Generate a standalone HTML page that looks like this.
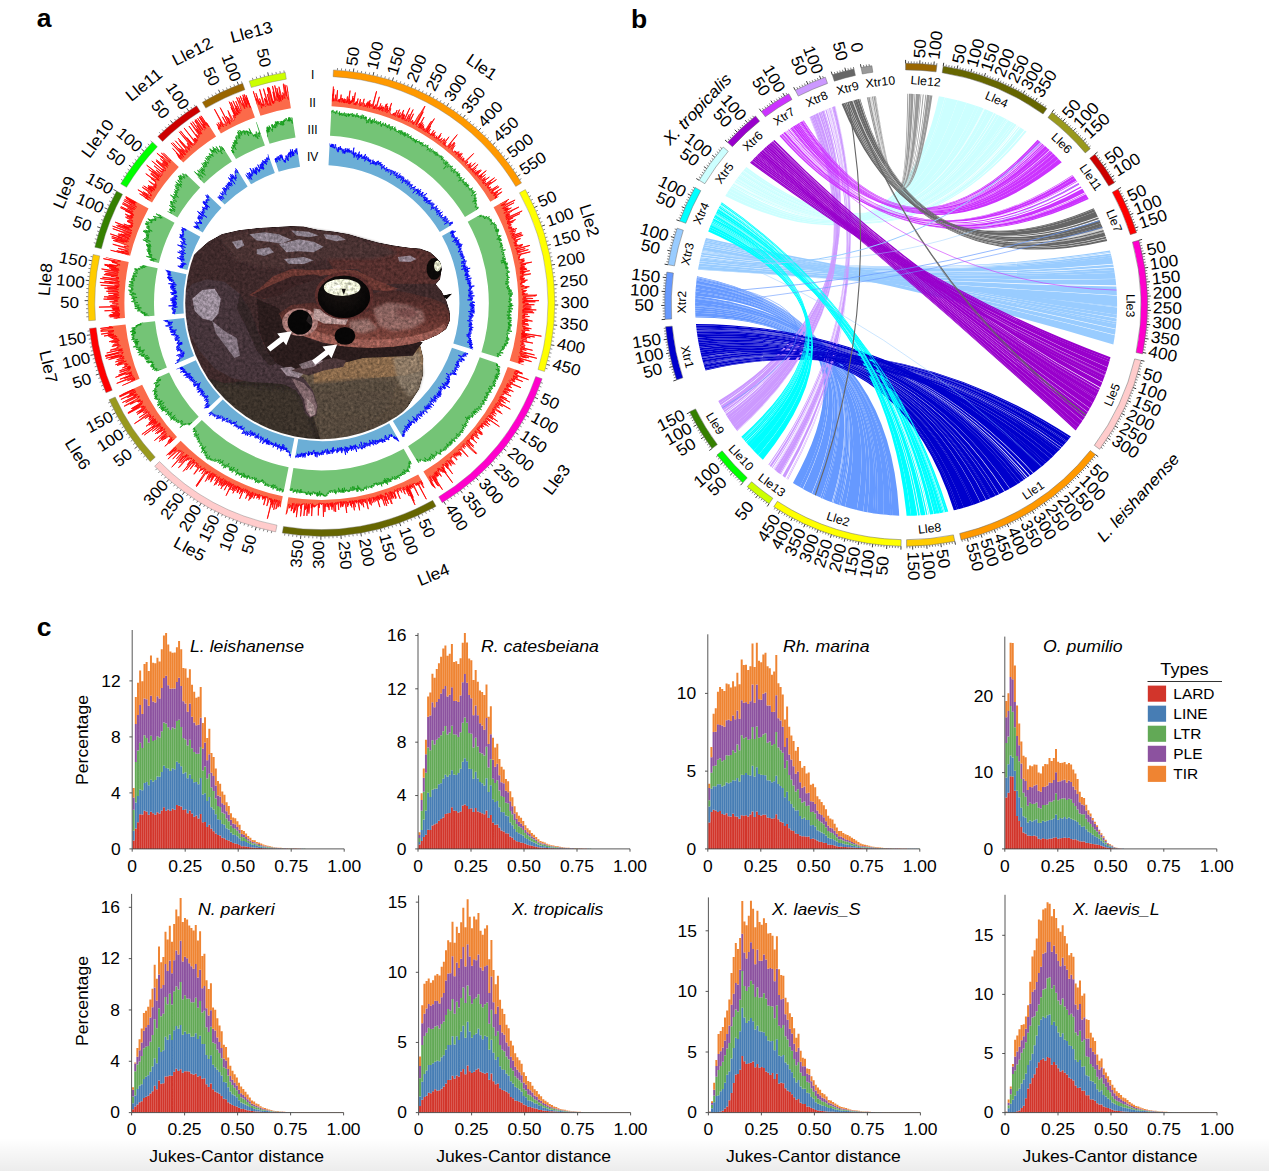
<!DOCTYPE html>
<html><head><meta charset="utf-8"><title>Figure</title>
<style>html,body{margin:0;padding:0;background:#fff}svg{display:block}text{font-family:"Liberation Sans",sans-serif}</style>
</head><body>
<svg width="1269" height="1171" viewBox="0 0 1269 1171">
<defs><linearGradient id="botg" x1="0" y1="0" x2="0" y2="1"><stop offset="0" stop-color="#000" stop-opacity="0"/><stop offset="1" stop-color="#000" stop-opacity="0.075"/></linearGradient></defs>
<rect width="1269" height="1171" fill="#fff"/>
<g font-family="Liberation Sans, sans-serif" fill="#000">
<g><path d="M734.51 182A211 211 0 0 1 735.29 180.93Q901.69 283.25 1014.56 123.81A211 211 0 0 1 1016.57 125.03Q901.74 283.24 734.51 182Z" fill="#CCFFFF"/><path d="M737.08 178.5A211 211 0 0 1 737.53 177.9Q901.33 283.32 1005.15 118.49A211 211 0 0 1 1006.84 119.4Q901.39 283.31 737.08 178.5Z" fill="#CCFFFF"/><path d="M735.37 180.82A211 211 0 0 1 735.83 180.19Q901.62 283.26 1012.52 122.61A211 211 0 0 1 1014.3 123.65Q901.68 283.25 735.37 180.82Z" fill="#CCFFFF"/><path d="M726.98 193.27A211 211 0 0 1 728.66 190.62Q898.02 284.34 957.63 100.19A211 211 0 0 1 966.6 102.66Q898.32 284.22 726.98 193.27Z" fill="#CCFFFF"/><path d="M742.29 171.81A211 211 0 0 1 743.03 170.9Q900.64 283.49 984.77 109.01A211 211 0 0 1 988.46 110.54Q900.79 283.45 742.29 171.81Z" fill="#CCFFFF"/><path d="M743.42 170.43A211 211 0 0 1 745.13 168.38Q900.5 283.53 978.99 106.79A211 211 0 0 1 983.57 108.54Q900.61 283.5 743.42 170.43Z" fill="#CCFFFF"/><path d="M738.87 176.13A211 211 0 0 1 739.78 174.96Q901.03 283.39 996.47 114.13A211 211 0 0 1 999.14 115.42Q901.1 283.38 738.87 176.13Z" fill="#CCFFFF"/><path d="M734.12 182.55A211 211 0 0 1 734.32 182.27Q901.76 283.23 1017.18 125.41A211 211 0 0 1 1017.84 125.81Q901.79 283.23 734.12 182.55Z" fill="#CCFFFF"/><path d="M735.85 180.15A211 211 0 0 1 736.77 178.91Q901.44 283.3 1008.16 120.13A211 211 0 0 1 1012.44 122.56Q901.62 283.26 735.85 180.15Z" fill="#CCFFFF"/><path d="M733.63 183.25A211 211 0 0 1 733.88 182.89Q901.82 283.22 1018.74 126.38A211 211 0 0 1 1019.88 127.11Q901.87 283.21 733.63 183.25Z" fill="#CCFFFF"/><path d="M730.31 188.09A211 211 0 0 1 730.73 187.47Q897.57 284.52 944.79 97.38A211 211 0 0 1 946.55 97.71Q897.62 284.5 730.31 188.09Z" fill="#CCFFFF"/><path d="M731.93 185.69A211 211 0 0 1 732.4 185.01Q902.07 283.17 1024.92 130.43A211 211 0 0 1 1026.56 131.57Q902.12 283.16 731.93 185.69Z" fill="#CCFFFF"/><path d="M728.68 190.6A211 211 0 0 1 730.35 188.04Q897.61 284.5 946.37 97.68A211 211 0 0 1 957.56 100.17Q898.02 284.34 728.68 190.6Z" fill="#CCFFFF"/><path d="M740.75 173.73A211 211 0 0 1 742.29 171.8Q900.79 283.45 988.47 110.54A211 211 0 0 1 993.67 112.83Q900.95 283.41 740.75 173.73Z" fill="#CCFFFF"/><path d="M702.34 250.02A211 211 0 0 1 703.19 246.94Q910.72 283.29 1114.87 335.37A211 211 0 0 1 1113.35 344.43Q911.03 283.36 702.34 250.02Z" fill="#99CCFF"/><path d="M730.73 187.47A211 211 0 0 1 731.75 185.96Q897.36 284.61 938.85 96.36A211 211 0 0 1 944.77 97.37Q897.56 284.52 730.73 187.47Z" fill="#CCFFFF"/><path d="M739.93 174.77A211 211 0 0 1 740.6 173.92Q900.96 283.41 994.1 113.03A211 211 0 0 1 996.05 113.93Q901.02 283.4 739.93 174.77Z" fill="#CCFFFF"/><path d="M743.18 170.72A211 211 0 0 1 743.32 170.55Q900.62 283.49 983.87 108.66A211 211 0 0 1 984.29 108.82Q900.63 283.49 743.18 170.72Z" fill="#CCFFFF"/><path d="M703.24 246.76A211 211 0 0 1 703.74 245.04Q910.51 283.25 1115.67 329.34A211 211 0 0 1 1114.96 334.79Q910.7 283.29 703.24 246.76Z" fill="#99CCFF"/><path d="M700.31 258.22A211 211 0 0 1 700.55 257.13Q906.66 282.81 1113.81 267.7A211 211 0 0 1 1114.23 270.12Q906.73 282.81 700.31 258.22Z" fill="#99CCFF"/><path d="M732.59 184.74A211 211 0 0 1 733.52 183.41Q901.89 283.21 1020.37 127.42A211 211 0 0 1 1024.26 129.99Q902.04 283.18 732.59 184.74Z" fill="#CCFFFF"/><path d="M737.54 177.89A211 211 0 0 1 738.86 176.14Q901.11 283.37 999.2 115.45A211 211 0 0 1 1005.09 118.46Q901.33 283.32 737.54 177.89Z" fill="#CCFFFF"/><path d="M698.12 269.22A211 211 0 0 1 698.68 266.1Q907.66 282.86 1116.91 295.79A211 211 0 0 1 1117.09 306.45Q908.05 282.89 698.12 269.22Z" fill="#99CCFF"/><path d="M736.81 178.86A211 211 0 0 1 737.04 178.54Q901.4 283.31 1007 119.49A211 211 0 0 1 1008 120.04Q901.44 283.3 736.81 178.86Z" fill="#CCFFFF"/><path d="M745.07 168.46A211 211 0 0 1 746.36 166.95Q900.42 283.55 975.79 105.64A211 211 0 0 1 979.17 106.86Q900.5 283.52 745.07 168.46Z" fill="#CCFFFF"/><path d="M698.04 269.7A211 211 0 0 1 698.11 269.28Q908.05 282.89 1117.09 306.52A211 211 0 0 1 1117.09 307.26Q908.06 282.89 698.04 269.7Z" fill="#99CCFF"/><path d="M700.02 259.51A211 211 0 0 1 700.33 258.13Q906.73 282.81 1114.2 269.94A211 211 0 0 1 1114.66 272.83Q906.81 282.81 700.02 259.51Z" fill="#99CCFF"/><path d="M702.14 250.74A211 211 0 0 1 702.36 249.93Q906.13 282.8 1109.98 250.46A211 211 0 0 1 1110.31 251.72Q906.15 282.8 702.14 250.74Z" fill="#99CCFF"/><path d="M695.46 292.51A211 211 0 0 1 695.53 291.32Q886.76 315.29 802.65 488.7A211 211 0 0 1 799.73 487.03Q886.71 315.19 695.46 292.51Z" fill="#6699FF"/><path d="M695.49 317.56A211 211 0 0 1 695.41 316.22Q888.8 318.39 845.01 506.76A211 211 0 0 1 840.58 505.37Q888.69 318.25 695.49 317.56Z" fill="#6699FF"/><path d="M695.21 298.08A211 211 0 0 1 695.29 295.73Q889.97 319.76 899.2 515.69A211 211 0 0 1 892.17 515.34Q889.8 319.58 695.21 298.08Z" fill="#6699FF"/><path d="M696.09 284.35A211 211 0 0 1 696.15 283.81Q887.13 315.94 822.22 498.41A211 211 0 0 1 820.49 497.65Q887.1 315.88 696.09 284.35Z" fill="#6699FF"/><path d="M698.71 265.92A211 211 0 0 1 699.17 263.53Q907.31 282.83 1116.31 286.59A211 211 0 0 1 1116.88 295.15Q907.63 282.85 698.71 265.92Z" fill="#99CCFF"/><path d="M725.3 196.03A211 211 0 0 1 726.97 193.29Q898.32 284.22 966.67 102.68A211 211 0 0 1 975.97 105.7Q898.64 284.1 725.3 196.03Z" fill="#CCFFFF"/><path d="M696.21 283.16A211 211 0 0 1 696.5 280.55Q887.32 316.26 831.74 502.26A211 211 0 0 1 823.51 498.96Q887.15 315.98 696.21 283.16Z" fill="#6699FF"/><path d="M704.17 243.59A211 211 0 0 1 704.42 242.78Q910.26 283.2 1116.39 322.08A211 211 0 0 1 1116.22 324.08Q910.32 283.21 704.17 243.59Z" fill="#99CCFF"/><path d="M699.67 261.11A211 211 0 0 1 700.03 259.44Q906.8 282.81 1114.64 272.65A211 211 0 0 1 1115.48 278.7Q907.03 282.82 699.67 261.11Z" fill="#99CCFF"/><path d="M699.25 263.17A211 211 0 0 1 699.65 261.24Q907.04 282.82 1115.53 279.11A211 211 0 0 1 1116.2 285.35Q907.27 282.83 699.25 263.17Z" fill="#99CCFF"/><path d="M696.52 280.37A211 211 0 0 1 696.56 280.06Q887.34 316.29 832.86 502.68A211 211 0 0 1 832.13 502.41Q887.32 316.27 696.52 280.37Z" fill="#6699FF"/><path d="M695.13 308.33A211 211 0 0 1 695.1 306.25Q889.41 319.14 872.89 513.17A211 211 0 0 1 867.39 512.22Q889.3 319 695.13 308.33Z" fill="#6699FF"/><path d="M695.84 287.14A211 211 0 0 1 696.09 284.36Q887.09 315.88 820.42 497.62A211 211 0 0 1 814.83 495.04Q887.01 315.73 695.84 287.14Z" fill="#6699FF"/><path d="M703.79 244.86A211 211 0 0 1 704.19 243.52Q910.31 283.21 1116.23 323.9A211 211 0 0 1 1115.74 328.76Q910.49 283.24 703.79 244.86Z" fill="#99CCFF"/><path d="M704.46 242.64A211 211 0 0 1 704.95 241.07Q910.16 283.18 1116.66 318.38A211 211 0 0 1 1116.41 321.8Q910.25 283.2 704.46 242.64Z" fill="#99CCFF"/><path d="M696.57 279.89A211 211 0 0 1 696.66 279.21Q887.37 316.34 834.68 503.35A211 211 0 0 1 833.26 502.83Q887.34 316.3 696.57 279.89Z" fill="#6699FF"/><path d="M705.36 239.8A211 211 0 0 1 705.99 237.89Q909.78 283.11 1117.08 307.57A211 211 0 0 1 1116.86 314.78Q910.04 283.16 705.36 239.8Z" fill="#99CCFF"/><path d="M702.05 251.07A211 211 0 0 1 702.12 250.82Q906.17 282.8 1110.41 252.08A211 211 0 0 1 1110.61 252.87Q906.2 282.8 702.05 251.07Z" fill="#99CCFF"/><path d="M700.65 256.71A211 211 0 0 1 701.06 255Q906.6 282.81 1113.2 264.4A211 211 0 0 1 1113.7 267.07Q906.65 282.81 700.65 256.71Z" fill="#99CCFF"/><path d="M695.29 295.8A211 211 0 0 1 695.46 292.44Q886.71 315.2 799.89 487.12A211 211 0 0 1 792.96 482.9Q886.6 314.98 695.29 295.8Z" fill="#6699FF"/><path d="M810.02 116.94A211 211 0 0 1 810.66 116.62Q884.92 298.86 726.73 415.92A211 211 0 0 1 725.63 414.12Q884.94 298.79 810.02 116.94Z" fill="#CC99FF"/><path d="M820.31 112.03A211 211 0 0 1 821.49 111.51Q885.3 297.65 720.5 405.17A211 211 0 0 1 719.64 403.56Q885.3 297.62 820.31 112.03Z" fill="#CC99FF"/><path d="M701.61 252.78A211 211 0 0 1 701.77 252.15Q906.28 282.8 1111.26 255.5A211 211 0 0 1 1111.71 257.43Q906.35 282.8 701.61 252.78Z" fill="#99CCFF"/><path d="M695.25 312.74A211 211 0 0 1 695.18 310.6Q889.23 318.92 863.17 511.39A211 211 0 0 1 856.84 509.97Q889.08 318.74 695.25 312.74Z" fill="#6699FF"/><path d="M695.1 304.93A211 211 0 0 1 695.11 302.34Q889.65 319.41 883.54 514.59A211 211 0 0 1 876.95 513.78Q889.51 319.25 695.1 304.93Z" fill="#6699FF"/><path d="M829.13 108.34A211 211 0 0 1 829.85 108.06Q884.39 301.26 771.25 467.09A211 211 0 0 1 769.69 465.78Q884.4 301.19 829.13 108.34Z" fill="#CC99FF"/><path d="M705 240.93A211 211 0 0 1 705.36 239.81Q910.05 283.16 1116.86 314.85A211 211 0 0 1 1116.68 318.1Q910.15 283.18 705 240.93Z" fill="#99CCFF"/><path d="M696.15 283.81A211 211 0 0 1 696.22 283.09Q887.15 315.98 823.68 499.04A211 211 0 0 1 822.29 498.44Q887.13 315.95 696.15 283.81Z" fill="#6699FF"/><path d="M813.02 115.44A211 211 0 0 1 814.91 114.52Q884.83 299.19 732.96 425.4A211 211 0 0 1 729.52 420.3Q884.88 298.99 813.02 115.44Z" fill="#CC99FF"/><path d="M696.81 278.03A211 211 0 0 1 696.92 277.14Q887.44 316.45 839.15 504.9A211 211 0 0 1 836.76 504.08Q887.39 316.38 696.81 278.03Z" fill="#6699FF"/><path d="M695.1 305.69A211 211 0 0 1 695.1 304.86Q889.51 319.25 877.13 513.8A211 211 0 0 1 874.82 513.47Q889.46 319.19 695.1 305.69Z" fill="#6699FF"/><path d="M832.79 106.94A211 211 0 0 1 834.61 106.28Q884.34 301.54 779.62 473.69A211 211 0 0 1 776 470.92Q884.36 301.41 832.79 106.94Z" fill="#CC99FF"/><path d="M695.11 306.31A211 211 0 0 1 695.1 305.63Q889.46 319.2 875 513.5A211 211 0 0 1 872.7 513.14Q889.41 319.13 695.11 306.31Z" fill="#6699FF"/><path d="M701.17 254.56A211 211 0 0 1 701.63 252.72Q906.34 282.8 1111.67 257.25A211 211 0 0 1 1113.07 263.77Q906.59 282.81 701.17 254.56Z" fill="#99CCFF"/><path d="M695.18 298.87A211 211 0 0 1 695.21 298.01Q889.81 319.58 892.35 515.35A211 211 0 0 1 890.11 515.19Q889.76 319.53 695.18 298.87Z" fill="#6699FF"/><path d="M695.18 310.56A211 211 0 0 1 695.13 308.37Q889.29 319 867.35 512.21A211 211 0 0 1 863.21 511.39Q889.23 318.92 695.18 310.56Z" fill="#6699FF"/><path d="M695.75 288.26A211 211 0 0 1 695.85 287.07Q887.01 315.73 814.99 495.12A211 211 0 0 1 812.02 493.67Q886.95 315.64 695.75 288.26Z" fill="#6699FF"/><path d="M701.79 252.09A211 211 0 0 1 702 251.3Q906.22 282.8 1110.77 253.52A211 211 0 0 1 1111.23 255.39Q906.28 282.8 701.79 252.09Z" fill="#99CCFF"/><path d="M827.57 108.96A211 211 0 0 1 827.92 108.82Q884.23 302.45 787.99 479.65A211 211 0 0 1 787.54 479.34Q884.23 302.44 827.57 108.96Z" fill="#CC99FF"/><path d="M696.65 279.3A211 211 0 0 1 696.82 277.95Q887.4 316.39 836.93 504.14A211 211 0 0 1 834.51 503.28Q887.36 316.33 696.65 279.3Z" fill="#6699FF"/><path d="M695.41 316.21A211 211 0 0 1 695.25 312.76Q889.08 318.74 856.78 509.96A211 211 0 0 1 845.06 506.78Q888.8 318.39 695.41 316.21Z" fill="#6699FF"/><path d="M701.27 355.45A211 211 0 0 1 701.11 354.81Q894.8 323.67 958.76 509.12A211 211 0 0 1 956.94 509.58Q894.74 323.64 701.27 355.45Z" fill="#0000CC"/><path d="M700.64 352.84A211 211 0 0 1 700.12 350.57Q895.24 323.94 972.48 505.09A211 211 0 0 1 963.72 507.78Q894.94 323.76 700.64 352.84Z" fill="#0000CC"/><path d="M814.85 114.55A211 211 0 0 1 815.67 114.16Q884.8 299.28 734.43 427.49A211 211 0 0 1 732.85 425.25Q884.83 299.19 814.85 114.55Z" fill="#CC99FF"/><path d="M703.75 364.6A211 211 0 0 1 703.6 364.08Q900.99 326.2 1059.98 449.16A211 211 0 0 1 1058.81 450.41Q900.93 326.18 703.75 364.6Z" fill="#0000CC"/><path d="M695.11 302.42A211 211 0 0 1 695.19 298.79Q889.76 319.53 890.29 515.21A211 211 0 0 1 883.36 514.57Q889.64 319.4 695.11 302.42Z" fill="#6699FF"/><path d="M809.49 117.22A211 211 0 0 1 809.74 117.09Q884.94 298.76 725.2 413.41A211 211 0 0 1 724.84 412.8Q884.95 298.74 809.49 117.22Z" fill="#CC99FF"/><path d="M831.38 107.47A211 211 0 0 1 831.51 107.42Q884.38 301.31 773.45 468.89A211 211 0 0 1 773.28 468.75Q884.38 301.31 831.38 107.47Z" fill="#CC99FF"/><path d="M823.71 110.55A211 211 0 0 1 824.34 110.28Q885.21 297.9 724.55 412.32A211 211 0 0 1 723.65 410.79Q885.23 297.84 823.71 110.55Z" fill="#CC99FF"/><path d="M700.05 350.22A211 211 0 0 1 699.61 348.18Q895.51 324.08 980.19 502.36A211 211 0 0 1 973.7 504.68Q895.29 323.96 700.05 350.22Z" fill="#0000CC"/><path d="M698.95 344.93A211 211 0 0 1 698.84 344.35Q895.85 324.27 990.84 498.04A211 211 0 0 1 989.76 498.51Q895.83 324.25 698.95 344.93Z" fill="#0000CC"/><path d="M695.54 291.22A211 211 0 0 1 695.74 288.36Q886.95 315.62 811.68 493.5A211 211 0 0 1 802.98 488.88Q886.77 315.31 695.54 291.22Z" fill="#6699FF"/><path d="M696.93 277.1A211 211 0 0 1 697.03 276.31Q887.46 316.48 840.54 505.36A211 211 0 0 1 839.19 504.91Q887.44 316.45 696.93 277.1Z" fill="#6699FF"/><path d="M831.8 107.32A211 211 0 0 1 831.97 107.25Q884.37 301.34 774.32 469.59A211 211 0 0 1 773.95 469.29Q884.38 301.33 831.8 107.32Z" fill="#CC99FF"/><path d="M818.12 113.02A211 211 0 0 1 818.26 112.95Q884.78 299.36 737.12 431.16A211 211 0 0 1 736.86 430.81Q884.79 299.35 818.12 113.02Z" fill="#CC99FF"/><path d="M701.13 354.88A211 211 0 0 1 700.63 352.78Q894.94 323.76 963.9 507.73A211 211 0 0 1 958.58 509.17Q894.79 323.67 701.13 354.88Z" fill="#0000CC"/><path d="M703.32 363.1A211 211 0 0 1 703.04 362.13Q901.15 326.24 1063.53 445.29A211 211 0 0 1 1061.81 447.19Q901.08 326.22 703.32 363.1Z" fill="#0000CC"/><path d="M698.52 342.66A211 211 0 0 1 698.24 341.07Q896.12 324.41 999.08 494.21A211 211 0 0 1 995.8 495.78Q896.03 324.36 698.52 342.66Z" fill="#0000CC"/><path d="M696.11 325.43A211 211 0 0 1 695.97 323.93Q897.9 325.22 1044.68 463.91A211 211 0 0 1 1040.84 467.18Q897.73 325.15 696.11 325.43Z" fill="#0000CC"/><path d="M821.72 111.41A211 211 0 0 1 823.57 110.61Q885.23 297.83 723.45 410.44A211 211 0 0 1 720.79 405.7Q885.29 297.66 821.72 111.41Z" fill="#CC99FF"/><path d="M696.61 329.99A211 211 0 0 1 696.49 328.96Q897.23 324.93 1029.66 475.84A211 211 0 0 1 1027.71 477.23Q897.16 324.9 696.61 329.99Z" fill="#0000CC"/><path d="M811.77 116.06A211 211 0 0 1 813.11 115.4Q884.88 298.99 729.62 420.46A211 211 0 0 1 728.42 418.61Q884.89 298.96 811.77 116.06Z" fill="#CC99FF"/><path d="M696.69 330.64A211 211 0 0 1 696.64 330.26Q897.13 324.89 1027.01 477.72A211 211 0 0 1 1025.95 478.46Q897.09 324.87 696.69 330.64Z" fill="#0000CC"/><path d="M818.46 112.86A211 211 0 0 1 820.18 112.08Q885.31 297.62 719.55 403.38A211 211 0 0 1 718.31 401.01Q885.32 297.58 818.46 112.86Z" fill="#CC99FF"/><path d="M834.63 106.27A211 211 0 0 1 834.97 106.15Q884.34 301.58 780.51 474.35A211 211 0 0 1 779.68 473.74Q884.34 301.55 834.63 106.27Z" fill="#CC99FF"/><path d="M705.57 370.45A211 211 0 0 1 705.33 369.71Q900.33 326.03 1046.4 462.39A211 211 0 0 1 1044.54 464.04Q900.25 326.01 705.57 370.45Z" fill="#0000CC"/><path d="M832.1 107.2A211 211 0 0 1 832.87 106.92Q884.36 301.41 776.15 471.03A211 211 0 0 1 774.59 469.8Q884.37 301.35 832.1 107.2Z" fill="#CC99FF"/><path d="M719.56 206.2A211 211 0 0 1 719.91 205.53Q887.83 317.06 927.44 514.72A211 211 0 0 1 926.12 514.85Q887.82 317.04 719.56 206.2Z" fill="#00FFFF"/><path d="M703.04 362.13A211 211 0 0 1 702.52 360.27Q901.26 326.26 1066.18 442.26A211 211 0 0 1 1063.54 445.28Q901.16 326.24 703.04 362.13Z" fill="#0000CC"/><path d="M825.33 109.87A211 211 0 0 1 826.41 109.43Q884.24 302.35 785.16 477.7A211 211 0 0 1 782.53 475.83Q884.25 302.24 825.33 109.87Z" fill="#CC99FF"/><path d="M713.84 217.87A211 211 0 0 1 714.32 216.82Q888.58 318.11 939.47 513.15A211 211 0 0 1 936.34 513.62Q888.52 318.03 713.84 217.87Z" fill="#00FFFF"/><path d="M715.77 213.73A211 211 0 0 1 716.05 213.14Q888.69 318.25 946.74 511.85A211 211 0 0 1 944.99 512.19Q888.65 318.2 715.77 213.73Z" fill="#00FFFF"/><path d="M700.13 350.61A211 211 0 0 1 700.03 350.16Q895.29 323.96 973.88 504.62A211 211 0 0 1 972.31 505.14Q895.24 323.93 700.13 350.61Z" fill="#0000CC"/><path d="M701.88 357.86A211 211 0 0 1 701.69 357.11Q901.47 326.31 1070.9 436.57A211 211 0 0 1 1069.73 438.02Q901.42 326.3 701.88 357.86Z" fill="#0000CC"/><path d="M705.35 369.77A211 211 0 0 1 704.82 368.09Q900.52 326.08 1050.42 458.72A211 211 0 0 1 1046.27 462.52Q900.32 326.03 705.35 369.77Z" fill="#0000CC"/><path d="M697.28 335.05A211 211 0 0 1 697.07 333.54Q896.91 324.79 1020.45 482.13A211 211 0 0 1 1017.51 483.99Q896.82 324.75 697.28 335.05Z" fill="#0000CC"/><path d="M704.82 368.09A211 211 0 0 1 704.52 367.13Q900.67 326.12 1053.35 455.93A211 211 0 0 1 1050.44 458.71Q900.52 326.08 704.82 368.09Z" fill="#0000CC"/><path d="M714.34 216.77A211 211 0 0 1 715.15 215.03Q888.61 318.15 942.36 512.66A211 211 0 0 1 939.52 513.14Q888.58 318.11 714.34 216.77Z" fill="#00FFFF"/><path d="M830.29 107.89A211 211 0 0 1 830.79 107.7Q884.38 301.29 772.49 468.11A211 211 0 0 1 771.81 467.55Q884.39 301.27 830.29 107.89Z" fill="#CC99FF"/><path d="M815.59 114.2A211 211 0 0 1 818.04 113.05Q884.79 299.34 736.68 430.56A211 211 0 0 1 734.33 427.34Q884.81 299.27 815.59 114.2Z" fill="#CC99FF"/><path d="M826.98 109.19A211 211 0 0 1 827.17 109.12Q884.23 302.42 786.94 478.93A211 211 0 0 1 786.54 478.66Q884.23 302.41 826.98 109.19Z" fill="#CC99FF"/><path d="M810.67 116.61A211 211 0 0 1 811.86 116.02Q884.89 298.96 728.52 418.76A211 211 0 0 1 726.78 415.99Q884.92 298.86 810.67 116.61Z" fill="#CC99FF"/><path d="M835.19 106.07A211 211 0 0 1 835.37 106.01Q884.33 301.6 781.13 474.81A211 211 0 0 1 780.88 474.63Q884.34 301.59 835.19 106.07Z" fill="#CC99FF"/><path d="M697.96 339.43A211 211 0 0 1 697.64 337.42Q896.51 324.6 1009.67 488.63A211 211 0 0 1 1004.78 491.3Q896.34 324.52 697.96 339.43Z" fill="#0000CC"/><path d="M711.07 224.28A211 211 0 0 1 711.28 223.76Q884.34 308.01 743.01 438.68A211 211 0 0 1 742.37 437.9Q884.33 307.99 711.07 224.28Z" fill="#00FFFF"/><path d="M715.54 214.2A211 211 0 0 1 715.67 213.94Q888.64 318.19 944.52 512.27A211 211 0 0 1 943.92 512.38Q888.63 318.18 715.54 214.2Z" fill="#00FFFF"/><path d="M696.46 328.72A211 211 0 0 1 696.36 327.85Q897.38 325 1033.09 473.31A211 211 0 0 1 1030.33 475.35Q897.25 324.94 696.46 328.72Z" fill="#0000CC"/><path d="M828.54 108.57A211 211 0 0 1 828.86 108.45Q884.4 301.16 769.08 465.26A211 211 0 0 1 768.35 464.63Q884.41 301.13 828.54 108.57Z" fill="#CC99FF"/><path d="M720.22 204.95A211 211 0 0 1 720.34 204.73Q887.85 317.09 929.08 514.55A211 211 0 0 1 928.62 514.59Q887.85 317.08 720.22 204.95Z" fill="#00FFFF"/><path d="M703.99 365.4A211 211 0 0 1 703.74 364.54Q900.94 326.19 1058.94 450.27A211 211 0 0 1 1056.78 452.5Q900.83 326.16 703.99 365.4Z" fill="#0000CC"/><path d="M701.68 357.1A211 211 0 0 1 701.25 355.37Q894.75 323.64 957.12 509.54A211 211 0 0 1 953.83 510.33Q894.67 323.6 701.68 357.1Z" fill="#0000CC"/><path d="M757.56 154.94A211 211 0 0 1 757.93 154.58Q920.47 288.14 1076.47 429.28A211 211 0 0 1 1075.66 430.38Q920.5 288.17 757.56 154.94Z" fill="#9900CC"/><path d="M716.37 212.49A211 211 0 0 1 717.24 210.71Q887.53 316.6 911.07 515.74A211 211 0 0 1 906.58 515.8Q887.46 316.49 716.37 212.49Z" fill="#00FFFF"/><path d="M698.85 344.43A211 211 0 0 1 698.53 342.71Q896.02 324.36 995.71 495.83A211 211 0 0 1 990.67 498.11Q895.85 324.27 698.85 344.43Z" fill="#0000CC"/><path d="M704.52 367.13A211 211 0 0 1 703.97 365.34Q900.83 326.16 1056.91 452.37A211 211 0 0 1 1053.37 455.91Q900.67 326.12 704.52 367.13Z" fill="#0000CC"/><path d="M709.16 229.05A211 211 0 0 1 709.97 226.99Q884.57 309.34 758.09 455.18A211 211 0 0 1 753.42 450.44Q884.53 309.11 709.16 229.05Z" fill="#00FFFF"/><path d="M699.26 346.48A211 211 0 0 1 698.94 344.85Q895.83 324.26 989.93 498.43A211 211 0 0 1 986.31 499.96Q895.73 324.2 699.26 346.48Z" fill="#0000CC"/><path d="M699.59 348.09A211 211 0 0 1 699.27 346.56Q895.71 324.19 985.97 500.1A211 211 0 0 1 980.53 502.24Q895.52 324.09 699.59 348.09Z" fill="#0000CC"/><path d="M720.54 204.36A211 211 0 0 1 721.14 203.25Q887.94 317.22 933.59 514A211 211 0 0 1 930.03 514.44Q887.87 317.12 720.54 204.36Z" fill="#00FFFF"/><path d="M758.61 153.91A211 211 0 0 1 759.66 152.89Q920.34 288.03 1079.71 424.72A211 211 0 0 1 1077.5 427.86Q920.44 288.11 758.61 153.91Z" fill="#9900CC"/><path d="M711.32 223.68A211 211 0 0 1 711.48 223.3Q884.34 308.02 743.46 439.22A211 211 0 0 1 743.08 438.76Q884.34 308.01 711.32 223.68Z" fill="#00FFFF"/><path d="M702.5 360.2A211 211 0 0 1 702.31 359.5Q901.29 326.27 1067.05 441.24A211 211 0 0 1 1066.25 442.18Q901.26 326.26 702.5 360.2Z" fill="#0000CC"/><path d="M773.12 140.98A211 211 0 0 1 774.41 139.94Q919.18 287.11 1102.31 382.41A211 211 0 0 1 1100.27 387.37Q919.33 287.23 773.12 140.98Z" fill="#9900CC"/><path d="M697.62 337.29A211 211 0 0 1 697.27 334.98Q896.83 324.75 1017.66 483.89A211 211 0 0 1 1009.94 488.48Q896.51 324.6 697.62 337.29Z" fill="#0000CC"/><path d="M757.87 154.64A211 211 0 0 1 758.67 153.86Q920.43 288.11 1077.61 427.71A211 211 0 0 1 1076.36 429.42Q920.47 288.14 757.87 154.64Z" fill="#9900CC"/><path d="M712.36 221.21A211 211 0 0 1 712.78 220.24Q884.35 308.13 746.99 443.38A211 211 0 0 1 745.98 442.22Q884.35 308.11 712.36 221.21Z" fill="#00FFFF"/><path d="M703.57 363.98A211 211 0 0 1 703.36 363.28Q901.06 326.22 1061.49 447.54A211 211 0 0 1 1060.17 448.97Q901 326.2 703.57 363.98Z" fill="#0000CC"/><path d="M696.78 331.41A211 211 0 0 1 696.71 330.81Q897.07 324.86 1025.49 478.78A211 211 0 0 1 1023.88 479.87Q897.01 324.83 696.78 331.41Z" fill="#0000CC"/><path d="M763.38 149.39A211 211 0 0 1 764.51 148.36Q920.01 287.76 1087.72 412.2A211 211 0 0 1 1086.12 414.86Q920.08 287.81 763.38 149.39Z" fill="#9900CC"/><path d="M698.22 340.95A211 211 0 0 1 697.99 339.62Q896.32 324.51 1004.28 491.57A211 211 0 0 1 999.39 494.06Q896.13 324.41 698.22 340.95Z" fill="#0000CC"/><path d="M711.52 223.2A211 211 0 0 1 711.73 222.69Q884.35 308.08 744.6 440.59A211 211 0 0 1 743.53 439.3Q884.34 308.02 711.52 223.2Z" fill="#00FFFF"/><path d="M721.22 203.12A211 211 0 0 1 721.7 202.25Q887.99 317.29 936.52 513.6A211 211 0 0 1 934.02 513.94Q887.95 317.23 721.22 203.12Z" fill="#00FFFF"/><path d="M750.85 161.91A211 211 0 0 1 751.99 160.68Q917.55 286.02 1104.8 375.77A211 211 0 0 1 1103.7 378.8Q917.62 286.06 750.85 161.91Z" fill="#9900CC"/><path d="M697.06 333.49A211 211 0 0 1 696.79 331.47Q897.01 324.83 1023.8 479.92A211 211 0 0 1 1020.53 482.08Q896.92 324.79 697.06 333.49Z" fill="#0000CC"/><path d="M696.35 327.72A211 211 0 0 1 696.11 325.38Q897.74 325.15 1040.98 467.06A211 211 0 0 1 1033.51 472.99Q897.39 325 696.35 327.72Z" fill="#0000CC"/><path d="M753.64 158.94A211 211 0 0 1 754.73 157.81Q917.34 285.89 1107.6 367.41A211 211 0 0 1 1106.11 372.01Q917.48 285.97 753.64 158.94Z" fill="#9900CC"/><path d="M711.77 222.61A211 211 0 0 1 712.26 221.46Q884.35 308.1 745.73 441.93A211 211 0 0 1 744.65 440.65Q884.35 308.08 711.77 222.61Z" fill="#00FFFF"/><path d="M702.29 359.43A211 211 0 0 1 701.89 357.89Q901.41 326.3 1069.68 438.07A211 211 0 0 1 1067.13 441.15Q901.29 326.27 702.29 359.43Z" fill="#0000CC"/><path d="M759.61 152.94A211 211 0 0 1 761.27 151.36Q920.24 287.94 1082.44 420.66A211 211 0 0 1 1079.61 424.87Q920.35 288.04 759.61 152.94Z" fill="#9900CC"/><path d="M709.98 226.96A211 211 0 0 1 710.86 224.78Q884.62 309.56 762.89 459.76A211 211 0 0 1 758.13 455.22Q884.57 309.34 709.98 226.96Z" fill="#00FFFF"/><path d="M768.78 144.6A211 211 0 0 1 769.46 144.02Q919.58 287.42 1095.82 397.15A211 211 0 0 1 1095.11 398.59Q919.61 287.44 768.78 144.6Z" fill="#9900CC"/><path d="M754.75 157.79A211 211 0 0 1 756.07 156.44Q917.15 285.78 1109.3 361.63A211 211 0 0 1 1107.63 367.32Q917.33 285.88 754.75 157.79Z" fill="#9900CC"/><path d="M718.23 208.75A211 211 0 0 1 718.55 208.13Q887.7 316.86 919.89 515.35A211 211 0 0 1 918.09 515.46Q887.67 316.81 718.23 208.75Z" fill="#00FFFF"/><path d="M717.25 210.69A211 211 0 0 1 718.09 209.02Q887.65 316.79 917.31 515.5A211 211 0 0 1 911.09 515.74Q887.53 316.6 717.25 210.69Z" fill="#00FFFF"/><path d="M796.16 124.7A211 211 0 0 1 797.49 123.9Q908.63 282.95 1053.1 153.44A211 211 0 0 1 1055.73 156.03Q908.74 282.96 796.16 124.7Z" fill="#CC33FF"/><path d="M772.26 141.68A211 211 0 0 1 772.91 141.15Q919.36 287.24 1099.97 388.09A211 211 0 0 1 1099.12 390.03Q919.41 287.28 772.26 141.68Z" fill="#9900CC"/><path d="M708.21 231.6A211 211 0 0 1 709.19 228.99Q884.53 309.12 753.55 450.57A211 211 0 0 1 748.95 445.6Q884.49 308.91 708.21 231.6Z" fill="#00FFFF"/><path d="M769.39 144.08A211 211 0 0 1 770.98 142.74Q919.49 287.34 1097.64 393.3A211 211 0 0 1 1095.74 397.31Q919.59 287.42 769.39 144.08Z" fill="#9900CC"/><path d="M710.87 224.75A211 211 0 0 1 711.1 224.21Q884.33 308 742.49 438.04A211 211 0 0 1 741.37 436.65Q884.32 307.93 710.87 224.75Z" fill="#00FFFF"/><path d="M715.16 215A211 211 0 0 1 715.45 214.39Q888.63 318.17 943.46 512.47A211 211 0 0 1 942.41 512.65Q888.61 318.15 715.16 215Z" fill="#00FFFF"/><path d="M712.82 220.16A211 211 0 0 1 713.61 218.37Q884.36 308.19 749.07 445.74A211 211 0 0 1 747.07 443.47Q884.35 308.14 712.82 220.16Z" fill="#00FFFF"/><path d="M756.02 156.49A211 211 0 0 1 756.78 155.72Q917.09 285.74 1109.91 359.43A211 211 0 0 1 1109.25 361.81Q917.16 285.78 756.02 156.49Z" fill="#9900CC"/><path d="M756.72 155.78A211 211 0 0 1 757.62 154.88Q917.04 285.71 1110.49 357.18A211 211 0 0 1 1109.86 359.61Q917.1 285.75 756.72 155.78Z" fill="#9900CC"/><path d="M716.02 213.2A211 211 0 0 1 716.36 212.49Q888.71 318.28 948.26 511.55A211 211 0 0 1 946.56 511.88Q888.68 318.24 716.02 213.2Z" fill="#00FFFF"/><path d="M752.32 160.33A211 211 0 0 1 753.63 158.94Q917.49 285.98 1106.08 372.1A211 211 0 0 1 1105.1 374.94Q917.53 286 752.32 160.33Z" fill="#9900CC"/><path d="M718.69 207.86A211 211 0 0 1 719.37 206.55Q887.81 317.02 925.45 514.91A211 211 0 0 1 920.67 515.3Q887.71 316.88 718.69 207.86Z" fill="#00FFFF"/><path d="M782.9 133.5A211 211 0 0 1 783.19 133.29Q910.38 283.22 1085.15 193.16A211 211 0 0 1 1085.54 193.79Q910.4 283.22 782.9 133.5Z" fill="#CC33FF"/><path d="M791.79 127.45A211 211 0 0 1 792.59 126.93Q907.25 282.83 1037.58 139.78A211 211 0 0 1 1038.73 140.69Q907.28 282.83 791.79 127.45Z" fill="#CC33FF"/><path d="M752.03 160.63A211 211 0 0 1 752.28 160.37Q917.54 286.01 1105.06 375.04A211 211 0 0 1 1104.84 375.67Q917.55 286.01 752.03 160.63Z" fill="#9900CC"/><path d="M786.33 131.09A211 211 0 0 1 786.92 130.68Q909.99 283.15 1078.45 183.07A211 211 0 0 1 1079.36 184.38Q910.04 283.16 786.33 131.09Z" fill="#CC33FF"/><path d="M767.67 145.55A211 211 0 0 1 768.84 144.55Q919.61 287.44 1095.19 398.43A211 211 0 0 1 1092.75 403.21Q919.77 287.56 767.67 145.55Z" fill="#9900CC"/><path d="M766.04 146.99A211 211 0 0 1 767.66 145.56Q919.77 287.56 1092.74 403.22A211 211 0 0 1 1089.97 408.31Q919.91 287.68 766.04 146.99Z" fill="#9900CC"/><path d="M789.8 128.74A211 211 0 0 1 790.19 128.49Q907.34 282.83 1041.11 142.65A211 211 0 0 1 1041.79 143.22Q907.36 282.84 789.8 128.74Z" fill="#CC33FF"/><path d="M770.91 142.8A211 211 0 0 1 771.27 142.49Q919.47 287.33 1097.97 392.58A211 211 0 0 1 1097.56 393.47Q919.49 287.35 770.91 142.8Z" fill="#9900CC"/><path d="M750.04 162.79A211 211 0 0 1 750.9 161.85Q917.62 286.05 1103.76 378.62A211 211 0 0 1 1102.48 381.97Q917.72 286.12 750.04 162.79Z" fill="#9900CC"/><path d="M761.3 151.33A211 211 0 0 1 762.67 150.04Q920.15 287.87 1084.7 417.15A211 211 0 0 1 1082.49 420.59Q920.23 287.94 761.3 151.33Z" fill="#9900CC"/><path d="M762.71 150.01A211 211 0 0 1 763.35 149.42Q920.08 287.81 1086.1 414.9A211 211 0 0 1 1084.75 417.08Q920.14 287.87 762.71 150.01Z" fill="#9900CC"/><path d="M803.09 120.65A211 211 0 0 1 803.61 120.36Q908.24 282.9 1042.35 143.69A211 211 0 0 1 1043.46 144.63Q908.28 282.91 803.09 120.65Z" fill="#CC33FF"/><path d="M797.52 123.88A211 211 0 0 1 798.72 123.17Q908.56 282.94 1051.17 151.58A211 211 0 0 1 1053.04 153.37Q908.62 282.95 797.52 123.88Z" fill="#CC33FF"/><path d="M800.55 122.1A211 211 0 0 1 802.16 121.18Q908.34 282.91 1045.04 146A211 211 0 0 1 1047.84 148.5Q908.44 282.92 800.55 122.1Z" fill="#CC33FF"/><path d="M771.21 142.55A211 211 0 0 1 772.23 141.71Q919.41 287.29 1099.07 390.15A211 211 0 0 1 1097.9 392.75Q919.48 287.33 771.21 142.55Z" fill="#9900CC"/><path d="M798.84 123.1A211 211 0 0 1 799.45 122.74Q908.52 282.93 1050 150.48A211 211 0 0 1 1050.98 151.4Q908.55 282.94 798.84 123.1Z" fill="#CC33FF"/><path d="M764.62 148.26A211 211 0 0 1 765.95 147.07Q919.92 287.68 1089.83 408.56A211 211 0 0 1 1087.88 411.93Q920.01 287.75 764.62 148.26Z" fill="#9900CC"/><path d="M781.23 134.72A211 211 0 0 1 781.66 134.4Q910.55 283.25 1087.85 197.62A211 211 0 0 1 1088.69 199.06Q910.61 283.27 781.23 134.72Z" fill="#CC33FF"/><path d="M794.62 125.65A211 211 0 0 1 796.13 124.72Q908.74 282.96 1055.79 156.09A211 211 0 0 1 1058.52 158.9Q908.85 282.97 794.62 125.65Z" fill="#CC33FF"/><path d="M790.51 128.28A211 211 0 0 1 791.75 127.47Q907.28 282.83 1038.79 140.74A211 211 0 0 1 1040.56 142.19Q907.32 282.83 790.51 128.28Z" fill="#CC33FF"/><path d="M853.29 100.51A211 211 0 0 1 854.81 100.13Q916.08 285.19 1101.78 225.86A211 211 0 0 1 1102.65 228.06Q916.12 285.21 853.29 100.51Z" fill="#666666"/><path d="M845.7 102.63A211 211 0 0 1 846.78 102.31Q916.34 285.33 1106.54 238.9A211 211 0 0 1 1107.19 240.89Q916.38 285.35 845.7 102.63Z" fill="#666666"/><path d="M799.67 122.61A211 211 0 0 1 800.53 122.11Q908.44 282.92 1047.89 148.55A211 211 0 0 1 1049.61 150.12Q908.51 282.93 799.67 122.61Z" fill="#CC33FF"/><path d="M788.15 129.84A211 211 0 0 1 788.94 129.32Q909.79 283.11 1074.71 177.95A211 211 0 0 1 1076.58 180.47Q909.9 283.13 788.15 129.84Z" fill="#CC33FF"/><path d="M780.85 134.99A211 211 0 0 1 781.06 134.84Q909.11 283.01 1072.49 175.05A211 211 0 0 1 1072.86 175.53Q909.12 283.01 780.85 134.99Z" fill="#CC33FF"/><path d="M792.77 126.82A211 211 0 0 1 794.57 125.68Q908.85 282.97 1058.61 158.99A211 211 0 0 1 1061.77 162.36Q908.98 282.99 792.77 126.82Z" fill="#CC33FF"/><path d="M845.25 102.76A211 211 0 0 1 845.68 102.63Q914.72 284.56 1093.72 208.27A211 211 0 0 1 1094.18 209.16Q914.75 284.57 845.25 102.76Z" fill="#666666"/><path d="M841.6 103.9A211 211 0 0 1 843.82 103.2Q914.8 284.59 1095.35 211.5A211 211 0 0 1 1097.84 216.72Q914.97 284.67 841.6 103.9Z" fill="#666666"/><path d="M787.61 130.21A211 211 0 0 1 787.88 130.03Q909.92 283.13 1077 181.06A211 211 0 0 1 1077.39 181.59Q909.94 283.14 787.61 130.21Z" fill="#CC33FF"/><path d="M781.62 134.43A211 211 0 0 1 782.65 133.68Q910.41 283.23 1085.85 194.3A211 211 0 0 1 1087.95 197.78Q910.56 283.26 781.62 134.43Z" fill="#CC33FF"/><path d="M779.61 135.92A211 211 0 0 1 780.7 135.1Q909.14 283.01 1073.15 175.9A211 211 0 0 1 1074.7 177.93Q909.2 283.02 779.61 135.92Z" fill="#CC33FF"/><path d="M852.94 100.61A211 211 0 0 1 853.16 100.55Q916.12 285.22 1102.74 228.28A211 211 0 0 1 1102.86 228.61Q916.13 285.22 852.94 100.61Z" fill="#666666"/><path d="M850.92 101.14A211 211 0 0 1 852.24 100.79Q916.16 285.23 1103.35 229.88A211 211 0 0 1 1104 231.62Q916.18 285.25 850.92 101.14Z" fill="#666666"/><path d="M785.3 131.8A211 211 0 0 1 785.61 131.59Q910.12 283.17 1080.77 186.43A211 211 0 0 1 1081.54 187.57Q910.17 283.18 785.3 131.8Z" fill="#CC33FF"/><path d="M847.16 102.2A211 211 0 0 1 848.44 101.83Q916.32 285.32 1105.87 236.87A211 211 0 0 1 1106.38 238.4Q916.33 285.32 847.16 102.2Z" fill="#666666"/><path d="M802.34 121.07A211 211 0 0 1 802.9 120.76Q908.29 282.91 1043.77 144.9A211 211 0 0 1 1044.73 145.73Q908.33 282.91 802.34 121.07Z" fill="#CC33FF"/><path d="M850.33 101.3A211 211 0 0 1 850.89 101.15Q916.18 285.25 1104.02 231.67A211 211 0 0 1 1104.28 232.37Q916.19 285.25 850.33 101.3Z" fill="#666666"/><path d="M875.6 96.02A211 211 0 0 1 875.91 95.97Q904.59 282.85 907.32 93.8A211 211 0 0 1 908.24 93.81Q904.62 282.85 875.6 96.02Z" fill="#999999"/><path d="M783.51 133.07A211 211 0 0 1 784.97 132.03Q910.22 283.19 1082.32 188.75A211 211 0 0 1 1084.71 192.46Q910.36 283.22 783.51 133.07Z" fill="#CC33FF"/><path d="M866.84 97.48A211 211 0 0 1 868.14 97.24Q905.35 282.81 929.87 95.14A211 211 0 0 1 932.42 95.45Q905.42 282.81 866.84 97.48Z" fill="#999999"/><path d="M873.49 96.34A211 211 0 0 1 874.71 96.15Q904.71 282.84 910.96 93.86A211 211 0 0 1 913.65 93.94Q904.79 282.84 873.49 96.34Z" fill="#999999"/><path d="M848.84 101.72A211 211 0 0 1 850.32 101.31Q916.19 285.25 1104.32 232.48A211 211 0 0 1 1105.67 236.29Q916.31 285.31 848.84 101.72Z" fill="#666666"/><path d="M873 96.41A211 211 0 0 1 873.21 96.38Q904.82 282.84 914.54 93.97A211 211 0 0 1 915.33 94Q904.85 282.84 873 96.41Z" fill="#999999"/><path d="M854.68 100.16A211 211 0 0 1 857.05 99.58Q916.06 285.18 1100.69 223.22A211 211 0 0 1 1101.85 226.03Q916.08 285.2 854.68 100.16Z" fill="#666666"/><path d="M870.51 96.82A211 211 0 0 1 870.84 96.77Q905.13 282.82 922.83 94.46A211 211 0 0 1 923.74 94.54Q905.16 282.82 870.51 96.82Z" fill="#999999"/><path d="M874.76 96.14A211 211 0 0 1 875.35 96.05Q904.64 282.85 909 93.82A211 211 0 0 1 910.89 93.85Q904.71 282.84 874.76 96.14Z" fill="#999999"/><path d="M843.85 103.19A211 211 0 0 1 845.22 102.77Q914.75 284.57 1094.2 209.2A211 211 0 0 1 1095.33 211.46Q914.8 284.59 843.85 103.19Z" fill="#666666"/><path d="M859.53 99A211 211 0 0 1 860.15 98.86Q915.92 285.11 1098.22 217.55A211 211 0 0 1 1098.88 219.04Q915.96 285.13 859.53 99Z" fill="#666666"/><path d="M868.15 97.24A211 211 0 0 1 869.64 96.97Q905.28 282.82 926.95 94.83A211 211 0 0 1 929.83 95.14Q905.35 282.81 868.15 97.24Z" fill="#999999"/><path d="M857.04 99.58A211 211 0 0 1 859.08 99.11Q915.99 285.15 1099.34 220.06A211 211 0 0 1 1100.68 223.2Q916.05 285.18 857.04 99.58Z" fill="#666666"/><path d="M852.47 100.73A211 211 0 0 1 852.62 100.69Q916.14 285.23 1103.09 229.18A211 211 0 0 1 1103.2 229.47Q916.15 285.23 852.47 100.73Z" fill="#666666"/><path d="M869.79 96.95A211 211 0 0 1 870 96.91Q905.22 282.82 925.39 94.68A211 211 0 0 1 926.24 94.76Q905.25 282.82 869.79 96.95Z" fill="#999999"/><path d="M696.52 280.34Q884.53 309.12 722.09 408.06" fill="none" stroke="#6699FF" stroke-width="0.6"/><path d="M850.08 101.37Q923.77 291.7 1084.45 417.55" fill="none" stroke="#666666" stroke-width="0.6"/><path d="M871.87 96.59A211 211 0 0 1 872.82 96.44Q904.87 282.83 915.97 94.03A211 211 0 0 1 920.05 94.26Q905.04 282.83 871.87 96.59Z" fill="#999999"/><path d="M701.39 253.67Q902.1 283.17 1078.94 183.78" fill="none" stroke="#99CCFF" stroke-width="0.5"/><path d="M848.2 101.9Q884.18 302.96 815.26 495.25" fill="none" stroke="#666666" stroke-width="1.1"/><path d="M871.4 96.67A211 211 0 0 1 871.65 96.63Q905.05 282.82 920.61 94.3A211 211 0 0 1 921.32 94.35Q905.08 282.82 871.4 96.67Z" fill="#999999"/><path d="M695.45 292.71Q902.24 283.14 1099.6 220.66" fill="none" stroke="#6699FF" stroke-width="0.7"/><path d="M699.89 260.08Q898.91 284.01 1040.6 142.22" fill="none" stroke="#99CCFF" stroke-width="1.0"/><path d="M851.03 101.11Q923.71 291.62 1086.01 415.05" fill="none" stroke="#666666" stroke-width="1.1"/><path d="M695.1 305.12Q901.98 283.19 1102.42 227.47" fill="none" stroke="#6699FF" stroke-width="0.6"/><path d="M703.09 247.3Q894.15 323.27 1041.73 466.44" fill="none" stroke="#99CCFF" stroke-width="0.5"/><path d="M784.26 132.53Q915.52 284.92 1116.59 290.08" fill="none" stroke="#CC33FF" stroke-width="0.6"/></g>
<path d="M905.59 63.3A241.5 241.5 0 0 1 936.91 65.27L936.07 71.82A234.9 234.9 0 0 0 905.61 69.9Z" fill="#996600" stroke="#666" stroke-width="0.5"/>
<text transform="translate(920.05 58.29) rotate(-86.76)" font-size="16.5" text-anchor="start" textLength="19.27" lengthAdjust="spacingAndGlyphs" ><tspan dy="4.88">50</tspan></text>
<text transform="translate(934.48 59.54) rotate(-83.4)" font-size="16.5" text-anchor="start" textLength="28.91" lengthAdjust="spacingAndGlyphs" ><tspan dy="4.86">100</tspan></text>
<text transform="translate(925.68 81.05) rotate(5)" font-size="12" text-anchor="middle" textLength="30.24" lengthAdjust="spacingAndGlyphs" ><tspan dy="4.3">Lle12</tspan></text>
<path d="M943.21 66.17A241.5 241.5 0 0 1 1046.89 108.58L1043.04 113.95A234.9 234.9 0 0 0 942.2 72.69Z" fill="#666600" stroke="#666" stroke-width="0.5"/>
<text transform="translate(958.28 63.48) rotate(-77.8)" font-size="16.5" text-anchor="start" textLength="19.27" lengthAdjust="spacingAndGlyphs" ><tspan dy="4.82">50</tspan></text>
<text transform="translate(972.33 66.95) rotate(-74.44)" font-size="16.5" text-anchor="start" textLength="28.91" lengthAdjust="spacingAndGlyphs" ><tspan dy="4.8">100</tspan></text>
<text transform="translate(986.16 71.24) rotate(-71.08)" font-size="16.5" text-anchor="start" textLength="28.91" lengthAdjust="spacingAndGlyphs" ><tspan dy="4.77">150</tspan></text>
<text transform="translate(999.71 76.33) rotate(-67.72)" font-size="16.5" text-anchor="start" textLength="28.91" lengthAdjust="spacingAndGlyphs" ><tspan dy="4.75">200</tspan></text>
<text transform="translate(1012.94 82.21) rotate(-64.36)" font-size="16.5" text-anchor="start" textLength="28.91" lengthAdjust="spacingAndGlyphs" ><tspan dy="4.73">250</tspan></text>
<text transform="translate(1025.8 88.86) rotate(-61)" font-size="16.5" text-anchor="start" textLength="28.91" lengthAdjust="spacingAndGlyphs" ><tspan dy="4.71">300</tspan></text>
<text transform="translate(1038.25 96.24) rotate(-57.64)" font-size="16.5" text-anchor="start" textLength="28.91" lengthAdjust="spacingAndGlyphs" ><tspan dy="4.56">350</tspan></text>
<text transform="translate(996.74 99.3) rotate(23.8)" font-size="12" text-anchor="middle" textLength="23.37" lengthAdjust="spacingAndGlyphs" ><tspan dy="4.3">Lle4</tspan></text>
<path d="M1051.98 112.34A241.5 241.5 0 0 1 1090.31 148.63L1085.28 152.9A234.9 234.9 0 0 0 1047.99 117.6Z" fill="#99991E" stroke="#666" stroke-width="0.5"/>
<text transform="translate(1066.51 117.11) rotate(-49.48)" font-size="16.5" text-anchor="start" textLength="19.27" lengthAdjust="spacingAndGlyphs" ><tspan dy="4.07">50</tspan></text>
<text transform="translate(1077.24 126.84) rotate(-46.12)" font-size="16.5" text-anchor="start" textLength="28.91" lengthAdjust="spacingAndGlyphs" ><tspan dy="3.87">100</tspan></text>
<text transform="translate(1087.37 137.17) rotate(-42.76)" font-size="16.5" text-anchor="start" textLength="28.91" lengthAdjust="spacingAndGlyphs" ><tspan dy="3.67">150</tspan></text>
<text transform="translate(1061.84 142.96) rotate(43.9)" font-size="12" text-anchor="middle" textLength="23.37" lengthAdjust="spacingAndGlyphs" ><tspan dy="4.3">Lle6</tspan></text>
<path d="M1094.89 154.2A241.5 241.5 0 0 1 1114.48 182.74L1108.79 186.07A234.9 234.9 0 0 0 1089.73 158.31Z" fill="#CC0000" stroke="#666" stroke-width="0.5"/>
<text transform="translate(1107.8 162.41) rotate(-35.22)" font-size="16.5" text-anchor="start" textLength="19.27" lengthAdjust="spacingAndGlyphs" ><tspan dy="3.21">50</tspan></text>
<text transform="translate(1115.8 174.47) rotate(-31.86)" font-size="16.5" text-anchor="start" textLength="28.91" lengthAdjust="spacingAndGlyphs" ><tspan dy="3.01">100</tspan></text>
<text transform="translate(1090.98 177.26) rotate(55.4)" font-size="12" text-anchor="middle" textLength="29.33" lengthAdjust="spacingAndGlyphs" ><tspan dy="4.3">Lle11</tspan></text>
<path d="M1118.07 189.08A241.5 241.5 0 0 1 1136.57 232.66L1130.28 234.63A234.9 234.9 0 0 0 1112.28 192.25Z" fill="#FF0000" stroke="#666" stroke-width="0.5"/>
<text transform="translate(1129.37 199.4) rotate(-25.27)" font-size="16.5" text-anchor="start" textLength="19.27" lengthAdjust="spacingAndGlyphs" ><tspan dy="2.9">50</tspan></text>
<text transform="translate(1135.17 212.67) rotate(-21.91)" font-size="16.5" text-anchor="start" textLength="28.91" lengthAdjust="spacingAndGlyphs" ><tspan dy="2.9">100</tspan></text>
<text transform="translate(1140.17 226.25) rotate(-18.55)" font-size="16.5" text-anchor="start" textLength="28.91" lengthAdjust="spacingAndGlyphs" ><tspan dy="2.9">150</tspan></text>
<text transform="translate(1114.35 220.66) rotate(68)" font-size="12" text-anchor="middle" textLength="23.37" lengthAdjust="spacingAndGlyphs" ><tspan dy="4.3">Lle7</tspan></text>
<path d="M1138.83 240.3A241.5 241.5 0 0 1 1142.56 353.9L1136.09 352.56A234.9 234.9 0 0 0 1132.47 242.07Z" fill="#FF00CC" stroke="#666" stroke-width="0.5"/>
<text transform="translate(1147.49 252.92) rotate(-12.13)" font-size="16.5" text-anchor="start" textLength="19.27" lengthAdjust="spacingAndGlyphs" ><tspan dy="2.9">50</tspan></text>
<text transform="translate(1150.11 267.16) rotate(-8.77)" font-size="16.5" text-anchor="start" textLength="28.91" lengthAdjust="spacingAndGlyphs" ><tspan dy="2.9">100</tspan></text>
<text transform="translate(1151.9 281.52) rotate(-5.41)" font-size="16.5" text-anchor="start" textLength="28.91" lengthAdjust="spacingAndGlyphs" ><tspan dy="2.9">150</tspan></text>
<text transform="translate(1152.84 295.97) rotate(-2.05)" font-size="16.5" text-anchor="start" textLength="28.91" lengthAdjust="spacingAndGlyphs" ><tspan dy="2.9">200</tspan></text>
<text transform="translate(1152.94 310.44) rotate(1.31)" font-size="16.5" text-anchor="start" textLength="28.91" lengthAdjust="spacingAndGlyphs" ><tspan dy="2.9">250</tspan></text>
<text transform="translate(1152.18 324.9) rotate(4.67)" font-size="16.5" text-anchor="start" textLength="28.91" lengthAdjust="spacingAndGlyphs" ><tspan dy="2.9">300</tspan></text>
<text transform="translate(1150.58 339.29) rotate(8.03)" font-size="16.5" text-anchor="start" textLength="28.91" lengthAdjust="spacingAndGlyphs" ><tspan dy="2.9">350</tspan></text>
<text transform="translate(1148.14 353.56) rotate(11.39)" font-size="16.5" text-anchor="start" textLength="28.91" lengthAdjust="spacingAndGlyphs" ><tspan dy="2.9">400</tspan></text>
<text transform="translate(1130.7 305.58) rotate(90.2)" font-size="12" text-anchor="middle" textLength="23.37" lengthAdjust="spacingAndGlyphs" ><tspan dy="4.3">Lle3</tspan></text>
<path d="M1141.1 360.44A241.5 241.5 0 0 1 1099.63 449.26L1094.34 445.31A234.9 234.9 0 0 0 1134.68 358.92Z" fill="#FFCCCC" stroke="#666" stroke-width="0.5"/>
<text transform="translate(1142.61 375.67) rotate(16.68)" font-size="16.5" text-anchor="start" textLength="19.27" lengthAdjust="spacingAndGlyphs" ><tspan dy="2.9">50</tspan></text>
<text transform="translate(1138.05 389.41) rotate(20.04)" font-size="16.5" text-anchor="start" textLength="28.91" lengthAdjust="spacingAndGlyphs" ><tspan dy="2.9">100</tspan></text>
<text transform="translate(1132.69 402.86) rotate(23.4)" font-size="16.5" text-anchor="start" textLength="28.91" lengthAdjust="spacingAndGlyphs" ><tspan dy="2.9">150</tspan></text>
<text transform="translate(1126.56 415.97) rotate(26.76)" font-size="16.5" text-anchor="start" textLength="28.91" lengthAdjust="spacingAndGlyphs" ><tspan dy="2.9">200</tspan></text>
<text transform="translate(1119.66 428.7) rotate(30.12)" font-size="16.5" text-anchor="start" textLength="28.91" lengthAdjust="spacingAndGlyphs" ><tspan dy="2.9">250</tspan></text>
<text transform="translate(1112.03 441) rotate(33.48)" font-size="16.5" text-anchor="start" textLength="28.91" lengthAdjust="spacingAndGlyphs" ><tspan dy="2.9">300</tspan></text>
<text transform="translate(1111.92 394.72) rotate(293.6)" font-size="12" text-anchor="middle" textLength="23.37" lengthAdjust="spacingAndGlyphs" ><tspan dy="4.3">Lle5</tspan></text>
<path d="M1095.52 454.61A241.5 241.5 0 0 1 961.16 539.94L959.66 533.51A234.9 234.9 0 0 0 1090.34 450.51Z" fill="#FF9900" stroke="#666" stroke-width="0.5"/>
<text transform="translate(1090.44 469.05) rotate(41.7)" font-size="16.5" text-anchor="start" textLength="19.27" lengthAdjust="spacingAndGlyphs" ><tspan dy="2.9">50</tspan></text>
<text transform="translate(1080.5 479.57) rotate(45.06)" font-size="16.5" text-anchor="start" textLength="28.91" lengthAdjust="spacingAndGlyphs" ><tspan dy="2.9">100</tspan></text>
<text transform="translate(1069.96 489.49) rotate(48.42)" font-size="16.5" text-anchor="start" textLength="28.91" lengthAdjust="spacingAndGlyphs" ><tspan dy="2.9">150</tspan></text>
<text transform="translate(1058.85 498.77) rotate(51.78)" font-size="16.5" text-anchor="start" textLength="28.91" lengthAdjust="spacingAndGlyphs" ><tspan dy="2.9">200</tspan></text>
<text transform="translate(1047.22 507.39) rotate(55.14)" font-size="16.5" text-anchor="start" textLength="28.91" lengthAdjust="spacingAndGlyphs" ><tspan dy="2.9">250</tspan></text>
<text transform="translate(1035.1 515.32) rotate(58.5)" font-size="16.5" text-anchor="start" textLength="28.91" lengthAdjust="spacingAndGlyphs" ><tspan dy="2.9">300</tspan></text>
<text transform="translate(1022.54 522.52) rotate(61.86)" font-size="16.5" text-anchor="start" textLength="28.91" lengthAdjust="spacingAndGlyphs" ><tspan dy="2.9">350</tspan></text>
<text transform="translate(1009.58 528.97) rotate(65.22)" font-size="16.5" text-anchor="start" textLength="28.91" lengthAdjust="spacingAndGlyphs" ><tspan dy="2.9">400</tspan></text>
<text transform="translate(996.27 534.65) rotate(68.58)" font-size="16.5" text-anchor="start" textLength="28.91" lengthAdjust="spacingAndGlyphs" ><tspan dy="2.9">450</tspan></text>
<text transform="translate(982.64 539.54) rotate(71.94)" font-size="16.5" text-anchor="start" textLength="28.91" lengthAdjust="spacingAndGlyphs" ><tspan dy="2.9">500</tspan></text>
<text transform="translate(968.75 543.62) rotate(75.3)" font-size="16.5" text-anchor="start" textLength="28.91" lengthAdjust="spacingAndGlyphs" ><tspan dy="3.01">550</tspan></text>
<text transform="translate(1032.99 490.12) rotate(325.6)" font-size="12" text-anchor="middle" textLength="23.37" lengthAdjust="spacingAndGlyphs" ><tspan dy="4.3">Lle1</tspan></text>
<path d="M954.78 541.34A241.5 241.5 0 0 1 906.61 546.3L906.59 539.7A234.9 234.9 0 0 0 953.45 534.88Z" fill="#FFCC00" stroke="#666" stroke-width="0.5"/>
<text transform="translate(941.61 549.13) rotate(81.73)" font-size="16.5" text-anchor="start" textLength="19.27" lengthAdjust="spacingAndGlyphs" ><tspan dy="5.3">50</tspan></text>
<text transform="translate(927.23 550.79) rotate(85.09)" font-size="16.5" text-anchor="start" textLength="28.91" lengthAdjust="spacingAndGlyphs" ><tspan dy="5.4">100</tspan></text>
<text transform="translate(912.78 551.61) rotate(88.45)" font-size="16.5" text-anchor="start" textLength="28.91" lengthAdjust="spacingAndGlyphs" ><tspan dy="5.4">150</tspan></text>
<text transform="translate(929.58 528.17) rotate(354)" font-size="12" text-anchor="middle" textLength="23.37" lengthAdjust="spacingAndGlyphs" ><tspan dy="4.3">Lle8</tspan></text>
<path d="M901 546.25A241.5 241.5 0 0 1 773.79 506.83L777.41 501.31A234.9 234.9 0 0 0 901.14 539.65Z" fill="#FFFF00" stroke="#666" stroke-width="0.5"/>
<text transform="translate(885.22 565.97) rotate(274.57)" font-size="16.5" text-anchor="middle" textLength="19.27" lengthAdjust="spacingAndGlyphs" ><tspan dy="2.79">50</tspan></text>
<text transform="translate(869.95 564.29) rotate(277.93)" font-size="16.5" text-anchor="middle" textLength="28.91" lengthAdjust="spacingAndGlyphs" ><tspan dy="2.86">100</tspan></text>
<text transform="translate(854.81 561.73) rotate(281.29)" font-size="16.5" text-anchor="middle" textLength="28.91" lengthAdjust="spacingAndGlyphs" ><tspan dy="3.02">150</tspan></text>
<text transform="translate(839.84 558.28) rotate(284.65)" font-size="16.5" text-anchor="middle" textLength="28.91" lengthAdjust="spacingAndGlyphs" ><tspan dy="3.32">200</tspan></text>
<text transform="translate(825.09 553.96) rotate(288.01)" font-size="16.5" text-anchor="middle" textLength="28.91" lengthAdjust="spacingAndGlyphs" ><tspan dy="3.63">250</tspan></text>
<text transform="translate(810.63 548.79) rotate(291.37)" font-size="16.5" text-anchor="middle" textLength="28.91" lengthAdjust="spacingAndGlyphs" ><tspan dy="3.93">300</tspan></text>
<text transform="translate(796.49 542.77) rotate(294.73)" font-size="16.5" text-anchor="middle" textLength="28.91" lengthAdjust="spacingAndGlyphs" ><tspan dy="4.24">350</tspan></text>
<text transform="translate(782.74 535.94) rotate(298.09)" font-size="16.5" text-anchor="middle" textLength="28.91" lengthAdjust="spacingAndGlyphs" ><tspan dy="4.54">400</tspan></text>
<text transform="translate(769.4 528.31) rotate(301.45)" font-size="16.5" text-anchor="middle" textLength="28.91" lengthAdjust="spacingAndGlyphs" ><tspan dy="4.85">450</tspan></text>
<text transform="translate(838.19 518.89) rotate(377.6)" font-size="12" text-anchor="middle" textLength="23.37" lengthAdjust="spacingAndGlyphs" ><tspan dy="4.3">Lle2</tspan></text>
<path d="M769.1 503.68A241.5 241.5 0 0 1 747.25 486.7L751.59 481.73A234.9 234.9 0 0 0 772.85 498.25Z" fill="#CCFF00" stroke="#666" stroke-width="0.5"/>
<text transform="translate(745.09 511.48) rotate(307.92)" font-size="16.5" text-anchor="middle" textLength="19.27" lengthAdjust="spacingAndGlyphs" ><tspan dy="4.53">50</tspan></text>
<text transform="translate(771.87 484.88) rotate(396.7)" font-size="12" text-anchor="middle" textLength="30.24" lengthAdjust="spacingAndGlyphs" ><tspan dy="4.3">Lle13</tspan></text>
<path d="M742.79 482.71A241.5 241.5 0 0 1 716.94 454.94L722.11 450.84A234.9 234.9 0 0 0 747.25 477.85Z" fill="#00FF00" stroke="#666" stroke-width="0.5"/>
<text transform="translate(717.92 487.1) rotate(315.91)" font-size="16.5" text-anchor="middle" textLength="19.27" lengthAdjust="spacingAndGlyphs" ><tspan dy="4.4">50</tspan></text>
<text transform="translate(707.56 475.75) rotate(319.27)" font-size="16.5" text-anchor="middle" textLength="28.91" lengthAdjust="spacingAndGlyphs" ><tspan dy="4.4">100</tspan></text>
<text transform="translate(741.3 457.4) rotate(407.2)" font-size="12" text-anchor="middle" textLength="30.24" lengthAdjust="spacingAndGlyphs" ><tspan dy="4.3">Lle10</tspan></text>
<path d="M712.02 448.52A241.5 241.5 0 0 1 689.6 411.8L695.52 408.88A234.9 234.9 0 0 0 717.32 444.59Z" fill="#358000" stroke="#666" stroke-width="0.5"/>
<text transform="translate(686.77 448.11) rotate(326.84)" font-size="16.5" text-anchor="middle" textLength="19.27" lengthAdjust="spacingAndGlyphs" ><tspan dy="4.4">50</tspan></text>
<text transform="translate(678.75 435.01) rotate(330.2)" font-size="16.5" text-anchor="middle" textLength="28.91" lengthAdjust="spacingAndGlyphs" ><tspan dy="4.4">100</tspan></text>
<text transform="translate(671.5 421.46) rotate(333.56)" font-size="16.5" text-anchor="middle" textLength="28.91" lengthAdjust="spacingAndGlyphs" ><tspan dy="4.4">150</tspan></text>
<text transform="translate(715.42 423.49) rotate(418.1)" font-size="12" text-anchor="middle" textLength="23.37" lengthAdjust="spacingAndGlyphs" ><tspan dy="4.3">Lle9</tspan></text>
<path d="M676.58 379.91A241.5 241.5 0 0 1 665.6 326.73L672.17 326.13A234.9 234.9 0 0 0 682.85 377.86Z" fill="#0000CC" stroke="#666" stroke-width="0.5"/>
<text transform="translate(652.81 371.78) rotate(345.19)" font-size="16.5" text-anchor="middle" textLength="19.27" lengthAdjust="spacingAndGlyphs" ><tspan dy="4.4">50</tspan></text>
<text transform="translate(649.37 357.06) rotate(348.49)" font-size="16.5" text-anchor="middle" textLength="28.91" lengthAdjust="spacingAndGlyphs" ><tspan dy="4.4">100</tspan></text>
<text transform="translate(646.78 342.16) rotate(351.8)" font-size="16.5" text-anchor="middle" textLength="28.91" lengthAdjust="spacingAndGlyphs" ><tspan dy="4.4">150</tspan></text>
<text transform="translate(687.61 356.85) rotate(436.6)" font-size="12" text-anchor="middle" textLength="22.67" lengthAdjust="spacingAndGlyphs" ><tspan dy="4.3">Xtr1</tspan></text>
<path d="M665.04 319.37A241.5 241.5 0 0 1 666.82 272.11L673.36 273A234.9 234.9 0 0 0 671.63 318.98Z" fill="#6699FF" stroke="#666" stroke-width="0.5"/>
<text transform="translate(644.1 305.5) rotate(359.85)" font-size="16.5" text-anchor="middle" textLength="19.27" lengthAdjust="spacingAndGlyphs" ><tspan dy="5.13">50</tspan></text>
<text transform="translate(644.5 290.38) rotate(363.15)" font-size="16.5" text-anchor="middle" textLength="28.91" lengthAdjust="spacingAndGlyphs" ><tspan dy="5.62">100</tspan></text>
<text transform="translate(645.76 275.32) rotate(366.46)" font-size="16.5" text-anchor="middle" textLength="28.91" lengthAdjust="spacingAndGlyphs" ><tspan dy="5.9">150</tspan></text>
<text transform="translate(681.52 302.06) rotate(270.7)" font-size="12" text-anchor="middle" textLength="22.67" lengthAdjust="spacingAndGlyphs" ><tspan dy="4.3">Xtr2</tspan></text>
<path d="M667.95 264.73A241.5 241.5 0 0 1 677.08 228.17L683.34 230.27A234.9 234.9 0 0 0 674.46 265.83Z" fill="#99CCFF" stroke="#666" stroke-width="0.5"/>
<text transform="translate(650.67 246.5) rotate(372.86)" font-size="16.5" text-anchor="middle" textLength="19.27" lengthAdjust="spacingAndGlyphs" ><tspan dy="5.9">50</tspan></text>
<text transform="translate(654.46 231.86) rotate(376.16)" font-size="16.5" text-anchor="middle" textLength="28.91" lengthAdjust="spacingAndGlyphs" ><tspan dy="5.9">100</tspan></text>
<text transform="translate(687.34 253.89) rotate(283.1)" font-size="12" text-anchor="middle" textLength="22.67" lengthAdjust="spacingAndGlyphs" ><tspan dy="4.3">Xtr3</tspan></text>
<path d="M679.61 220.98A241.5 241.5 0 0 1 695.02 187.46L700.79 190.67A234.9 234.9 0 0 0 685.8 223.27Z" fill="#00FFFF" stroke="#666" stroke-width="0.5"/>
<text transform="translate(666.04 199.84) rotate(383.62)" font-size="16.5" text-anchor="middle" textLength="19.27" lengthAdjust="spacingAndGlyphs" ><tspan dy="5.9">50</tspan></text>
<text transform="translate(672.5 186.16) rotate(386.92)" font-size="16.5" text-anchor="middle" textLength="28.91" lengthAdjust="spacingAndGlyphs" ><tspan dy="5.9">100</tspan></text>
<text transform="translate(701 213.27) rotate(294.05)" font-size="12" text-anchor="middle" textLength="22.67" lengthAdjust="spacingAndGlyphs" ><tspan dy="4.3">Xtr4</tspan></text>
<path d="M699.18 180.27A241.5 241.5 0 0 1 723.23 147.06L728.23 151.37A234.9 234.9 0 0 0 704.84 183.68Z" fill="#CCFFFF" stroke="#666" stroke-width="0.5"/>
<text transform="translate(689.78 156.98) rotate(394.35)" font-size="16.5" text-anchor="middle" textLength="19.27" lengthAdjust="spacingAndGlyphs" ><tspan dy="5.9">50</tspan></text>
<text transform="translate(698.67 144.75) rotate(397.65)" font-size="16.5" text-anchor="middle" textLength="28.91" lengthAdjust="spacingAndGlyphs" ><tspan dy="5.9">100</tspan></text>
<text transform="translate(724.19 173.07) rotate(305.91)" font-size="12" text-anchor="middle" textLength="22.67" lengthAdjust="spacingAndGlyphs" ><tspan dy="4.3">Xtr5</tspan></text>
<path d="M727.51 142.24A241.5 241.5 0 0 1 755.53 115.98L759.65 121.14A234.9 234.9 0 0 0 732.39 146.68Z" fill="#9900CC" stroke="#666" stroke-width="0.5"/>
<text transform="translate(722.84 117.55) rotate(405.62)" font-size="16.5" text-anchor="middle" textLength="19.27" lengthAdjust="spacingAndGlyphs" ><tspan dy="5.9">50</tspan></text>
<text transform="translate(733.95 107.29) rotate(408.92)" font-size="16.5" text-anchor="middle" textLength="28.91" lengthAdjust="spacingAndGlyphs" ><tspan dy="5.9">100</tspan></text>
<text transform="translate(752.55 140.89) rotate(316.87)" font-size="12" text-anchor="middle" textLength="22.67" lengthAdjust="spacingAndGlyphs" ><tspan dy="4.3">Xtr6</tspan></text>
<path d="M761.37 111.47A241.5 241.5 0 0 1 788.76 93.72L791.97 99.49A234.9 234.9 0 0 0 765.32 116.76Z" fill="#CC33FF" stroke="#666" stroke-width="0.5"/>
<text transform="translate(761.44 86.35) rotate(416.49)" font-size="16.5" text-anchor="middle" textLength="19.27" lengthAdjust="spacingAndGlyphs" ><tspan dy="5.9">50</tspan></text>
<text transform="translate(774.29 78.37) rotate(419.79)" font-size="16.5" text-anchor="middle" textLength="28.91" lengthAdjust="spacingAndGlyphs" ><tspan dy="5.9">100</tspan></text>
<text transform="translate(783.95 116.32) rotate(327.06)" font-size="12" text-anchor="middle" textLength="22.67" lengthAdjust="spacingAndGlyphs" ><tspan dy="4.3">Xtr7</tspan></text>
<path d="M795.26 90.24A241.5 241.5 0 0 1 825.33 77.21L827.53 83.43A234.9 234.9 0 0 0 798.29 96.1Z" fill="#CC99FF" stroke="#666" stroke-width="0.5"/>
<text transform="translate(799.48 65.48) rotate(425.99)" font-size="16.5" text-anchor="middle" textLength="19.27" lengthAdjust="spacingAndGlyphs" ><tspan dy="5.9">50</tspan></text>
<text transform="translate(813.46 59.72) rotate(429.29)" font-size="16.5" text-anchor="middle" textLength="28.91" lengthAdjust="spacingAndGlyphs" ><tspan dy="5.9">100</tspan></text>
<text transform="translate(816.79 98.72) rotate(336.57)" font-size="12" text-anchor="middle" textLength="22.67" lengthAdjust="spacingAndGlyphs" ><tspan dy="4.3">Xtr8</tspan></text>
<path d="M832.31 74.85A241.5 241.5 0 0 1 853.95 69L855.38 75.44A234.9 234.9 0 0 0 834.33 81.13Z" fill="#666666" stroke="#666" stroke-width="0.5"/>
<text transform="translate(840.58 51.13) rotate(435.52)" font-size="16.5" text-anchor="middle" textLength="19.27" lengthAdjust="spacingAndGlyphs" ><tspan dy="5.9">50</tspan></text>
<text transform="translate(847.48 87.99) rotate(344.87)" font-size="12" text-anchor="middle" textLength="22.67" lengthAdjust="spacingAndGlyphs" ><tspan dy="4.3">Xtr9</tspan></text>
<path d="M861.1 67.53A241.5 241.5 0 0 1 871.86 65.74L872.8 72.27A234.9 234.9 0 0 0 862.33 74.01Z" fill="#999999" stroke="#666" stroke-width="0.5"/>
<text transform="translate(857.28 47.39) rotate(439.26)" font-size="16.5" text-anchor="middle" textLength="9.64" lengthAdjust="spacingAndGlyphs" ><tspan dy="5.9">0</tspan></text>
<text transform="translate(880.29 81.69) rotate(353.4)" font-size="12" text-anchor="middle" textLength="29.54" lengthAdjust="spacingAndGlyphs" ><tspan dy="4.3">Xtr10</tspan></text>
<path d="M908.43 63.31L908.45 61.31M911.26 63.36L911.3 61.36M914.09 63.43L914.16 61.43M916.92 63.54L917.01 61.54M922.58 63.86L922.71 61.87M925.4 64.07L925.56 62.08M928.22 64.32L928.41 62.32M931.04 64.59L931.25 62.6M936.67 65.24L936.92 63.26M946.01 66.62L946.34 64.65M948.8 67.1L949.15 65.14M951.58 67.62L951.96 65.66M954.36 68.17L954.76 66.21M959.9 69.37L960.35 67.42M962.66 70.02L963.13 68.07M965.41 70.7L965.9 68.76M968.15 71.41L968.66 69.47M973.61 72.93L974.16 71.01M976.32 73.73L976.9 71.82M979.03 74.57L979.63 72.67M981.72 75.45L982.35 73.55M987.08 77.28L987.75 75.4M989.74 78.25L990.44 76.37M992.39 79.24L993.11 77.38M995.03 80.27L995.77 78.41M1000.28 82.42L1001.06 80.58M1002.88 83.54L1003.68 81.71M1005.47 84.69L1006.29 82.87M1008.04 85.87L1008.88 84.06M1013.15 88.32L1014.03 86.53M1015.68 89.59L1016.59 87.81M1018.2 90.89L1019.12 89.12M1020.7 92.22L1021.65 90.46M1025.65 94.97L1026.64 93.23M1028.1 96.38L1029.11 94.66M1030.54 97.83L1031.57 96.11M1032.96 99.3L1034.01 97.6M1037.74 102.33L1038.83 100.66M1040.11 103.89L1041.22 102.23M1042.46 105.48L1043.59 103.83M1044.78 107.09L1045.93 105.45M1054.22 114.06L1055.45 112.48M1056.45 115.81L1057.7 114.25M1058.66 117.59L1059.92 116.04M1060.84 119.39L1062.12 117.85M1065.15 123.07L1066.47 121.56M1067.27 124.95L1068.6 123.46M1069.37 126.85L1070.72 125.38M1071.44 128.78L1072.81 127.32M1075.53 132.7L1076.93 131.28M1077.53 134.7L1078.95 133.29M1079.52 136.72L1080.95 135.33M1081.48 138.77L1082.93 137.4M1085.32 142.93L1086.81 141.59M1087.21 145.04L1088.71 143.72M1089.07 147.18L1090.58 145.87M1096.64 156.42L1098.22 155.19M1098.37 158.67L1099.96 157.46M1100.07 160.93L1101.68 159.74M1101.74 163.22L1103.37 162.05M1105.01 167.85L1106.66 166.71M1106.6 170.19L1108.26 169.07M1108.17 172.55L1109.84 171.45M1109.71 174.93L1111.39 173.85M1112.7 179.74L1114.41 178.7M1114.15 182.17L1115.87 181.16M1119.41 191.58L1121.18 190.64M1120.73 194.09L1122.51 193.17M1122.01 196.61L1123.8 195.72M1123.27 199.15L1125.06 198.28M1125.68 204.28L1127.5 203.44M1126.85 206.86L1128.68 206.05M1127.98 209.45L1129.82 208.66M1129.08 212.06L1130.93 211.29M1131.2 217.32L1133.06 216.59M1132.21 219.96L1134.08 219.26M1133.19 222.62L1135.07 221.94M1134.14 225.29L1136.02 224.63M1135.94 230.66L1137.84 230.05M1139.57 243.04L1141.5 242.53M1140.28 245.78L1142.22 245.29M1140.95 248.53L1142.9 248.06M1141.6 251.29L1143.55 250.84M1142.79 256.83L1144.75 256.43M1143.33 259.61L1145.3 259.23M1143.85 262.39L1145.82 262.04M1144.33 265.18L1146.3 264.85M1145.19 270.78L1147.17 270.5M1145.57 273.59L1147.56 273.33M1145.92 276.4L1147.91 276.16M1146.24 279.21L1148.23 279M1146.77 284.85L1148.77 284.69M1146.99 287.68L1148.99 287.53M1147.18 290.5L1149.17 290.38M1147.33 293.33L1149.33 293.24M1147.53 298.99L1149.53 298.94M1147.58 301.82L1149.58 301.8M1147.6 304.66L1149.6 304.66M1147.59 307.49L1149.58 307.51M1147.46 313.15L1149.45 313.22M1147.34 315.98L1149.34 316.08M1147.19 318.81L1149.19 318.93M1147.01 321.64L1149.01 321.78M1146.55 327.28L1148.54 327.47M1146.27 330.1L1148.26 330.31M1145.96 332.92L1147.94 333.15M1145.61 335.73L1147.59 335.98M1144.82 341.34L1146.8 341.64M1144.38 344.14L1146.35 344.46M1143.9 346.93L1145.87 347.28M1143.39 349.71L1145.35 350.08M1140.43 363.19L1142.38 363.67M1139.73 365.94L1141.67 366.44M1139 368.67L1140.93 369.2M1138.24 371.4L1140.16 371.95M1136.61 376.83L1138.52 377.42M1135.75 379.52L1137.65 380.14M1134.86 382.21L1136.75 382.85M1133.93 384.89L1135.82 385.55M1131.99 390.21L1133.86 390.92M1130.97 392.85L1132.84 393.58M1129.93 395.49L1131.78 396.24M1128.85 398.11L1130.69 398.88M1126.6 403.3L1128.42 404.12M1125.43 405.88L1127.24 406.72M1124.23 408.45L1126.03 409.31M1123 411L1124.79 411.88M1120.45 416.06L1122.22 416.98M1119.13 418.56L1120.89 419.51M1117.78 421.05L1119.53 422.02M1116.4 423.53L1118.14 424.51M1113.56 428.43L1115.27 429.45M1112.09 430.85L1113.8 431.9M1110.6 433.26L1112.29 434.33M1109.08 435.65L1110.76 436.73M1105.95 440.38L1107.61 441.5M1104.35 442.71L1105.99 443.85M1102.72 445.03L1104.35 446.19M1101.06 447.32L1102.68 448.5M1093.75 456.82L1095.3 458.08M1091.95 459.01L1093.49 460.29M1090.13 461.18L1091.66 462.47M1088.28 463.33L1089.79 464.64M1084.52 467.56L1085.99 468.9M1082.6 469.64L1084.06 471M1080.65 471.7L1082.1 473.08M1078.68 473.73L1080.11 475.13M1074.67 477.73L1076.07 479.17M1072.63 479.7L1074.01 481.15M1070.57 481.64L1071.93 483.1M1068.48 483.56L1069.83 485.04M1064.25 487.32L1065.56 488.83M1062.09 489.16L1063.39 490.69M1059.92 490.98L1061.19 492.52M1057.73 492.77L1058.98 494.32M1053.28 496.27L1054.5 497.86M1051.02 497.98L1052.22 499.58M1048.74 499.67L1049.93 501.28M1046.45 501.33L1047.61 502.96M1041.8 504.57L1042.93 506.22M1039.45 506.15L1040.55 507.81M1037.08 507.7L1038.16 509.38M1034.69 509.22L1035.75 510.91M1029.86 512.18L1030.88 513.9M1027.42 513.62L1028.42 515.34M1024.96 515.02L1025.95 516.77M1022.49 516.4L1023.45 518.16M1017.49 519.08L1018.42 520.85M1014.97 520.37L1015.87 522.15M1012.44 521.63L1013.32 523.42M1009.89 522.86L1010.75 524.67M1004.74 525.24L1005.56 527.06M1002.15 526.38L1002.95 528.21M999.55 527.49L1000.32 529.33M996.93 528.57L997.68 530.42M991.65 530.64L992.36 532.51M989 531.63L989.69 533.5M986.33 532.58L987 534.47M983.66 533.51L984.3 535.4M978.27 535.26L978.87 537.17M975.56 536.09L976.14 538.01M972.84 536.89L973.4 538.82M970.12 537.66L970.65 539.59M964.64 539.1L965.12 541.04M961.89 539.77L962.35 541.71M952.01 541.9L952.39 543.86M949.22 542.42L949.58 544.39M946.43 542.91L946.77 544.88M943.64 543.36L943.95 545.34M938.03 544.18L938.3 546.16M935.22 544.54L935.46 546.52M932.41 544.86L932.63 546.85M929.59 545.15L929.79 547.15M923.95 545.64L924.09 547.63M921.12 545.83L921.25 547.83M918.29 545.99L918.39 547.99M915.46 546.12L915.54 548.12M909.8 546.27L909.83 548.27M906.97 546.3L906.98 548.3M898.17 546.17L898.1 548.17M895.34 546.06L895.25 548.06M892.51 545.92L892.4 547.91M889.68 545.74L889.55 547.74M884.04 545.29L883.85 547.28M881.22 545.01L881.01 547M878.4 544.71L878.17 546.69M875.59 544.36L875.34 546.35M869.98 543.58L869.68 545.56M867.18 543.14L866.86 545.12M864.39 542.67L864.04 544.64M861.6 542.16L861.23 544.13M856.05 541.06L855.63 543.01M853.28 540.45L852.84 542.4M850.52 539.82L850.06 541.76M847.77 539.15L847.28 541.09M842.29 537.72L841.76 539.65M839.56 536.95L839.01 538.87M836.84 536.16L836.27 538.07M834.13 535.33L833.54 537.24M828.74 533.58L828.1 535.47M826.07 532.65L825.4 534.54M823.4 531.7L822.71 533.58M820.74 530.71L820.04 532.58M815.47 528.65L814.72 530.5M812.85 527.57L812.08 529.42M810.24 526.46L809.45 528.3M807.65 525.32L806.83 527.15M802.5 522.95L801.65 524.76M799.95 521.72L799.07 523.52M797.42 520.46L796.52 522.25M794.89 519.17L793.97 520.95M789.9 516.51L788.93 518.26M787.42 515.13L786.44 516.87M784.96 513.72L783.96 515.45M782.52 512.29L781.5 514M777.69 509.33L776.63 511.02M775.3 507.81L774.22 509.49M766.78 502.06L765.63 503.7M764.48 500.42L763.3 502.04M762.19 498.74L761 500.35M759.93 497.04L758.72 498.63M755.46 493.56L754.21 495.12M753.26 491.78L751.99 493.33M751.07 489.97L749.79 491.51M748.91 488.14L747.61 489.66M740.71 480.78L739.34 482.24M738.66 478.83L737.28 480.27M736.63 476.85L735.23 478.28M734.63 474.86L733.21 476.26M730.68 470.79L729.23 472.16M728.75 468.72L727.28 470.08M726.84 466.63L725.35 467.97M724.95 464.51L723.45 465.84M721.26 460.22L719.73 461.51M719.45 458.04L717.9 459.31M717.66 455.84L716.1 457.09M710.35 446.23L708.73 447.4M708.7 443.93L707.07 445.08M707.08 441.6L705.43 442.73M705.49 439.26L703.83 440.37M702.39 434.52L700.71 435.59M700.89 432.12L699.19 433.17M699.41 429.7L697.7 430.74M697.96 427.27L696.23 428.28M695.14 422.35L693.39 423.33M693.78 419.87L692.02 420.82M692.44 417.37L690.67 418.3M691.14 414.86L689.36 415.77M675.72 377.25L673.82 377.85M674.9 374.59L672.99 375.17M674.11 371.92L672.19 372.47M673.35 369.23L671.43 369.77M671.93 363.84L669.99 364.33M671.26 361.14L669.32 361.6M670.63 358.42L668.68 358.87M670.03 355.7L668.07 356.12M668.91 350.24L666.95 350.61M668.4 347.5L666.44 347.85M667.93 344.75L665.95 345.08M667.48 342L665.51 342.31M666.69 336.48L664.7 336.74M666.34 333.71L664.35 333.95M666.02 330.94L664.03 331.16M665.73 328.17L663.74 328.36M664.89 316.59L662.89 316.69M664.77 313.81L662.77 313.88M664.68 311.02L662.68 311.07M664.62 308.23L662.62 308.26M664.61 302.66L662.61 302.64M664.65 299.87L662.65 299.83M664.72 297.08L662.72 297.02M664.83 294.3L662.83 294.21M665.14 288.73L663.14 288.6M665.34 285.95L663.34 285.79M665.57 283.17L663.58 282.99M665.84 280.4L663.85 280.19M666.46 274.86L664.48 274.61M668.43 261.99L666.46 261.63M668.94 259.25L666.97 258.87M669.48 256.51L667.52 256.11M670.05 253.78L668.1 253.36M671.29 248.35L669.35 247.88M671.96 245.64L670.02 245.15M672.66 242.94L670.72 242.43M673.39 240.25L671.46 239.72M674.94 234.9L673.02 234.32M675.76 232.23L673.85 231.63M676.61 229.58L674.71 228.96M680.6 218.37L678.73 217.65M681.61 215.77L679.75 215.03M682.65 213.18L680.8 212.43M683.73 210.61L681.88 209.83M685.96 205.5L684.14 204.68M687.12 202.97L685.31 202.12M688.31 200.45L686.51 199.58M689.53 197.94L687.74 197.05M692.05 192.97L690.28 192.04M693.36 190.51L691.6 189.56M694.69 188.06L692.94 187.09M700.63 177.89L698.93 176.84M702.11 175.53L700.42 174.46M703.62 173.18L701.94 172.09M705.15 170.86L703.49 169.75M708.3 166.25L706.66 165.1M709.91 163.98L708.28 162.81M711.55 161.72L709.93 160.54M713.21 159.49L711.61 158.28M716.62 155.07L715.05 153.83M718.36 152.9L716.8 151.64M720.12 150.74L718.58 149.46M721.91 148.6L720.39 147.31M729.4 140.19L727.93 138.82M731.31 138.16L729.86 136.78M733.24 136.15L731.81 134.75M735.2 134.17L733.79 132.75M739.19 130.27L737.8 128.82M741.21 128.35L739.85 126.89M743.26 126.46L741.91 124.98M745.33 124.59L744 123.1M749.53 120.93L748.24 119.41M751.67 119.13L750.39 117.6M753.82 117.36L752.56 115.81M763.61 109.82L762.43 108.2M765.87 108.18L764.71 106.56M768.15 106.58L767.01 104.94M770.45 105L769.32 103.34M775.09 101.92L774.01 100.24M777.45 100.42L776.38 98.73M779.81 98.95L778.77 97.25M782.2 97.51L781.17 95.79M787.02 94.7L786.03 92.96M797.75 88.97L796.85 87.19M800.24 87.74L799.37 85.94M802.76 86.53L801.9 84.72M805.28 85.35L804.45 83.53M810.38 83.08L809.58 81.25M812.94 81.99L812.17 80.15M815.52 80.93L814.77 79.08M818.11 79.9L817.38 78.04M823.33 77.93L822.64 76.05M834.97 74.01L834.39 72.1M837.64 73.21L837.08 71.29M840.32 72.43L839.78 70.51M843.01 71.69L842.48 69.76M848.41 70.29L847.93 68.35M851.12 69.64L850.66 67.69M853.83 69.02L853.4 67.07M863.84 67.03L863.49 65.06M866.59 66.55L866.26 64.58M869.34 66.11L869.03 64.14" stroke="#444" stroke-width="0.7" fill="none"/>
<path d="M905.59 63.3L905.59 59.9M919.75 63.69L919.94 60.29M933.86 64.9L934.25 61.52M943.21 66.17L943.74 62.81M957.13 68.75L957.85 65.43M970.88 72.15L971.79 68.88M984.41 76.35L985.51 73.13M997.66 81.33L998.95 78.18M1010.6 87.08L1012.07 84.02M1023.18 93.58L1024.83 90.61M1035.36 100.8L1037.18 97.93M1051.98 112.34L1054.03 109.63M1063.01 121.22L1065.21 118.63M1073.5 130.73L1075.85 128.28M1083.41 140.84L1085.91 138.53M1094.89 154.2L1097.55 152.08M1103.39 165.52L1106.17 163.56M1111.22 177.33L1114.1 175.53M1118.07 189.08L1121.06 187.46M1124.49 201.71L1127.56 200.26M1130.16 214.68L1133.31 213.42M1135.05 227.97L1138.28 226.89M1138.83 240.3L1142.1 239.39M1142.21 254.05L1145.53 253.34M1144.78 267.98L1148.14 267.46M1146.52 282.03L1149.91 281.71M1147.45 296.16L1150.84 296.04M1147.54 310.32L1150.94 310.4M1146.8 324.46L1150.19 324.74M1145.23 338.54L1148.6 339.01M1142.84 352.49L1146.18 353.16M1141.1 360.44L1144.41 361.22M1137.44 374.12L1140.7 375.09M1132.98 387.56L1136.17 388.72M1127.74 400.71L1130.86 402.06M1121.74 413.54L1124.77 415.07M1114.99 425.99L1117.93 427.69M1107.53 438.02L1110.37 439.9M1095.52 454.61L1098.19 456.72M1086.41 465.45L1088.95 467.71M1076.69 475.75L1079.09 478.15M1066.38 485.45L1068.63 487.99M1055.51 494.53L1057.62 497.2M1044.13 502.96L1046.08 505.75M1032.28 510.71L1034.06 513.61M1020 517.75L1021.6 520.75M1007.32 524.06L1008.75 527.15M994.3 529.62L995.54 532.78M980.97 534.4L982.02 537.63M967.38 538.4L968.25 541.68M954.78 541.34L955.47 544.67M940.84 543.79L941.33 547.15M926.77 545.41L927.06 548.8M912.63 546.21L912.72 549.61M901 546.25L900.93 549.65M886.86 545.53L886.59 548.92M872.78 543.99L872.31 547.36M858.82 541.63L858.15 544.96M845.02 538.45L844.16 541.74M831.43 534.47L830.38 537.7M818.1 529.7L816.86 532.86M805.07 524.15L803.65 527.24M792.39 517.85L790.79 520.85M780.1 510.82L778.32 513.72M769.1 503.68L767.18 506.48M757.68 495.31L755.59 497.99M742.79 482.71L740.49 485.21M732.64 472.83L730.2 475.2M723.09 462.38L720.52 464.6M712.02 448.52L709.29 450.54M703.93 436.9L701.08 438.76M696.53 424.82L693.58 426.51M689.86 412.33L686.82 413.84M676.58 379.91L673.35 380.97M672.63 366.54L669.34 367.41M669.45 352.97L666.12 353.65M667.07 339.24L663.7 339.73M665.04 319.37L661.65 319.58M664.6 305.44L661.2 305.45M664.97 291.51L661.57 291.33M666.13 277.62L662.76 277.24M667.95 264.73L664.59 264.17M670.65 251.06L667.34 250.31M674.15 237.57L670.88 236.62M679.61 220.98L676.43 219.8M684.83 208.05L681.71 206.69M690.78 195.45L687.75 193.91M699.18 180.27L696.27 178.52M706.71 168.54L703.9 166.63M714.9 157.27L712.21 155.19M727.51 142.24L724.99 139.95M737.18 132.2L734.8 129.77M747.42 122.75L745.19 120.18M761.37 111.47L759.33 108.75M772.76 103.45L770.88 100.61M784.6 96.09L782.89 93.15M795.26 90.24L793.7 87.22M807.82 84.2L806.44 81.1M820.71 78.9L819.51 75.72M832.31 74.85L831.28 71.61M845.7 70.97L844.85 67.68M861.1 67.53L860.46 64.19" stroke="#222" stroke-width="0.9" fill="none"/>
<text transform="translate(697 109) rotate(-46.5)" font-size="16.5" text-anchor="middle" textLength="90.83" lengthAdjust="spacingAndGlyphs" font-style="italic"><tspan dy="5.8">X. tropicalis</tspan></text>
<text transform="translate(1137.9 497.3) rotate(-47.5)" font-size="16.5" text-anchor="middle" textLength="113.33" lengthAdjust="spacingAndGlyphs" font-style="italic"><tspan dy="5.8">L. leishanense</tspan></text>
</g>
<g font-family="Liberation Sans, sans-serif" fill="#000">
<defs><clipPath id="tc0"><path d="M333.06 76.8A226.5 226.5 0 0 1 515.65 186.51L490.35 201.68A197 197 0 0 0 331.54 106.26Z" fill="#000" /><path d="M519.35 192.91A226.5 226.5 0 0 1 537.92 369.49L509.72 360.83A197 197 0 0 0 493.57 207.25Z" fill="#000" /><path d="M535.64 376.52A226.5 226.5 0 0 1 438.67 496.78L423.39 471.54A197 197 0 0 0 507.73 366.94Z" fill="#000" /><path d="M432.69 500.27A226.5 226.5 0 0 1 283.47 526.3L288.41 497.22A197 197 0 0 0 418.2 474.58Z" fill="#000" /><path d="M277.02 525.11A226.5 226.5 0 0 1 159.57 461.47L180.65 440.83A197 197 0 0 0 282.8 496.18Z" fill="#000" /><path d="M155.37 457.07A226.5 226.5 0 0 1 115.29 396.93L142.14 384.69A197 197 0 0 0 177 437Z" fill="#000" /><path d="M112.34 390.15A226.5 226.5 0 0 1 96.25 327.7L125.57 324.48A197 197 0 0 0 139.57 378.8Z" fill="#000" /><path d="M95.55 320.18A226.5 226.5 0 0 1 99.85 255.91L128.7 262.04A197 197 0 0 0 124.97 317.94Z" fill="#000" /><path d="M101.49 248.78A226.5 226.5 0 0 1 122.65 194.37L148.54 208.52A197 197 0 0 0 130.13 255.84Z" fill="#000" /><path d="M126.64 187.36A226.5 226.5 0 0 1 157.46 146.72L178.81 167.07A197 197 0 0 0 152.01 202.42Z" fill="#000" /><path d="M162.62 141.48A226.5 226.5 0 0 1 200.3 111.59L216.07 136.52A197 197 0 0 0 183.3 162.51Z" fill="#000" /><path d="M205.83 108.2A226.5 226.5 0 0 1 244.97 89.78L254.93 117.55A197 197 0 0 0 220.88 133.57Z" fill="#000" /><path d="M251.29 87.62A226.5 226.5 0 0 1 286.36 79.23L290.92 108.37A197 197 0 0 0 260.43 115.67Z" fill="#000" /></clipPath><clipPath id="tc1"><path d="M331.56 105.86A197.4 197.4 0 0 1 490.69 201.48L464.96 216.91A167.4 167.4 0 0 0 330.02 135.82Z" fill="#000" /><path d="M493.92 207.06A197.4 197.4 0 0 1 510.1 360.94L481.43 352.14A167.4 167.4 0 0 0 467.7 221.64Z" fill="#000" /><path d="M508.11 367.07A197.4 197.4 0 0 1 423.6 471.88L408.07 446.22A167.4 167.4 0 0 0 479.74 357.33Z" fill="#000" /><path d="M418.39 474.93A197.4 197.4 0 0 1 288.34 497.61L293.37 468.04A167.4 167.4 0 0 0 403.65 448.8Z" fill="#000" /><path d="M282.72 496.57A197.4 197.4 0 0 1 180.36 441.11L201.8 420.12A167.4 167.4 0 0 0 288.6 467.15Z" fill="#000" /><path d="M176.7 437.27A197.4 197.4 0 0 1 141.77 384.86L169.07 372.42A167.4 167.4 0 0 0 198.69 416.87Z" fill="#000" /><path d="M139.2 378.96A197.4 197.4 0 0 1 125.18 324.52L155 321.25A167.4 167.4 0 0 0 166.89 367.41Z" fill="#000" /><path d="M124.57 317.97A197.4 197.4 0 0 1 128.31 261.96L157.66 268.2A167.4 167.4 0 0 0 154.48 315.7Z" fill="#000" /><path d="M129.74 255.75A197.4 197.4 0 0 1 148.19 208.32L174.51 222.71A167.4 167.4 0 0 0 158.87 262.93Z" fill="#000" /><path d="M151.67 202.22A197.4 197.4 0 0 1 178.52 166.79L200.23 187.49A167.4 167.4 0 0 0 177.46 217.54Z" fill="#000" /><path d="M183.02 162.23A197.4 197.4 0 0 1 215.86 136.18L231.9 161.53A167.4 167.4 0 0 0 204.05 183.62Z" fill="#000" /><path d="M220.68 133.23A197.4 197.4 0 0 1 254.79 117.18L264.92 145.42A167.4 167.4 0 0 0 235.99 159.03Z" fill="#000" /><path d="M260.3 115.29A197.4 197.4 0 0 1 290.86 107.98L295.5 137.62A167.4 167.4 0 0 0 269.59 143.82Z" fill="#000" /></clipPath><clipPath id="tc2"><path d="M329.81 139.72A163.5 163.5 0 0 1 461.62 218.91L439.75 232.03A138 138 0 0 0 328.5 165.18Z" fill="#000" /><path d="M464.29 223.53A163.5 163.5 0 0 1 477.7 350.99L453.32 343.51A138 138 0 0 0 442 235.93Z" fill="#000" /><path d="M476.05 356.07A163.5 163.5 0 0 1 406.05 442.88L392.85 421.07A138 138 0 0 0 451.93 347.79Z" fill="#000" /><path d="M401.74 445.4A163.5 163.5 0 0 1 294.02 464.19L298.29 439.05A138 138 0 0 0 389.21 423.19Z" fill="#000" /><path d="M289.36 463.33A163.5 163.5 0 0 1 204.58 417.39L222.8 399.55A138 138 0 0 0 294.36 438.32Z" fill="#000" /><path d="M201.55 414.21A163.5 163.5 0 0 1 172.62 370.8L195.83 360.23A138 138 0 0 0 220.24 396.87Z" fill="#000" /><path d="M170.49 365.91A163.5 163.5 0 0 1 158.87 320.83L184.22 318.05A138 138 0 0 0 194.02 356.1Z" fill="#000" /><path d="M158.37 315.4A163.5 163.5 0 0 1 161.47 269.01L186.42 274.31A138 138 0 0 0 183.8 313.47Z" fill="#000" /><path d="M162.65 263.86A163.5 163.5 0 0 1 177.93 224.58L200.31 236.81A138 138 0 0 0 187.41 269.97Z" fill="#000" /><path d="M180.81 219.53A163.5 163.5 0 0 1 203.06 190.19L221.51 207.78A138 138 0 0 0 202.74 232.55Z" fill="#000" /><path d="M206.78 186.4A163.5 163.5 0 0 1 233.99 164.83L247.62 186.38A138 138 0 0 0 224.66 204.59Z" fill="#000" /><path d="M237.98 162.39A163.5 163.5 0 0 1 266.23 149.09L274.84 173.09A138 138 0 0 0 250.99 184.32Z" fill="#000" /><path d="M270.79 147.53A163.5 163.5 0 0 1 296.1 141.47L300.05 166.66A138 138 0 0 0 278.69 171.78Z" fill="#000" /></clipPath></defs>
<path d="M333.41 69.91A233.4 233.4 0 0 1 521.57 182.96L515.74 186.46A226.6 226.6 0 0 0 333.06 76.7Z" fill="#FF9900" stroke="#777" stroke-width="0.4"/>
<text transform="translate(354.18 66.06) rotate(-82.12)" font-size="16" text-anchor="start" textLength="18.95" lengthAdjust="spacingAndGlyphs" ><tspan dy="2.9">50</tspan></text>
<text transform="translate(374.4 69.75) rotate(-77.2)" font-size="16" text-anchor="start" textLength="28.43" lengthAdjust="spacingAndGlyphs" ><tspan dy="2.9">100</tspan></text>
<text transform="translate(394.24 75.16) rotate(-72.27)" font-size="16" text-anchor="start" textLength="28.43" lengthAdjust="spacingAndGlyphs" ><tspan dy="2.9">150</tspan></text>
<text transform="translate(413.53 82.26) rotate(-67.35)" font-size="16" text-anchor="start" textLength="28.43" lengthAdjust="spacingAndGlyphs" ><tspan dy="2.9">200</tspan></text>
<text transform="translate(432.15 90.98) rotate(-62.42)" font-size="16" text-anchor="start" textLength="28.43" lengthAdjust="spacingAndGlyphs" ><tspan dy="2.9">250</tspan></text>
<text transform="translate(449.95 101.28) rotate(-57.49)" font-size="16" text-anchor="start" textLength="28.43" lengthAdjust="spacingAndGlyphs" ><tspan dy="2.9">300</tspan></text>
<text transform="translate(466.79 113.06) rotate(-52.57)" font-size="16" text-anchor="start" textLength="28.43" lengthAdjust="spacingAndGlyphs" ><tspan dy="2.9">350</tspan></text>
<text transform="translate(482.57 126.25) rotate(-47.64)" font-size="16" text-anchor="start" textLength="28.43" lengthAdjust="spacingAndGlyphs" ><tspan dy="2.9">400</tspan></text>
<text transform="translate(497.15 140.74) rotate(-42.72)" font-size="16" text-anchor="start" textLength="28.43" lengthAdjust="spacingAndGlyphs" ><tspan dy="2.9">450</tspan></text>
<text transform="translate(510.43 156.43) rotate(-37.79)" font-size="16" text-anchor="start" textLength="28.43" lengthAdjust="spacingAndGlyphs" ><tspan dy="2.9">500</tspan></text>
<text transform="translate(522.32 173.2) rotate(-32.86)" font-size="16" text-anchor="start" textLength="28.43" lengthAdjust="spacingAndGlyphs" ><tspan dy="2.9">550</tspan></text>
<text transform="translate(482 66.7) rotate(34.2)" font-size="16.5" text-anchor="middle" textLength="33.22" lengthAdjust="spacingAndGlyphs" ><tspan dy="5.9">Lle1</tspan></text>
<path d="M525.38 189.56A233.4 233.4 0 0 1 544.52 371.51L538.02 369.52A226.6 226.6 0 0 0 519.44 192.87Z" fill="#FFFF00" stroke="#777" stroke-width="0.4"/>
<text transform="translate(539.66 205.12) rotate(-24.15)" font-size="16" text-anchor="start" textLength="18.95" lengthAdjust="spacingAndGlyphs" ><tspan dy="2.9">50</tspan></text>
<text transform="translate(547.26 224.23) rotate(-19.23)" font-size="16" text-anchor="start" textLength="28.43" lengthAdjust="spacingAndGlyphs" ><tspan dy="2.9">100</tspan></text>
<text transform="translate(553.19 243.91) rotate(-14.3)" font-size="16" text-anchor="start" textLength="28.43" lengthAdjust="spacingAndGlyphs" ><tspan dy="2.9">150</tspan></text>
<text transform="translate(557.4 264.03) rotate(-9.38)" font-size="16" text-anchor="start" textLength="28.43" lengthAdjust="spacingAndGlyphs" ><tspan dy="2.9">200</tspan></text>
<text transform="translate(559.88 284.44) rotate(-4.45)" font-size="16" text-anchor="start" textLength="28.43" lengthAdjust="spacingAndGlyphs" ><tspan dy="2.9">250</tspan></text>
<text transform="translate(560.59 304.99) rotate(0.48)" font-size="16" text-anchor="start" textLength="28.43" lengthAdjust="spacingAndGlyphs" ><tspan dy="2.9">300</tspan></text>
<text transform="translate(559.54 325.52) rotate(5.4)" font-size="16" text-anchor="start" textLength="28.43" lengthAdjust="spacingAndGlyphs" ><tspan dy="2.9">350</tspan></text>
<text transform="translate(556.72 345.89) rotate(10.33)" font-size="16" text-anchor="start" textLength="28.43" lengthAdjust="spacingAndGlyphs" ><tspan dy="2.9">400</tspan></text>
<text transform="translate(552.17 365.94) rotate(15.25)" font-size="16" text-anchor="start" textLength="28.43" lengthAdjust="spacingAndGlyphs" ><tspan dy="2.9">450</tspan></text>
<text transform="translate(589.7 220.5) rotate(72.91)" font-size="16.5" text-anchor="middle" textLength="33.22" lengthAdjust="spacingAndGlyphs" ><tspan dy="5.9">Lle2</tspan></text>
<path d="M542.16 378.76A233.4 233.4 0 0 1 442.24 502.68L438.72 496.87A226.6 226.6 0 0 0 535.73 376.55Z" fill="#FF00CC" stroke="#777" stroke-width="0.4"/>
<text transform="translate(540.15 399.78) rotate(23.87)" font-size="16" text-anchor="start" textLength="18.95" lengthAdjust="spacingAndGlyphs" ><tspan dy="2.9">50</tspan></text>
<text transform="translate(531.03 418.21) rotate(28.79)" font-size="16" text-anchor="start" textLength="28.43" lengthAdjust="spacingAndGlyphs" ><tspan dy="2.9">100</tspan></text>
<text transform="translate(520.36 435.78) rotate(33.72)" font-size="16" text-anchor="start" textLength="28.43" lengthAdjust="spacingAndGlyphs" ><tspan dy="2.9">150</tspan></text>
<text transform="translate(508.22 452.38) rotate(38.64)" font-size="16" text-anchor="start" textLength="28.43" lengthAdjust="spacingAndGlyphs" ><tspan dy="2.9">200</tspan></text>
<text transform="translate(494.71 467.87) rotate(43.57)" font-size="16" text-anchor="start" textLength="28.43" lengthAdjust="spacingAndGlyphs" ><tspan dy="2.9">250</tspan></text>
<text transform="translate(479.91 482.14) rotate(48.5)" font-size="16" text-anchor="start" textLength="28.43" lengthAdjust="spacingAndGlyphs" ><tspan dy="2.9">300</tspan></text>
<text transform="translate(463.94 495.09) rotate(53.42)" font-size="16" text-anchor="start" textLength="28.43" lengthAdjust="spacingAndGlyphs" ><tspan dy="2.9">350</tspan></text>
<text transform="translate(446.92 506.62) rotate(58.35)" font-size="16" text-anchor="start" textLength="28.43" lengthAdjust="spacingAndGlyphs" ><tspan dy="2.9">400</tspan></text>
<text transform="translate(556.4 479.5) rotate(306.91)" font-size="16.5" text-anchor="middle" textLength="33.22" lengthAdjust="spacingAndGlyphs" ><tspan dy="5.9">Lle3</tspan></text>
<path d="M436.08 506.28A233.4 233.4 0 0 1 282.32 533.1L283.45 526.4A226.6 226.6 0 0 0 432.74 500.36Z" fill="#666600" stroke="#777" stroke-width="0.4"/>
<text transform="translate(420.61 520.66) rotate(65.5)" font-size="16" text-anchor="start" textLength="18.95" lengthAdjust="spacingAndGlyphs" ><tspan dy="2.9">50</tspan></text>
<text transform="translate(401.55 528.37) rotate(70.42)" font-size="16" text-anchor="start" textLength="28.43" lengthAdjust="spacingAndGlyphs" ><tspan dy="2.9">100</tspan></text>
<text transform="translate(381.9 534.42) rotate(75.35)" font-size="16" text-anchor="start" textLength="28.43" lengthAdjust="spacingAndGlyphs" ><tspan dy="2.9">150</tspan></text>
<text transform="translate(361.81 538.76) rotate(80.27)" font-size="16" text-anchor="start" textLength="28.43" lengthAdjust="spacingAndGlyphs" ><tspan dy="2.9">200</tspan></text>
<text transform="translate(341.41 541.36) rotate(85.2)" font-size="16" text-anchor="start" textLength="28.43" lengthAdjust="spacingAndGlyphs" ><tspan dy="2.9">250</tspan></text>
<text transform="translate(320.84 554.9) rotate(270.13)" font-size="16" text-anchor="middle" textLength="28.43" lengthAdjust="spacingAndGlyphs" ><tspan dy="3.2">300</tspan></text>
<text transform="translate(299.21 553.92) rotate(275.05)" font-size="16" text-anchor="middle" textLength="28.43" lengthAdjust="spacingAndGlyphs" ><tspan dy="3.27">350</tspan></text>
<text transform="translate(433.3 574.4) rotate(337.59)" font-size="16.5" text-anchor="middle" textLength="33.22" lengthAdjust="spacingAndGlyphs" ><tspan dy="5.9">Lle4</tspan></text>
<path d="M275.67 531.88A233.4 233.4 0 0 1 154.64 466.3L159.5 461.54A226.6 226.6 0 0 0 277 525.21Z" fill="#FFCCCC" stroke="#777" stroke-width="0.4"/>
<text transform="translate(251.01 544.87) rotate(286.23)" font-size="16" text-anchor="middle" textLength="18.95" lengthAdjust="spacingAndGlyphs" ><tspan dy="3.43">50</tspan></text>
<text transform="translate(230.5 537.93) rotate(291.15)" font-size="16" text-anchor="middle" textLength="28.43" lengthAdjust="spacingAndGlyphs" ><tspan dy="3.5">100</tspan></text>
<text transform="translate(210.66 529.26) rotate(296.08)" font-size="16" text-anchor="middle" textLength="28.43" lengthAdjust="spacingAndGlyphs" ><tspan dy="3.57">150</tspan></text>
<text transform="translate(191.65 518.91) rotate(301)" font-size="16" text-anchor="middle" textLength="28.43" lengthAdjust="spacingAndGlyphs" ><tspan dy="3.64">200</tspan></text>
<text transform="translate(173.58 506.97) rotate(305.93)" font-size="16" text-anchor="middle" textLength="28.43" lengthAdjust="spacingAndGlyphs" ><tspan dy="3.78">250</tspan></text>
<text transform="translate(156.61 493.52) rotate(310.86)" font-size="16" text-anchor="middle" textLength="28.43" lengthAdjust="spacingAndGlyphs" ><tspan dy="4.19">300</tspan></text>
<text transform="translate(189.7 548.7) rotate(388.19)" font-size="16.5" text-anchor="middle" textLength="33.22" lengthAdjust="spacingAndGlyphs" ><tspan dy="5.9">Lle5</tspan></text>
<path d="M150.31 461.76A233.4 233.4 0 0 1 109.02 399.79L115.2 396.97A226.6 226.6 0 0 0 155.3 457.14Z" fill="#99991E" stroke="#777" stroke-width="0.4"/>
<text transform="translate(122.72 457.86) rotate(322.07)" font-size="16" text-anchor="middle" textLength="18.95" lengthAdjust="spacingAndGlyphs" ><tspan dy="5.12">50</tspan></text>
<text transform="translate(110.16 440.22) rotate(326.99)" font-size="16" text-anchor="middle" textLength="28.43" lengthAdjust="spacingAndGlyphs" ><tspan dy="5.53">100</tspan></text>
<text transform="translate(99.15 421.58) rotate(331.92)" font-size="16" text-anchor="middle" textLength="28.43" lengthAdjust="spacingAndGlyphs" ><tspan dy="5.94">150</tspan></text>
<text transform="translate(78 453.8) rotate(418.22)" font-size="16.5" text-anchor="middle" textLength="33.22" lengthAdjust="spacingAndGlyphs" ><tspan dy="5.9">Lle6</tspan></text>
<path d="M105.97 392.81A233.4 233.4 0 0 1 89.39 328.45L96.15 327.71A226.6 226.6 0 0 0 112.25 390.19Z" fill="#FF0000" stroke="#777" stroke-width="0.4"/>
<text transform="translate(81.43 379.6) rotate(342.3)" font-size="16" text-anchor="middle" textLength="18.95" lengthAdjust="spacingAndGlyphs" ><tspan dy="6.81">50</tspan></text>
<text transform="translate(75.74 358.71) rotate(347.22)" font-size="16" text-anchor="middle" textLength="28.43" lengthAdjust="spacingAndGlyphs" ><tspan dy="7.2">100</tspan></text>
<text transform="translate(71.86 337.41) rotate(352.15)" font-size="16" text-anchor="middle" textLength="28.43" lengthAdjust="spacingAndGlyphs" ><tspan dy="7.31">150</tspan></text>
<text transform="translate(48.7 366.7) rotate(436.85)" font-size="16.5" text-anchor="middle" textLength="33.22" lengthAdjust="spacingAndGlyphs" ><tspan dy="5.9">Lle7</tspan></text>
<path d="M88.67 320.7A233.4 233.4 0 0 1 93.1 254.47L99.75 255.89A226.6 226.6 0 0 0 95.45 320.19Z" fill="#FFCC00" stroke="#777" stroke-width="0.4"/>
<text transform="translate(69.51 300.47) rotate(360.58)" font-size="16" text-anchor="middle" textLength="18.95" lengthAdjust="spacingAndGlyphs" ><tspan dy="7.5">50</tspan></text>
<text transform="translate(70.66 278.85) rotate(365.5)" font-size="16" text-anchor="middle" textLength="28.43" lengthAdjust="spacingAndGlyphs" ><tspan dy="7.6">100</tspan></text>
<text transform="translate(73.66 257.4) rotate(370.43)" font-size="16" text-anchor="middle" textLength="28.43" lengthAdjust="spacingAndGlyphs" ><tspan dy="7.68">150</tspan></text>
<text transform="translate(45.1 279.5) rotate(274.86)" font-size="16.5" text-anchor="middle" textLength="33.22" lengthAdjust="spacingAndGlyphs" ><tspan dy="5.9">Lle8</tspan></text>
<path d="M94.79 247.13A233.4 233.4 0 0 1 116.6 191.06L122.56 194.32A226.6 226.6 0 0 0 101.39 248.76Z" fill="#358000" stroke="#777" stroke-width="0.4"/>
<text transform="translate(82.91 221.92) rotate(378.78)" font-size="16" text-anchor="middle" textLength="18.95" lengthAdjust="spacingAndGlyphs" ><tspan dy="7.26">50</tspan></text>
<text transform="translate(90.75 201.74) rotate(383.7)" font-size="16" text-anchor="middle" textLength="28.43" lengthAdjust="spacingAndGlyphs" ><tspan dy="7.01">100</tspan></text>
<text transform="translate(100.3 182.31) rotate(388.63)" font-size="16" text-anchor="middle" textLength="28.43" lengthAdjust="spacingAndGlyphs" ><tspan dy="6.77">150</tspan></text>
<text transform="translate(64.1 192.3) rotate(293.28)" font-size="16.5" text-anchor="middle" textLength="33.22" lengthAdjust="spacingAndGlyphs" ><tspan dy="5.9">Lle9</tspan></text>
<path d="M120.71 183.84A233.4 233.4 0 0 1 152.46 141.95L157.38 146.65A226.6 226.6 0 0 0 126.56 187.31Z" fill="#00FF00" stroke="#777" stroke-width="0.4"/>
<text transform="translate(116.65 156.27) rotate(395.63)" font-size="16" text-anchor="middle" textLength="18.95" lengthAdjust="spacingAndGlyphs" ><tspan dy="6.42">50</tspan></text>
<text transform="translate(130 139.23) rotate(400.55)" font-size="16" text-anchor="middle" textLength="28.43" lengthAdjust="spacingAndGlyphs" ><tspan dy="6.19">100</tspan></text>
<text transform="translate(97.4 138.5) rotate(306.29)" font-size="16.5" text-anchor="middle" textLength="43" lengthAdjust="spacingAndGlyphs" ><tspan dy="5.9">Lle10</tspan></text>
<path d="M157.78 136.56A233.4 233.4 0 0 1 196.61 105.76L200.25 111.51A226.6 226.6 0 0 0 162.55 141.41Z" fill="#CC0000" stroke="#777" stroke-width="0.4"/>
<text transform="translate(160.89 108.86) rotate(410.42)" font-size="16" text-anchor="middle" textLength="18.95" lengthAdjust="spacingAndGlyphs" ><tspan dy="6.1">50</tspan></text>
<text transform="translate(178.15 95.8) rotate(415.34)" font-size="16" text-anchor="middle" textLength="28.43" lengthAdjust="spacingAndGlyphs" ><tspan dy="6.05">100</tspan></text>
<text transform="translate(143.6 84.6) rotate(320.85)" font-size="16.5" text-anchor="middle" textLength="41.69" lengthAdjust="spacingAndGlyphs" ><tspan dy="5.9">Lle11</tspan></text>
<path d="M202.31 102.27A233.4 233.4 0 0 1 242.65 83.29L244.94 89.69A226.6 226.6 0 0 0 205.78 108.12Z" fill="#996600" stroke="#777" stroke-width="0.4"/>
<text transform="translate(211.95 76.12) rotate(424.25)" font-size="16" text-anchor="middle" textLength="18.95" lengthAdjust="spacingAndGlyphs" ><tspan dy="5.96">50</tspan></text>
<text transform="translate(231.83 67.56) rotate(429.17)" font-size="16" text-anchor="middle" textLength="28.43" lengthAdjust="spacingAndGlyphs" ><tspan dy="5.91">100</tspan></text>
<text transform="translate(192.3 51.3) rotate(332.85)" font-size="16.5" text-anchor="middle" textLength="43" lengthAdjust="spacingAndGlyphs" ><tspan dy="5.9">Lle12</tspan></text>
<path d="M249.16 81.06A233.4 233.4 0 0 1 285.29 72.41L286.34 79.13A226.6 226.6 0 0 0 251.26 87.53Z" fill="#CCFF00" stroke="#777" stroke-width="0.4"/>
<text transform="translate(264.29 57.66) rotate(436.9)" font-size="16" text-anchor="middle" textLength="18.95" lengthAdjust="spacingAndGlyphs" ><tspan dy="5.83">50</tspan></text>
<text transform="translate(251.3 31.8) rotate(345.51)" font-size="16.5" text-anchor="middle" textLength="43" lengthAdjust="spacingAndGlyphs" ><tspan dy="5.9">Lle13</tspan></text>
<g clip-path="url(#tc0)"><path d="M329.35 109.16L329.97 94.15L332.16 94.25L332.14 101.41L333.3 86.56L333.15 95.79L333.91 88.98L333.55 101.16L334.06 98.52L334.25 101.11L334.62 100.78L335 100.37L335.74 94.6L335.66 100.91L336.04 100.55L336.36 100.87L337.52 90.18L337.04 101.24L337.41 100.98L337.73 101.28L338.18 100.14L338.44 101.19L338.98 98.95L339.07 102.02L339.7 98.91L339.74 102.33L340.23 100.8L341.17 94.6L341.07 99.43L341.53 98.33L341.68 100.34L341.82 102.44L342.62 98.09L342.64 101.32L343.02 101.01L343.54 99.55L343.54 102.72L344.35 98.58L344.42 101.14L344.55 103.09L345.36 99.17L345.34 102.32L345.65 102.62L346.14 101.48L346.33 102.77L347.48 96.45L346.99 103.15L347.8 99.57L347.87 101.79L348.38 100.59L350.08 90.64L348.64 103.84L349.68 98.91L349.32 104.03L349.67 104.03L350.48 100.8L350.43 103.61L351.26 100.36L351.58 100.62L351.58 102.93L353 95.98L352.51 101.54L353.41 98.01L353.23 101.46L353.56 101.63L355.39 92.51L353.92 103.79L354.1 104.81L354.75 103.05L354.84 104.63L355.16 104.79L356.04 101.72L355.8 105.15L356.8 101.45L356.88 103.03L358.05 98.5L357.52 103.41L357.84 103.62L358.2 103.61L358.51 103.83L358.77 104.33L359.18 104.07L360.5 99L360.06 103.21L359.84 106.16L360.4 105.1L361.31 102.32L360.98 105.74L361.52 104.84L362.15 103.46L362.46 103.68L363.27 101.52L364.2 98.8L362.98 106.34L363.29 106.53L363.66 106.49L364.68 103.4L364.73 104.83L364.73 106.44L365.43 104.89L365.43 106.5L365.68 106.96L366.99 102.79L366.7 105.63L367.99 101.59L367.35 105.88L367.32 107.54L369.13 101.39L368.53 105.48L370.19 100.06L369.08 106.18L370.15 103.25L369.41 107.74L370.5 104.78L370.91 104.59L370.99 105.73L371.7 104.35L372.16 103.98L371.78 106.87L372.4 105.88L376.57 91.27L373.62 103.99L373.29 106.62L373.14 108.58L374.22 105.88L374.48 106.24L374.11 108.97L375.69 104.49L374.81 109.01L375.61 107.42L376.12 106.92L379.33 96.79L377.02 106.31L376.57 109.18L377.06 108.71L377.83 107.32L377.7 109.01L378.72 106.78L378.91 107.37L378.65 109.51L380.83 103.41L379.64 108.6L379.51 110.27L380.75 107.38L380.51 109.37L382.07 105.48L381.3 109.17L382.14 107.65L382.78 106.77L381.83 110.97L382.9 108.75L383.9 106.75L382.8 111.37L383.38 110.7L383.83 110.43L386.28 104.04L385.7 106.97L387.18 103.62L385.14 110.92L385.22 111.79L387.22 106.91L387.89 106.05L386.8 110.38L388.02 107.87L386.71 112.8L387.03 112.93L388.38 110.08L388.38 111.17L391.64 102.94L389.61 109.77L390.46 108.46L390.83 108.46L390.01 111.81L390.12 112.54L390.36 112.89L390.55 113.39L390.63 114.19L390.89 114.49L391.18 114.7L391.76 114.12L392.01 114.44L392.53 114.05L392.77 114.4L393.66 113.04L393.13 115.41L394.26 113.43L394.96 112.59L394.58 114.55L394.56 115.56L397.07 110.11L395.37 115.4L395.32 116.46L395.74 116.33L396.74 114.77L398.61 111.05L399.59 109.59L397.87 114.79L397.69 116.14L398.32 115.52L398.01 117.19L400.36 112.42L400.04 114.14L398.84 117.9L400.33 115.24L399.91 117.16L400.15 117.47L403.73 109.96L402.62 113.47L402.16 115.44L403.34 113.59L401.58 118.54L402.39 117.55L404.2 114.3L402.33 119.42L404.63 115.07L403.48 118.53L404.18 117.83L403.79 119.54L404.45 118.92L409.86 107.83L404.8 119.84L404.94 120.37L405.66 119.62L405.62 120.54L406.8 118.82L409.27 114.35L406.55 121L407.06 120.74L408.07 119.42L413.16 109.5L409.12 118.83L410.13 117.53L408.45 121.86L409.54 120.39L410.25 119.73L413.54 113.78L410.81 120.19L410.69 121.23L410.8 121.78L411.41 121.33L411.23 122.5L412.82 120.08L412.55 121.41L412.58 122.13L412.95 122.16L412.59 123.65L414.05 121.55L413.17 124.03L413.27 124.6L417.67 116.84L419.57 113.96L420.05 113.84L422.9 109.2L424.97 106.07L423.93 108.85L415.86 124.88L423.21 111.81L418.87 120.73L416.68 125.57L416.65 126.35L416.86 126.69L417.35 126.5L419.59 123.13L418.92 125.08L419.53 124.71L424.14 117.08L418.6 127.83L421.19 123.88L419.54 127.56L422.74 122.56L421.75 125.05L420.31 128.31L421.89 126.23L423.36 124.36L421.19 128.86L421.6 128.84L423.82 125.7L423.08 127.67L423.95 126.86L422.63 129.82L423.55 128.94L424.23 128.47L423.51 130.38L425.02 128.5L424 130.91L424.42 130.88L424.54 131.34L430.09 122.82L431.54 121.12L425.39 131.94L426.38 130.98L434.41 118.55L426.65 131.87L430.63 126.08L428.24 130.62L427.17 133L428.74 131.13L430.52 128.96L428.6 132.66L428.58 133.35L429.44 132.64L429.16 133.72L429.8 133.37L429.86 133.93L430.16 134.1L430.65 133.97L430.27 135.2L433.89 130.27L430.9 135.5L432.52 133.65L432.62 134.14L433.7 133.13L432.46 135.63L435.41 131.83L432.89 136.24L434.12 135.03L434.84 134.59L435.1 134.82L435.23 135.26L434.01 137.66L434.72 137.24L434.76 137.79L435.42 137.44L436.97 135.81L436.04 137.77L437.01 136.99L435.9 139.17L436.63 138.73L437.96 137.45L441.31 133.32L437.83 138.84L440.68 135.44L438.67 138.85L438.07 140.3L438.51 140.27L438.8 140.46L440.22 139.09L439.56 140.59L441.23 138.89L442.29 138.04L441.08 140.28L441.24 140.64L440.59 142.11L440.72 142.51L443.26 139.69L444.47 138.65L444.02 139.84L443.75 140.78L445.02 139.68L444.27 141.25L442.72 143.87L443.12 143.92L449.01 136.81L445.02 142.57L443.69 144.87L446.13 142.29L444.2 145.33L445.07 144.78L445.57 144.7L445.84 144.92L445.54 145.86L446.04 145.78L445.84 146.59L446.64 146.14L446.88 146.39L447.28 146.45L457.28 134.61L448.11 146.52L449.34 145.57L451.27 143.76L450.27 145.53L448.46 148.29L449.16 147.98L454.52 142.05L451.86 145.82L452.46 145.64L454.98 143.18L454.17 144.71L450.97 149.06L451.16 149.37L454.88 145.52L453.32 147.9L453.19 148.59L452.16 150.33L452.58 150.38L452.31 151.22L452.36 151.69L452.86 151.64L453.25 151.72L453.29 152.2L455.02 150.75L455.19 151.09L454.97 151.86L456.09 151.12L455.08 152.78L455.78 152.53L456.36 152.4L456.12 153.19L457.67 151.99L455.7 154.68L459.1 151.45L458.92 152.18L458.51 153.14L457.88 154.35L458.63 154.05L458.21 155.02L459.95 153.65L457.76 156.52L461.45 153.08L458.87 156.34L458.34 157.41L462.38 153.63L459.76 156.92L460.82 156.3L459.57 158.12L459.71 158.48L460.53 158.12L462.47 156.6L460.49 159.15L461.44 158.67L461.5 159.11L461.58 159.52L463.35 158.21L464.05 157.99L462.32 160.25L464.23 158.81L462.46 161.09L463.24 160.79L464.22 160.3L463.81 161.2L464.01 161.5L464.67 161.32L465.87 160.63L473.66 153.47L466.57 160.93L465.44 162.52L465.13 163.3L467.62 161.37L467.11 162.35L468.04 161.94L465.67 164.7L465.93 164.93L466.36 164.99L466.64 165.21L468.08 164.32L467.94 164.92L468.77 164.62L471.25 162.78L468.65 165.69L468.91 165.92L470.81 164.64L468.34 167.39L470.68 165.71L468.93 167.79L469.83 167.43L475.41 162.82L470.53 167.73L470.68 168.07L471.14 168.12L470.31 169.33L470.95 169.22L472.06 168.69L470.89 170.19L478.08 164.3L472.11 170.04L473.06 169.67L472.43 170.68L476.31 167.76L472.46 171.57L473.33 171.28L472.85 172.15L474.72 171L476.26 170.13L474.61 172.01L473.81 173.14L474.92 172.65L474.95 173.08L478.32 170.69L474.83 174.09L480.49 169.8L479.1 171.43L475.3 175.05L481.39 170.45L479.08 172.82L477.9 174.25L477.11 175.35L478.32 174.81L478.11 175.43L477.46 176.41L477.77 176.6L480.26 175.04L486.29 170.65L478.41 177.42L482.49 174.61L480.17 176.9L481.97 175.93L479.33 178.46L479.28 178.94L485.49 174.52L482.55 177.27L480.43 179.36L480.63 179.65L481.79 179.19L482.15 179.35L485.47 177.25L482.77 179.76L481.83 180.91L485.27 178.74L484.9 179.47L482.87 181.44L489.35 177.01L482.5 182.58L483.42 182.33L482.86 183.18L485.99 181.3L483.35 183.68L484.54 183.23L485.05 183.29L486.04 183L485.02 184.18L494.55 177.72L492.07 179.96L487.95 183.36L485.2 185.76L490.9 182.13L488.7 184.13L490.32 183.42L496.44 179.54L487.3 186.41L488.84 185.76L488.28 186.58L487.22 187.75L488.15 187.52L489.37 187.11L488.19 188.34L490.97 186.86L488.69 188.85L489.46 188.74L489.77 188.96L489.76 189.39L491.47 188.66L488.99 190.75L489.64 190.73L497.69 185.8L493.5 189.01L493.36 189.53L491.93 190.9L499.08 186.63L490.62 192.59L493.06 191.42L493.28 191.69L491.36 193.36L493.58 192.34L492.66 193.35L494.76 192.43L501.42 188.62L493.85 193.85L496.79 192.41L497.92 192.12L493.46 195.33L496.24 194.01L494.49 195.52L495.24 195.47L501.96 191.74L501.13 192.67L495.2 196.73L497.26 195.89L494.79 197.8L497.04 196.85L494.85 198.58L498.56 196.76L499.66 198.62L488.81 204.98A194 194 0 0 0 329.35 109.16ZM489.95 206.94L499.19 201.67L500.25 203.54L508.98 199.1L506.36 200.97L505.95 201.61L507.1 201.4L504.98 202.97L500.85 205.62L505.38 203.57L502.6 205.47L506 204.06L511.41 201.58L515.08 200.05L504.55 206.05L504.77 206.34L502.62 207.87L502.12 208.53L514.06 202.71L503.13 208.8L504.45 208.52L506.38 207.92L505.48 208.79L508.24 207.78L503.84 210.42L508.4 208.51L505 210.63L511.4 207.82L507.57 210.14L506.36 211.14L507.55 210.95L503.82 213.18L505.26 212.87L510.64 210.63L518.88 207.03L511.1 211.22L511.79 211.29L506.05 214.45L505.35 215.17L509.4 213.63L506.34 215.48L509.74 214.27L505.6 216.61L508.33 215.72L509.68 215.49L508.95 216.22L505.77 218.07L522.16 210.95L510.78 216.56L509.25 217.65L506.14 219.45L519.94 213.62L509.77 218.58L508.06 219.74L513.17 217.85L507.61 220.71L508.44 220.73L507.49 221.53L510.1 220.77L507.36 222.34L510 221.59L515.6 219.57L506.99 223.65L509.06 223.14L513.49 221.65L508.44 224.17L508.45 224.54L510.45 224.09L510.67 224.38L509.5 225.24L511.46 224.82L508.63 226.36L509.45 226.4L508.28 227.25L508.52 227.53L511.35 226.77L508.5 228.29L512.19 227.2L509.8 228.53L509.73 228.93L511.86 228.47L511.11 229.14L513.76 228.49L511.54 229.73L511.45 230.14L516.83 228.46L509.7 231.55L510.4 231.66L513.68 230.8L512.57 231.59L515.96 230.71L512.72 232.28L512.65 232.69L510.42 233.88L510.87 234.08L515.29 232.85L512.74 234.15L512.74 234.52L514.17 234.38L511.81 235.59L521.43 232.58L512.22 236.19L511.53 236.8L512.17 236.94L521.83 233.98L512.31 237.63L511.9 238.14L512.8 238.2L523.12 235.09L515.69 237.97L513.27 239.15L515.84 238.66L514.56 239.46L514.9 239.71L514.06 240.36L520.59 238.61L517.43 240.01L517 240.52L514.98 241.53L517.65 241.05L513.67 242.68L514.8 242.69L516.31 242.58L514.55 243.5L516.86 243.15L515.19 244.03L515.36 244.34L514.58 244.94L516.86 244.62L514.56 245.67L518.2 244.96L515.45 246.14L522.89 244.33L519.3 245.75L521.27 245.56L522.3 245.63L520.93 246.4L516.71 247.96L515.32 248.71L518.34 248.23L529.86 245.41L516.16 249.56L516.96 249.7L516.77 250.12L516.69 250.5L525.24 248.58L517.3 251.06L516.69 251.58L519.54 251.2L517.05 252.21L528.41 249.64L522.63 251.5L518.3 252.97L516.89 253.69L517.37 253.93L517.44 254.27L519.96 254L530.3 251.83L519.55 254.83L520.69 254.92L520.85 255.24L518.83 256.09L519.5 256.29L520.14 256.5L518.17 257.31L519.96 257.26L519.32 257.77L518.18 258.39L518.76 258.61L519.18 258.87L519.88 259.08L518.6 259.72L524.26 258.84L520.94 259.93L522.46 259.96L522.27 260.36L524.61 260.23L521.77 261.19L521.87 261.53L524.19 261.42L523.78 261.86L519.77 263.03L520.79 263.19L522.55 263.2L522.65 263.54L531.81 262.12L521.2 264.54L520.88 264.95L525.95 264.35L520.74 265.69L520.69 266.06L523.01 265.99L524.43 266.09L521.72 266.94L520.64 267.49L525.09 267.06L519.82 268.34L522.65 268.2L521.04 268.84L526.35 268.29L519.91 269.73L521.35 269.85L527.07 269.26L521.71 270.5L522.07 270.79L523.39 270.94L519.95 271.84L529.75 270.67L522.26 272.18L525.48 272.05L519.97 273.24L524.17 272.96L521.92 273.65L523.09 273.83L521.97 274.35L525.08 274.26L530.89 273.81L527.86 274.6L520.47 275.96L520.1 276.36L523.4 276.27L521.54 276.87L523.29 277L519.87 277.79L521.32 277.95L521.06 278.33L524.9 278.22L519.84 279.18L524.16 279.02L523.89 279.4L521.06 280.08L524.46 280.05L527.54 280.06L524.4 280.76L524.96 281.05L525.47 281.36L520.97 282.18L524.77 282.14L521.26 282.85L522.35 283.09L520.26 283.64L521.58 283.86L521.3 284.24L520.42 284.66L522.52 284.82L522.77 285.15L522.51 285.52L524.26 285.72L523.1 286.17L520.84 286.7L527.62 286.51L529.37 286.73L524.93 287.43L527.18 287.62L527.16 287.97L524.66 288.51L523.29 288.96L521.45 289.43L522.94 289.68L522.45 290.06L524.02 290.31L526.7 290.5L524.53 290.98L522.59 291.44L525.54 291.63L522.4 292.15L521.92 292.52L523.64 292.78L522.68 293.18L524.95 293.42L522.59 293.88L527.69 294L522.11 294.59L522.05 294.94L529.2 295.02L537.01 295.09L533.73 295.58L535.57 295.88L524.71 296.59L523.07 296.99L526.11 297.26L525.32 297.63L523.62 298.02L530.35 298.22L533.05 298.52L522.37 299.09L525.54 299.39L525.68 299.74L527.39 300.06L524.12 300.46L538.97 300.65L522.78 301.17L525.55 301.5L535.37 301.79L522.52 302.21L524.77 302.56L522.72 302.91L527.53 303.26L527.13 303.62L528.79 303.98L525.38 304.31L534.38 304.74L524.18 305.01L523.35 305.35L526.27 305.73L531.26 306.16L525.51 306.43L522.97 306.73L522.71 307.07L524.53 307.46L531.44 307.98L526.65 308.22L524.31 308.51L530.04 309.02L523.18 309.17L536.29 309.95L522.61 309.85L523.64 310.24L522.51 310.54L532.83 311.29L522.76 311.25L522.55 311.59L528.54 312.2L534.14 312.82L522.51 312.63L522.46 312.97L523.82 313.39L525.99 313.86L527.96 314.32L523.97 314.45L524.89 314.85L523.08 315.1L524.97 315.56L522.35 315.75L529.52 316.56L526.61 316.73L522.41 316.8L522.51 317.15L525.19 317.69L522.56 317.85L522.12 318.17L524.33 318.69L527.67 319.3L524.18 319.38L528.93 320.12L530.85 320.65L532.49 321.15L522.1 320.61L527.78 321.46L523.85 321.46L523.63 321.8L522.06 322L525.05 322.64L522.86 322.78L525.22 323.36L528.23 324.02L521.84 323.72L522.47 324.14L528.88 325.18L522.62 324.86L522.76 325.22L522.64 325.56L523.08 325.96L525.27 326.57L522.52 326.6L526.58 327.44L527.87 327.95L531.41 328.75L523.2 328.1L528.73 329.15L523.51 328.84L524.83 329.37L524.36 329.66L529.43 330.7L524.07 330.34L521.67 330.36L522.12 330.78L525.16 331.56L524.85 331.87L522.18 331.85L524.87 332.59L522.99 332.67L521.98 332.88L541.41 336.16L521.22 333.47L527.02 334.72L524.99 334.76L521.44 334.56L534.69 337.03L522.75 335.48L525.87 336.35L521.32 335.96L530.35 337.82L521.6 336.72L521.34 337.03L527.06 338.37L524.42 338.27L520.94 338.02L521.4 338.46L524.35 339.34L527.05 340.19L523.84 339.97L522.96 340.17L521.86 340.33L524.12 341.11L532.93 343.14L520.6 341.16L520.63 341.52L520.56 341.86L523.28 342.76L524.18 343.3L522.35 343.29L523.15 343.82L521.68 343.88L521.17 344.13L525.25 345.34L521.95 345.02L521.01 345.18L520.28 345.38L521.41 345.98L525.01 347.12L523.38 347.14L521.21 347.02L523.03 347.79L532.55 350.29L522.49 348.4L520.36 348.28L521.42 348.88L526.3 350.37L520.34 349.36L520.86 349.84L522.02 350.48L522.53 350.97L522.38 351.3L519.94 351.07L534.52 354.99L524.22 352.85L526.11 353.69L526.54 354.17L519.42 352.76L521.88 353.74L521.43 354L536.91 358.34L522.6 355.04L520.13 354.76L521.36 355.45L528.85 357.8L521.25 356.16L526.36 357.9L521.29 356.91L521 357.2L518.43 356.87L519.01 357.4L519.81 357.98L531.56 361.63L519.07 358.51L521.35 359.53L518.73 359.15L522.2 360.51L524.09 361.43L519.48 360.48L523.28 361.96L518.8 361.02L521.54 362.2L519.68 362.02L518.1 361.92L519.96 362.85L519.02 362.94L518.68 363.21L523.79 365.15L523.13 367.26L506.25 361.89A194 194 0 0 0 489.95 206.94ZM505.55 364.04L519.99 368.83L519.29 370.91L515.81 370.09L517.1 370.91L522.43 373.15L515.42 371.08L522.57 373.98L514.77 371.6L515 372.06L514.64 372.31L517.93 373.87L514.8 373.12L513.9 373.17L516.63 374.55L514.95 374.31L528.55 379.73L516.56 375.68L517.13 376.27L517.45 376.78L515.77 376.53L512.98 375.85L517.92 378.12L514.01 377.01L512.97 376.98L514.47 377.95L522.74 381.56L513.26 378.24L513.88 378.87L515.04 379.71L513.36 379.43L511.03 378.88L514.51 380.66L512.27 380.14L515.15 381.7L514.92 381.99L509.93 380.34L509.27 380.45L508.91 380.68L509.57 381.33L513 383.15L509.62 382.12L512.95 383.91L521 387.71L512.65 384.56L510.05 383.84L511.05 384.65L508.3 383.85L507.07 383.7L509.8 385.27L510.66 386.04L508.12 385.31L506.52 384.99L511.74 387.69L507.26 386.08L506.01 385.91L508.46 387.4L506.8 387.03L506.96 387.49L508.49 388.58L508.2 388.84L513.41 391.63L505.77 388.49L504.86 388.46L510.08 391.28L504.36 389L504.04 389.23L505.93 390.51L507.26 391.54L507.39 391.99L508.65 392.99L503.49 390.9L506.41 392.71L503.12 391.5L502.83 391.74L511.1 396.19L504.02 393.11L503.69 393.34L503.42 393.59L503.83 394.19L503.97 394.66L502.67 394.4L503.23 395.07L501.42 394.55L501.16 394.81L501.38 395.31L501.37 395.7L506.93 398.97L501.4 396.5L502.61 397.53L500.04 396.58L509.82 402.12L499.51 397.09L499.53 397.49L501.19 398.77L501.11 399.13L503.45 400.79L499.17 398.88L499.29 399.35L505.59 403.17L501.63 401.42L500.28 401.08L498.29 400.39L500.53 402.03L498.81 401.47L500.62 402.89L499.77 402.82L510.35 409.17L499.85 403.68L497.17 402.56L498.19 403.54L502.7 406.52L496.89 403.6L496.78 403.94L495.81 403.79L499.18 406.15L496.07 404.74L495.28 404.69L496.98 406.09L499.61 408.05L498.46 407.78L494.52 405.86L494.64 406.33L496.46 407.83L496.45 408.23L494.78 407.64L493.72 407.4L500.82 412.13L498.75 411.29L502.28 413.87L495.26 409.99L492.66 408.79L494.66 410.44L492.66 409.61L492.4 409.87L495.11 411.97L492.46 410.72L492.22 410.98L496.42 414.06L492.79 412.17L491.9 412.02L493.41 413.41L491.25 412.44L490.89 412.62L495.62 416.1L491.3 413.72L490.29 413.48L490.26 413.87L490.23 414.27L493.21 416.66L492.04 416.31L490.82 415.92L489.47 415.44L497.68 421.38L488.3 415.5L490.24 417.23L492.94 419.49L488.79 417.1L487.36 416.54L487.3 416.92L487.17 417.25L487.97 418.23L499.45 426.63L488.34 419.34L486.35 418.38L489.97 421.34L486.54 419.36L485.5 419.06L485.15 419.23L485.94 420.22L488.01 422.13L487.02 421.85L485.09 420.89L490.18 425L487.16 423.26L483.79 421.24L483.49 421.45L485.57 423.41L485.18 423.56L488.46 426.42L483.28 423.02L485.61 425.19L482.91 423.61L481.91 423.3L482.92 424.49L481.95 424.2L481.21 424.08L484.22 426.8L481.23 424.96L482.66 426.49L480.96 425.63L482.1 426.95L479.82 425.62L483.03 428.56L479.91 426.58L478.96 426.27L479.41 427.06L479.94 427.92L479 427.62L478.28 427.5L480.26 429.51L477.61 427.84L477.64 428.31L477.31 428.49L482.36 433.02L476.73 428.91L482.23 433.83L482.36 434.4L479.45 432.48L481.67 434.76L480.1 433.93L478.47 433.05L475.17 430.75L474.95 431.03L477.04 433.23L474.74 431.75L477.16 434.24L476.94 434.52L477.95 435.84L477.22 435.68L473.73 433.16L473.49 433.41L479.13 438.72L477.93 438.16L476.42 437.33L472.24 434.16L473.86 436.03L473.17 435.89L472.05 435.37L472.3 436.05L473.88 437.92L470.96 435.79L472.27 437.42L474 439.44L470.76 437.01L476.81 442.92L471.08 438.23L471.78 439.34L470.32 438.47L469.88 438.54L469.92 439.05L469.89 439.5L469.26 439.39L469.53 440.12L469.22 440.3L469.81 441.33L467.85 439.98L473.78 446.02L467.04 440.16L468.32 441.85L473.55 447.3L467.8 442.32L467.01 442.05L466.23 441.78L470.19 446.07L466.56 443.06L476.71 453.37L474.45 451.7L476.2 453.92L473.28 451.58L465.35 444.31L465.01 444.48L463.68 443.64L463.61 444.06L464.67 445.6L465.62 447.05L463 444.92L462.44 444.84L463.98 446.89L463.36 446.77L464.59 448.51L462.63 447.01L462.33 447.2L461.57 446.92L460.98 446.82L461.25 447.6L461.9 448.77L462.33 449.72L465.74 453.79L468.1 456.79L460.12 448.93L460.27 449.59L460.47 450.31L458.98 449.24L459.34 450.13L458.75 450.01L458.94 450.72L461.47 453.96L459.57 452.42L461.26 454.78L460.59 454.58L457.72 451.97L461.12 456.22L459.25 454.69L457.37 453.14L458.62 455.05L455.99 452.66L458.21 455.65L456.47 454.23L456.55 454.85L454.49 453.06L457.03 456.45L454.51 454.13L454.49 454.63L455.26 456.04L453.25 454.27L456.07 458.05L457.16 459.84L456.96 460.16L453.99 457.26L453.3 456.99L452.48 456.58L451.63 456.11L451.93 457L451.61 457.17L451.94 458.09L451.44 458.04L450.87 457.91L450.18 457.63L451.43 459.67L454.9 464.43L451.72 461.13L450.49 460.19L452.73 463.49L452.92 464.28L449.34 460.44L449.58 461.31L450.01 462.4L451.2 464.44L447.43 460.31L451.49 465.95L449.53 464.07L446.87 461.28L446.18 460.97L445.91 461.19L448.79 465.42L448.25 465.31L446.27 463.36L448.28 466.51L445.03 462.9L449.69 469.51L452.71 474.04L445.21 464.85L447.65 468.63L444.42 464.98L444.27 465.36L442.95 464.19L443.55 465.57L442.45 464.69L444.04 467.4L444.2 468.21L444.66 469.43L442.32 466.87L446.16 472.67L441.57 467.02L452.58 482.71L442.81 469.93L444.24 472.51L441.08 468.75L440.91 469.12L442.98 472.62L439.73 468.69L438.84 468.04L441 471.7L438.32 468.51L438.81 469.83L437.57 468.66L439.13 471.51L437.69 470.06L441.3 475.88L441.32 476.55L438.79 473.52L439.03 474.5L436.36 471.22L436.76 472.44L438.67 475.89L435.48 471.81L437.98 476.15L435.31 472.82L437.35 476.52L434.41 472.74L435.36 474.82L436.67 477.45L434.69 475.09L433.82 474.41L437.19 480.22L434.21 476.32L442.46 489.69L432.81 475.47L432.73 475.99L438.94 486.34L432.2 476.49L437.65 485.71L432.49 478.28L430.47 475.74L430.11 475.83L430.24 476.7L432.67 481.26L429.43 476.74L429.35 477.29L432.65 483.31L435.25 488.24L429.94 480.28L433.63 487.02L430.57 482.71L432.14 486L430.22 487.15L420.1 470.02A194 194 0 0 0 505.55 364.04ZM418.49 470.96L423.35 479.36L421.49 480.42L423.21 484.19L422.55 483.74L420.65 481.08L423.9 487.65L423.7 488.05L419.6 481.36L419.53 481.95L419.2 482.08L420.08 484.44L419.28 483.71L418.99 483.92L417.75 482.37L426.35 499.19L417.36 483.13L418.04 485.17L417.52 484.95L416.1 483L416.7 484.91L416.29 484.89L416.32 485.71L414.59 483.15L414.23 483.22L414.24 484L413.94 484.18L413.31 483.72L415.49 488.8L418.54 495.64L412.18 483.81L412.45 485.13L412.13 485.27L413.12 488.07L411.38 485.33L411.79 486.97L410.14 484.4L410.1 485.11L411.39 488.58L409.5 485.49L410.55 488.49L409.04 486.15L409.67 488.27L410.5 490.85L413.25 497.53L407.13 485.38L414.18 501.26L407.12 487.01L415.01 504.85L406.04 486.33L407.68 490.74L406.54 489.11L409.34 496.1L407.32 492.54L404.72 487.66L404.21 487.36L403.72 487.13L404.72 490.23L403.09 487.43L403.33 488.84L405.31 494.22L403.59 491.19L402.09 488.61L401.74 488.69L401.29 488.54L400.68 487.99L400.27 487.91L401.88 492.6L400.25 489.64L399.35 488.4L399.05 488.58L399.49 490.54L398.28 488.55L398.04 488.88L397.6 488.72L398.69 492.29L397.28 489.77L396.73 489.35L400.17 498.81L396.72 491.19L396.02 490.37L396.03 491.33L395.45 490.82L394.65 489.73L395.15 491.98L394.63 491.6L394.17 491.39L396.23 497.71L393.86 492.52L395.88 498.82L392.95 492.08L392.5 491.9L392.73 493.49L392.62 494.21L393.82 498.45L390.92 491.64L392.73 497.58L390.08 491.36L391.28 495.69L392.16 499.17L390.03 494.28L388.92 492.24L389.18 494L392.25 503.75L391.8 503.57L391.55 503.96L387.88 494.52L387.41 494.22L388.93 499.74L386.12 492.62L385.93 493.14L386.12 494.78L385.2 493.12L388.45 503.96L385.49 496.22L386.67 500.9L386.16 500.51L384.47 496.48L383.93 495.94L386.82 506.06L383 495.33L382.85 496.03L382.3 495.44L382.85 498.35L384.74 505.58L380.86 494.33L381.52 497.63L381.65 499.25L379.94 494.85L380.73 498.65L380.11 497.85L379.7 497.68L379.06 496.75L379.7 500.16L377.97 495.53L378.78 499.55L377.8 497.44L377.01 495.96L379.85 507.13L376.97 498.35L376.14 496.7L376.44 499.06L376.47 500.48L375.23 497.33L375.33 498.99L375.19 499.83L375.29 501.55L373.71 497.04L374.1 499.82L373.15 497.62L374.04 502.38L372.42 497.6L371.94 497.11L371.73 497.68L371.52 498.27L372.4 503.12L370.79 498.2L370.44 498.26L370.25 498.92L371.48 505.34L369.24 497.72L369.34 499.61L370.11 504.29L368.56 499.37L368.67 501.34L367.72 498.83L367.31 498.59L366.89 498.33L367.32 501.74L367.51 504.12L368.29 509.15L366.83 504.35L366.21 503.24L364.9 498.95L365.44 503.01L364.86 502.01L363.93 499.41L363.58 499.41L363.54 500.91L363.41 501.95L362.51 499.38L363.8 507.28L362.13 500.95L361.44 499.34L361.11 499.46L361.94 505.32L360.86 501.75L360.07 499.51L360.51 503.6L359.54 500.43L359.5 502.06L359.23 502.5L358.38 499.91L359.26 506.51L359.6 510.33L357.55 501.12L357.19 501.09L356.98 501.92L356.33 500.24L356.52 503.29L355.67 500.47L355.63 502.27L355.16 501.57L354.61 500.41L355.37 507.1L354.36 503.14L353.64 500.91L353.4 501.59L354.44 510.32L352.53 500.56L352.73 504.06L351.99 501.56L351.52 500.82L351.17 500.8L351.81 507.45L350.49 500.9L350.85 505.81L350.1 503.07L349.43 500.83L349.36 502.79L348.94 502.28L348.74 503.43L348.65 505.34L347.98 503L347.5 501.99L347.78 506.86L347.04 503.9L346.64 503.51L345.99 501.07L346.11 504.9L346.73 512.98L345.3 504.07L344.81 502.83L344.31 501.54L344.2 503.68L343.61 501.53L343.64 504.91L343.33 505.35L342.86 504.2L342.78 506.85L341.87 501.41L342.04 506.52L341.28 502.47L340.99 503.07L340.49 501.5L340.7 507.39L339.86 502.18L339.52 502.28L339.2 502.5L338.8 501.9L338.5 502.42L338.78 509.91L337.81 502.46L337.42 501.91L337.24 504.11L336.86 503.62L336.58 504.54L336.09 502.74L335.71 502.18L335.74 507.59L335.68 511.95L334.73 503.04L334.46 504.29L334.1 504.05L334.2 511.41L333.45 504.88L333.02 503.52L332.62 502.56L332.53 507.26L331.98 503.53L331.95 509.72L331.24 502.57L330.93 503.37L330.73 506.5L330.22 503.02L329.94 504.5L329.57 503.97L329.21 503.63L329.1 510.09L328.54 504.3L328.3 507.55L327.8 502.98L327.47 503.48L327.22 506.88L326.78 503.42L326.45 504.17L326.09 503.66L325.81 506.69L325.41 504.25L325.19 511.19L324.84 512.04L324.38 504.87L324.01 503.22L323.73 509.25L323.45 516.88L322.98 504.47L322.62 503.15L322.28 503.58L321.93 503.38L321.59 504.91L321.24 504.46L320.9 503.19L320.55 503.86L320.2 503.33L319.86 502.81L319.5 504.79L319.11 508.03L318.82 503.48L318.3 515.5L318.12 504.03L317.76 504.37L317.42 503.96L317.06 504.81L316.72 504.51L316.34 505.52L316.01 505.06L315.62 506.19L315.29 505.54L314.9 507.01L314.59 505.72L314.18 507.4L313.9 505.34L313.57 504.96L313.14 506.9L312.89 504.29L312.58 503.54L311.66 516.07L311.85 504.24L311.31 508.2L311.14 504.65L310.83 503.88L310.51 503.27L310.13 503.96L309.75 504.5L308.86 513.59L308.94 506.32L308.74 503.81L307.87 511.85L307.99 504.67L306.87 515.91L307.14 506.78L306.73 507.56L306.3 508.66L306.33 503.45L305.75 506.53L305.12 510.06L305.09 505.91L303.91 515.95L304.53 504.21L304.24 503.5L303.84 504.02L303.49 504.12L303.14 504.06L302.71 504.91L302.47 503.72L302.1 503.91L300.54 516.36L301.39 504.08L300.57 508.69L300.59 504.97L300.19 505.47L299.85 505.37L299.49 505.4L299.3 503.88L298.99 503.57L298.29 506.6L298.15 504.77L296.35 517.15L297.26 506.27L297.06 504.98L296.89 503.52L295.69 510.37L296.09 504.24L295.46 506.47L294.33 512.4L294.57 507.76L293.51 513.1L294.38 503.83L294.14 503.06L293.78 503.11L292.58 509.18L292.57 506.63L292.71 503.17L291.2 511.14L291.43 507.06L291.05 507.19L291.02 505.01L290.64 505.2L289.88 507.81L289.71 506.57L289.06 508.37L289.15 505.58L289.05 503.92L288.38 505.9L286.82 513.2L286.47 513.05L285.87 514.4L286.12 510.7L283.95 510.32L286.91 493.91A194 194 0 0 0 418.49 470.96ZM285.38 493.63L282.81 507.23L280.67 506.81L280.24 507.17L280.21 505.51L279.75 505.96L280.32 501.44L279.96 501.48L278.78 505.39L278.02 507.24L279.14 500.3L278.59 501.2L277.14 506.19L276.18 508.88L275.76 509.1L277.4 500.1L276.64 501.87L276.16 502.4L276.4 499.77L273.71 509.91L274.09 506.66L275.14 500.57L274.55 501.56L274.78 499.07L272.4 507.52L272.12 507.12L272.47 504.13L273.05 500.29L271.61 504.66L272.48 499.65L267.35 518.69L271.4 501.06L271.46 499.41L270.34 502.4L271.05 498.22L270.26 499.86L270.1 499.09L269.68 499.32L269.65 498.05L267.98 502.97L266.78 506.06L267.68 501.32L267.73 499.82L267.59 498.99L267.79 496.95L267.42 497L266.83 497.81L266.79 496.65L266.53 496.29L263.66 505.08L264.63 500.39L265.4 496.45L264.43 498.54L264.68 496.46L263.74 498.41L263.87 496.74L262.62 499.71L263.26 496.34L262.32 498.26L262.51 496.43L261.94 497.1L262.09 495.39L261.57 495.92L261.34 495.49L260.94 495.58L260.69 495.23L258.94 499.58L259.42 496.92L258.83 497.61L259.59 494.1L258 497.86L258.7 494.6L258 495.63L256.7 498.42L257.68 494.35L256.91 495.57L256.84 494.66L256.22 495.41L256.19 494.42L255.36 495.77L255.75 493.56L253.65 498.56L255.07 493.38L254.87 492.92L254.26 493.58L253.48 494.76L252.17 497.38L253.26 493.28L253.1 492.71L250.41 499.11L252.67 491.85L251.94 492.84L248.72 500.57L251.15 492.95L250.67 493.26L249.12 496.4L250.03 492.96L249.96 492.15L249.43 492.58L247.83 495.79L249.26 491.06L246.9 496.21L245.58 498.64L247.61 492.41L247.38 492.04L247.75 490.14L246.11 493.36L246.33 491.84L246.81 489.69L246.13 490.47L245.75 490.47L244.4 492.88L245.61 488.96L245.23 488.97L243.88 491.35L243.87 490.46L243.46 490.52L239.61 498.84L243.53 488.55L243.16 488.54L241.35 491.92L242.17 489.08L239.88 493.55L239.32 493.96L241.02 489.11L240.92 488.45L239.92 489.87L240.42 487.85L239.58 488.91L237.36 493.06L239.65 487.02L236.91 492.31L238.77 487.3L237.96 488.24L238.17 486.92L238.19 486.04L235.6 490.88L237.51 485.86L235.98 488.36L236.25 486.93L232.9 493.3L234.44 489.14L235.68 485.67L234.49 487.38L232.48 490.8L234.57 485.57L234.05 485.85L231.68 489.99L232.65 487.15L233.75 484.07L233.29 484.22L231.76 486.55L229.67 490.01L232.25 483.98L226.06 495.69L229.83 487.28L229.7 486.73L231.19 482.97L229.78 485.01L228.33 487.1L230.14 482.75L229.82 482.6L227.77 485.86L229.25 482.2L229.18 481.57L224.32 490.19L227.97 482.39L227.81 481.94L226.95 482.83L225.39 485.05L227.13 481L224.48 485.24L223.56 486.21L223.58 485.41L225.87 480.41L220.9 488.87L223.23 483.81L224.97 479.88L224.81 479.45L220.88 485.87L222.39 482.39L221.13 483.93L220.43 484.46L223.44 478.35L222.04 480.13L218.44 485.81L221.53 479.61L221.53 478.89L218.97 482.69L220.41 479.46L220.55 478.51L219.01 480.48L218.53 480.6L215.76 484.65L218.2 479.75L219.61 476.65L214.09 485.36L217.92 478.15L217.89 477.52L217.82 476.94L216.78 478L214.72 480.76L217.2 475.95L216.34 476.69L215.81 476.89L215.63 476.5L215.26 476.44L215.98 474.6L214.83 475.8L210.47 482.18L215.06 474.11L210.74 480.38L212.61 476.7L211.64 477.59L213.86 473.41L211.67 476.21L210.38 477.59L208.32 480.15L212.64 472.73L208.58 478.39L211.13 473.79L211.09 473.21L205.24 481.55L206.92 478.31L207.2 477.22L208.07 475.25L210.28 471.26L209.27 472.15L208.55 472.59L208.45 472.11L206.58 474.28L208.04 471.46L205.93 473.97L207.42 471.14L196.38 486.74L200.95 479.36L196.17 485.69L205.47 471.5L204.82 471.82L205.16 470.71L205.91 469.01L205.28 469.3L201.62 473.92L204.33 469.43L203.79 469.6L204.22 468.38L204.22 467.77L202.08 470.17L202.9 468.42L200.97 470.51L201.62 468.99L199.23 471.69L201.27 468.27L200.63 468.55L200.39 468.28L200.11 468.06L200.72 466.65L200.83 465.91L194.21 474.24L193.82 474.14L197.85 468.14L198.25 467.01L197.22 467.79L198.88 465L198.45 465L196.44 467.06L195.99 467.06L196.34 466.02L197.96 463.32L194.92 466.69L196.13 464.55L196.67 463.28L195.96 463.62L196.35 462.56L196.33 462.01L190.13 469.31L190.92 467.72L194.58 462.54L193.77 462.98L194.15 461.95L192.48 463.46L194.66 460.2L186.19 470.1L193.38 460.66L192.97 460.61L193.62 459.27L183.18 471.43L191.05 461.29L190.37 461.55L187.29 464.71L190.22 460.62L191.94 458.02L190.71 458.94L191.09 457.94L189.63 459.13L188.32 460.13L188.26 459.65L189.45 457.71L186.35 460.79L187.58 458.81L188.09 457.68L179.47 467.1L178.45 467.71L188.56 455.53L188.17 455.45L187.98 455.14L180.67 462.91L187.08 455.09L184.72 457.23L186.87 454.28L178.63 462.99L184.56 455.81L179.69 460.71L182.62 456.91L182.88 456.09L181.75 456.8L171.74 467.25L176.81 461.15L180.22 456.87L183.86 452.39L182.88 452.94L179.46 456.11L176.4 458.87L181.13 453.27L181.6 452.24L182.17 451.13L181.79 451.01L180.22 452.16L180.48 451.37L172.68 459.04L179.42 451.46L180.11 450.23L179.32 450.54L177.84 451.56L178.53 450.34L176.13 452.3L173.25 454.74L171.61 455.89L167.93 459.1L175.92 450.47L176.2 449.67L173.89 451.49L176.46 448.41L169.41 454.95L173.47 450.39L168.58 454.73L175.67 447.19L169.61 452.67L166.34 455.37L173.43 447.9L171.92 446.34L181.38 437.28A194 194 0 0 0 285.38 493.63ZM180.58 436.44L176.07 440.72L174.63 439.19L169.47 443.49L173.25 439.53L171.26 440.88L164.8 446.31L172.05 439.2L169.51 441.03L167.61 442.28L172.18 437.67L168.5 440.51L170.45 438.28L171.1 437.23L170.43 437.36L170.35 436.96L169.7 437.07L169.27 436.99L169.99 435.89L168.74 436.52L168.02 436.68L164.56 439.21L165.53 437.9L161.92 440.55L166.77 435.89L165.11 436.85L158.93 441.65L165.3 435.75L161.17 438.79L166.57 433.75L164.71 434.86L159.19 439.02L163.38 435.05L165.49 432.82L165.32 432.51L165.97 431.52L154.44 440.56L163.43 432.69L164.71 431.19L160.9 433.85L164.23 430.68L164.29 430.18L163.54 430.34L165.03 428.69L160.27 432.05L162.34 429.94L157.08 433.67L162.92 428.58L162.81 428.22L155.13 433.82L163.08 427.12L160.52 428.68L161.66 427.35L159.7 428.42L155.58 431.16L160.95 426.56L161.13 425.98L159.34 426.91L158.72 426.94L152.17 431.47L160.55 424.67L159.66 424.9L156.25 427.03L160.35 423.51L144.3 435.04L159.83 423.03L155.41 425.87L152.18 427.8L154.68 425.51L141.88 434.44L157.23 422.77L157.19 422.36L153.55 424.56L157.41 421.33L151.36 425.25L153.44 423.32L155.98 421.06L152.82 422.88L148.9 425.22L156.03 419.74L146.05 426.32L152.66 421.24L155.33 418.94L148.67 423.15L153.18 419.58L150.22 421.19L153.71 418.35L152.61 418.68L151.43 419.06L149.12 420.2L151.59 418.08L153.66 416.26L151.39 417.37L148.4 418.94L151.16 416.66L149.17 417.56L150.86 416.01L149.32 416.6L151.11 415L144.88 418.66L147.8 416.32L149.57 414.74L150.11 413.96L134.45 423.65L140.65 419.2L141.85 417.99L149.27 412.82L148.17 413.1L149.45 411.87L149.21 411.61L139.18 417.49L146.76 412.31L145.42 412.72L147.74 410.86L145.84 411.62L143.01 412.94L143.2 412.4L144.58 411.13L146.7 409.42L146.35 409.22L137.02 414.44L143.5 410.1L138.6 412.62L144.69 408.56L145.45 407.69L136.4 412.64L143.58 407.97L145.31 406.54L142.71 407.65L141.05 408.2L144.01 406.06L141.52 407.09L142.36 406.19L134.24 410.44L128.24 413.44L139.72 406.46L127.86 412.77L137.99 406.61L141.81 404.04L132.42 408.89L142.66 402.75L131.19 408.72L138.3 404.35L138.91 403.6L142.72 401.1L140.93 401.67L141.09 401.18L139.26 401.77L137.98 402.05L140.71 400.17L137.12 401.69L140.09 399.7L130.67 404.3L130.12 404.17L133.87 401.77L124.36 406.34L124.18 406L137.6 398.59L136.83 398.58L139.53 396.79L137.83 397.26L139.24 396.14L125.77 402.6L128.62 400.72L136.05 396.56L135.56 396.4L122.42 402.57L137.57 394.6L135.08 395.43L133.32 395.9L136.44 393.96L133.45 395.02L127.41 397.57L133.76 394.07L131.62 394.7L120.9 399.46L136.05 391.77L129.6 394.45L131.53 393.13L129.51 393.68L135.22 390.59L134.92 390.33L119.74 397.02L119.76 396.58L134.34 389.43L119.25 395.97L132.85 389.32L122.84 393.49L121.9 391.4L144.03 381.6A194 194 0 0 0 180.58 436.44ZM143.13 379.52L135.5 382.79L134.67 380.84L122.41 385.55L129.47 382.23L133.75 380.09L134.94 379.22L131.24 380.35L135.03 378.43L133.06 378.85L127.48 380.7L134.19 377.64L134.14 377.28L124.89 380.56L116.71 383.38L126.29 379.23L133.43 376.06L133.14 375.8L131.36 376.11L124.3 378.44L132.17 375.05L119.95 379.3L130.43 374.95L132.11 373.95L130.28 374.26L128.85 374.41L131.48 373.06L125.5 374.88L129.96 372.87L131.59 371.9L115.48 377.35L123.61 374.02L125.71 372.89L118.44 375.09L127.19 371.6L127.96 370.95L129.03 370.21L130.16 369.44L122.51 371.71L119.68 372.3L130.78 368.12L127.53 368.85L130.75 367.39L119.39 370.84L130.49 366.74L127.19 367.47L130.01 366.17L127.59 366.59L122.31 367.94L127.04 366.03L125.09 366.28L124.37 366.14L127.09 364.9L128.26 364.16L125.39 364.69L124.3 364.66L126.89 363.48L126.08 363.36L121.65 364.35L117.02 365.39L122.12 363.46L121.43 363.29L115.46 364.7L126.35 361.07L118.2 363.11L118.99 362.49L120.62 361.64L123.96 360.29L122.38 360.38L115.39 362.01L117.44 361.03L121.61 359.48L124.28 358.35L123.3 358.26L116.61 359.74L123.15 357.56L122.43 357.39L124.08 356.57L119.57 357.42L122 356.39L108.59 359.59L118.26 356.64L122.38 355.19L110.87 357.81L118.85 355.36L105.89 358.32L119.75 354.39L122.7 353.27L121.77 353.14L123.37 352.37L105.41 356.45L118.44 352.85L105.24 355.7L120.51 351.61L122.58 350.74L122.79 350.33L118.25 351.04L121.77 349.84L106.7 352.99L122.45 348.95L118.83 349.42L118.98 349.02L114.07 349.76L110.18 350.25L112.48 349.36L118.25 347.71L116.55 347.71L118.07 347.01L117.45 346.77L120.58 345.74L120.29 345.44L119.1 345.32L111.89 346.45L119.17 344.58L116.28 344.8L112.75 345.14L114.43 344.43L118.49 343.25L118.92 342.8L116.45 342.92L114.34 342.96L117.97 341.89L117.54 341.61L111.5 342.38L119.42 340.53L111.85 341.56L109.1 341.69L111.21 340.93L118.66 339.22L117.23 339.11L113.5 339.4L117.2 338.39L114.17 338.54L111.93 338.55L112.89 338.02L111.25 337.92L117.12 336.58L109.84 337.4L113.93 336.37L115.99 335.67L108.58 336.47L108.95 336.04L113.61 334.95L104.02 336.03L113.99 334.15L107.82 334.7L108.44 334.23L111.55 333.41L111.32 333.07L101.09 334.14L108.73 332.69L113.5 331.65L109.15 331.88L107.95 331.67L114.02 330.49L106.11 331.15L100.73 331.47L102.04 330.91L102.48 330.47L100.58 330.32L101.47 329.83L106.5 328.84L113.1 327.68L111.81 327.46L100.36 328.41L111.54 326.76L109 326.67L109.22 326.27L108.99 324.05L128.35 322.13A194 194 0 0 0 143.13 379.52ZM128.12 319.74L115.83 320.8L115.65 318.65L117.38 318.16L113.71 318.07L119.86 317.27L117.78 317.06L118.77 316.64L109.8 316.88L115.58 316.14L119.29 315.55L108.75 315.83L120 314.8L114.39 314.77L109.74 314.66L120.05 313.74L112.84 313.76L115.92 313.25L119.06 312.74L116.86 312.49L111.64 312.36L117.66 311.74L115.08 311.49L119.94 310.94L119.27 310.61L104.52 310.79L119.48 309.9L115.2 309.69L112.69 309.41L119.01 308.86L112.4 308.69L119.16 308.15L111.74 307.97L116.91 307.5L119.04 307.1L98.94 307.12L115.76 306.45L117.17 306.07L113.83 305.76L110.31 305.44L112.91 305.04L115.69 304.66L118.38 304.28L118.08 303.93L118.13 303.58L112.13 303.23L114.42 302.87L114.33 302.51L114.43 302.15L109.47 301.76L117.85 301.45L117.68 301.1L114.11 300.7L117.35 300.38L112.82 299.96L109.31 299.54L103.52 299.07L118.45 298.99L114.56 298.55L107.14 298.02L115.03 297.84L119.44 297.6L104.04 296.81L113.98 296.73L117.35 296.48L113.02 295.98L108.62 295.46L116.19 295.37L119.14 295.12L113.55 294.54L117.67 294.36L117.23 293.98L108.05 293.2L111.91 293.02L118.96 293L118.92 292.64L116.73 292.18L106.3 291.25L117.92 291.53L115.47 291.03L114.12 290.59L107.8 289.84L113.31 289.81L118.44 289.79L118.52 289.44L104.45 288.12L116.61 288.59L115.18 288.13L107.3 287.19L118.19 287.64L115.97 287.11L118.47 286.95L100.73 285.16L119.18 286.3L114.92 285.58L114.44 285.18L119.31 285.24L119.82 284.94L119.16 284.52L99.86 282.37L112.89 283.22L109.1 282.48L118.94 283.08L104.36 281.26L115.42 282.01L115.5 281.65L119.5 281.71L116.47 281.03L113.91 280.39L100.25 278.52L117.84 280.11L116.54 279.6L115.11 279.07L102.53 277.23L119 278.81L117.74 278.3L116.02 277.73L118.92 277.73L111.11 276.38L113.66 276.34L103.91 274.7L104.97 274.45L117.71 275.77L107.78 274.07L105.46 273.37L109.01 273.48L116.24 274.12L118.1 274.02L110.22 272.52L104.46 271.31L114.18 272.36L115.51 272.19L118.54 272.28L108.6 270.4L101.52 268.92L117.75 271.08L116.68 270.54L110.82 269.24L119.26 270.23L111.4 268.58L109.06 267.82L118.8 269.07L112.82 267.69L107.18 266.36L116.08 267.51L104.6 265.14L113.6 266.34L104.65 264.37L116.69 266.15L109.11 264.4L117.93 265.64L116.76 265.06L117.57 264.84L120.08 264.95L116.47 263.89L116.2 263.47L112.04 262.29L117.43 262.97L111.47 261.42L114.29 261.61L115.12 261.4L103.37 258.63L118.19 261.28L117.76 260.83L120.63 261.05L112.5 258.98L105.93 257.2L106.43 254.95L132.07 260.68A194 194 0 0 0 128.12 319.74ZM132.56 258.54L127.03 257.23L127.52 255.2L124.96 254.21L110.62 250.25L123.18 253.03L128.98 254.14L116.72 250.65L124.14 252.18L121.2 251.05L126.34 252.03L128.55 252.25L125.11 250.98L127.41 251.22L118.04 248.35L124.55 249.73L126.24 249.82L128.11 249.97L128.65 249.76L128.21 249.28L122.52 247.33L112.75 244.2L123.27 246.79L125.78 247.14L124.05 246.28L124.49 246.03L128.15 246.73L128.72 246.53L128.47 246.09L126.44 245.13L120.83 243.08L113.18 240.4L117.64 241.36L115.54 240.33L117.1 240.42L124.18 242.21L111.65 237.95L118.22 239.61L127.13 242.01L120.03 239.4L111.78 236.4L128.56 241.36L127.53 240.66L117.64 237.09L121.95 238.1L110.17 233.86L128.01 239.33L127.43 238.77L129.43 239.06L117.87 234.82L128.86 238.12L127.3 237.22L118.38 233.81L125.13 235.73L120.88 233.88L130.42 236.8L128.8 235.86L123.78 233.73L127.19 234.54L130.6 235.38L112.77 228.65L123.69 232.15L123.53 231.71L124.41 231.64L131.34 233.78L125.72 231.34L112.6 226.13L131.67 232.78L131.32 232.27L129.43 231.19L122.28 228.12L116.48 225.53L125.09 228.4L132.04 230.66L117.91 224.86L128.61 228.58L123.16 226.09L129.51 228.17L115.15 222.15L127.74 226.7L129.68 227.08L131.74 227.52L123.87 223.99L131.58 226.69L128.81 225.19L132.65 226.36L130.49 225.09L132.69 225.61L131.32 224.66L130.99 224.14L132.45 224.36L129.6 222.78L127.1 221.34L133.2 223.52L127.35 220.65L129.16 221.03L128.6 220.39L129.86 220.54L131.26 220.75L133.05 221.14L126.42 217.85L125.41 217.01L128.7 218.05L131.9 219.07L131.3 218.41L126.57 215.9L129.53 216.82L132.4 217.72L125.15 214.04L133.12 217.26L131.06 215.92L129.95 215.01L132.62 215.84L131.07 214.72L131.34 214.44L134.02 215.3L125.2 210.76L133.19 214.11L120.37 207.63L130.29 211.93L132.22 212.45L120.87 206.59L131.64 211.36L133.1 211.66L133.09 211.25L127.35 208.04L131.77 209.79L132.42 209.7L128.11 207.16L122.23 203.81L134.61 209.57L128.91 206.3L124 203.41L122.92 202.43L135.5 208.4L132.82 206.63L129.7 204.61L131.15 204.94L123.8 200.72L136.68 206.97L134.85 205.61L130.41 202.87L124.52 199.35L135.34 204.63L128.74 200.72L134.83 203.53L125.93 198.35L135.22 202.91L125.61 197.3L136.35 202.69L125.98 196.63L126.16 196.29L127.29 194.25L152.15 208.18A194 194 0 0 0 132.56 258.54ZM153.56 205.71L148.23 202.62L149.29 200.81L144.73 197.68L148.6 199.59L139.55 193.74L146.74 197.65L146.54 197.11L147.47 197.26L142.2 193.63L150.56 198.33L143.33 193.47L137.9 189.69L148.16 195.61L145.4 193.48L143.21 191.68L149.47 195.18L151.22 195.87L149.95 194.65L151.81 195.41L147.85 192.48L150.27 193.6L148.58 192.1L144.33 188.94L142.19 187.12L147.06 189.84L150.43 191.6L151.99 192.2L149.73 190.3L143.64 185.85L152.18 191.06L148.04 187.89L153.33 190.98L147.8 186.86L151.05 188.6L148.67 186.57L154.62 190.16L148.05 185.28L154.97 189.55L150.53 186.09L151.41 186.26L153.51 187.27L153.08 186.55L156.07 188.18L153.51 185.98L153.77 185.73L156.32 187.08L150.35 182.45L148.7 180.83L156.29 185.77L154.66 184.18L156.75 185.24L156.06 184.31L155.13 183.2L155.9 183.32L155.51 182.6L156.08 182.57L150.99 178.42L155.78 181.48L145.77 173.66L151.92 177.73L152.84 177.96L155.77 179.69L155.73 179.21L156.25 179.15L158.54 180.43L150.54 173.94L159.27 180.09L154.76 176.22L151.07 172.95L156.61 176.72L159.42 178.42L157.76 176.7L148.68 169.21L158.91 176.68L152.2 171L159.92 176.56L161 176.96L146.69 165.22L154.86 171.2L160.5 175.21L161.96 175.91L161.8 175.33L156.61 170.71L156.18 169.89L162.39 174.44L162.57 174.13L162.4 173.53L162.57 173.22L154.06 165.78L162.35 172.11L161.46 170.91L163.09 171.8L163.66 171.81L163.91 171.55L151.8 160.94L164.02 170.71L162.43 168.9L165.19 170.76L165.05 170.18L165.76 170.32L159.95 164.88L156.16 161.14L165.74 168.9L157.68 161.45L156.29 159.75L160.96 163.32L164.7 166.1L162.37 163.57L162.22 162.95L167.65 167.25L162.86 162.53L162.96 162.13L167.22 165.43L160.27 158.73L168.27 165.42L163.41 160.55L164.08 160.66L167.97 163.69L156.93 153.15L160.42 155.82L162.85 157.53L161.64 155.92L165.6 159.06L170.17 162.79L170.03 162.17L168.16 159.93L161.21 152.93L168.39 159.15L170.83 160.95L170.15 159.81L163.42 152.92L167.22 156.03L168.77 154.42L182.39 167.68A194 194 0 0 0 153.56 205.71ZM183.96 166.08L176.74 158.89L178.26 157.39L180.83 159.51L177.51 155.6L181.33 159.01L176.32 153.34L180.05 156.68L172.56 148.39L182.52 158.23L180.27 155.37L180.86 155.48L180.18 154.24L179.84 153.36L184.05 157.31L171.05 142.96L182.95 155.1L179.85 151.27L180.56 151.49L172.85 142.64L184.88 155.11L179.4 148.63L180.67 149.48L185.99 154.77L181.39 149.2L184.41 151.99L184.44 151.49L175.28 140.78L184.58 150.58L187.06 152.82L187.07 152.3L184.98 149.41L186.24 150.3L187.89 151.62L182 144.4L179.24 140.69L185.69 147.5L178.01 138.13L181.52 141.6L189.59 150.36L186.62 146.38L189.07 148.69L189.74 148.92L187.64 145.91L189.4 147.43L189.46 146.94L187.47 144.03L187.25 143.2L191.46 147.67L191.67 147.37L179.23 131.84L185.9 139.29L188.94 142.39L191.55 145L180.43 130.86L193.04 145.69L186.85 137.52L190.96 142L192.5 143.33L193.01 143.4L194.42 144.59L194.11 143.63L194.91 144.07L195.28 143.97L194.03 141.81L192.81 139.68L184.06 127.94L196.18 142.82L193.61 138.94L196.31 141.82L195.14 139.73L194.18 137.89L197.11 141.12L195.24 138.09L197.59 140.57L197.65 140.07L197.48 139.24L196.72 137.64L197 137.41L188.93 126.02L198.45 138.14L196.19 134.51L197.75 136L198.27 136.1L198.3 135.53L199.38 136.38L197.88 133.71L190.56 123.03L190.88 122.8L199.89 134.63L196.24 128.93L200.21 133.84L200.57 133.71L192.45 121.67L201.74 134.11L201.53 133.19L198.71 128.55L196.94 125.36L201.11 130.68L194.87 121.07L196.87 123.27L195 119.89L198.94 124.94L202.79 129.89L195.96 119.23L201.55 126.77L203.88 129.55L204.52 129.85L204.81 129.62L197.56 118.15L204.6 127.99L202.46 124.12L205.82 128.5L203.11 123.73L199.24 117.16L205.18 125.52L199.83 116.65L200.15 116.44L206.35 125.3L205.19 122.81L201.13 115.81L208.65 126.83L206.29 122.45L207.69 123.96L209.59 126.28L211.45 125.11L219.4 137.98A194 194 0 0 0 183.96 166.08ZM220.67 137.2L216.57 130.46L218.39 129.37L218.78 129.35L218.12 127.53L219.5 129.18L216.78 123.83L219.21 127.29L220.28 128.44L218.84 125.24L218.94 124.7L218.14 122.58L221.03 126.91L220.19 124.72L221 125.43L220.58 123.97L220.09 122.35L220.27 121.94L223.51 127.02L220.15 120.23L214.4 109.05L223.48 124.78L223.72 124.49L223.76 123.82L224.22 123.93L224.8 124.25L225.34 124.52L226.45 125.85L225.69 123.68L222.42 116.76L226.23 123.18L226.64 123.21L227.34 123.77L226.82 122.02L227.46 122.48L220.18 107.65L228.1 122.18L228.57 122.32L229.99 124.32L226.2 116.11L230.27 123.33L227.59 117.25L228.87 118.99L229.03 118.51L230.17 119.98L230.67 120.2L231.78 121.64L231.55 120.37L229 114.37L228.65 112.81L227.91 110.45L231.93 117.9L233.66 120.68L233.94 120.44L234.27 120.32L234.51 120.01L233.47 116.99L233.02 115.18L233.79 115.98L234.67 117.02L235.54 118.03L230.99 107.35L235.43 116.1L229.2 101.64L235.97 115.57L236.24 115.3L232.66 106.48L231.1 102.11L237.26 114.94L236.52 112.39L237.96 114.76L235.41 108.09L237.44 111.77L233.03 100.78L238.98 113.51L236.03 105.78L238.63 110.88L240.01 113.17L239.76 111.67L235.69 101.15L239.96 110.27L240.7 111.1L240.69 110.14L241.28 110.62L239.51 105.4L236.58 97.3L238.64 101.31L238.91 100.99L240.16 103.04L240.32 102.43L238.75 97.51L242.28 105.3L242.46 104.76L242.37 103.54L244.82 108.73L240.16 95.86L244.72 106.47L245.25 106.83L244.68 104.32L244.7 103.35L242.97 97.78L247.05 107.43L242.69 94.89L246.99 105.21L246.4 102.58L245.07 97.94L244.14 94.34L248.19 104.2L246.14 97.55L250.25 107.71L246.11 95.23L251.12 107.99L251.46 107.88L253.51 107.16L257.86 119.7A194 194 0 0 0 220.67 137.2ZM259.43 119.17L254.61 104.87L256.68 104.18L253.49 93.11L253.27 91.19L256.94 101.38L256.41 98.49L258.27 103.11L259.27 105.08L255.94 93.19L259.58 103.62L259.23 101.24L261.75 108.22L261.71 106.87L259.55 98.49L261.99 105.3L261.88 103.65L263.05 106.33L262.7 103.87L263.58 105.58L261.27 96.37L259.61 89.25L264.57 105.1L265.43 106.8L265.67 106.34L265.98 106.14L264.83 100.69L264.45 97.96L265.91 101.83L265.52 99.04L267.59 105.24L263.49 88.69L265.66 95.25L268.84 105.73L269.09 105.29L269.05 103.71L269.55 104.21L267.31 94.14L269.77 102.17L271 105.52L268.95 95.98L267.35 88.1L268.91 92.74L267.89 87.03L269.65 92.57L272.65 103.27L269.28 87.82L273.5 103.71L273.17 100.8L274.04 102.87L274.42 102.9L274.66 102.35L273.77 96.91L272.98 91.79L275.38 100.64L272.44 85.95L275.13 96.21L275.83 97.64L276.49 98.94L277.27 100.79L276.09 93.61L274.72 85.45L277.66 97.41L277.01 92.55L279.35 101.88L276.85 88.03L278.9 96.14L280.12 100.25L279.4 94.87L281.06 101.28L279.08 89.42L278.93 86.69L280.01 90.21L282.05 98.79L282.64 99.93L282.08 95.03L283.14 98.65L283.1 96.48L282.74 92.44L283.37 93.82L284.28 96.77L284.99 98.69L284.32 92.8L283.3 84.76L283.52 83.75L284.93 89.73L286.4 96.13L284.86 84.72L287.22 96.56L288.04 99.33L288.47 99.68L288.13 95.29L286.92 85.33L288.41 92.3L290.61 91.97L293.39 111.03A194 194 0 0 0 259.43 119.17Z" fill="#FB6A4A" stroke="#FF0000" stroke-width="0.8" stroke-linejoin="round"/></g>
<g clip-path="url(#tc1)"><path d="M328.14 138.74L329.18 113.37L331.17 113.47L331.64 110.69L331.91 111.79L332.26 111.58L332.59 111.58L333.02 109.95L333.19 112.52L333.54 112.25L333.86 112.37L334.25 111.48L334.51 112.51L334.85 112.37L335.22 111.9L335.44 113.36L335.71 114.06L336.26 111.19L336.53 112.03L336.98 110.54L337.15 112.61L337.43 113.16L337.76 113.14L338.12 112.78L338.39 113.51L338.7 113.66L339.03 113.65L339.57 111.44L339.53 115.33L340.09 112.98L340.38 113.38L340.53 115.12L340.98 113.94L341.26 114.38L341.76 112.85L341.9 114.62L342.08 115.89L342.51 115.03L343.02 113.37L343.2 114.75L343.46 115.34L344.09 112.81L344.44 112.62L344.72 113.09L344.7 115.86L345.12 115.15L345.31 116.26L346.03 113.21L346.22 114.27L346.43 115.2L346.53 116.92L347.16 114.67L347.63 113.7L347.93 113.96L348.07 115.27L348.67 113.42L348.56 116.42L349.23 114.13L349.26 116.15L349.92 113.96L350.13 114.76L350.62 113.74L350.93 113.93L351.21 114.26L351.43 114.98L352.01 113.45L352.42 112.99L352.2 116.32L352.76 114.99L352.9 116.09L353.09 116.94L353.95 113.89L354.1 114.95L354.22 116.16L354.62 115.74L355.13 114.79L355.22 116.13L355.63 115.71L355.68 117.24L356.28 115.79L357.11 113.19L357.12 114.92L357.08 116.85L357.7 115.39L357.97 115.73L358.04 117.08L358.74 115.21L358.62 117.49L359.04 117.04L359.31 117.38L359.91 116.06L360.29 115.86L360.61 115.97L360.77 116.77L361.19 116.41L360.96 119.05L362.24 114.67L362.01 117.27L362.1 118.36L362.48 118.15L363.34 115.82L363.82 115.21L363.4 118.52L363.81 118.19L364.28 117.64L364.52 118.05L365.15 116.8L364.89 119.32L365.87 116.59L365.68 118.83L366.45 117.01L366.34 118.88L366.22 120.71L366.78 119.81L367.01 120.22L366.6 123.18L367.52 120.88L368.02 120.2L368.65 119.06L368.02 122.82L368.36 122.79L370.07 117.54L369.89 119.49L370.33 119.12L370.18 120.93L370.56 120.78L370.98 120.49L370.78 122.44L371.72 120.24L371.08 123.77L372.69 119.19L372.72 120.33L372.27 123.1L372.72 122.7L373.19 122.25L374.59 118.55L374.62 119.63L374.25 122.08L374.33 122.94L375.04 121.68L375.46 121.41L375.55 122.27L376.41 120.55L376.01 122.98L376.48 122.56L376.49 123.65L377.18 122.49L377.83 121.5L378.16 121.55L378.25 122.37L377.92 124.48L378.98 122.2L378.88 123.59L379.59 122.44L380.11 121.91L380.75 121.02L380.2 123.74L380.83 122.86L380.68 124.35L380.62 125.56L381.32 124.48L381.83 124L381.26 126.69L382.9 122.89L383.31 122.71L382.93 124.8L383.39 124.48L383.72 124.51L383.78 125.33L384.07 125.47L384.22 126.03L385.67 122.94L385.04 125.66L385.92 124.18L385.96 125.03L386.27 125.13L386.02 126.76L386.22 127.14L387.25 125.3L387.24 126.26L387.61 126.21L387.24 128.12L388.96 124.46L389.03 125.21L389.59 124.68L388.84 127.53L389.49 126.76L389.98 126.39L390.29 126.48L389.79 128.68L390.45 127.86L391.36 126.46L391.21 127.71L390.54 130.28L391.65 128.38L392.89 126.16L392.25 128.62L392.74 128.28L393.01 128.47L393.01 129.32L393.66 128.6L394.04 128.52L395.11 126.83L394.48 129.16L394.65 129.59L395.42 128.63L394.8 130.9L395.98 128.96L395.99 129.78L396.19 130.14L396.03 131.32L396.26 131.6L396.9 130.93L396.91 131.71L397.1 132.09L397.95 130.98L398.58 130.36L398.75 130.76L398.66 131.75L398.45 133.01L400.13 130.09L399.8 131.61L400.47 130.92L400.6 131.42L400.03 133.42L401.81 130.37L401.36 132.09L400.62 134.44L401.85 132.58L402.7 131.55L402.26 133.24L402.91 132.62L402.36 134.52L403.08 133.77L404.16 132.29L403.24 134.93L403.66 134.8L405.25 132.29L403.94 135.7L404.29 135.71L405.91 133.18L404.69 136.35L405.94 134.58L405.84 135.49L406.3 135.31L407.61 133.43L407.21 134.94L407.12 135.84L407.5 135.81L408.12 135.32L409.06 134.2L407.81 137.31L408.36 136.96L408.51 137.36L409.46 136.26L409.13 137.57L409.99 136.65L410.3 136.76L411.25 135.68L410.2 138.31L411.01 137.5L411.39 137.47L410.94 138.98L411.87 137.95L411.96 138.45L411.74 139.52L412.3 139.17L413.37 137.92L413.13 139.02L413.7 138.66L412.85 140.83L413.35 140.6L414.56 139.12L414.42 140.02L415.05 139.57L414.34 141.46L415.62 139.89L415.68 140.42L415.05 142.16L417.09 139.3L415.4 142.82L415.95 142.53L417.17 141.09L417.05 141.93L417.95 141.05L417.66 142.18L417.86 142.47L419.3 140.7L419.31 141.31L419.26 142.03L419.23 142.7L419.83 142.35L419.59 143.35L419.94 143.4L421.19 142L420.33 143.99L421.66 142.47L420.62 144.74L422.02 143.13L422.13 143.56L423.2 142.48L422.35 144.42L422.79 144.34L421.97 146.22L423.13 145.01L423.74 144.66L423.65 145.41L423.7 145.92L423.89 146.22L425.29 144.67L425.69 144.66L425.12 146.12L425.42 146.25L425.93 146.07L426.26 146.16L427.03 145.59L427.06 146.13L428.2 145.03L427.79 146.22L427.04 147.9L428.11 146.91L427.77 147.99L427.95 148.29L427 150.24L428.71 148.33L428.5 149.2L428.54 149.7L429.41 149.03L430.51 148.04L430.29 148.91L429.96 149.93L429.4 151.28L430.74 149.96L431.41 149.58L432.36 148.81L430.78 151.56L430.84 152.02L431.49 151.67L432.23 151.21L433.37 150.21L432.73 151.62L433.43 151.22L433.19 152.1L433.83 151.78L433.78 152.39L434.97 151.34L433.86 153.36L434.7 152.79L435.69 152.01L434.57 154.03L435.03 153.95L436.99 151.92L437.04 152.4L435.25 155.25L436.3 154.42L437.46 153.45L436.56 155.14L438.05 153.76L436.97 155.67L437.82 155.1L438.55 154.71L438.28 155.57L438.53 155.78L439.28 155.37L439.66 155.41L440.07 155.42L440.34 155.61L439.5 157.16L439.95 157.12L441.41 155.84L440.92 156.95L441.7 156.52L441.2 157.64L442.45 156.64L441.69 158.07L442.23 157.93L441.25 159.61L443.4 157.54L441.89 159.84L442.41 159.73L442.93 159.61L443.6 159.33L443.67 159.75L443.63 160.29L443.53 160.9L444.65 160.1L445.18 159.98L443.58 162.32L443.98 162.36L443.57 163.31L444.44 162.81L446.61 160.83L445.32 162.78L444.79 163.86L446.24 162.72L447.41 161.9L445.06 165.01L448.06 162.15L447.8 162.92L448.15 163.02L446.38 165.46L443.68 168.89L447.94 164.7L448.53 164.53L449.32 164.15L448.73 165.27L447.25 167.34L448.29 166.7L449.58 165.78L450.27 165.52L450.41 165.85L450.03 166.72L451.08 166.08L450.4 167.27L451.7 166.38L452.51 166L452.19 166.8L451.11 168.39L451.22 168.74L451.11 169.32L452.11 168.75L453 168.31L450.94 170.87L451.53 170.73L451.35 171.36L453.2 169.95L454.23 169.37L454.66 169.4L455.64 168.88L453.51 171.46L455.14 170.3L454.32 171.57L453.41 172.91L454.15 172.64L455.93 171.34L455.53 172.19L455.77 172.4L456.75 171.9L456.51 172.58L456.84 172.71L458.29 171.77L456.6 173.84L457.62 173.31L457.26 174.1L457.49 174.33L458.67 173.66L456.72 175.94L459.82 173.47L457.46 176.12L459.47 174.69L459.07 175.5L459.96 175.12L459.77 175.74L459.8 176.16L458.78 177.52L459.32 177.47L460.02 177.27L459.76 177.94L460.58 177.63L459.96 178.62L461.91 177.3L461.6 178.02L458.56 181.15L461.02 179.4L461.09 179.76L460.54 180.68L462.17 179.67L461.97 180.27L464.41 178.58L463.6 179.71L463.15 180.53L462.61 181.42L463.42 181.15L462.6 182.27L464.07 181.44L463.17 182.63L464.23 182.16L463.88 182.87L463.82 183.34L465.05 182.73L466.33 182.09L464.41 184.1L464.03 184.84L466.77 182.98L466.04 184L465.07 185.22L466.66 184.33L467.2 184.31L466.5 185.29L468.38 184.19L465.88 186.62L468.09 185.26L467.47 186.17L469.06 185.31L467.63 186.86L468.26 186.78L468.69 186.85L468.67 187.28L468.45 187.86L468.54 188.2L469.22 188.07L469.26 188.45L469.56 188.63L470.28 188.49L469.21 189.71L469.21 190.11L472.61 187.93L470.88 189.65L472.03 189.19L471.46 190.03L471.22 190.61L471.2 191.03L472.07 190.78L473.25 190.31L473.26 190.7L471.86 192.14L472.03 192.42L472.47 192.5L474.24 191.61L472.47 193.29L475.47 191.52L474.69 192.49L472.78 194.26L471.32 195.7L472.56 195.2L473.04 195.25L474.82 194.39L475.12 194.58L476.43 194.05L474.11 196.07L475.33 195.62L475.18 196.11L475.34 196.39L475.22 196.87L475.04 197.38L474.01 198.48L475.58 197.79L474.1 199.19L476.57 197.9L475.72 198.87L475.45 199.43L472.61 201.72L476.12 199.76L474.36 201.31L476.22 200.46L476.81 200.45L475.33 201.81L476.26 201.58L475.5 202.45L474.51 203.47L476.15 202.79L475.18 203.79L476.28 203.46L476.54 203.67L476.56 204.03L476.26 204.61L476.7 204.7L476.29 205.33L474.9 206.58L476.71 205.82L475.78 206.77L475.36 207.39L475.67 207.57L477.09 207.07L477.56 207.15L477.79 207.37L478.44 207.35L476.84 208.69L478.34 208.15L476.56 209.59L477 209.69L477.97 211.32L463.27 219.93A164.4 164.4 0 0 0 328.14 138.74ZM464.23 221.6L476.73 214.47L477.65 216.1L478.21 216.15L480.43 215.27L481.49 215.05L481.06 215.64L479.68 216.75L482.23 215.72L482.07 216.17L482.29 216.41L483.82 215.95L482.88 216.81L484.23 216.45L484.38 216.73L483.54 217.53L485.13 217.05L487.03 216.42L485.73 217.46L484.14 218.65L486.34 217.86L489.42 216.64L488.92 217.26L488.51 217.83L487.94 218.49L487.59 219.03L489.8 218.27L489.55 218.76L488.97 219.41L489.74 219.39L489.84 219.71L491.33 219.33L490.19 220.26L489.58 220.91L491.92 220.14L490.48 221.2L491.77 220.94L491.4 221.47L491.67 221.7L491.6 222.1L491.35 222.58L491.82 222.71L492.84 222.59L491.99 223.35L490.69 224.31L494.82 222.76L493.31 223.81L493.43 224.12L494.74 223.88L494.48 224.36L494.13 224.88L495.88 224.45L495.63 224.92L494.33 225.86L494.67 226.07L496.18 225.76L496.83 225.83L495.62 226.72L495 227.35L494.16 228.07L496.59 227.38L496.18 227.91L496.81 228L496.38 228.54L497.01 228.63L497.29 228.87L495.03 230.17L497.77 229.38L498.76 229.33L495.4 231.07L497.84 230.42L499.09 230.26L496.12 231.83L498.4 231.26L498.73 231.48L498.1 232.09L497.7 232.6L497.68 232.96L497.13 233.53L497.18 233.86L498.16 233.83L497.35 234.5L497.2 234.9L497.49 235.14L497.15 235.62L498.57 235.42L499.03 235.6L500.07 235.56L498.68 236.43L501.25 235.82L499.58 236.79L497.97 237.74L499.41 237.55L499.7 237.8L496.71 239.23L497.97 239.12L500.61 238.52L498.39 239.66L500.21 239.35L501.21 239.35L499.15 240.42L500.43 240.32L501.77 240.2L500.59 240.95L499.68 241.61L499.15 242.14L499.26 242.44L500.22 242.46L500.54 242.7L501.25 242.8L501.67 243.01L500.06 243.89L502.13 243.54L501.29 244.17L500.85 244.65L501.82 244.68L500.62 245.41L502.98 245L502.45 245.51L501.64 246.11L499.79 247.03L502.21 246.61L502.29 246.93L502.32 247.26L502.56 247.53L503.19 247.68L502.12 248.35L502.46 248.59L501.54 249.2L501.42 249.57L503.1 249.42L502.93 249.81L503.46 249.99L505.49 249.75L502.2 251.03L501.19 251.66L501.77 251.83L502.89 251.85L502.89 252.19L504.03 252.21L503.57 252.68L504.16 252.85L503.02 253.5L503.65 253.67L502.08 254.43L503.06 254.5L503.9 254.61L504.61 254.76L504.2 255.21L503.9 255.62L503.44 256.07L503.58 256.38L504.85 256.39L504.44 256.83L502.58 257.63L503.43 257.75L502.36 258.35L503.92 258.3L505.7 258.2L502.76 259.24L503.05 259.5L503.23 259.79L505.72 259.54L500.77 261.03L504.37 260.52L503.16 261.13L503.15 261.46L505.8 261.19L504.62 261.79L501.09 262.91L506.24 262.1L504.34 262.85L505.26 262.98L504.44 263.49L507.66 263.13L504.64 264.11L506.83 263.97L507.8 264.11L505.43 264.93L505.2 265.31L505.36 265.61L506.65 265.68L505.65 266.21L507.47 266.18L506.54 266.7L505.06 267.31L505.44 267.57L507.83 267.44L505.5 268.22L508.51 267.98L506.52 268.68L507.4 268.85L507.47 269.17L507.48 269.5L507.24 269.88L507 270.25L506.67 270.64L507.35 270.85L508.61 270.96L507.05 271.56L507.13 271.87L509.65 271.79L509.56 272.14L508.01 272.72L506.54 273.29L505.89 273.72L507.97 273.72L507.3 274.15L507.38 274.47L507.77 274.74L508.07 275.02L506.29 275.61L508.1 275.67L508.2 275.99L507.62 276.4L507.18 276.79L508.51 276.93L507.79 277.36L509.68 277.43L507.09 278.11L507.79 278.34L506.69 278.81L506.86 279.11L506.5 279.48L508.77 279.52L507.27 280.04L506.97 280.4L507.57 280.65L508.14 280.91L507.41 281.32L505.46 281.87L508.88 281.81L509.22 282.1L508.24 282.53L507.21 282.97L507.2 283.29L505.19 283.83L508.47 283.81L506.74 284.31L506.6 284.65L507.41 284.89L507.92 285.17L508.26 285.46L508.93 285.72L508.74 286.07L507.23 286.53L508.96 286.7L507.87 287.12L506.42 287.56L508.66 287.7L509.99 287.92L509.58 288.28L507 288.8L509.81 288.91L509.22 289.28L509.09 289.62L510.52 289.84L511.34 290.12L509.1 290.59L508.31 290.97L512 291.06L509.67 291.53L508.75 291.91L510.16 292.16L509.88 292.5L510.3 292.8L512.81 293L509.75 293.48L508.12 293.89L511.72 294.04L512.64 294.33L511.15 294.73L509.66 295.12L511.69 295.36L511.23 295.71L509.59 296.09L511.52 296.35L510.38 296.72L510.12 297.05L510.18 297.38L509.32 297.73L509.91 298.04L509.9 298.36L509.34 298.7L511.51 298.98L508.9 299.36L510.1 299.66L511.75 299.96L511.5 300.29L511.25 300.62L509.49 300.97L509.84 301.29L508.39 301.62L510.75 301.93L509.48 302.27L509.38 302.59L509.74 302.91L509.83 303.24L510.9 303.57L512.34 303.9L509.2 304.21L509.41 304.54L511.91 304.88L509.8 305.19L513.28 305.56L510.25 305.85L510.74 306.18L507.89 306.45L511.85 306.85L510.6 307.16L509.89 307.47L509.14 307.77L509.14 308.1L508.85 308.41L512.99 308.86L509.58 309.08L508.65 309.38L509.93 309.75L508.58 310.02L508.9 310.36L511.29 310.78L509.42 311.03L509.5 311.35L511.87 311.79L507.04 311.89L510.31 312.37L509.84 312.67L509.49 312.98L509.25 313.29L509.42 313.63L508.75 313.91L509.78 314.3L510.86 314.69L511.32 315.05L506.74 315.08L509.75 315.6L509.86 315.94L508.95 316.2L508.06 316.46L509.17 316.86L510.59 317.3L511.31 317.68L507.7 317.73L510.45 318.27L511.44 318.68L507.57 318.69L508.92 319.13L509.15 319.47L509.49 319.83L511.61 320.35L510.19 320.55L509.17 320.78L510.76 321.26L510.62 321.58L510.56 321.9L511.3 322.3L508.75 322.37L507.85 322.6L510 323.16L507.97 323.27L509.14 323.72L511.09 324.27L511.36 324.63L508.08 324.58L511.48 325.31L509.66 325.42L511.44 325.97L508.65 325.96L508.92 326.32L508.57 326.6L510.45 327.17L507.92 327.18L509.57 327.72L510.37 328.16L508.7 328.26L509.46 328.7L510.51 329.17L507.89 329.14L508.77 329.59L508.9 329.94L507.11 330.01L507.2 330.35L511.99 331.39L507.95 331.12L507.16 331.33L506.88 331.61L506.92 331.95L507.67 332.39L507.72 332.73L509.57 333.36L508.95 333.59L508.29 333.81L506.58 333.86L507.31 334.31L506.75 334.54L507.13 334.94L507.71 335.37L507.05 335.58L507.94 336.07L507.54 336.33L507.98 336.74L507.2 336.93L507.23 337.27L508.38 337.82L506.05 337.71L507.4 338.3L509.38 339.01L507.91 339.06L506.54 339.13L508.82 339.91L508.58 340.2L506.52 340.12L507.42 340.63L506.51 340.78L505.13 340.83L505.18 341.17L508.01 342.1L508.1 342.45L507.85 342.73L506.69 342.82L508.08 343.46L505.78 343.29L506.45 343.77L506.78 344.18L504.09 343.91L505.97 344.67L504.22 344.61L504.37 344.97L506.54 345.81L504.95 345.77L503.87 345.85L504.97 346.44L504.46 346.66L504.24 346.94L501.91 346.71L503.79 347.49L504.99 348.12L503.62 348.12L502.24 348.11L503.68 348.8L502.01 348.72L503.55 349.44L503.51 349.76L502.42 349.82L501.14 349.82L502.1 350.4L501.44 350.56L500.38 350.61L501.01 351.11L500.72 351.36L499.82 351.45L500.68 352.02L503.2 353.04L502.09 353.07L499.37 352.65L499.64 353.06L500.26 353.56L499.61 353.71L499.09 353.9L497.03 353.63L497.4 354.07L501.16 355.5L498.44 355.03L498 355.24L497.22 355.33L498.86 356.16L498.5 356.38L497.82 356.51L498.35 357L497.09 356.95L496.52 358.79L478.04 352.9A164.4 164.4 0 0 0 464.23 221.6ZM477.45 354.73L496.69 361.11L496.07 362.94L497.22 363.67L497.14 363.98L497.35 364.4L498.04 364.98L496.02 364.61L497.97 365.64L496.39 365.42L500.16 367.12L497.75 366.6L497.29 366.78L498.03 367.39L497.88 367.68L498.3 368.18L499.57 369L498.49 368.94L497.49 368.92L499.29 369.94L499.86 370.51L495.73 369.29L499.72 371.16L499.27 371.34L497.48 371L498.86 371.89L497.95 371.89L499.08 372.68L500.11 373.44L499.66 373.62L497.76 373.22L498.42 373.84L498.11 374.07L499.41 374.95L496.04 373.94L497.29 374.8L498.03 375.46L496.28 375.09L495.49 375.12L498.94 376.91L497.07 376.49L497.14 376.87L494.73 376.21L497.72 377.83L495.2 377.12L497.44 378.43L496.44 378.36L497.7 379.27L494.59 378.28L495.35 378.96L494.8 379.08L495.21 379.62L495.61 380.15L495.84 380.62L494.15 380.22L496.18 381.49L495.84 381.7L494.56 381.49L492.95 381.11L494.08 381.99L493.87 382.25L495.78 383.5L493.38 382.75L493.03 382.94L492.56 383.09L495.03 384.61L494.28 384.62L493.55 384.64L495.33 385.85L493.25 385.23L494.94 386.4L492.83 385.76L491.9 385.67L491.57 385.87L492.27 386.58L492.38 387L491.64 387L489.3 386.21L493.04 388.43L492.51 388.54L490.74 388.02L491.2 388.62L491.56 389.17L491.64 389.58L488.31 388.25L489.3 389.11L488.35 388.99L491.12 390.79L489.09 390.11L490.16 391.04L489.53 391.08L491.38 392.42L488.84 391.45L489.4 392.12L489.48 392.54L489.34 392.83L487.84 392.4L488.22 392.98L486.61 392.48L488.05 393.63L489.31 394.69L485.53 392.99L486.84 394.09L488.24 395.23L486.86 394.84L487.6 395.63L486.05 395.14L487.55 396.35L487.34 396.62L487.39 397.02L487.5 397.46L486.46 397.25L484.61 396.57L487.2 398.44L484.38 397.19L485.3 398.09L484.42 397.96L484.35 398.29L485.88 399.57L486.82 400.51L484.01 399.23L485.78 400.66L484.82 400.48L484.1 400.43L484.06 400.79L483.21 400.66L482.33 400.5L484.67 402.31L482.44 401.33L484.12 402.74L483.53 402.77L483.53 403.15L484.59 404.2L482.46 403.26L482.46 403.65L483.32 404.58L482.29 404.32L480.54 403.6L480.73 404.11L481.77 405.16L481.42 405.32L482.16 406.19L482.01 406.48L481.37 406.46L481.76 407.1L480.51 406.69L480.86 407.31L480.43 407.42L480 407.53L478.04 406.63L479.5 407.98L481.48 409.7L479.85 409.01L479.18 408.95L479.23 409.39L477.05 408.31L476.49 408.32L477.61 409.47L479.24 410.98L477.11 409.92L475.86 409.46L475.26 409.44L474.49 409.3L477.08 411.49L477.81 412.41L475.56 411.22L476.22 412.09L473.97 410.9L476.4 413.02L473.26 411.18L474.37 412.37L474.9 413.15L472.63 411.92L475.57 414.44L474.62 414.16L474.35 414.37L472.57 413.47L471.26 412.91L471.88 413.77L473.45 415.33L472.12 414.75L473.4 416.11L472.11 415.55L471.53 415.52L472.93 416.98L471.88 416.6L472.46 417.45L469.44 415.56L468.95 415.59L469.95 416.76L470.44 417.54L470.05 417.65L468.36 416.76L469.85 418.32L469.08 418.13L467.27 417.12L469.92 419.61L467.77 418.33L468.34 419.19L465.08 417.02L467.54 419.38L467.05 419.41L466.4 419.3L468.31 421.24L466.9 420.53L467.2 421.18L466.77 421.26L468.18 422.82L465.86 421.34L465.86 421.76L465.68 422.04L466.08 422.78L466.63 423.67L465.33 423L465.92 423.92L465.24 423.78L467.16 425.82L465.7 425.01L464 424L465.69 425.86L465.68 426.29L465.37 426.45L465.76 427.21L463.8 425.96L461.95 424.78L463.96 426.96L463.83 427.28L463.98 427.85L463.05 427.46L464.5 429.18L462.39 427.75L462.24 428.05L462.63 428.84L462.54 429.19L463.42 430.42L462.16 429.73L463.23 431.13L461.7 430.2L461.27 430.24L461.64 431.03L463.03 432.74L461.97 432.22L460.27 431.1L461.31 432.5L460.01 431.75L460.45 432.61L459.67 432.32L460.25 433.32L460.05 433.58L459.77 433.77L460.67 435.08L458.86 433.81L458.36 433.79L458.64 434.51L459.85 436.13L458.55 435.34L456.22 433.54L457.5 435.24L458.8 436.96L457.76 436.41L456.28 435.42L456.34 435.93L456.44 436.49L456.69 437.2L457.43 438.4L455.75 437.19L456.23 438.14L456.47 438.84L455.44 438.27L454.54 437.83L455.03 438.8L454.78 439.01L454.55 439.25L453.65 438.8L454.32 439.96L455.33 441.47L453.93 440.5L454.55 441.62L451.55 438.96L453.02 440.98L452.16 440.56L452.21 441.08L451.3 440.6L452.62 442.48L451.54 441.81L450.73 441.42L452.21 443.49L451.66 443.39L449.72 441.77L451.54 444.23L449.01 441.97L450.09 443.63L451.02 445.13L450.74 445.32L448.86 443.74L449 444.39L448.72 444.57L449.45 445.88L448.68 445.51L446.59 443.66L448.56 446.37L446.88 444.97L446.75 445.32L448.25 447.52L447.35 447L446.55 446.58L446.37 446.88L446.51 447.54L445.27 446.61L446.76 448.85L446.61 449.18L444.74 447.51L444.37 447.57L445.64 449.58L445.4 449.81L445.35 450.26L443.63 448.73L443.49 449.08L444.26 450.52L443.17 449.73L443.49 450.63L442.92 450.45L442.63 450.62L442.49 450.98L440.82 449.45L440.42 449.47L441.93 451.85L440.25 450.3L441.03 451.79L440.21 451.29L440.77 452.52L440.27 452.42L440.02 452.64L441.07 454.5L440.05 453.75L438.91 452.83L439.46 454.07L439.28 454.37L437.5 452.62L437.36 452.97L435.77 451.45L437.38 454.08L436.75 453.8L436.03 453.39L436.1 454.03L436.52 455.11L435.92 454.87L435.97 455.49L435.85 455.88L435.17 455.52L434.55 455.22L434.22 455.33L434.85 456.74L432.9 454.64L433.63 456.2L434.66 458.16L431.09 453.82L432.02 455.64L432.77 457.25L432.39 457.28L433.45 459.32L431.53 457.2L430.27 455.99L430.88 457.42L430.95 458.08L431.46 459.38L429.51 457.17L430.64 459.36L429.92 458.9L428.98 458.12L430.56 460.97L430.06 460.84L428.48 459.12L428.61 459.9L428.52 460.33L427.92 460.04L427.01 459.28L427.93 461.23L426.64 459.89L424.75 457.66L425.51 459.38L425.84 460.47L425.9 461.14L426.02 461.92L424.24 459.8L424.98 461.53L424.07 460.73L423.78 460.89L423.37 460.86L422.89 460.7L422.25 460.3L421.88 460.32L420.75 459.16L420.5 459.34L419.94 459.06L420.71 460.89L420.07 460.47L420.29 461.43L419.64 460.99L419.29 461.04L418.17 459.83L417.62 459.56L416.8 458.82L418.78 462.67L416.94 460.26L416.27 459.77L414.62 460.76L405.04 444.54A164.4 164.4 0 0 0 477.45 354.73ZM403.67 445.33L412.64 460.84L410.98 461.79L410.39 461.37L411.34 463.71L410.56 462.97L409.28 461.32L410.1 463.45L410.19 464.26L408.93 462.62L409.61 464.52L408.73 463.58L409.99 466.56L409.99 467.25L408.73 465.57L409.87 468.38L409.07 467.57L408.31 466.82L407.91 466.75L408.17 467.93L408.19 468.67L407.8 468.62L409.25 472.11L407.26 468.98L407.13 469.43L407.82 471.49L407.67 471.91L406.5 470.32L406.61 471.26L406.34 471.46L405.61 470.71L406.08 472.38L405.15 471.26L403.85 469.35L404.59 471.58L405.35 473.86L403.97 471.79L404.29 473.2L404.46 474.29L402.78 471.56L403.12 473.02L402.29 472.05L403.33 474.97L402.53 474.05L402.54 474.85L401.43 473.26L401.16 473.44L401.17 474.24L401.47 475.65L400.33 473.96L400.79 475.75L400.58 476.08L400.15 475.92L399.3 474.85L399.47 476.01L398.69 475.09L399.04 476.66L399.52 478.55L398.26 476.52L397.5 475.61L397.55 476.54L397.85 478.02L396.63 476.06L396.76 477.17L396.69 477.85L396.94 479.25L396.12 478.18L395.79 478.25L394.59 476.25L395.6 479.48L394.81 478.45L394.45 478.45L394.56 479.57L393.91 478.85L393.4 478.48L392.29 476.64L392.43 477.84L392.71 479.39L392.02 478.56L391.79 478.85L391.95 480.14L391.26 479.31L390.64 478.62L390.53 479.23L391.11 481.61L389.84 479.25L390.47 481.8L389.76 480.88L388.44 478.34L389.2 481.26L389.21 482.21L388 479.94L386.91 477.97L387.57 480.65L387.93 482.56L387.19 481.51L386.24 479.88L387.65 484.7L385.66 480.19L384.62 478.27L386.23 483.7L384.56 480.01L385.1 482.48L383.85 479.94L384.42 482.54L384.06 482.51L383.89 483.02L383.07 481.66L383.47 483.82L383.2 484.06L382.76 483.78L381.79 481.94L381.83 483.09L381.87 484.25L381.33 483.65L381.87 486.35L380.23 482.42L380.29 483.65L379.95 483.67L379.8 484.26L378.89 482.49L379.1 484.24L379.02 485.06L378.47 484.43L378.26 484.84L377.52 483.57L377.02 483.05L377.44 485.55L376.19 482.58L376.42 484.46L375.92 483.92L375.59 483.95L375.05 483.29L375.09 484.57L374.78 484.68L373.96 483.05L374.24 485.17L374.09 485.83L373.66 485.51L373.63 486.62L372.95 485.41L372.69 485.68L372.22 485.23L372.23 486.51L371.55 485.26L372.01 488.17L371.1 486.1L371.04 487.14L370.82 487.58L370.3 486.91L370.04 487.2L369.48 486.38L369.19 486.57L368.85 486.55L368.77 487.57L368.62 488.3L368.16 487.83L367.54 486.7L367.1 486.28L366.68 485.96L366.48 486.52L366.74 488.93L366.58 489.69L365.79 487.83L365.21 486.82L365.06 487.59L365.06 489.04L364.38 487.57L364.22 488.3L364.08 489.17L363.83 489.58L363.38 489.08L363.46 490.92L362.71 489.1L362.46 489.47L362.36 490.56L361.81 489.6L361.34 488.98L360.99 488.9L361.19 491.44L360.52 489.88L359.74 487.75L359.56 488.45L359.48 489.7L358.65 487.28L358.71 489.21L357.64 485.53L358.06 489.3L358.12 491.35L357.22 488.4L356.86 488.3L357.23 491.98L356.16 488.06L356.09 489.49L355.6 488.65L355.22 488.36L354.88 488.29L354.9 490.26L353.91 486.54L353.99 488.87L353.79 489.66L353.61 490.53L352.59 486.47L352.57 488.3L352.62 490.56L352.29 490.61L351.92 490.36L351.66 490.82L350.77 487.33L350.79 489.51L350.48 489.64L350.3 490.63L350.04 491.1L349.49 489.65L349.44 491.49L349.18 492L348.73 491.16L348.3 490.48L348.19 492.07L347.58 490.09L347.33 490.62L346.99 490.55L346.53 489.63L346.35 490.76L345.94 490.08L345.79 491.48L345.28 490.09L345.14 491.62L344.32 487.66L344.36 490.6L343.99 490.3L343.98 492.94L343.29 489.9L343.2 491.98L342.43 488.11L342.61 492.58L341.96 489.66L341.81 491.33L341.44 490.92L341.24 492.18L340.98 492.79L340.43 490.68L340.16 491.21L339.67 489.63L339.59 492.11L339.02 489.62L338.53 487.83L338.46 490.6L338.3 492.4L337.89 491.56L337.54 491.31L337.16 490.62L336.9 491.44L336.59 491.71L336.34 492.69L335.91 491.4L335.8 494.16L335.16 490.07L334.8 489.53L334.68 492.42L334.38 492.89L333.92 490.9L333.54 490.02L333.22 490.13L332.92 490.52L332.72 492.61L332.33 491.49L331.99 491.32L331.63 490.66L331.34 491.31L330.95 490.09L330.76 492.82L330.41 492.41L330.1 492.66L329.75 492.27L329.36 490.73L329.08 491.93L328.77 492.44L328.5 493.88L328.16 493.61L327.83 493.61L327.47 492.74L327.19 494.02L326.91 495.83L326.54 494.66L326.21 494.8L325.92 496.35L325.57 495.78L325.25 496.36L324.92 496.37L324.56 495.1L324.25 496.28L323.91 496.11L323.56 494.59L323.25 496.07L322.89 493.75L322.57 493.89L322.24 495.04L321.91 494.38L321.58 492.9L321.25 495.18L320.92 493.26L320.58 495.15L320.24 496.4L319.93 494.45L319.63 490.93L319.26 495.02L318.92 495.31L318.61 493.83L318.25 495.74L317.98 492.61L317.57 496.36L317.33 492.27L316.91 496.14L316.62 494.48L316.32 493.22L315.96 494.29L315.65 493.56L315.33 493.5L315.04 492.11L314.65 493.88L314.32 494.14L314.03 492.93L313.75 491.81L313.4 492.43L313.11 491.56L312.73 492.73L312.31 494.64L312.02 493.82L311.72 493.21L311.36 493.79L311.1 492.52L310.58 495.86L310.41 493.05L309.98 494.73L309.77 492.68L309.34 494.28L309 494.53L308.69 494.11L308.56 491.17L308.2 491.66L307.74 493.49L307.42 493.37L306.97 494.99L306.81 492.7L306.31 494.9L306.1 493.31L305.76 493.42L305.55 492.07L305.12 493.24L304.92 491.68L304.56 492.03L304.17 492.78L303.81 493.03L303.54 492.37L303.27 491.77L302.9 492.17L302.53 492.59L302.18 492.76L302 491.3L301.51 492.86L301.36 491.17L301 491.42L300.94 489.03L300.15 493.18L300.12 490.47L299.58 492.31L299.18 492.91L298.87 492.74L298.82 490.42L298.44 490.86L298.01 491.6L297.79 490.74L297.64 489.33L296.79 493.36L296.77 491L296.38 491.44L296.07 491.31L295.92 489.93L295.47 490.85L295.01 491.78L294.99 489.55L294.36 491.69L294.15 490.84L293.82 490.8L293.21 492.68L293.1 491.19L292.92 490.22L292.57 490.29L292.52 488.53L292.22 488.32L291.5 490.77L291.24 490.32L291.21 488.46L290.5 490.79L290.24 490.35L289.9 490.4L289.72 489.5L287.77 489.16L292.17 464.78A164.4 164.4 0 0 0 403.67 445.33ZM290.88 464.54L285.68 492.02L283.71 491.64L283.56 490.69L283.31 490.27L283.16 489.36L282.21 492.3L282.15 491L281.92 490.47L281.64 490.2L281.47 489.4L280.94 490.31L280.8 489.4L280.69 488.36L279.68 491.39L280.01 488.41L279.42 489.53L279.1 489.46L278.7 489.73L278.25 490.19L277.78 490.77L277.97 488.47L277.64 488.46L276.8 490.57L277.05 488.11L276.72 488.06L276.75 486.55L275.97 488.36L275.65 488.3L275.45 487.71L275.31 486.92L274.67 488.13L275.17 484.82L274.47 486.24L274.34 485.45L272.99 489.36L273.07 487.75L272.81 487.42L273.28 484.37L272.23 487.06L271.72 487.68L272.09 485.05L271.02 487.74L271.14 486.07L271 485.33L270.55 485.74L270.3 485.43L269.9 485.62L269.49 485.88L269.16 485.85L268.56 486.73L268.81 484.68L268.37 485.03L268.17 484.54L267.31 486.3L267.23 485.41L267.37 483.81L266.78 484.63L266.42 484.7L265.75 485.76L265.61 485.12L265.87 483.15L264.74 485.68L265.35 482.61L265.19 482.05L264.9 481.9L264.6 481.77L263.66 483.64L263.86 481.96L263.59 481.73L262.87 482.92L263.27 480.63L262.81 481.01L262.79 480.02L261.88 481.75L262.32 479.4L261.2 481.72L261.31 480.38L260.99 480.34L259.99 482.24L259.93 481.43L259.14 482.71L258.65 483.1L259.2 480.56L258.79 480.73L258 482L257.41 482.68L258.05 479.92L257.36 480.87L256.84 481.35L256.25 482.02L256.31 480.89L255.29 482.71L256.19 479.33L256.38 477.9L255.02 480.62L255.03 479.66L254.96 478.93L254.24 479.89L254.86 477.37L254.55 477.26L253.7 478.58L253.42 478.4L253.09 478.34L252.41 479.21L251.89 479.64L252.58 477L251.75 478.2L251.52 477.91L251.07 478.15L250.68 478.26L249.96 479.16L249.71 478.9L249.5 478.55L249.67 477.29L249.08 477.85L249.32 476.44L249.06 476.2L248.28 477.23L248.67 475.47L246.74 479.2L247.99 475.42L246.84 477.28L246.58 477.07L245.98 477.64L246.32 476.02L246.01 475.92L244.82 477.82L244.79 477.07L245.3 475.12L243.95 477.35L244.22 475.93L244.6 474.29L243.03 476.98L243.6 474.92L244.12 472.99L243.82 472.88L241.12 477.98L242.16 474.94L241.97 474.57L241.41 475L242.02 472.93L241.5 473.28L240.34 474.97L240.7 473.45L239.34 475.54L239.2 475.08L239.39 473.92L238.8 474.39L239.09 473.04L238.26 473.99L238.56 472.63L237.57 473.91L237.24 473.84L237.8 471.97L235.76 475.34L236.9 472.3L237.13 471.13L237.86 468.95L236 471.93L235.4 472.39L235.45 471.57L235.37 471L234.98 471.05L234.61 471.06L234.81 469.97L234.69 469.49L233.7 470.68L232.94 471.42L231.97 472.56L233.09 469.74L234.16 467.04L232.11 470.19L231.41 470.81L232.04 468.95L231.09 470.03L231.16 469.21L229.81 471L231.73 466.81L229.56 470.09L229.34 469.8L229.65 468.56L229.24 468.64L229.41 467.66L229.17 467.41L228.93 467.19L229.18 466.07L228.06 467.4L227.81 467.17L227.72 466.68L227.76 465.95L228.94 463.26L226.36 467.07L225.75 467.48L225.04 468.05L225.49 466.62L226.32 464.56L224.68 466.71L223.37 468.28L224.55 465.64L223.89 466.11L224.11 465.1L223.61 465.3L224.11 463.85L223.3 464.56L222.38 465.44L221.66 465.98L222.08 464.67L222.23 463.81L222.6 462.58L221.95 463.03L223.2 460.4L220.99 463.33L221.44 461.99L220.44 462.97L219.37 464.06L220.49 461.68L219.76 462.23L220.03 461.19L219.98 460.67L220.4 459.43L217.83 462.8L218.18 461.67L218.68 460.3L218.05 460.68L218.38 459.57L217.28 460.65L217.27 460.08L215.76 461.76L216.27 460.4L215.91 460.36L215.67 460.13L214.32 461.55L215.31 459.5L215.34 458.87L214.22 459.93L213.25 460.77L212.7 460.99L212.77 460.31L212.94 459.48L212.51 459.53L211.79 459.98L210.99 460.55L211.5 459.25L211.13 459.2L210.19 459.96L210.8 458.52L209.65 459.57L210.11 458.35L209.59 458.51L209.48 458.11L208.33 459.12L207.69 459.44L209.91 455.83L208.76 456.85L206.88 458.85L207.03 458.08L207.4 457.03L207.08 456.91L205.95 457.86L206.4 456.71L207.47 454.73L205.97 456.18L206.36 455.11L205.32 455.95L205.33 455.38L205.08 455.17L204.66 455.17L206.85 451.78L204.96 453.7L204.85 453.3L205.65 451.74L204.46 452.73L204.73 451.86L203.28 453.18L204.97 450.51L204.15 451.02L204.05 450.61L204.02 450.14L203.16 450.69L201.19 452.62L205.67 446.53L202.3 450.19L203.61 448.07L202.4 449.03L203.02 447.76L201.69 448.88L203.12 446.64L201.3 448.33L202.03 446.94L202.56 445.79L202.25 445.67L202.22 445.2L202.02 444.94L200.9 445.78L200.72 445.49L199.52 446.41L201.86 443.16L201.29 443.33L200.15 444.17L200 443.86L199.81 443.59L199.51 443.45L199.84 442.58L200.08 441.81L199.59 441.89L199.29 441.75L198.44 442.24L199.54 440.51L197.75 442.05L199.11 440.04L199.53 439.1L199.12 439.08L199.16 438.56L197.47 439.96L198.55 438.3L196.98 439.55L199.03 436.84L198.01 437.48L197.82 437.23L196.54 438.15L196.35 437.89L196.39 437.38L197.67 435.54L198.73 433.96L195.63 436.8L196.88 435.01L196.21 435.27L196.4 434.61L194.16 436.5L196.1 434.02L196.33 433.33L195.31 433.94L194.18 434.65L193.93 434.46L196.87 430.98L196.37 431.05L195.18 431.83L194.96 431.61L195.4 430.72L193.7 432L194.38 430.86L193.03 431.78L195.16 429.21L194.1 429.83L194.39 429.11L193.78 429.28L194.87 427.77L192.88 429.29L193.61 428.14L192.31 426.8L202.74 416.79A164.4 164.4 0 0 0 290.88 464.54ZM202.07 416.08L190.89 426.68L189.6 425.31L189.22 425.23L191.91 422.32L188.77 424.8L189.96 423.28L188.28 424.4L189.02 423.3L188.33 423.51L186.93 424.35L186.63 424.21L186.11 424.25L185.24 424.6L184.24 425.07L185.54 423.5L184.56 423.94L179.99 427.55L183.55 423.98L182.64 424.36L182.51 424.05L181.5 424.5L181.71 423.9L182.51 422.78L180.47 424.12L181.69 422.65L182.68 421.38L180.65 422.7L180.29 422.59L180.39 422.08L182.03 420.28L179.04 422.38L178.13 422.72L177.5 422.82L178.54 421.54L177.86 421.69L177.79 421.32L178.72 420.15L175.84 422.08L177.17 420.58L176.56 420.66L175.78 420.87L175.72 420.51L176.96 419.09L176.75 418.85L174.29 420.41L174.84 419.55L174.54 419.37L173.17 420.05L174.21 418.81L175.46 417.41L173.51 418.53L173.82 417.88L170.56 420L173.53 417.29L171.35 418.56L175.2 415.18L170.59 418.31L170.67 417.83L170.25 417.74L170.23 417.34L170.93 416.41L171.18 415.81L170.59 415.85L169.34 416.37L171.45 414.39L170.37 414.79L170.59 414.23L168.31 415.5L172.15 412.27L169.79 413.6L167.91 414.57L169.45 413.05L169.22 412.81L165.8 414.87L166.98 413.62L169.05 411.73L167.28 412.6L168.61 411.25L167.69 411.5L166.93 411.64L166.01 411.88L165.34 411.95L165.25 411.62L164.98 411.4L168.11 408.84L165.45 410.27L164.42 410.59L165.53 409.43L163.08 410.7L161.72 411.22L163.89 409.35L162.27 410.05L162.64 409.4L165.98 406.77L160.96 409.72L163.77 407.46L161.28 408.71L162.81 407.3L160.51 408.42L163.74 405.91L163.88 405.43L161.31 406.71L158.9 407.87L161.56 405.76L161.23 405.58L160.19 405.86L160.65 405.17L164.18 402.54L161.68 403.74L157.64 405.89L160.97 403.41L159.94 403.67L157.34 404.89L158.2 403.97L162.36 401.02L159.35 402.48L161.54 400.76L158.47 402.25L157.57 402.41L158.39 401.53L158.41 401.13L158.26 400.83L158.87 400.08L159.91 399.09L158.54 399.52L158.63 399.08L156.86 399.75L156.85 399.37L157.49 398.61L155.77 399.23L155.62 398.94L156.94 397.79L155.15 398.44L154.35 398.52L157.1 396.56L155.02 397.37L157.63 395.51L154.56 396.87L155.24 396.11L155.29 395.7L157.21 394.26L155.54 394.81L155.01 394.73L153.88 394.97L154.03 394.51L155.9 393.12L153.93 393.82L157.22 391.67L157.13 391.34L154.16 392.57L156.23 391.09L154.23 391.79L155.66 390.66L155.63 390.31L156.26 389.61L152.58 391.17L155.46 389.3L155.78 388.77L154.54 389.05L154.81 388.54L155.34 387.9L158.26 386.05L155.44 387.13L159.66 384.64L156.18 386.04L155.29 386.12L156.35 385.23L155.56 385.27L155.57 384.91L155.29 384.69L156.22 383.88L155.8 383.73L158.46 382.08L156.96 382.46L153.81 383.62L161.03 379.81L158.57 380.64L160.38 379.43L156.42 380.96L156.97 380.35L156.46 380.25L158.65 378.88L158.13 378.78L157.59 378.68L159.35 377.53L158.34 377.65L159.09 376.97L158.33 375.26L171.1 369.61A164.4 164.4 0 0 0 202.07 416.08ZM170.33 367.84L161.82 371.49L161.11 369.82L159.59 370.12L157.31 370.74L156.21 370.86L155.89 370.66L156.76 369.97L156.81 369.61L154.27 370.31L157.22 368.79L155.53 369.13L156.11 368.57L154.9 368.72L152.3 369.4L153.08 368.76L154.57 367.85L153.39 367.97L154.07 367.38L152.87 367.5L154.11 366.69L152.72 366.89L151.46 367.03L153.1 366.08L153.27 365.68L150.49 366.39L154.09 364.72L154.16 364.37L150.65 365.32L152.91 364.16L151.91 364.2L151.82 363.9L152.66 363.26L152.33 363.05L153.35 362.36L151.13 362.81L152.46 362.02L150.32 362.43L147.79 362.98L151.86 361.24L148.8 361.96L147.2 362.17L148.54 361.38L146 361.9L147.98 360.9L148.51 360.39L148.34 360.12L147.54 360.05L147.25 359.81L145.77 359.95L145.63 359.66L149.7 358.02L146.55 358.7L146.38 358.42L144.73 358.61L148.79 357L145.31 357.75L144.62 357.63L144.41 357.36L144.93 356.87L144.75 356.59L147.68 355.37L142.88 356.48L143.87 355.85L141.61 356.18L143.53 355.28L140.82 355.74L144.8 354.24L142.98 354.44L142.83 354.15L138.71 354.99L139.78 354.34L138.97 354.23L142.28 352.96L143.34 352.34L141.84 352.42L143.51 351.63L140.28 352.17L137.63 352.55L139.59 351.69L144.62 350.01L139.27 351.1L139.45 350.71L140.39 350.13L138.25 350.35L137.96 350.08L140.88 349L138.83 349.19L136.3 349.49L139.07 348.45L140.32 347.81L139.32 347.72L140.59 347.08L135.8 347.91L137.67 347.12L136.8 346.99L136.69 346.68L133.39 347.11L133.56 346.73L136.18 345.78L136.55 345.36L138.05 344.68L135.15 345L135.89 344.5L135.67 344.21L138.09 343.34L135.42 343.59L135.16 343.31L137.77 342.41L134.17 342.85L139.14 341.46L135.02 341.99L137.26 341.19L134.2 341.49L132.98 341.4L134.34 340.78L136.2 340.07L137.74 339.43L134.71 339.7L134.1 339.48L131.5 339.65L132.1 339.19L134.41 338.41L132.75 338.39L132.35 338.13L133.53 337.57L132.69 337.39L131.77 337.22L134.18 336.45L133.39 336.25L133.01 335.98L133.32 335.59L134.43 335.07L131.7 335.2L133.13 334.62L131.28 334.59L132.33 334.08L135.58 333.22L132.17 333.44L135.96 332.5L133.68 332.53L133.42 332.23L131.82 332.15L135.35 331.27L130.15 331.73L131.38 331.2L134.25 330.45L131.84 330.47L133.96 329.83L135.43 329.29L132.56 329.36L132.69 329.01L134.02 328.5L135.06 328.02L131.61 328.15L136.01 327.24L136.79 326.82L135.73 326.63L135.91 326.28L138.05 325.69L135.8 325.64L141.32 324.65L137.58 324.78L140.95 324.06L140.65 323.78L140.11 323.52L139.93 323.22L142.65 322.61L142.46 320.73L157.8 319.21A164.4 164.4 0 0 0 170.33 367.84ZM157.61 317.19L149.1 317.92L148.95 316.12L147.26 315.94L144.94 315.81L144.18 315.55L144.76 315.2L145.62 314.83L143.66 314.66L147.42 314.1L144.22 314L144.4 313.68L144.99 313.34L141.89 313.2L145.26 312.7L141.53 312.6L140.62 312.33L142.52 311.92L141.12 311.68L141.8 311.33L139.52 311.12L137.24 310.9L138.4 310.53L138.64 310.2L140.22 309.82L138.66 309.56L137.78 309.28L139.44 308.9L136.06 308.69L134.75 308.4L141.39 307.9L139.07 307.64L137.22 307.37L138.93 307.01L135.08 306.77L136.67 306.42L134.66 306.13L134.68 305.8L139 305.42L139.41 305.1L136.96 304.81L135.94 304.5L134.37 304.18L135.51 303.85L134.69 303.53L134.32 303.21L134.01 302.88L138.01 302.56L135.31 302.23L133.68 301.9L131.42 301.56L131.95 301.23L133.37 300.92L134.54 300.6L135.31 300.29L133.08 299.93L134.16 299.62L133.65 299.29L133.23 298.95L134.68 298.66L131.41 298.25L132.18 297.94L133.94 297.66L137.07 297.43L132.11 296.95L133.55 296.67L133.84 296.35L131.59 295.94L131.07 295.59L130.87 295.25L131.82 294.96L132.1 294.64L129.35 294.18L136.05 294.17L132.13 293.65L131.81 293.3L134.2 293.1L130.07 292.55L129.84 292.2L130.13 291.88L129.59 291.52L131.7 291.31L130.97 290.93L129.52 290.51L128.43 290.1L132.71 290.05L131.28 289.62L131.88 289.33L133.35 289.11L130.97 288.6L132.36 288.38L132.38 288.05L132.81 287.75L130.11 287.2L129.3 286.8L128.71 286.41L128.74 286.07L131.35 285.97L133.47 285.83L130.67 285.24L128.86 284.73L130.17 284.52L130.09 284.18L132.2 284.05L133.42 283.84L131.94 283.36L130.68 282.89L132.16 282.72L133.11 282.49L129.17 281.72L131.52 281.64L132.49 281.42L131.38 280.96L133.22 280.84L134.2 280.62L133.41 280.2L135.02 280.06L130.97 279.23L132.24 279.05L132.98 278.82L131.71 278.32L134.49 278.35L133.41 277.87L134.06 277.63L132.38 277.06L133.76 276.92L134.13 276.64L132.37 276.06L136.94 276.38L133.95 275.62L132.92 275.13L133.4 274.87L134.4 274.68L134.31 274.34L135.55 274.2L135.41 273.84L133.05 273.14L135.06 273.12L137.74 273.23L137.31 272.83L135.44 272.19L135.16 271.81L134.54 271.37L135.34 271.17L135.53 270.87L137.85 270.94L137 270.47L134.66 269.72L137.33 269.86L136.06 269.3L134.56 268.69L140.12 269.39L138.73 268.8L138.1 268.35L139.71 268.33L140.46 268.15L142.5 268.22L142.74 267.94L140.46 267.16L139.85 266.72L144.73 267.37L141.63 266.42L144.91 266.77L146.02 266.68L145.89 266.33L142.54 265.31L147.13 265.96L147.53 264.14L160.96 267.14A164.4 164.4 0 0 0 157.61 317.19ZM161.38 265.32L153.3 263.42L153.73 261.66L153.73 261.35L151.1 260.38L149.71 259.72L151.3 259.81L154.14 260.22L151.14 259.14L151.91 259.02L151.93 258.71L156.38 259.57L149.89 257.54L146.4 256.3L152.01 257.48L149.98 256.61L149.49 256.16L149.24 255.77L151.74 256.14L150.82 255.57L149.58 254.9L148.81 254.36L152.2 255L148.21 253.54L149.97 253.72L149.12 253.16L148.3 252.59L148.63 252.36L149.72 252.36L147.3 251.32L151.11 252.13L148.89 251.14L149.27 250.93L146.62 249.79L150.51 250.65L149.92 250.15L147.79 249.16L150.37 249.64L148.84 248.83L147.5 248.08L149.17 248.27L148.43 247.71L150.76 248.13L147.3 246.68L148 246.58L146.73 245.83L149.72 246.48L146.27 245L151.19 246.31L146.23 244.32L148.26 244.66L151.01 245.26L149.32 244.35L150.11 244.29L149.32 243.68L146.62 242.42L146.52 242.04L145.65 241.39L147.25 241.62L142.86 239.72L146.81 240.78L147.81 240.8L150.42 241.4L147.2 239.9L144.23 238.47L147.23 239.22L146.66 238.67L147.63 238.68L148.46 238.65L145.79 237.31L146.51 237.23L146.58 236.91L148.93 237.46L147.45 236.55L146.1 235.69L148.68 236.33L146.29 235.06L148.89 235.73L147.69 234.91L145.69 233.78L147.68 234.21L149.08 234.42L149.09 234.08L143.14 231.34L147.41 232.7L147.67 232.46L143.73 230.5L148.19 231.96L149.69 232.23L145.5 230.15L150.05 231.68L148.67 230.76L149.29 230.67L148.12 229.82L152.2 231.2L150.18 229.99L148.64 228.98L146.4 227.66L149.24 228.53L149.18 228.15L147.21 226.93L146.53 226.27L149.57 227.25L148.09 226.24L149.21 226.38L148.65 225.77L144.98 223.76L148.06 224.78L145.68 223.34L146.93 223.54L148.28 223.8L148.87 223.7L147.55 222.73L145.95 221.62L148.08 222.24L147.98 221.83L149.6 222.23L151.62 222.82L151.15 222.23L152.16 222.35L150.05 220.98L148.8 220.01L152.18 221.28L147.81 218.8L152.03 220.48L152.65 220.42L151.44 219.46L153.55 220.14L152.46 219.23L155.86 220.56L153.67 219.11L156.18 220L155.97 219.54L154.48 218.42L156.05 218.86L155.56 218.24L155.01 217.6L153.14 216.27L155.1 216.91L155.06 216.53L156.44 216.88L158.42 217.56L157.97 216.96L161.18 218.29L159.33 216.95L160.69 217.32L162.26 217.8L157.28 214.77L156.14 213.79L159.93 215.47L160.95 215.66L159.4 214.46L160.34 212.76L177.98 222.65A164.4 164.4 0 0 0 161.38 265.32ZM179.17 220.55L166.64 213.29L167.59 211.67L168.84 212.06L171.51 213.3L170.45 212.31L170.51 211.98L170.9 211.87L171.34 211.78L170.84 211.11L169.33 209.83L171.4 210.74L169.53 209.22L172.65 210.79L170.08 208.84L174.88 211.47L173.72 210.38L172.87 209.5L173.36 209.44L171.95 208.19L175.22 209.91L170.51 206.54L169.39 205.45L170.82 206L172.76 206.89L171.71 205.84L172.56 206.02L175.41 207.51L170.33 203.82L171 203.88L171.83 204.06L173.08 204.51L170.5 202.42L172.23 203.2L170.15 201.43L172.39 202.56L171.06 201.28L172.54 201.9L175.12 203.28L174.23 202.3L173.24 201.25L173.54 201.08L173.47 200.65L172.63 199.69L173.54 199.94L176.48 201.61L175.82 200.78L176.2 200.66L172.66 197.78L173.78 198.19L174.85 198.57L170.49 195.07L172.81 196.33L174.67 197.28L174.22 196.57L176.07 197.52L174.82 196.22L175.18 196.1L174.04 194.87L173.45 194.05L178.42 197.32L175.43 194.72L175.12 194.09L177.04 195.13L176.17 194.09L174.56 192.48L174.12 191.75L176.94 193.48L175.86 192.27L175.28 191.43L176.45 191.92L177.79 192.55L174.47 189.59L177.16 191.27L176.99 190.73L176.7 190.1L177.7 190.48L178.26 190.52L175.41 187.87L177.11 188.81L179.19 190.05L177.37 188.19L174.82 185.75L175.75 186.08L178.71 188.04L177.91 186.99L177.93 186.59L175.79 184.43L176.88 184.9L178.51 185.83L176.68 183.91L177.23 183.93L181.43 186.99L175.7 181.82L178.98 184.13L180.87 185.29L179.64 183.84L180.62 184.24L182.02 185.01L178.02 181.2L178.48 181.16L177.6 179.98L179.22 180.94L179.78 180.99L181.91 182.41L180.97 181.17L179.02 179.04L179.12 178.69L180.4 179.38L178.98 177.7L181.64 179.61L178.17 176.1L180.81 178L182.43 179.01L179.53 175.98L181.78 177.55L180.34 175.82L179.99 175.06L180.84 175.38L184.56 178.32L182.95 176.41L183.69 176.65L184.9 177.32L183.07 175.2L182.99 174.67L182.46 173.73L183.28 174.05L184.41 174.66L185.48 175.22L187.4 176.59L185.99 174.81L185.58 173.97L185.97 173.9L187.33 172.49L203.6 188.32A164.4 164.4 0 0 0 179.17 220.55ZM204.93 186.98L196.5 178.58L197.81 177.28L200.71 179.8L200.75 179.41L201 179.23L199.69 177.45L194.45 171.59L198.28 175.1L200 176.46L198.13 174.05L197.81 173.27L199.93 175.04L201.46 176.22L203 177.4L199.84 173.6L198.67 171.9L197.56 170.25L199.28 171.63L198.99 170.86L200.82 172.38L201.42 172.58L203.27 174.14L199.54 169.6L205.3 175.46L205.49 175.22L201.62 170.5L200.48 168.76L202.93 171.02L201.27 168.69L202.85 170L204.6 171.5L201.31 167.33L203.73 169.59L204.54 170.04L204.43 169.45L203.46 167.86L202.88 166.72L203.4 166.84L203.14 166.06L204.66 167.34L201.67 163.38L204.33 165.99L204.49 165.7L205.88 166.84L204.44 164.67L203.3 162.82L206.85 166.55L206.46 165.6L203.94 162.09L206.79 165.02L205.12 162.52L206.28 163.41L205.36 161.81L205.68 161.69L204.8 160.11L207.69 163.15L207.02 161.83L208.61 163.29L208.66 162.85L208.23 161.81L205.48 157.86L205.97 157.97L207.14 158.92L207.56 158.93L207.67 158.55L209.4 160.24L206.56 156.09L209.17 158.91L209.38 158.66L208.75 157.33L208.09 155.95L209.31 157.01L208.94 156L210.02 156.88L211.06 157.72L210.22 156.08L209.72 154.88L209.03 153.42L209.78 153.89L210.33 154.08L212.28 156.16L211.18 154.14L213.24 156.38L212.13 154.34L212.6 154.43L212.06 153.15L211.18 151.39L209.98 149.17L210.05 148.7L212.77 151.92L211.68 149.85L214.09 152.65L212.59 149.98L214.17 151.65L213.53 150.19L214.18 150.54L213.18 148.54L217 153.44L212.79 146.83L214.29 148.42L215.6 149.75L215.34 148.78L215.5 148.44L216.25 148.97L218.23 151.3L219.08 151.98L216.83 148.07L216.19 146.54L220 151.63L220.05 151.14L222.35 154.03L220.65 150.89L220.05 149.41L220.94 150.18L221.68 150.72L220.02 147.6L219.39 146.04L220.26 146.78L221.24 147.7L223.02 149.87L221.64 147.13L221.66 146.57L224.76 150.83L223.39 148.08L225.02 147.06L234.96 163.16A164.4 164.4 0 0 0 204.93 186.98ZM236.04 162.5L231.57 155.14L233.12 154.21L232.15 151.97L231.33 149.97L233.46 152.99L232.23 150.29L233.86 152.48L232.75 149.96L231.38 146.97L232.12 147.63L233.28 149.03L233.44 148.69L232.74 146.84L233.41 147.39L232.59 145.29L233.83 146.86L232.9 144.56L236.12 149.69L234.05 145.32L234.83 146.08L233.12 142.34L234.53 144.25L235.53 145.43L234.16 142.24L235.11 143.33L235.14 142.72L234.29 140.46L236.56 144.03L234.82 140.09L235.46 140.62L237.39 143.59L235.84 139.97L236.1 139.77L236.91 140.64L235.56 137.34L236.89 139.22L236.39 137.54L236.12 136.3L236.25 135.84L236.48 135.57L237.44 136.74L238.82 138.77L239.02 138.45L237.75 135.2L238.13 135.23L240.03 138.33L237.55 132.56L237.62 131.96L240.11 136.3L239.97 135.29L238.09 130.64L239.36 132.51L240 133.1L240.28 132.91L241.76 135.27L239.65 130.05L241.79 133.83L241.64 132.73L241.43 131.51L242.32 132.64L242.04 131.26L242.61 131.72L242.98 131.73L242.93 130.84L245.03 134.68L244.34 132.35L243.72 130.17L245.52 133.39L245.42 132.39L245.17 131.01L245.65 131.3L246.22 131.78L246.2 130.92L248.68 135.81L246.78 130.62L247.69 131.91L247.63 130.95L248.74 132.7L248.68 131.76L249.86 133.71L250.02 133.26L249.77 131.85L251 133.94L249.12 128.59L251.23 132.85L251.47 132.57L252.47 134.18L253.75 136.49L253.45 134.92L253.97 135.37L254.26 135.24L254.82 135.79L254.61 134.41L256.12 137.39L255.28 134.41L255.4 133.83L256.61 136.08L258.03 138.91L256.29 133.53L256.06 132.04L256.24 131.61L257.36 133.67L258.23 135.1L259.26 136.95L259.25 136.04L258.45 132.99L259.29 134.36L258.85 132.25L259.2 132.29L260.15 133.99L257.91 126.85L256.67 122.41L258.56 121.74L267.55 147.67A164.4 164.4 0 0 0 236.04 162.5ZM268.88 147.21L265.49 137.15L267.23 136.58L267.53 136.51L267.31 134.84L267.56 134.6L266.51 130.28L266.69 129.79L267.93 132.66L266.68 127.62L267.25 128.35L268.64 131.8L267.4 126.67L269.29 131.76L268.24 127.23L268.72 127.68L269.68 129.8L269.77 128.99L269.12 125.64L270.29 128.49L270.3 127.4L270.75 127.8L271.89 130.61L272.46 131.46L272.15 129.22L272.69 129.97L271.52 124.62L272.76 127.87L272.93 127.3L272.45 124.34L273.63 127.43L273.67 126.36L273.77 125.48L274.75 127.91L275.11 128.03L274.44 124.24L275.77 128.06L275.71 126.58L275.33 123.79L275.37 122.66L275.41 121.49L277 126.45L276.22 122.04L276.85 123.2L277.42 124.17L277.03 121.21L278.14 124.4L277.87 121.89L278.03 121.18L278.93 123.55L279.23 123.41L279.45 122.94L280.06 124.13L280.61 125.08L280.06 121.22L280.73 122.71L281.26 123.59L281.94 125.18L281.33 120.94L282.38 124.21L282.98 125.46L282.4 121.23L282.74 121.26L283.84 124.9L283.4 121.25L283.9 122.06L283.79 119.93L284.46 121.56L284.53 120.27L284.69 119.41L285.02 119.41L285.65 120.89L285.79 119.94L285.9 118.77L286.09 117.99L286.7 119.44L287.14 120.04L287.66 121.06L288.04 121.3L288.03 119.47L288.65 121.04L288.43 118L289.34 121.23L288.93 117.01L289.98 121.16L290.02 119.46L290.02 117.53L290.92 120.89L291.15 120.28L291.39 119.75L292.32 123.51L291.82 118.32L292.01 117.44L292.6 119.1L294.53 118.81L297.67 140.32A164.4 164.4 0 0 0 268.88 147.21Z" fill="#74C476" stroke="#0E9A14" stroke-width="0.8" stroke-linejoin="round"/></g>
<g clip-path="url(#tc2)"><path d="M326.94 168.11L327.94 143.63L329.61 143.71L329.88 143.73L330.05 145.69L330.34 145.47L330.52 146.92L330.89 145.24L331.12 145.98L331.33 146.95L331.8 143.84L331.86 147.19L332.13 147.12L332.61 144.07L332.72 146.44L332.9 147.67L333.24 146.69L333.7 144.27L333.94 144.77L333.94 148.1L334.3 146.97L334.45 148.42L334.89 146.5L335.24 145.58L335.63 144.28L335.74 146.04L335.83 148.09L336.1 148.09L336.41 147.6L336.64 148.07L336.77 149.39L337.1 148.86L337.16 150.79L337.38 151.27L337.64 151.28L338.36 147.13L338.07 152.18L338.91 147.04L338.94 149.21L339.14 149.77L339.53 148.78L339.79 148.79L340.39 146.1L340.2 149.84L340.71 147.93L341 147.82L341.1 149.14L341.3 149.64L341.75 148.31L341.88 149.35L342.16 149.29L342.14 151.41L342.67 149.5L342.78 150.63L343.01 150.92L342.93 153.33L343.71 149.74L344.11 148.88L344.17 150.29L344 153.22L344.61 150.94L344.87 151.02L344.71 153.74L345.86 148.11L345.6 151.48L345.98 150.8L346.02 152.18L346.64 150.01L346.87 150.29L347.43 148.6L347.26 151.17L347.46 151.58L348.13 149.29L347.83 152.54L348.57 149.89L349.08 148.52L348.76 151.83L349.06 151.68L349.64 149.99L349.51 152.14L349.69 152.6L350.33 150.66L350.41 151.68L350.56 152.3L351.07 151.04L351.45 150.5L351.63 150.98L351.57 152.61L351.85 152.57L351.85 153.9L352.21 153.46L352.48 153.46L353.96 147.67L353.62 150.58L353.09 154.4L353.89 151.89L353.42 155.34L353.73 155.15L354.41 153.24L354.52 154L353.99 157.55L355.39 152.53L355.65 152.57L355.53 154.29L356.14 152.81L356.24 153.57L355.9 156.16L356.27 155.73L356.7 155.06L356.4 157.43L356.81 156.84L357.13 156.62L358.07 153.88L357.79 156.12L358.67 153.66L359.45 151.63L357.66 159.79L359.31 154.34L359.35 155.28L359.38 156.21L359.14 158.14L360.16 155.28L360.56 154.82L360.27 156.91L360.89 155.6L361.51 154.33L361.26 156.25L361.93 154.8L361.57 157.12L362.03 156.43L361.87 157.97L361.86 158.98L362.68 157.01L363.06 156.63L362.88 158.24L363.32 157.65L364.15 155.7L364.07 156.92L363.72 159.03L365.48 153.99L364.57 158.01L364.63 158.71L365.35 157.23L365.61 157.28L364.65 161.32L365.2 160.41L366.77 156.17L366.18 158.99L366.21 159.74L366.55 159.53L366.98 159.03L367.3 158.89L368.09 157.29L367.97 158.51L368.36 158.17L367.72 160.96L368.72 158.72L368.36 160.67L369.17 159.03L368.72 161.22L369.17 160.68L369.63 160.15L369.24 162.08L370.24 159.95L370.63 159.61L370.28 161.45L371.07 159.95L370.47 162.46L370.69 162.6L370.38 164.26L370.84 163.72L371.12 163.69L371.3 163.95L373.1 159.71L372.98 160.8L372.89 161.81L372.46 163.75L373.6 161.39L373.88 161.37L373.23 163.87L374.49 161.24L374.13 162.95L373.9 164.27L374.75 162.75L374.85 163.22L375.37 162.59L375.74 162.35L375.08 164.76L376.55 161.69L376.32 163L376.58 163.06L375.92 165.41L378.01 160.86L377.65 162.47L378.55 160.92L378.43 161.93L378.05 163.57L378.55 163.03L378.05 164.93L379.2 162.81L378.97 164.05L380.02 162.2L379.45 164.24L380.29 162.93L380.46 163.18L381.1 162.36L380.05 165.48L380.82 164.35L380.5 165.75L380.94 165.39L381.73 164.21L381.45 165.5L382.09 164.69L382.5 164.41L381.46 167.4L382.14 166.5L381.47 168.62L381.47 169.24L383.01 166.45L383.12 166.83L383.13 167.43L384.46 165.14L383.59 167.66L384 167.39L383.96 168.08L384.41 167.72L384.21 168.76L384.35 169.07L385.17 167.93L384.95 168.99L384.88 169.73L385.77 168.46L386.49 167.55L386.99 167.1L386.59 168.52L386.14 170.04L385.76 171.4L386.97 169.51L387.58 168.86L387.34 169.93L388.03 169.11L387.24 171.26L388.26 169.8L388.47 169.96L389.14 169.2L389.41 169.24L388.47 171.64L388.34 172.45L389.11 171.51L389.68 170.97L390.47 170.01L390.85 169.83L391.12 169.88L390.66 171.31L390.52 172.12L391.1 171.57L392.2 170.04L391.58 171.77L390.86 173.65L390.33 175.15L392.75 171.22L392.85 171.58L393.36 171.19L393.42 171.6L394.06 170.98L393.59 172.37L393.13 173.72L394.02 172.65L394.84 171.71L394.14 173.5L395.5 171.6L394.22 174.38L393.94 175.4L394.2 175.44L394.81 174.9L395.94 173.44L396.56 172.89L395.91 174.53L395.44 175.83L396.44 174.63L397.91 172.62L396.41 175.7L397.19 174.87L397.1 175.52L396.98 176.22L396.27 177.91L398.23 175.13L398.29 175.54L398.94 174.95L400.12 173.52L399.48 175.07L397.63 178.58L398.93 176.95L399.87 175.91L399.74 176.61L400.77 175.43L399.38 178.14L401.12 175.85L401.31 176.03L401.48 176.25L400.76 177.87L401.23 177.6L401.38 177.84L402.59 176.43L402.01 177.81L400.56 180.53L402.79 177.54L403.53 176.88L402.86 178.38L402.84 178.89L403.88 177.77L402.71 180.02L402.49 180.8L404.21 178.67L403.78 179.78L401.81 183.18L403.86 180.58L403.88 181.01L405.03 179.76L405.26 179.87L405.69 179.71L404.62 181.71L405.6 180.74L405.14 181.86L406.11 180.91L406.12 181.34L407.66 179.58L405.89 182.56L406.33 182.37L405.55 183.92L407.31 181.87L408.44 180.72L408.11 181.63L408.12 182.05L407.73 183.04L407.96 183.15L407.48 184.25L409.81 181.48L407.21 185.48L409.71 182.49L409.39 183.36L409.72 183.35L409.19 184.49L408.99 185.18L409.67 184.7L410.02 184.66L410.88 183.94L410.89 184.35L409.32 186.85L409.34 187.23L411.68 184.58L411.02 185.86L412.15 184.81L412.59 184.67L411.03 187.1L411.65 186.71L411.58 187.22L410.37 189.18L411.17 188.55L411.33 188.76L413.02 187.03L412.85 187.65L412.8 188.12L414.27 186.69L413.5 188.05L413.88 187.99L415.61 186.25L413.1 189.76L413.66 189.47L414.36 189.01L414.8 188.87L415.21 188.77L415 189.43L415.3 189.46L414.46 190.87L412.84 193.21L416.71 188.96L416.24 189.92L417.3 189.06L415.78 191.26L417.07 190.12L418.46 188.89L417.52 190.38L417.37 190.95L418.62 189.89L417.14 191.99L417.86 191.55L418.99 190.63L416.2 194.23L420.9 189.23L419.76 190.93L417.7 193.65L418.97 192.59L419.81 192.04L420.92 191.17L420.06 192.52L418.67 194.46L420.09 193.25L420.29 193.41L420.48 193.58L418.82 195.79L420.69 194.11L422.95 192.01L420.78 194.75L422.05 193.76L423.48 192.58L421.15 195.47L422.36 194.55L421.74 195.58L421.21 196.52L422.49 195.52L422.05 196.37L422.99 195.74L424.47 194.56L424.41 194.99L425.08 194.66L426.8 193.24L424.48 196.03L423.15 197.77L424.47 196.77L423.57 198.06L423.86 198.12L425.34 196.98L424.15 198.56L425.96 197.08L424.48 198.94L424.86 198.92L423.65 200.48L427.02 197.47L427.08 197.78L424.48 200.72L427.12 198.46L424.63 201.27L427.79 198.52L426.72 199.93L426.27 200.72L427.5 199.88L427.56 200.17L426.58 201.48L427.03 201.39L425.72 202.99L428.99 200.21L427.18 202.29L428.01 201.85L430.24 200.09L428.85 201.76L429.31 201.68L431.35 200.11L427.7 203.88L429.34 202.69L428.85 203.49L430.26 202.54L429.57 203.52L430.57 202.95L430.32 203.51L429.85 204.29L432.32 202.39L431.32 203.65L431.06 204.22L430.9 204.71L431.96 204.1L433.37 203.18L433.32 203.57L433.03 204.18L431.12 206.2L432.07 205.71L434.45 203.96L433.16 205.42L432.6 206.25L431.18 207.82L432.82 206.74L432.64 207.23L433.47 206.84L430.74 209.51L432.67 208.19L434.45 207.01L433.79 207.91L433.14 208.79L437.22 205.69L435.89 207.15L436.54 206.94L435.52 208.12L435.28 208.65L436.54 207.95L436.54 208.28L434.9 209.95L434.93 210.25L435.9 209.79L438.09 208.34L437.23 209.37L437.21 209.72L436.02 211L436.34 211.07L437.45 210.51L437.8 210.56L436.88 211.61L438.93 210.32L436.15 212.83L436.82 212.63L440.29 210.24L438.43 212.01L439.22 211.72L439.47 211.85L438.16 213.19L437.87 213.73L436.72 214.93L440.08 212.68L440.61 212.61L438.96 214.17L442.54 211.8L439.39 214.49L439.69 214.58L439.79 214.82L440.55 214.58L438.75 216.23L440.45 215.28L440.75 215.38L440.96 215.55L440.81 215.97L442.88 214.78L440.56 216.78L441.77 216.22L440.67 217.33L441.56 217L442.04 216.97L442.09 217.25L442.46 217.3L441.55 218.26L443.01 217.54L442.81 217.99L445.7 216.28L444.75 217.26L445.32 217.19L446.23 216.87L444.92 218.09L442.55 220.03L445.48 218.33L446.55 217.92L446.23 218.45L443.58 220.56L443.51 220.9L445.12 220.14L447.77 218.67L447.94 218.87L445.45 220.84L444.58 221.72L446.61 220.69L446.71 220.93L447.33 220.84L446.38 221.76L446.83 221.78L449.2 220.56L448.38 221.4L444.35 224.28L446.67 223.1L448 222.56L448.49 222.55L448.7 222.73L448.67 223.05L448.97 223.17L450.13 222.76L451.35 222.3L449.12 224L452.66 222.12L451.18 223.34L451.88 223.22L452.88 222.92L449.37 225.36L449.94 225.32L450.88 225.05L451.18 225.18L451.99 226.54L437.9 234.79A135 135 0 0 0 326.94 168.11ZM438.69 236.15L450.06 229.68L450.82 231.03L452.27 230.51L451.44 231.27L452.68 230.88L450.62 232.3L452.03 231.82L454.07 231L450.17 233.41L453.14 232.1L451.98 233.01L455.68 231.33L451.44 233.88L452.75 233.47L453.2 233.52L452.45 234.21L453.44 233.98L452.07 234.98L453.79 234.38L451.25 235.97L452.35 235.69L453.51 235.38L453.91 235.47L451.62 236.92L452.16 236.93L454.89 235.84L454.22 236.46L454.42 236.65L452.88 237.7L454.08 237.39L454.98 237.23L454.69 237.66L454.83 237.88L455.57 237.8L454.82 238.45L457.41 237.49L456.22 238.35L454.27 239.56L455.81 239.11L457.56 238.57L456.83 239.2L452.5 241.51L456.72 239.82L455.15 240.83L456.37 240.55L455.74 241.12L459.38 239.73L455.52 241.78L454.57 242.49L455.3 242.44L458.95 241.07L456.96 242.25L457.48 242.3L456.63 242.96L459.24 242.08L457.81 243L457.51 243.41L455.79 244.44L459.67 243.03L459.44 243.41L459.48 243.68L456.57 245.2L458.57 244.63L461.1 243.84L458.45 245.24L460.14 244.8L459.26 245.45L462.35 244.45L460.64 245.44L460.78 245.66L457.83 247.15L462.01 245.72L458.43 247.46L460.33 246.97L459.67 247.51L459.3 247.93L459.03 248.32L459.77 248.3L461.39 247.94L461.08 248.34L460.38 248.89L459.09 249.66L461.32 249.08L460.34 249.73L461.01 249.75L458.9 250.83L458.87 251.11L459.35 251.2L457.99 251.98L461.5 250.94L460.97 251.41L461.11 251.64L462.34 251.46L460 252.59L460.32 252.74L460.17 253.07L461.14 252.99L461.67 253.07L462.7 252.98L461.48 253.68L459.7 254.58L462.43 253.9L462.12 254.27L463.04 254.23L460.64 255.32L461.66 255.25L461.38 255.61L463.5 255.17L462.78 255.68L460.65 256.66L461.54 256.63L463.22 256.34L462.79 256.76L463.46 256.81L464.35 256.79L462.46 257.67L464.3 257.35L461.35 258.56L462.61 258.43L463.47 258.43L463.42 258.71L463.06 259.09L463.97 259.08L464.14 259.29L464.95 259.32L463.57 260.01L463.74 260.22L464.76 260.18L465.21 260.32L463.54 261.08L461.3 262.01L465.23 261.12L466.59 261L465.54 261.57L462.69 262.65L461.12 263.36L463.94 262.83L463.45 263.23L465.84 262.83L465.81 263.11L463.7 263.95L464.54 263.99L464.49 264.27L464.93 264.42L465.32 264.58L463.14 265.42L461.1 266.22L465.2 265.4L463.03 266.23L465.21 265.93L463.34 266.67L466.43 266.15L465.57 266.63L463.52 267.41L463.14 267.77L463.83 267.85L467.77 267.15L465.47 267.98L465.31 268.28L461.39 269.48L465.99 268.64L464.76 269.2L470.17 268.19L464.91 269.68L464.23 270.1L468.04 269.49L464.72 270.51L464.34 270.85L466.61 270.6L468.01 270.56L464.7 271.55L466.54 271.41L469.28 271.08L467.71 271.68L468.41 271.8L466.77 272.41L465.47 272.94L467.25 272.83L467.81 272.98L466.71 273.46L465.06 274.06L467.32 273.86L468.36 273.92L464.74 274.89L467.98 274.52L468.44 274.69L464.73 275.66L468.34 275.24L468.57 275.46L467.57 275.91L466.72 276.32L470.17 275.95L468.39 276.54L466.91 277.06L468.19 277.1L465.44 277.84L467.79 277.69L467.24 278.04L467.19 278.31L467.35 278.54L471.47 278.12L467.02 279.11L465.59 279.6L468.76 279.35L466.8 279.92L468.36 279.93L469.56 280.01L470.7 280.09L468.19 280.74L467.98 281.03L467.26 281.39L470.14 281.23L469.15 281.63L468.69 281.96L469.45 282.11L471.21 282.13L469.79 282.59L467.24 283.19L470.15 283.06L467.78 283.63L470.66 283.51L471.27 283.7L470.57 284.05L468.73 284.54L470.57 284.57L470.53 284.84L468.9 285.29L470.53 285.36L468.85 285.82L470.65 285.87L469.25 286.29L474.34 285.98L471.19 286.59L469.44 287.04L470.36 287.2L472.17 287.27L470.94 287.66L471.02 287.91L471.65 288.11L469.34 288.6L471.06 288.69L470.85 288.97L469.66 289.34L470.77 289.5L470.75 289.76L467.97 290.26L469.27 290.41L470.34 290.57L468.73 290.96L471.35 291.01L472.51 291.18L471.04 291.55L470.95 291.82L469.74 292.17L470.42 292.38L471.33 292.57L468.68 293.01L473.24 292.96L471.95 293.31L469.79 293.71L472.2 293.82L470.24 294.19L471.21 294.4L470.78 294.68L468.04 295.08L470.36 295.22L468.65 295.56L470.89 295.71L474.45 295.8L470.38 296.25L469.04 296.56L468.5 296.84L472.29 296.94L471.31 297.24L470.08 297.54L470.05 297.8L473.08 297.96L471.61 298.27L472.61 298.5L470.41 298.82L469.56 299.1L472.62 299.28L469.9 299.6L467.49 299.91L470.33 300.11L471.88 300.34L471.61 300.6L471.73 300.86L471.95 301.11L472.62 301.37L473.32 301.62L473.18 301.88L473.69 302.14L474.99 302.4L471.8 302.67L472.99 302.93L470.08 303.19L472.29 303.45L471.85 303.71L470.59 303.96L471.96 304.23L472.99 304.5L473.99 304.77L469.46 304.98L474.85 305.31L472.36 305.53L470.24 305.76L470.22 306.01L472.44 306.32L471.36 306.55L474.3 306.89L471.83 307.08L474.11 307.41L472.05 307.61L471.72 307.86L470.64 308.08L473.05 308.43L472.05 308.65L474.57 309.01L472.35 309.18L470.91 309.38L470.83 309.64L470.22 309.87L474.35 310.32L470.96 310.42L473.45 310.8L472.96 311.04L474.68 311.4L471.76 311.5L468.32 311.56L473.51 312.12L473.11 312.36L474.28 312.7L474.62 312.99L471.48 313.04L469.89 313.19L471.18 313.54L469.68 313.69L472.56 314.16L470.07 314.24L470.23 314.51L473.04 314.99L471.56 315.13L471.14 315.36L473.66 315.83L471.54 315.91L471.68 316.18L468.57 316.17L472.37 316.77L472.75 317.07L471.77 317.24L469.95 317.32L469.65 317.55L471.59 318.01L470.56 318.16L470.67 318.43L471.45 318.78L471.38 319.03L468.96 319.03L470.33 319.44L469.43 319.6L470.49 319.98L471.71 320.38L472.52 320.74L472.39 320.98L467.35 320.64L469.57 321.17L470.45 321.54L469.86 321.72L469.35 321.92L470.14 322.28L471.63 322.74L470.44 322.84L471.1 323.19L472.01 323.58L471.68 323.8L469.56 323.77L472.37 324.42L468.79 324.18L469.97 324.61L471.73 325.13L469.51 325.06L469.68 325.35L469.39 325.57L471.62 326.17L469.98 326.18L468.56 326.22L470.71 326.82L473.27 327.5L472.13 327.58L470.41 327.57L471.19 327.96L471.75 328.32L470.05 328.3L469.67 328.5L472.25 329.21L469 328.91L471.92 329.69L472.35 330.03L469.24 329.74L471.21 330.36L469.15 330.25L468.99 330.48L469.84 330.9L469.42 331.09L470.91 331.64L471.52 332.03L470.14 332.02L469.47 332.16L468.66 332.26L469.88 332.77L471.38 333.34L469.36 333.2L469.57 333.51L468.33 333.52L469.51 334.03L470.57 334.52L470.37 334.75L467.8 334.46L469.27 335.05L466.61 334.73L468.56 335.42L471 336.23L470.43 336.38L467.7 336.03L466.69 336.06L469.32 336.93L469.67 337.28L468.55 337.29L468.84 337.62L467.99 337.69L471.1 338.7L469.09 338.49L470.76 339.16L470.25 339.31L470.85 339.73L469.15 339.59L469.2 339.87L472 340.84L469 340.36L468.99 340.63L468.35 340.73L471.31 341.77L469.51 341.58L472 342.51L471.98 342.78L469.1 342.29L467.14 342.04L470.01 343.08L470.49 343.49L472.8 344.39L469 343.63L471.66 344.64L468.97 344.17L471.41 345.13L470.34 345.1L471.94 345.84L469.98 345.56L470.22 345.9L470.83 346.36L472.46 347.11L469.43 346.51L473.08 347.86L471.05 347.54L471.75 348.03L470.3 347.88L470.65 348.27L470.78 348.59L472.6 349.43L472.11 351.01L450.03 343.98A135 135 0 0 0 438.69 236.15ZM449.54 345.48L465.84 350.88L465.33 352.39L468.12 353.63L466.97 353.52L467.01 353.81L467.47 354.26L465.86 353.97L464.39 353.73L466.12 354.63L463.81 354.08L462.95 354.05L463.41 354.49L465.01 355.35L466.48 356.17L463.88 355.5L462.34 355.21L462.7 355.62L464.15 356.44L464.36 356.8L462.88 356.52L462.93 356.82L458.33 355.34L461.56 356.85L460.99 356.91L461.16 357.26L460.52 357.28L462.33 358.27L461.85 358.36L464.4 359.65L461.38 358.73L461.4 359.03L464.37 360.5L459.93 358.99L459.5 359.1L460.17 359.65L458.6 359.28L462.03 360.97L461.62 361.09L461.39 361.28L462.2 361.9L459.75 361.15L458.63 360.96L458.62 361.24L457.36 360.98L459.12 362.01L457.43 361.57L457.38 361.82L457.83 362.3L456.54 362.02L459.08 363.41L456.85 362.71L456.22 362.71L458.77 364.12L457.38 363.78L458.42 364.53L458.71 364.95L458.61 365.19L456.65 364.59L459.84 366.32L455.01 364.4L457.13 365.65L456.71 365.75L456.01 365.7L456.76 366.33L458.67 367.52L456.62 366.84L456.58 367.11L457.05 367.62L456.74 367.76L455.3 367.36L454.69 367.34L455.84 368.19L456.54 368.81L455.29 368.49L457.65 369.94L456.36 369.59L454.18 368.8L454.77 369.38L455.58 370.08L455.1 370.13L454.79 370.25L456.07 371.2L454.47 370.67L455.77 371.62L454.15 371.09L453.97 371.28L451.96 370.54L453.19 371.46L455.1 372.75L453.68 372.3L456.54 374.09L454.45 373.28L453.67 373.17L456.23 374.82L451.86 372.79L454.58 374.54L452.96 373.96L452.48 373.99L450.23 373.06L451.17 373.86L451.16 374.15L451.62 374.69L451.43 374.89L449.88 374.32L450.93 375.19L449.81 374.86L449.63 375.05L446.11 373.36L447.56 374.46L448.74 375.42L449.65 376.23L448.31 375.76L448.3 376.04L447.91 376.11L449.89 377.55L448.67 377.14L446.85 376.37L448.78 377.79L449.21 378.34L449.97 379.09L449.54 379.13L449.86 379.62L448.09 378.86L447.82 379L448.9 379.95L445.72 378.32L449.46 380.89L447.09 379.75L449.1 381.28L449.95 382.1L447.49 380.89L448.63 381.9L447.32 381.39L449.07 382.79L447.11 381.86L446.32 381.67L448.6 383.41L447.64 383.11L446.7 382.82L448.22 384.1L447.22 383.76L445.18 382.75L447.71 384.69L444.38 382.84L446.44 384.48L445.59 384.23L445.52 384.5L449.9 387.69L448.38 387L445.84 385.64L441.85 383.28L444.88 385.61L442.87 384.57L444.22 385.79L444.53 386.31L445.71 387.41L444.35 386.8L443.34 386.42L445.7 388.36L444.09 387.56L442.45 386.74L445.02 388.83L444.77 388.97L440.46 386.28L440.81 386.83L440.22 386.72L441.19 387.72L440.51 387.55L442.53 389.29L440.21 387.95L440.84 388.71L441.25 389.32L438.43 387.6L441.62 390.22L440.13 389.45L440.43 389.98L440.85 390.61L440.47 390.64L440.59 391.05L441.29 391.89L440.91 391.93L438.8 390.67L441.2 392.79L440.02 392.22L441.16 393.41L440.17 392.99L437.99 391.65L441.36 394.54L438.24 392.47L440.58 394.59L438.75 393.51L440.55 395.23L439.51 394.75L436.76 392.93L440.84 396.45L438.05 394.59L437.08 394.15L439.54 396.42L437.42 395.07L436.62 394.76L437.22 395.56L438.19 396.68L438.92 397.59L437.37 396.67L437.98 397.5L435.61 395.91L434.47 395.3L434.97 396.04L435.86 397.1L434.53 396.33L437.43 399.07L435.02 397.4L436.22 398.73L433.57 396.85L436.14 399.34L434.71 398.47L433.42 397.71L433.93 398.49L436.43 400.95L435.58 400.56L433.59 399.2L435.08 400.81L434.1 400.31L435.78 402.11L430.61 397.96L433.4 400.72L432.72 400.47L432.62 400.73L430.85 399.5L434.03 402.65L432.59 401.73L431.15 400.79L431.4 401.35L431.58 401.85L430.75 401.45L431.23 402.23L430.96 402.33L429.59 401.42L434.02 405.81L430.61 403.04L431.65 404.35L431.13 404.22L431.19 404.63L431.14 404.93L430.12 404.34L429.56 404.17L428.51 403.53L429.17 404.5L431.91 407.44L429.76 405.76L428.27 404.7L430.6 407.28L428.75 405.87L427.37 404.9L429.41 407.22L427.59 405.82L427.83 406.4L430.35 409.22L426.96 406.27L426.13 405.81L428.82 408.82L427.48 407.86L428.13 408.87L426.01 407.12L427.69 409.16L424.39 406.23L426.22 408.42L426.96 409.53L425.93 408.86L424.41 407.68L425.44 409.1L424.95 408.96L425.53 409.92L426.76 411.56L426.8 411.98L427.34 412.92L425.23 411.09L425.27 411.52L424.56 411.14L423.99 410.92L424.11 411.42L423.05 410.67L423.44 411.47L423.81 412.23L422.84 411.57L424 413.2L422.67 412.14L424.4 414.39L422.86 413.11L422.3 412.88L420.84 411.67L420.04 411.17L421.88 413.57L422.24 414.35L420.48 412.79L421.88 414.73L420.64 413.73L420.57 414.04L422.34 416.42L420.53 414.77L421.5 416.25L419.11 413.94L418.62 413.76L420.46 416.26L419.76 415.85L418.39 414.66L418.69 415.4L418.05 415.06L417.53 414.84L416.92 414.52L420.43 419.03L417.54 416.03L416.87 415.64L416.54 415.64L416.72 416.26L417.21 417.23L417.27 417.71L416.21 416.84L418.02 419.42L416.46 417.94L417.59 419.72L417.25 419.71L417.15 420.01L416 419.01L417.01 420.66L414.19 417.59L416.22 420.52L412.64 416.48L416.9 422.2L414.32 419.39L414.47 420L413.6 419.31L413.24 419.27L413.87 420.49L413.81 420.82L414.42 422.03L414.7 422.81L414.71 423.25L412.92 421.37L414.07 423.28L412.36 421.48L412.7 422.35L411.46 421.15L411.93 422.19L411.23 421.69L411.93 423.06L411.42 422.8L410.67 422.23L411.35 423.58L408.24 419.83L411.74 424.99L410.3 423.48L410.95 424.79L409 422.57L411.02 425.78L410.13 425L410.49 425.94L408.51 423.64L408.8 424.48L409.28 425.61L407.87 424.08L409.65 427.02L407.34 424.22L409.74 428.06L407.65 425.55L408.27 426.88L408.22 427.27L408.25 427.77L408.02 427.9L406.28 425.85L408.64 429.72L407.3 428.24L406.62 427.71L407.02 428.76L404.7 425.81L407.04 429.73L406.4 429.25L407.12 430.79L407.15 431.32L404.83 428.32L405.03 429.08L404.63 428.96L405.19 430.28L405.2 430.77L404.73 430.54L405.27 431.85L403.87 430.19L405.11 432.58L404.84 432.66L404.36 432.4L404.48 433.08L402.82 430.98L404 433.31L404.47 434.56L403.67 433.79L404.29 435.29L402.97 433.68L403.8 435.53L402.69 434.25L403.99 436.85L402.72 435.31L402.85 436.04L402.39 435.79L402.03 435.73L402.42 436.89L401.02 437.73L390.08 419.22A135 135 0 0 0 449.54 345.48ZM388.96 419.88L398.25 435.94L396.85 436.74L398.59 440.38L398.89 441.47L396.36 437.5L396.07 437.52L397.51 440.66L395.42 437.44L395.98 439L394.19 436.29L394.48 437.37L395.24 439.33L393.69 437.02L394.18 438.48L392.99 436.82L391.31 434.23L391.91 435.91L390.95 434.65L391.86 436.92L391 435.86L390.9 436.23L390.24 435.52L390.31 436.21L389.2 434.61L389.84 436.43L389.25 435.84L389.45 436.8L389.44 437.35L389.5 438.06L388.56 436.76L388.4 437.03L388.56 437.92L388.33 438.05L389 439.99L388.02 438.59L388.48 440.13L386.99 437.67L386.73 437.72L385.16 435.08L386.22 437.87L386.96 440.01L386.25 439.11L384.78 436.64L384.59 436.82L385.26 438.86L385.19 439.31L385.23 440.01L384.54 439.15L384.55 439.78L385.26 441.95L384.07 439.98L384.61 441.81L383.78 440.6L382.87 439.24L383.3 440.82L382.56 439.79L383.1 441.64L381.42 438.49L382.94 442.58L382.24 441.64L382.33 442.49L380.95 439.99L381.26 441.35L380.57 440.42L379.68 438.98L380.62 441.83L379.98 440.99L379.34 440.15L379.31 440.74L379.55 441.97L379.37 442.22L378.31 440.36L378.37 441.17L378.75 442.79L377.47 440.34L377.66 441.47L377.39 441.51L376.86 440.86L377.79 443.88L376.66 441.75L375.65 439.9L376 441.49L375.95 442.06L374.93 440.16L376.28 444.35L375.4 442.78L375.72 444.34L374.87 442.84L374.05 441.42L373.43 440.51L374.51 444.09L373.45 442L372.35 439.79L372.92 442.06L373.16 443.44L373.56 445.28L372.67 443.62L371.76 441.87L372.3 444.11L371.51 442.66L371.28 442.79L371.41 443.92L371.1 443.81L369.47 439.96L370.49 443.64L370.52 444.5L369.63 442.73L369.63 443.49L369.68 444.44L370.06 446.36L368.69 443.11L368.76 444.15L368.83 445.16L368.63 445.38L368.24 445.02L368.12 445.49L367.94 445.77L366.68 442.73L367.04 444.65L367.2 445.99L367.06 446.41L365.8 443.31L365.79 444.12L365.69 444.66L364.79 442.62L365.18 444.73L365.55 446.83L364.54 444.4L363.79 442.8L364.18 444.97L364.89 448.25L363.94 445.97L363.47 445.28L363.54 446.43L363.63 447.65L363.3 447.46L363.12 447.77L362.91 447.97L360.89 441.81L362.03 446.77L362.34 448.83L361.74 447.64L361.94 449.34L361.2 447.65L361.17 448.51L360.38 446.61L359.48 444.25L360.03 447.29L359.82 447.51L359.62 447.76L359.37 447.83L359.22 448.28L358.76 447.51L358.39 447.12L358.42 448.28L358.37 449.14L357.93 448.44L357.16 446.42L356.99 446.82L356.56 446.12L356.56 447.18L356.15 446.59L355.41 444.59L355.73 447.02L356.63 451.95L354.91 445.76L354.62 445.64L354.82 447.62L354.9 449.13L353.78 445.35L353.91 447.11L353.51 446.47L353.42 447.25L353.08 446.86L353.1 448.16L353.27 450.15L352.18 446.33L352.39 448.53L351.57 445.89L351.62 447.33L351.67 448.83L351.17 447.71L351.58 451L350.17 445.34L350.58 448.62L350.25 448.29L349.98 448.27L349.81 448.72L349.34 447.61L349.45 449.57L349.01 448.6L348.85 449.14L348.64 449.44L348.67 450.99L347.78 447.61L347.86 449.44L347.25 447.5L347.35 449.5L347.35 451.02L347.45 453.08L346.12 446.92L346.26 449.27L346.41 451.69L345.82 449.73L345.04 446.57L345.28 449.6L345.05 449.77L345.6 454.88L344.41 448.99L344.45 450.92L344.05 450.01L343.65 449.11L343.32 448.65L343.07 448.71L342.73 448.09L342.89 450.95L342.68 451.36L342.4 451.2L341.76 448.51L341.31 447.05L341.88 453.1L341.32 450.91L340.71 448.3L340.6 449.42L340.38 449.71L339.84 447.46L340.05 451.13L339.58 449.44L339.31 449.38L338.97 448.68L338.7 448.56L338.57 449.55L338.33 449.76L338.31 451.8L337.6 447.83L337.79 451.79L337.51 451.62L337.03 449.61L337.14 453.1L336.72 451.5L336.36 450.55L336.1 450.48L335.84 450.51L335.49 449.5L335.21 449.22L335.05 450.3L334.75 449.8L334.58 450.75L334.29 450.33L334.12 451.35L333.91 451.99L333.25 447.11L333.11 448.47L333.18 452.51L332.74 450.2L332.35 448.42L332.37 452.08L332.24 453.84L331.71 450.15L331.55 451.43L331.33 451.99L330.96 450.26L330.74 450.88L330.43 450.01L330.29 451.89L330.07 452.5L329.88 453.86L329.52 452.03L329.24 451.55L328.98 451.58L328.84 453.97L328.42 450.6L328.17 450.59L328.03 453.38L327.72 452.14L327.33 448.8L327.2 451.87L327.04 454.49L326.7 452.3L326.44 452.5L326.13 450.75L325.88 450.98L325.58 449.35L325.34 449.98L325.14 452.11L324.9 452.71L324.61 451.04L324.34 450.66L324.13 452.85L323.85 451.51L323.62 453.49L323.37 454.52L323.11 454.69L322.83 452.05L322.58 452.98L322.3 450.43L322.07 454.83L321.8 455.04L321.54 454.06L321.28 452.05L321.02 454.57L320.76 454.03L320.5 453.08L320.25 452.89L319.97 454.39L319.72 453.68L319.43 455.59L319.19 454.23L318.95 452.88L318.69 453.26L318.4 454.49L318.14 454.32L317.94 451.73L317.65 453.19L317.4 452.93L317.01 457.34L316.9 452.2L316.64 452.15L316.33 453.98L316.06 454.2L315.7 456.69L315.62 452.09L315.19 456.21L315.05 453.27L314.8 453.09L314.58 452.15L314.23 454.05L314.01 453.23L313.92 449.98L313.57 451.73L313.29 452.14L313.07 451.48L312.66 454.06L312.47 453.01L312.09 454.93L311.99 452.29L311.55 455.04L311.46 452.44L311.2 452.43L310.89 453.19L310.72 452L310.45 452.16L310.14 452.77L309.71 455L309.6 453.05L309.29 453.67L309.12 452.57L308.58 455.86L308.71 451.22L308.07 455.6L307.97 453.79L307.65 454.4L307.38 454.51L307.14 454.28L306.89 454.06L306.7 453.35L306.41 453.61L306.24 452.71L305.98 452.72L305.74 452.5L304.94 457.56L305.07 453.87L304.61 455.63L304.63 453.1L304.27 453.98L303.74 456.29L303.8 453.45L303.1 457.13L302.79 457.47L303.02 453.34L302.47 455.69L302.13 456.21L301.89 456.01L301.71 455.32L301.78 452.77L301.36 453.91L300.67 457.1L300.86 453.69L300.3 455.85L299.93 456.59L299.81 455.48L299.35 456.83L299.25 455.64L299.25 453.86L298.89 454.47L298.15 457.63L298.07 456.36L297.79 456.37L297.74 454.96L297.65 453.82L296.85 457.19L296.62 456.93L296.32 457.11L296.27 455.74L295.86 456.59L295.73 455.7L295.06 458.08L293.44 457.8L297.4 435.85A135 135 0 0 0 388.96 419.88ZM296.34 435.65L292.15 457.82L290.53 457.51L290.94 454.07L290.31 455.83L290.15 455.3L289.8 455.64L289.44 456.06L289.31 455.38L289.5 453.18L289.55 451.66L289.04 452.8L289 451.76L288.74 451.73L288.46 451.74L288.17 451.85L287.79 452.34L288.04 450.05L287.36 451.85L287.2 451.37L286.82 451.83L286.71 451.14L286.26 451.92L286.88 448.16L286.12 450.24L286.18 448.87L285.66 449.93L285.99 447.48L285.1 450L285.03 449.2L284.65 449.64L284.51 449.16L284.48 448.22L284.44 447.32L283.6 449.55L283.1 450.43L284.16 445.35L283.42 447.17L282.77 448.62L282.83 447.37L282.16 448.89L283.2 444.05L282.05 447.28L280.67 451.33L281.76 446.42L281.14 447.68L280.47 449.11L280.58 447.76L280.3 447.78L280.52 446.09L279.64 448.22L279.47 447.84L279.25 447.68L279.25 446.76L278.85 447.21L279.46 444.23L278.16 447.71L277.37 449.43L278.36 445.23L277.62 446.79L277.68 445.71L277.03 446.94L277.18 445.57L276.71 446.21L277.02 444.37L276.49 445.19L275.89 446.24L275.47 446.69L276.19 443.61L276.02 443.31L275 445.63L275.72 442.59L274.4 445.79L274.47 444.75L273.89 445.67L273.04 447.41L273.28 445.86L273.17 445.38L273.56 443.42L273.17 443.79L272.96 443.59L272.22 444.94L272.62 443.01L272.14 443.62L271.69 444.11L271.07 445.1L271.9 441.99L271.58 442.13L270.77 443.62L270.79 442.82L269.94 444.41L269.54 444.73L269.9 443L269.86 442.38L269.92 441.46L269.1 442.93L268.05 444.99L268.69 442.57L269.2 440.5L267.77 443.54L268.59 440.66L267.06 443.93L268.13 440.44L266.35 444.32L266.38 443.51L267.17 440.8L266.27 442.39L267.59 438.36L266.17 441.23L265.76 441.58L265.29 442.06L264.93 442.24L266 438.94L264.35 442.3L265.12 439.75L264.59 440.36L263.66 441.93L262.52 443.97L262.94 442.29L263.35 440.67L263.04 440.73L263.09 439.96L263.35 438.7L262.66 439.65L262.2 440.06L263.04 437.49L261.86 439.56L260.59 441.82L259.96 442.6L260.6 440.51L260.74 439.54L261.56 437.08L260.91 437.91L259.88 439.58L261.16 436.12L260.67 436.6L260.31 436.77L260.12 436.57L259.66 436.97L259.09 437.58L258.24 438.82L258.39 437.87L257.99 438.13L258.24 437L258.46 435.92L258.11 436.08L256.84 438.15L258.74 433.6L257.11 436.39L257.02 435.99L255.64 438.25L256.76 435.36L255.96 436.41L255.13 437.53L254.81 437.58L254.8 437.02L255.15 435.75L255.47 434.54L255.59 433.73L254.59 435.16L254.63 434.51L254.36 434.48L253.39 435.81L254.77 432.57L253.2 435.05L253.5 433.93L253.03 434.27L251.95 435.79L253.06 433.13L252.23 434.16L252.95 432.24L252.66 432.25L250.05 436.61L252.32 431.82L251.08 433.6L250.9 433.39L250.46 433.65L249.41 435.05L250.72 432.11L251.11 430.88L250.47 431.51L250.8 430.4L248.28 434.41L247.18 435.85L248.42 433.11L247.12 434.89L247.38 433.89L247.35 433.43L248.12 431.54L246.09 434.58L245.63 434.86L245.16 435.15L246.22 432.79L245.56 433.42L246.62 431.08L246.08 431.5L244.65 433.42L244.54 433.1L244.76 432.22L243.54 433.75L244.48 431.68L244.23 431.59L244.18 431.17L242.86 432.85L241.84 434.03L243.96 430.03L243.56 430.2L243.58 429.67L243.85 428.75L244.34 427.47L243.24 428.76L242.22 429.91L242.42 429.11L242.63 428.3L242.12 428.62L241.18 429.63L241.76 428.24L241.51 428.15L240.72 428.9L242.15 426.22L242.15 425.74L240.01 428.58L240.89 426.76L239.86 427.86L240.68 426.14L240.12 426.53L238.02 429.26L238.66 427.82L239.38 426.27L238.47 427.16L238.11 427.24L238.32 426.47L237.54 427.17L237.18 427.23L237.93 425.68L237.12 426.4L236.27 427.19L236.43 426.5L236.72 425.63L235.91 426.34L236.69 424.76L235.29 426.32L236.37 424.34L235.47 425.17L235.1 425.24L234.96 424.99L233.72 426.29L235.28 423.66L236.66 421.29L234.68 423.61L234.79 423.02L234.26 423.32L234.81 422.13L233.15 423.98L233.65 422.85L232.97 423.35L233.82 421.75L231.55 424.4L232.26 423.01L231.46 423.65L231.44 423.24L230.67 423.84L231.37 422.48L230.59 423.07L230.9 422.23L230.22 422.7L231.49 420.61L230.27 421.79L229.29 422.64L228.82 422.82L229.71 421.24L230.36 419.99L229.11 421.17L229.76 419.93L227.61 422.24L227.8 421.58L227.03 422.13L227.67 420.91L227.5 420.7L226.55 421.48L225.81 421.98L226.45 420.77L226.28 420.56L228.09 417.92L226.49 419.48L226.57 418.96L226.98 418.06L224.69 420.43L224.21 420.61L224.07 420.37L224.65 419.25L224 419.62L222.13 421.45L224.68 418L224.17 418.21L222.06 420.29L223.11 418.65L223.06 418.31L223.2 417.74L222.93 417.66L221.78 418.58L222.7 417.12L222.85 416.56L222.33 416.75L222.21 416.5L219.86 418.78L219.99 418.23L220.29 417.49L220.1 417.31L218.91 418.25L220.94 415.57L217.47 419.06L218.49 417.52L218.78 416.81L217.14 418.22L216.19 418.88L217.5 417.04L218.92 415.08L216.72 417.09L216.81 416.61L217.03 415.97L217.35 415.23L217.02 415.21L216.3 415.59L215.2 416.37L214.32 416.92L214.64 416.18L215.46 414.93L215.27 414.75L213.83 415.87L214.61 414.67L213.7 415.23L213.88 414.65L212.72 415.47L213.01 414.79L213.43 413.97L213.33 413.68L212.76 413.88L211.95 414.33L212.64 413.24L212.42 413.09L209.34 415.81L210.87 413.89L211.01 413.36L210.66 413.33L211.61 412.01L209.31 413.91L209.75 413.09L210.23 412.24L208.48 413.58L207.32 412.39L223.96 396.44A135 135 0 0 0 296.34 435.65ZM223.41 395.86L209.76 408.79L208.66 407.62L208.34 407.55L208.78 406.78L208.37 406.8L206.81 407.87L209.7 404.86L205.79 408.07L205.88 407.62L208.75 404.67L204.48 408.16L206.64 405.85L207.13 405.06L206.61 405.16L207.89 403.67L208.17 403.07L204.85 405.65L207.69 402.8L206.23 403.73L208.73 401.2L208.33 401.2L207.26 401.79L207.32 401.39L207.65 400.76L205.72 402.07L207.53 400.18L208.3 399.18L206.6 400.28L205.76 400.66L207 399.27L205.91 399.84L206.1 399.35L204.35 400.46L207.17 397.78L208.29 396.53L205.79 398.25L205.83 397.88L205.88 397.51L207.95 395.49L203.87 398.48L205.71 396.65L204.55 397.25L206.05 395.71L203.97 397.05L203.92 396.76L203.98 396.38L204.59 395.56L203.09 396.42L204.03 395.35L204.16 394.92L202.98 395.51L201.81 396.09L203.04 394.81L204.85 393.08L203.45 393.83L201.89 394.71L202.63 393.82L202.72 393.42L199.9 395.23L200.81 394.21L204.14 391.38L201.22 393.25L202.18 392.21L202.97 391.3L200.51 392.81L202.9 390.71L201.51 391.42L200.86 391.58L202.52 390.04L201.09 390.77L198.43 392.39L201.26 390.01L201.35 389.63L197.51 392.07L200.24 389.79L200.31 389.42L201.13 388.52L199.66 389.25L200.07 388.65L197.97 389.81L199.65 388.31L197.82 389.27L196.71 389.73L197.99 388.52L198.56 387.82L199.27 387.02L197.51 387.91L196.89 388.01L199.77 385.74L196.77 387.47L198.85 385.75L197.58 386.29L199.2 384.9L199.96 384.08L197.27 385.56L197.62 385.03L200.53 382.79L196.1 385.41L194.02 386.46L197.93 383.6L196.5 384.22L193.53 385.84L196.31 383.73L195.53 383.92L194.23 384.44L194.27 384.11L193.04 384.58L193.95 383.7L194.67 382.93L196.66 381.38L193.54 383.03L193.98 382.45L194.38 381.89L194.07 381.78L193.1 382.07L193.69 381.4L195 380.3L193.52 380.9L191.77 381.66L192.7 380.79L192.05 380.88L194.13 379.32L193.89 379.17L190.57 380.84L192.02 379.68L190.89 380.04L191.65 379.29L191.24 379.23L189.47 379.96L193.12 377.53L191.13 378.39L191.33 377.97L192.02 377.28L189.13 378.63L190.59 377.49L191.69 376.57L188.42 378.12L190.91 376.41L191.04 376.04L190.56 376.02L187.14 377.62L189.66 375.92L190.31 375.27L185.59 377.56L187.41 376.26L188.27 375.49L188.4 375.12L190.5 373.69L186.24 375.69L189.41 373.69L189.54 373.33L185.16 375.36L188.12 373.49L183.6 375.58L186.55 373.72L185.42 374.02L186.58 373.12L186.19 373.02L187.1 372.25L186.3 372.37L184.96 372.76L186.28 371.79L184.33 372.49L185.37 371.66L182.92 372.6L185.43 371.04L183.7 371.61L182.97 371.68L184.51 370.61L180.35 372.37L183.99 370.28L185.07 369.46L185.08 369.16L182.53 370.1L183.26 369.45L182.52 369.52L183.95 368.54L180.58 369.85L182.65 368.57L181.34 368.89L183 367.82L180.06 368.9L182.65 367.4L179.89 368.38L180.29 367.9L182 366.82L176.48 369.04L175.8 367.52L197.98 357.69A135 135 0 0 0 223.41 395.86ZM197.34 356.25L176.49 365.2L175.85 363.68L175.25 363.63L178.35 362.06L177.52 362.1L177.37 361.87L177.55 361.51L178.81 360.71L179.52 360.14L178.16 360.4L177.28 360.46L176.7 360.4L179.85 358.87L178.96 358.93L182.47 357.28L183.36 356.66L183.81 356.21L183.12 356.2L179.45 357.33L183.42 355.54L183.71 355.15L181.98 355.53L182.19 355.18L178.31 356.35L184.14 353.9L182.73 354.15L184.49 353.24L181.14 354.19L176.52 355.59L182.75 353.06L182.89 352.74L184.23 351.99L183.03 352.15L181.4 352.45L180.6 352.46L180.83 352.11L180.6 351.92L182.27 351.07L182.31 350.78L180.15 351.25L181.97 350.36L181.08 350.39L178.88 350.86L178.77 350.62L177.01 350.93L178.6 350.13L181.03 349.06L177.6 349.91L177.84 349.56L179.07 348.88L177.98 348.96L176.19 349.26L178.46 348.26L179.78 347.57L178.82 347.61L177.21 347.83L176.54 347.77L177.32 347.25L177.34 346.97L176.31 347.01L179.63 345.74L177.13 346.22L177.65 345.79L178.28 345.34L182.43 343.85L180.67 344.1L177.88 344.65L181.96 343.2L179.08 343.76L178.77 343.59L182.21 342.34L176.71 343.63L178.33 342.91L178.09 342.71L177.16 342.7L177.17 342.43L179.11 341.63L177.91 341.69L179.22 341.07L178.55 340.99L179.35 340.51L179.21 340.28L177.26 340.53L176.83 340.37L175 340.58L175.68 340.13L177.5 339.4L178.31 338.94L174.82 339.54L175.34 339.15L177.55 338.33L179.6 337.57L177.34 337.86L174.64 338.24L176.53 337.52L175.91 337.4L177.29 336.81L178.37 336.3L176.34 336.51L178.02 335.86L178.32 335.53L174.62 336.1L175.3 335.68L176.86 335.07L175.71 335.06L175.8 334.78L172.65 335.2L172.91 334.87L175.32 334.09L171.22 334.69L173.6 333.92L174.91 333.38L174.32 333.24L174.59 332.92L175.54 332.46L173.53 332.6L172.3 332.58L171.23 332.52L175.28 331.46L175.47 331.16L170.04 331.94L173.96 330.92L175.13 330.44L176.58 329.91L171.9 330.51L173.42 329.97L170.54 330.22L172.27 329.64L171.83 329.45L169.55 329.59L170.94 329.07L170.13 328.94L170.32 328.64L169.92 328.44L171.58 327.9L170.23 327.85L168.92 327.8L172.61 326.93L170.46 327.01L171.01 326.65L171.17 326.36L170.76 326.16L170.25 325.97L166.44 326.28L166.23 326.03L165.51 325.86L169.97 324.94L169.49 324.74L168.67 324.59L171.98 323.86L169.47 323.94L167.69 323.91L169.2 323.44L169.99 323.07L168.37 323.01L172.73 322.18L167.93 322.53L168.79 322.15L169.42 321.8L166.63 321.88L168.14 321.42L167.81 321.2L164.83 321.27L167.37 320.71L167.89 320.38L165.05 320.42L163.53 320.32L163.36 318.66L187.06 316.31A135 135 0 0 0 197.34 356.25ZM186.9 314.65L175.03 315.68L174.9 314.14L173.98 313.96L174.74 313.64L174.33 313.42L172.83 313.26L172.2 313.04L174.24 312.65L173.71 312.43L175.16 312.08L172.74 311.97L173.78 311.65L175.62 311.29L175.82 311.02L174.92 310.81L173.92 310.61L172.75 310.41L173.11 310.14L175.71 309.76L173.43 309.6L172 309.41L172.26 309.14L172.46 308.87L173.52 308.57L171.69 308.38L171.86 308.11L172.01 307.85L175.75 307.47L174.61 307.25L177.42 306.92L173.85 306.76L172.76 306.53L174.25 306.24L175.68 305.95L168.59 305.83L175.45 305.45L172.55 305.24L172.45 304.98L176.6 304.67L174.06 304.44L172.69 304.2L174.49 303.93L173.26 303.68L175.53 303.41L177 303.16L171.5 302.9L173.81 302.65L176.17 302.4L172.28 302.13L176.19 301.9L174.95 301.63L172.16 301.35L171.78 301.08L175.48 300.88L173.26 300.59L170.43 300.28L173.5 300.07L172.18 299.79L175.85 299.61L177.09 299.39L170.36 298.96L175.62 298.85L175.6 298.59L175.94 298.35L171.85 297.96L176.16 297.85L174.72 297.54L174.41 297.28L173.35 296.98L175.38 296.81L177.27 296.63L174.47 296.25L174.91 296.02L177.09 295.87L174.03 295.46L173.89 295.2L173.83 294.94L173.54 294.66L171.22 294.27L172.17 294.07L173.79 293.9L171.94 293.53L175.91 293.53L173.84 293.13L170.33 292.64L177.05 292.84L175.02 292.45L173.27 292.06L175.86 292L175.04 291.68L173.85 291.33L176.58 291.29L172.28 290.68L172.86 290.47L175.61 290.45L173.76 290.03L174.48 289.83L172.97 289.44L170.75 288.97L171.49 288.78L173.47 288.7L175.61 288.66L171.92 288.03L170.16 287.59L173.87 287.71L171.95 287.24L174.03 287.2L173.89 286.93L170.2 286.26L175.35 286.57L172.13 285.95L173.56 285.85L172.73 285.49L170.89 285.01L173.11 285.01L172.16 284.64L176.43 284.91L168.46 283.64L169.69 283.53L173.47 283.75L172.58 283.37L172.76 283.13L175.29 283.21L174 282.77L173.11 282.39L174.19 282.28L172.61 281.79L170.97 281.29L171.74 281.14L170.43 280.68L169.12 280.21L170.72 280.18L173.63 280.36L168.7 279.33L172.26 279.62L170.84 279.13L169.41 278.63L167.74 278.09L170.56 278.28L167.3 277.47L170.52 277.73L172.26 277.76L167.85 276.73L168.23 276.52L169.14 276.41L169.56 276.21L169.48 275.92L169.41 275.64L169.2 275.33L167.82 274.8L171.22 275.15L167.57 274.2L170 274.38L167.81 273.69L169.31 273.7L168.61 273.29L170.45 273.38L170.12 273.04L170.45 272.83L166.8 271.82L170.25 272.24L170.75 272.07L166.68 270.96L169.74 271.32L165.95 270.24L165.39 269.84L165.74 268.21L189.65 273.55A135 135 0 0 0 186.9 314.65ZM189.99 272.06L179.55 269.6L179.91 268.12L180.08 267.9L179.7 267.54L181.11 267.64L182.53 267.74L181.64 267.25L177.79 266L182.98 267.08L180.93 266.29L182.86 266.54L179.91 265.5L182.98 266.06L182.14 265.57L184.12 265.85L181.31 264.83L180.89 264.45L181.71 264.42L183.59 264.68L180.77 263.63L184.2 264.33L185.04 264.32L181.9 263.16L186.33 264.18L185.08 263.56L183.3 262.78L183.13 262.48L182.97 262.17L181.56 261.49L181.02 261.06L181.18 260.84L182.36 260.94L181.98 260.56L180.31 259.78L179.77 259.35L179.95 259.13L184.3 260.22L177.14 257.71L181.46 258.8L184 259.34L184.35 259.19L181.58 258.04L180.55 257.44L180.54 257.16L179.44 256.53L183.39 257.56L181.07 256.53L180.3 256L181.83 256.24L183.94 256.68L182.82 256.04L182.19 255.56L180.89 254.84L182.33 255.06L181.65 254.56L181.64 254.28L184.08 254.86L181.39 253.65L177.62 252.04L182.54 253.51L181.86 253L181.85 252.72L183.5 253.04L185.62 253.55L179.27 250.95L183.14 252.1L183.6 252L183.83 251.81L181.25 250.57L182.87 250.9L183.54 250.88L183.56 250.62L183.62 250.37L184.76 250.53L183.23 249.67L181.66 248.78L181.8 248.56L183.37 248.89L183.26 248.58L183.2 248.27L182.53 247.73L180.69 246.71L181.97 246.95L177.52 244.87L182.41 246.56L185.49 247.54L180.49 245.21L182.33 245.68L181.66 245.13L181.95 244.96L183.03 245.13L183.16 244.9L182.14 244.19L182.23 243.94L181.37 243.29L182.67 243.56L183.73 243.73L186.46 244.63L181.43 242.16L180.36 241.41L184.75 243.04L184.29 242.56L183.71 242.02L183.76 241.75L184.81 241.94L182.84 240.77L185.27 241.57L184.6 240.99L181.62 239.34L183.89 240.09L182.66 239.24L181.82 238.55L179.36 237.12L183.17 238.59L185.46 239.38L181.03 237L181.96 237.15L179.98 235.91L181.66 236.41L180.08 235.35L183.34 236.62L180.35 234.88L179.81 234.32L183.64 235.88L182.81 235.18L181.93 234.45L183.17 234.76L182.57 234.16L184.14 234.64L183.28 233.92L183.29 233.62L181.81 232.57L183.75 233.26L183.48 232.82L183.2 232.37L182.27 231.59L183.82 232.08L181.88 230.78L184.01 231.58L181.1 229.76L182.33 230.09L182.62 229.94L183.67 230.18L182.04 229.01L183.78 229.63L185.75 230.38L185.73 230.06L181.8 227.64L186.3 229.77L184.82 228.66L184.67 228.26L185.46 226.84L203.62 237.02A135 135 0 0 0 189.99 272.06ZM204.6 235.3L195.67 230.12L196.44 228.8L193.5 226.76L194.76 227.21L197.14 228.34L194.39 226.39L195.1 226.52L195.27 226.32L199.53 228.62L195.7 225.99L198.73 227.55L196.48 225.86L198.45 226.79L197.65 225.99L198.03 225.93L196.64 224.76L197.33 224.89L195.77 223.6L196.37 223.68L194.61 222.25L197.48 223.78L197.91 223.75L197.64 223.28L197.44 222.84L196.19 221.73L199.1 223.31L197.98 222.28L199.38 222.89L200.75 223.49L199.11 222.1L202.07 223.77L199.07 221.47L200.8 222.32L201.89 222.74L199.62 220.91L199.15 220.29L200.37 220.81L199.9 220.18L197.57 218.27L199.25 219.11L198.74 218.45L197.66 217.38L199.78 218.54L198.15 217.09L201.88 219.38L201.2 218.6L198.23 216.19L199.65 216.87L202.55 218.62L200.99 217.19L198.67 215.22L199.72 215.65L202.51 217.34L202.83 217.26L201.52 215.99L201.79 215.87L201.51 215.35L198.68 212.95L203.52 216.19L197.38 211.34L202.14 214.53L202.45 214.44L206.81 217.38L201.74 213.27L202.18 213.27L200.53 211.7L203.55 213.66L202.07 212.21L203.83 213.23L201.74 211.3L203.08 212L202.66 211.35L203.75 211.87L204.86 212.4L204.62 211.89L202.28 209.73L204.1 210.83L204.12 210.52L202.78 209.13L204.23 209.94L203.79 209.26L202.97 208.27L203.87 208.65L202.13 206.91L203.9 208L205.68 209.11L204.03 207.43L207.35 209.81L206.26 208.58L207.16 208.99L205.62 207.38L206.57 207.83L205.01 206.2L207.51 207.94L207.78 207.83L207.35 207.13L203.49 203.54L207.89 206.92L202.74 202.2L202.92 202L209.67 207.42L203.3 201.61L205.05 202.76L203.67 201.21L206.06 202.93L206.59 203.04L205.53 201.77L206.78 202.5L207.56 202.84L205.84 200.97L206.99 201.63L205.77 200.19L205.91 199.95L207.21 200.76L206.22 199.51L207.51 200.32L208.28 200.65L207.35 199.45L207.2 198.95L208.86 200.11L209.4 200.24L206.57 197.27L207.58 197.85L207.12 197.05L205.6 195.26L207.59 196.75L208.97 197.67L207.17 195.61L208.7 196.68L207.93 195.58L208.41 195.66L207.14 194.08L208.29 192.89L224.67 208.83A135 135 0 0 0 204.6 235.3ZM225.76 207.72L216.24 198.24L217.34 197.15L221.42 200.94L218.54 197.63L219.26 198L219.1 197.47L218.67 196.66L220.8 198.5L219.46 196.74L222.02 199.04L222.75 199.45L220.04 196.23L219.37 195.15L221.94 197.49L220.96 196.09L222.11 196.93L224.09 198.69L223.65 197.85L222.26 195.98L222.3 195.65L221.57 194.48L220.35 192.77L221.26 193.38L222.99 194.89L221.98 193.41L223.63 194.84L223.75 194.6L223.21 193.61L222.16 192.05L222.03 191.52L222.94 192.15L223.38 192.25L225.24 193.98L226.26 194.75L224.92 192.84L224.39 191.85L223.65 190.61L225.77 192.66L224.68 191.01L222.42 187.98L225.91 191.64L224.59 189.7L225.12 189.93L223.54 187.67L225.04 189.03L226.55 190.42L224.53 187.61L226.83 189.95L227.07 189.84L226.23 188.42L227 188.94L226.92 188.45L227.07 188.21L225.55 185.95L228.13 188.7L229.12 189.51L225.93 185.16L226.85 185.89L226.76 185.36L228.96 187.67L229.08 187.41L228.46 186.22L226.94 183.89L228.77 185.77L227.57 183.82L227.68 183.54L229.81 185.83L229.63 185.19L228.24 182.96L231.11 186.24L229.62 183.89L228.52 182.02L229.96 183.47L229.04 181.84L232.26 185.64L230.66 183.1L231.96 184.37L231.97 183.96L230.52 181.59L230.5 181.12L231.06 181.44L228.44 177.45L231.42 181.02L232.01 181.39L230.08 178.31L231.83 180.25L235.02 184.18L231.23 178.51L230.98 177.71L232.34 179.13L230.15 175.62L232.81 178.88L232.17 177.52L232.52 177.55L230.32 173.97L233.74 178.35L232.46 176.07L235.92 180.55L233.1 176.04L232.29 174.4L234.31 176.84L236.12 179L235.44 177.54L235.13 176.61L235.83 177.17L236.63 177.89L234.9 174.85L236.01 176.02L235.51 174.78L235.66 174.53L235.04 173.1L235.19 172.84L234.79 171.74L235.25 171.95L236.2 172.9L235.33 171.07L235.64 171.04L235.4 170.16L236.21 170.91L237.19 171.93L238.31 173.17L235.65 168.51L237.79 171.35L237.54 170.45L238.93 169.57L250.42 188.17A135 135 0 0 0 225.76 207.72ZM251.31 187.62L246.64 179.94L247.93 179.17L245.57 174.68L246.43 175.62L246.87 175.87L247.72 176.82L248.88 178.3L248.79 177.65L250.01 179.26L249.77 178.34L246.93 172.88L248.88 175.78L249.9 177.06L249.5 175.83L251.87 179.53L248.53 173.07L249.67 174.58L251.03 176.5L249.99 174.1L249.15 172.04L251.77 176.27L251.67 175.57L251.07 173.93L252.32 175.71L252.46 175.43L251.94 173.93L251.49 172.55L252.46 173.83L252.95 174.22L249.99 168.07L252.56 172.38L252.53 171.77L253.42 172.92L253.88 173.25L253.74 172.43L252.71 169.88L253.74 171.31L255.24 173.68L253.07 168.86L253.02 168.18L256.6 174.68L255.15 171.25L256.66 173.68L255.14 170.08L255.12 169.46L256.92 172.51L255.68 169.41L255.13 167.71L256.37 169.65L255.78 167.85L257.23 170.25L257.04 169.27L257.37 169.35L256.45 166.83L259.3 172.22L258.43 169.78L259.08 170.57L259.57 171L258.92 169.01L259.96 170.65L259.22 168.44L257.75 164.62L259.24 167.25L260.13 168.56L259.97 167.59L260.68 168.54L260.75 168.08L260.08 165.95L260.11 165.38L262.08 169.17L260.15 164.17L261.04 165.54L261.7 166.39L263.34 169.51L261.17 163.86L262.56 166.43L263.9 168.89L261.76 163.22L262.59 164.5L261.9 162.21L263.6 165.55L262.99 163.43L263.19 163.23L262.61 161.14L262.59 160.39L263.86 162.78L263.99 162.39L263.64 160.82L265.23 164.06L264.95 162.65L264.59 161.06L265.26 162.01L266.59 164.65L265.34 160.79L264.93 159.01L266.33 161.85L266.16 160.69L266.33 160.39L267.28 162.13L267.09 160.88L266.36 158.24L267.27 159.88L267.58 159.93L266.89 157.34L267.77 158.92L268.11 159.08L268.12 158.33L268.5 158.58L269.32 160.06L268.2 156.19L268.51 156.25L268.06 154.19L269.62 153.64L277.18 175.45A135 135 0 0 0 251.31 187.62ZM278.27 175.07L273.07 159.65L274.58 159.15L276.01 162.72L275.14 159.17L275.65 159.9L275.42 158.29L276.16 159.75L275.99 158.36L277.43 162.06L276.54 158.33L277.17 159.46L276.92 157.76L276.93 156.88L277.35 157.33L278.33 159.67L278.63 159.76L278.34 157.86L278.09 156.06L279.31 159.3L279.99 160.7L279.44 157.86L280.08 159.12L279.76 157.05L280.15 157.43L279.78 155.17L280.82 157.86L280.85 156.99L280.51 154.77L281.53 157.46L281.51 156.4L282.69 159.72L281.61 154.7L282.92 158.59L283.43 159.49L284.42 162.22L284.22 160.44L284.77 161.53L284.63 159.96L285.55 162.53L285.48 161.22L285.07 158.54L285.37 158.68L285.85 159.54L285.87 158.51L285.99 157.93L285.8 156L285.97 155.59L287.1 159.19L287.56 160.01L286.81 155.71L288.31 160.94L287.93 158.18L288.24 158.35L288.33 157.61L287.87 154.39L288.73 156.98L288.91 156.58L288.44 153.21L289.07 154.86L289.12 153.86L289.04 152.19L289.34 152.3L290.69 157.41L289.98 152.71L291.15 157.04L290.32 151.71L291.09 154.15L290.43 149.51L291.37 152.81L291.51 152.15L292.57 156.16L291.87 151.19L293.02 155.72L292.76 152.98L292.32 149.18L293.86 155.93L293.37 151.86L293.87 153.07L294.21 153.43L294.54 153.76L294.72 153.3L294.88 152.65L294.72 150.21L295.42 152.64L295.31 150.38L295.83 151.84L295.93 150.81L295.87 148.84L296.21 149.2L297.32 154.36L296.68 148.66L297.05 149.26L297.15 148.17L298.78 147.92L301.91 169.41A135 135 0 0 0 278.27 175.07Z" fill="#6BAED6" stroke="#0000FF" stroke-width="0.8" stroke-linejoin="round"/></g>
<path d="M337.42 70.15L337.56 68.06M341.42 70.46L341.6 68.37M345.41 70.84L345.63 68.75M349.4 71.29L349.66 69.2M357.35 72.39L357.68 70.31M361.31 73.04L361.67 70.97M365.26 73.76L365.66 71.7M369.2 74.55L369.63 72.49M377.02 76.33L377.52 74.29M380.91 77.31L381.45 75.28M384.79 78.37L385.36 76.35M388.64 79.49L389.24 77.48M396.28 81.94L396.96 79.95M400.07 83.26L400.78 81.28M403.84 84.64L404.58 82.68M407.58 86.09L408.36 84.14M414.99 89.19L415.83 87.26M418.65 90.83L419.53 88.92M422.29 92.53L423.19 90.64M425.89 94.3L426.83 92.42M433 98.01L434.01 96.17M436.51 99.96L437.55 98.13M439.99 101.97L441.05 100.16M443.43 104.04L444.52 102.25M450.19 108.35L451.35 106.6M453.52 110.6L454.71 108.86M456.81 112.9L458.03 111.19M460.06 115.25L461.31 113.56M466.43 120.13L467.74 118.49M469.56 122.65L470.89 121.03M472.64 125.23L474 123.63M475.67 127.85L477.06 126.28M481.6 133.26L483.04 131.73M484.5 136.04L485.96 134.54M487.34 138.87L488.84 137.39M490.14 141.75L491.66 140.3M495.58 147.64L497.15 146.25M498.23 150.66L499.82 149.29M500.82 153.73L502.44 152.38M503.36 156.83L505 155.52M508.28 163.18L509.96 161.92M510.66 166.41L512.36 165.18M512.98 169.68L514.7 168.48M515.24 173L516.99 171.83M519.6 179.74L521.38 178.63M527.3 193.08L529.15 192.1M529.16 196.64L531.03 195.68M530.96 200.23L532.84 199.3M532.69 203.85L534.59 202.96M535.98 211.17L537.91 210.35M537.52 214.87L539.47 214.08M539.01 218.6L540.96 217.84M540.43 222.36L542.4 221.63M543.07 229.94L545.06 229.28M544.29 233.76L546.3 233.14M545.45 237.6L547.47 237.01M546.54 241.46L548.57 240.91M548.52 249.24L550.57 248.76M549.42 253.15L551.47 252.71M550.24 257.08L552.3 256.67M550.99 261.02L553.06 260.65M552.3 268.94L554.38 268.64M552.85 272.92L554.94 272.65M553.34 276.9L555.42 276.67M553.75 280.89L555.84 280.7M554.37 288.9L556.47 288.77M554.58 292.9L556.68 292.81M554.72 296.92L556.82 296.86M554.79 300.93L556.89 300.91M554.72 308.95L556.82 309.01M554.59 312.97L556.69 313.06M554.38 316.97L556.48 317.1M554.11 320.98L556.2 321.14M553.35 328.97L555.44 329.2M552.87 332.95L554.95 333.22M552.32 336.93L554.4 337.23M551.7 340.89L553.78 341.23M550.26 348.79L552.32 349.2M549.44 352.72L551.49 353.17M548.55 356.63L550.6 357.11M547.6 360.53L549.63 361.05M545.49 368.27L547.5 368.86M540.83 382.54L542.8 383.26M539.43 386.3L541.39 387.05M537.96 390.04L539.91 390.82M536.43 393.75L538.37 394.57M533.19 401.09L535.09 401.97M531.47 404.72L533.36 405.63M529.69 408.31L531.56 409.26M527.85 411.88L529.71 412.86M523.98 418.91L525.8 419.96M521.96 422.38L523.76 423.45M519.88 425.81L521.66 426.92M517.74 429.21L519.5 430.34M513.28 435.88L515.01 437.08M510.97 439.16L512.67 440.39M508.6 442.4L510.28 443.65M506.17 445.6L507.84 446.88M501.16 451.87L502.78 453.21M498.57 454.94L500.17 456.3M495.94 457.96L497.51 459.35M493.25 460.94L494.79 462.36M487.71 466.75L489.21 468.23M484.87 469.59L486.34 471.09M481.98 472.38L483.43 473.9M479.05 475.11L480.47 476.66M473.04 480.43L474.4 482.03M469.96 483.01L471.3 484.63M466.85 485.54L468.16 487.18M463.69 488.01L464.97 489.68M457.24 492.8L458.46 494.5M453.96 495.1L455.15 496.83M450.63 497.36L451.8 499.1M447.27 499.55L448.41 501.32M432.57 508.22L433.57 510.07M429.03 510.1L429.99 511.97M425.45 511.92L426.39 513.8M421.84 513.68L422.74 515.58M414.54 517.01L415.38 518.94M410.84 518.58L411.65 520.52M407.12 520.09L407.9 522.04M403.38 521.53L404.12 523.5M395.82 524.22L396.49 526.21M392 525.47L392.64 527.47M388.17 526.65L388.77 528.66M384.31 527.76L384.88 529.78M376.55 529.79L377.04 531.83M372.64 530.71L373.1 532.76M368.71 531.55L369.14 533.61M364.78 532.33L365.17 534.4M356.87 533.69L357.19 535.77M352.89 534.27L353.18 536.35M348.91 534.77L349.16 536.86M344.92 535.21L345.14 537.3M336.93 535.88L337.07 537.98M332.92 536.12L333.02 538.21M328.91 536.28L328.98 538.38M324.9 536.37L324.93 538.47M316.87 536.36L316.83 538.46M312.86 536.24L312.78 538.34M308.85 536.06L308.74 538.16M304.84 535.81L304.7 537.91M296.85 535.11L296.63 537.19M292.86 534.65L292.61 536.73M288.88 534.12L288.59 536.2M284.91 533.53L284.59 535.6M271.74 531.06L271.29 533.11M267.82 530.17L267.34 532.21M263.93 529.21L263.41 531.25M260.04 528.19L259.49 530.22M252.34 525.95L251.72 527.95M248.51 524.73L247.86 526.72M244.71 523.44L244.02 525.43M240.93 522.09L240.21 524.06M233.45 519.19L232.66 521.14M229.74 517.65L228.92 519.58M226.07 516.04L225.21 517.96M222.42 514.37L221.53 516.27M215.21 510.84L214.25 512.71M211.65 508.99L210.66 510.84M208.12 507.07L207.11 508.91M204.63 505.09L203.58 506.91M197.75 500.96L196.64 502.74M194.37 498.8L193.22 500.56M191.02 496.59L189.85 498.33M187.71 494.32L186.51 496.04M181.21 489.61L179.95 491.29M178.02 487.17L176.73 488.83M174.88 484.68L173.56 486.31M171.77 482.13L170.43 483.74M165.7 476.88L164.3 478.44M162.74 474.18L161.31 475.72M159.82 471.42L158.36 472.94M156.95 468.62L155.47 470.11M147.61 458.8L146.05 460.2M144.96 455.78L143.37 457.16M142.35 452.73L140.74 454.08M139.81 449.63L138.17 450.95M134.87 443.3L133.19 444.56M132.49 440.07L130.79 441.3M130.16 436.8L128.44 438M127.89 433.49L126.15 434.67M123.51 426.76L121.73 427.87M121.42 423.34L119.62 424.42M119.38 419.88L117.56 420.94M117.4 416.39L115.56 417.41M113.62 409.31L111.75 410.27M111.82 405.72L109.93 406.65M110.09 402.1L108.18 403M104.46 389.09L102.51 389.86M103.01 385.35L101.04 386.09M101.63 381.58L99.65 382.29M100.31 377.79L98.32 378.46M97.87 370.14L95.85 370.75M96.74 366.29L94.72 366.86M95.69 362.42L93.66 362.95M94.7 358.53L92.66 359.03M92.93 350.7L90.87 351.13M92.14 346.76L90.08 347.16M91.42 342.82L89.35 343.17M90.77 338.86L88.7 339.18M89.67 330.9L87.59 331.16M88.4 316.7L86.31 316.82M88.2 312.69L86.1 312.78M88.07 308.68L85.97 308.73M88.01 304.67L85.91 304.68M88.09 296.64L85.99 296.58M88.23 292.63L86.13 292.54M88.44 288.62L86.35 288.49M88.72 284.62L86.63 284.45M89.49 276.63L87.41 276.39M89.98 272.65L87.9 272.37M90.54 268.67L88.46 268.36M91.16 264.71L89.09 264.36M92.62 256.81L90.56 256.4M95.78 243.24L93.75 242.7M96.84 239.37L94.82 238.8M97.97 235.52L95.96 234.91M99.16 231.69L97.16 231.04M101.75 224.09L99.77 223.38M103.13 220.32L101.17 219.58M104.59 216.58L102.64 215.8M106.11 212.87L104.17 212.05M109.33 205.52L107.42 204.64M111.04 201.88L109.15 200.97M112.81 198.28L110.93 197.34M114.64 194.71L112.78 193.74M122.79 180.41L121 179.3M124.93 177.01L123.16 175.88M127.12 173.65L125.37 172.49M129.37 170.33L127.65 169.13M134.05 163.8L132.36 162.55M136.47 160.6L134.81 159.32M138.95 157.44L137.31 156.13M141.48 154.33L139.86 152.99M146.69 148.23L145.12 146.84M149.38 145.25L147.83 143.83M152.12 142.31L150.6 140.87M160.66 133.77L159.22 132.24M163.6 131.03L162.18 129.48M166.58 128.34L165.19 126.77M169.6 125.7L168.24 124.11M175.79 120.59L174.48 118.95M178.95 118.11L177.67 116.45M182.15 115.69L180.9 114.01M185.39 113.32L184.17 111.62M191.99 108.76L190.83 107.01M195.35 106.56L194.22 104.8M205.78 100.25L204.74 98.43M209.28 98.29L208.27 96.45M212.82 96.4L211.84 94.54M216.39 94.56L215.44 92.68M223.62 91.07L222.74 89.16M227.27 89.42L226.43 87.5M230.96 87.83L230.15 85.9M234.67 86.31L233.89 84.36M242.18 83.46L241.46 81.48M252.99 79.85L252.37 77.84M256.83 78.71L256.25 76.69M260.7 77.63L260.15 75.6M264.58 76.62L264.07 74.58M272.4 74.8L271.96 72.75M276.33 73.99L275.93 71.93M280.28 73.25L279.91 71.18M284.23 72.58L283.9 70.51" stroke="#555" stroke-width="0.7" fill="none"/>
<path d="M353.38 71.8L353.85 68.43M373.12 75.4L373.87 72.09M392.47 80.68L393.51 77.45M411.3 87.61L412.61 84.47M429.46 96.12L431.04 93.11M446.83 106.17L448.66 103.3M463.27 117.66L465.33 114.96M478.66 130.53L480.95 128.02M492.89 144.67L495.39 142.37M505.85 159.98L508.54 157.9M517.45 176.35L520.31 174.51M534.37 207.5L537.47 206.1M541.78 226.14L544.99 225.02M547.57 245.34L550.86 244.5M551.68 264.98L555.04 264.42M554.1 284.89L557.49 284.63M554.79 304.94L558.19 304.97M553.76 324.98L557.15 325.3M551.02 344.85L554.36 345.46M546.58 364.41L549.86 365.31M534.84 397.43L537.95 398.81M525.95 415.41L528.92 417.05M515.54 432.56L518.36 434.45M503.69 448.75L506.35 450.88M490.5 463.87L492.97 466.21M476.07 477.8L478.32 480.34M460.48 490.43L462.51 493.16M443.88 501.68L445.66 504.58M418.2 515.38L419.61 518.47M399.61 522.91L400.75 526.11M380.44 528.81L381.3 532.1M360.83 533.05L361.4 536.4M340.93 535.58L341.21 538.97M320.88 536.4L320.88 539.8M300.84 535.49L300.54 538.88M256.18 527.1L255.23 530.37M237.18 520.67L235.95 523.85M218.8 512.64L217.3 515.69M201.17 503.05L199.42 505.97M184.44 491.99L182.44 494.74M168.72 479.53L166.49 482.1M137.31 446.48L134.63 448.57M125.67 430.15L122.82 432M115.48 412.87L112.48 414.47M99.05 373.98L95.81 375.01M93.78 354.62L90.46 355.37M90.19 334.88L86.82 335.35M88.01 300.65L84.61 300.62M89.08 280.62L85.69 280.29M91.86 260.75L88.51 260.14M100.42 227.88L97.2 226.78M107.69 209.18L104.57 207.81M116.53 191.17L113.55 189.54M131.68 167.05L128.92 165.07M144.06 151.26L141.48 149.05M172.68 123.12L170.51 120.5M188.67 111.01L186.74 108.22M219.99 92.78L218.51 89.72M238.41 84.85L237.2 81.67M268.48 75.68L267.71 72.37" stroke="#333" stroke-width="0.9" fill="none"/>
<text x="312.6" y="78.6" font-size="12" text-anchor="middle">I</text>
<text x="312.6" y="106.6" font-size="12" text-anchor="middle">II</text>
<text x="312.6" y="133.6" font-size="12" text-anchor="middle">III</text>
<text x="312.6" y="161.3" font-size="12" text-anchor="middle">IV</text>
</g>
<defs><clipPath id="fclip"><circle cx="321.4" cy="303.0" r="136.2"/></clipPath><filter id="fb1" x="-20%" y="-20%" width="140%" height="140%"><feGaussianBlur stdDeviation="3"/></filter><filter id="fb2" x="-20%" y="-20%" width="140%" height="140%"><feGaussianBlur stdDeviation="7"/></filter><filter id="fb3" x="-20%" y="-20%" width="140%" height="140%"><feGaussianBlur stdDeviation="14"/></filter><radialGradient id="eyeg" cx="0.45" cy="0.4" r="0.6"><stop offset="0" stop-color="#1a1412"/><stop offset="1" stop-color="#050404"/></radialGradient><linearGradient id="rockg" x1="0" y1="0" x2="0" y2="1"><stop offset="0" stop-color="#86603f"/><stop offset="0.22" stop-color="#665645"/><stop offset="1" stop-color="#4a3f35"/></linearGradient><linearGradient id="faceg" x1="0" y1="0" x2="0" y2="1"><stop offset="0" stop-color="#472928"/><stop offset="0.55" stop-color="#64342f"/><stop offset="1" stop-color="#8a4e44"/></linearGradient><filter id="ftex" x="0" y="0" width="100%" height="100%" color-interpolation-filters="sRGB"><feTurbulence type="fractalNoise" baseFrequency="0.35" numOctaves="3" seed="7" result="n"/><feColorMatrix in="n" type="matrix" values="0.6 0.6 0 0 -0.1  0.6 0.6 0 0 -0.1  0.6 0.6 0 0 -0.1  0 0 0 0 1" result="g"/><feComposite in="SourceGraphic" in2="g" operator="arithmetic" k1="0.9" k2="0.55" k3="0" k4="0"/></filter></defs><g clip-path="url(#fclip)"><g filter="url(#ftex)"><g transform="translate(175 160) scale(0.24765)"><path d="M60 840 L480 870 L620 820 L760 790 L990 750 L1002 800 L1000 870 L985 925 L940 995 L880 1065 L800 1130 L300 1171 L40 1000Z" fill="url(#rockg)"/><path d="M560 835 L700 800 L850 790 L990 755 L1000 800 L998 850 L930 870 L800 880 L650 900 L560 905Z" fill="#8a6a4c" filter="url(#fb1)"/><path d="M880 800 L990 770 L1000 860 L985 920 L950 960 L900 900Z" fill="#8d7f6e" opacity="0.7" filter="url(#fb2)"/><path d="M60 830 L300 880 L470 900 L530 960 L560 1040 L600 1171 L40 1171Z" fill="#2f2723"/><path d="M520 905 L760 880 L900 890 L860 1000 L760 1090 L600 1140 L560 1040Z" fill="#54493d" opacity="0.85" filter="url(#fb2)"/><path d="M150 900 L480 930 L540 1030 L560 1130 L300 1100Z" fill="#3b322c" filter="url(#fb2)"/><path d="M560 740 L1000 735 L960 790 L760 800 L640 830 L560 850Z" fill="#2a1d1c" filter="url(#fb1)"/><path d="M30 430 L60 400 L95 365 L135 330 L190 300 L260 284 L330 276 L400 272 L470 268 L520 270 L580 284 L640 290 L700 300 L760 318 L820 334 L880 345 L940 354 L990 358 L1030 372 L1058 398 L1076 440 L1070 482 L1052 502 L1076 530 L1096 570 L1108 610 L1110 646 L1096 680 L1060 706 L1010 726 L950 742 L880 752 L800 757 L720 755 L660 748 L615 736 L590 760 L600 800 L560 840 L420 880 L200 900 L60 860 L20 700Z" fill="#3e292a"/><path d="M330 560 L420 600 L470 680 L560 730 L620 745 L600 810 L540 850 L440 850 L380 790 L340 690Z" fill="#2b1c1d" filter="url(#fb1)"/><path d="M420 620 L470 585 L560 575 L600 600 L700 640 L780 610 L800 540 L860 520 L960 540 L1040 560 L1090 580 L1108 620 L1108 650 L1092 684 L1056 708 L1006 728 L946 744 L878 754 L800 758 L720 756 L660 749 L612 736 L560 715 L500 705 L450 680Z" fill="url(#faceg)"/><path d="M760 330 L880 348 L990 360 L1030 375 L1056 400 L1074 440 L1068 482 L1048 500 L960 500 L860 500 L800 520 L770 470 L740 440 L640 440 L600 380Z" fill="#552f2d"/><path d="M395 470 L470 440 L560 445 L640 440 L730 445 L800 480 L860 505 L900 520 L860 530 L800 525 L760 490 L690 460 L600 465 L540 480 L470 500 L420 540 L360 560 L300 545 L340 520Z" fill="#6a3732" filter="url(#fb1)"/><path d="M400 500 L470 470 L560 462 L600 470 L540 492 L470 515 L420 548 L350 560 L310 545Z" fill="#3a2324"/><path d="M450 690 L520 712 L600 738 L680 752 L780 758 L880 754 L960 742 L1020 724 L1070 700 L1096 676 L1085 662 L1040 690 L960 712 L880 722 L780 726 L690 722 L610 705 L540 680 L470 660Z" fill="#9a5c52" filter="url(#fb1)"/><path d="M800 600 L860 575 L940 585 L1000 610 L1010 650 L960 680 L880 690 L820 670Z" fill="#a88480" opacity="0.6" filter="url(#fb2)"/><path d="M700 650 L780 640 L820 680 L760 700 L710 690Z" fill="#b09490" opacity="0.55" filter="url(#fb2)"/><path d="M890 600 L960 598 L985 625 L940 640 L900 630Z" fill="#6a3e3c" opacity="0.6" filter="url(#fb2)"/><ellipse cx="505" cy="655" rx="72" ry="56" fill="#a87a76" filter="url(#fb1)"/><path d="M560 600 L640 610 L700 640 L690 665 L600 660 L560 640Z" fill="#b59694" filter="url(#fb1)"/><path d="M180 310 L330 285 L520 278 L700 305 L860 350 L900 380 L800 400 L640 400 L520 420 L420 440 L330 430 L240 400Z" fill="#4a3031" filter="url(#fb2)"/><path d="M300 300 L360 292 L420 300 L470 322 L430 338 L380 330 L330 325Z" fill="#a9a3b4" opacity="0.7" filter="url(#fb1)"/><path d="M420 340 L500 320 L560 330 L600 350 L560 372 L500 368 L450 372Z" fill="#a9a3b4" opacity="0.7" filter="url(#fb1)"/><path d="M470 285 L540 290 L580 305 L540 312 L490 305Z" fill="#a9a3b4" opacity="0.7" filter="url(#fb1)"/><path d="M330 360 L380 352 L400 372 L360 388 L330 380Z" fill="#a9a3b4" opacity="0.7" filter="url(#fb1)"/><path d="M600 300 L660 305 L690 322 L650 328 L610 318Z" fill="#a9a3b4" opacity="0.7" filter="url(#fb1)"/><path d="M900 392 L950 386 L975 400 L950 412 L905 410Z" fill="#a9a3b4" opacity="0.7" filter="url(#fb1)"/><path d="M230 330 L270 322 L280 345 L250 360Z" fill="#a9a3b4" opacity="0.7" filter="url(#fb1)"/><path d="M440 400 L520 392 L560 405 L520 420 L460 420Z" fill="#a9a3b4" opacity="0.7" filter="url(#fb1)"/><path d="M38 540 L70 500 L130 482 L200 492 L262 540 L305 610 L335 690 L368 770 L410 822 L465 848 L520 880 L556 930 L576 990 L571 1030 L546 1043 L524 1020 L514 970 L488 930 L440 906 L380 900 L300 896 L230 880 L160 842 L100 772 L52 690 L34 600Z" fill="#45343a"/><path d="M262 540 L305 610 L335 690 L368 770 L410 822 L380 830 L330 770 L290 680 L250 600Z" fill="#2e2022" opacity="0.8" filter="url(#fb1)"/><path d="M70 560 L110 525 L160 520 L185 560 L175 620 L150 650 L110 640 L80 610Z" fill="#a99dab" opacity="0.85" filter="url(#fb1)"/><path d="M150 650 L200 690 L250 720 L262 790 L240 800 L210 760 L165 700Z" fill="#9d8f9d" opacity="0.7" filter="url(#fb1)"/><path d="M425 840 L470 835 L520 862 L500 880 L450 870Z" fill="#a595a0" opacity="0.8" filter="url(#fb1)"/><path d="M470 880 L520 900 L556 940 L574 995 L568 1028 L548 1038 L530 1015 L520 965 L495 925Z" fill="#7d6468"/><path d="M530 960 L560 990 L566 1025 L548 1036 L536 1010Z" fill="#a48c8e" filter="url(#fb1)"/><path d="M470 850 L560 815 L640 800 L690 810 L680 835 L600 850 L540 870Z" fill="#4a3638"/><path d="M500 825 L560 805 L600 812 L560 835 L515 845Z" fill="#9a8890" opacity="0.75" filter="url(#fb1)"/><ellipse cx="683" cy="548" rx="118" ry="96" fill="#5b2e2c"/><ellipse cx="682" cy="552" rx="106" ry="86" fill="url(#eyeg)"/><ellipse cx="675" cy="515" rx="74" ry="34" fill="#e9ebd2"/><ellipse cx="640" cy="510" rx="30" ry="22" fill="#f6f7e6"/><path d="M672 520 L682 545 L690 520Z" fill="#15100e"/><ellipse cx="1046" cy="440" rx="30" ry="44" fill="#0c0908"/><ellipse cx="1060" cy="428" rx="14" ry="22" fill="#dfe2c6"/><path d="M1082 548 L1118 540 L1096 562Z" fill="#0c0908"/><circle cx="505" cy="655" r="50" fill="#070606"/><ellipse cx="686" cy="710" rx="42" ry="36" fill="#070606"/><path d="M540 625 A50 50 0 0 1 552 670 L530 650Z" fill="#3a3032" opacity="0.6"/></g></g><g transform="translate(175 160) scale(0.24765)"><path d="M384.7 773.7 L437.7 732.6 L449.3 747.6 L472.0 692.0 L412.5 700.2 L424.2 715.2 L371.3 756.3 Z" fill="#fff"/><path d="M566.7 826.7 L620.5 785.4 L632.0 800.5 L655.0 745.0 L595.5 752.9 L607.1 768.0 L553.3 809.3 Z" fill="#fff"/></g></g>
<g font-family="Liberation Sans, sans-serif" fill="#000">
<path d="M132.67 848.9H134.65V840.49H132.67ZM134.83 848.9H136.81V828.46H134.83ZM136.99 848.9H138.97V822.35H136.99ZM139.16 848.9H141.14V814.34H139.16ZM141.32 848.9H143.3V814.38H141.32ZM143.48 848.9H145.46V810.87H143.48ZM145.64 848.9H147.62V811.47H145.64ZM147.81 848.9H149.79V814.86H147.81ZM149.97 848.9H151.95V811.66H149.97ZM152.13 848.9H154.11V813.29H152.13ZM154.29 848.9H156.27V814.76H154.29ZM156.46 848.9H158.44V812.32H156.46ZM158.62 848.9H160.6V813.56H158.62ZM160.78 848.9H162.76V810.44H160.78ZM162.94 848.9H164.92V807.2H162.94ZM165.11 848.9H167.09V810.76H165.11ZM167.27 848.9H169.25V809.4H167.27ZM169.43 848.9H171.41V810.91H169.43ZM171.59 848.9H173.57V808.79H171.59ZM173.76 848.9H175.74V809.69H173.76ZM175.92 848.9H177.9V804.96H175.92ZM178.08 848.9H180.06V805.66H178.08ZM180.24 848.9H182.22V806.48H180.24ZM182.41 848.9H184.39V809.88H182.41ZM184.57 848.9H186.55V809.29H184.57ZM186.73 848.9H188.71V813.2H186.73ZM188.89 848.9H190.87V810.61H188.89ZM191.05 848.9H193.03V813.43H191.05ZM193.22 848.9H195.2V816.76H193.22ZM195.38 848.9H197.36V815.57H195.38ZM197.54 848.9H199.52V818.52H197.54ZM199.7 848.9H201.68V813.95H199.7ZM201.87 848.9H203.85V822.28H201.87ZM204.03 848.9H206.01V821.99H204.03ZM206.19 848.9H208.17V826.94H206.19ZM208.35 848.9H210.33V824.64H208.35ZM210.52 848.9H212.5V828.67H210.52ZM212.68 848.9H214.66V831.13H212.68ZM214.84 848.9H216.82V833.5H214.84ZM217 848.9H218.98V835.02H217ZM219.17 848.9H221.15V835.55H219.17ZM221.33 848.9H223.31V837.67H221.33ZM223.49 848.9H225.47V838.19H223.49ZM225.65 848.9H227.63V839.9H225.65ZM227.82 848.9H229.8V840.49H227.82ZM229.98 848.9H231.96V841.87H229.98ZM232.14 848.9H234.12V842.89H232.14ZM234.3 848.9H236.28V843.46H234.3ZM236.47 848.9H238.45V844.04H236.47ZM238.63 848.9H240.61V845.09H238.63ZM240.79 848.9H242.77V846.22H240.79ZM242.95 848.9H244.93V846.31H242.95ZM245.11 848.9H247.09V846.62H245.11ZM247.28 848.9H249.26V846.91H247.28ZM249.44 848.9H251.42V847.28H249.44ZM251.6 848.9H253.58V847.45H251.6ZM253.76 848.9H255.74V847.63H253.76ZM255.93 848.9H257.91V847.82H255.93ZM258.09 848.9H260.07V847.93H258.09ZM260.25 848.9H262.23V848.01H260.25ZM262.41 848.9H264.39V848.17H262.41ZM264.58 848.9H266.56V848.27H264.58ZM266.74 848.9H268.72V848.4H266.74ZM268.9 848.9H270.88V848.46H268.9ZM271.06 848.9H273.04V848.52H271.06ZM273.23 848.9H275.21V848.6H273.23ZM275.39 848.9H277.37V848.64H275.39ZM277.55 848.9H279.53V848.67H277.55ZM279.71 848.9H281.69V848.7H279.71ZM281.88 848.9H283.86V848.74H281.88ZM284.04 848.9H286.02V848.77H284.04ZM286.2 848.9H288.18V848.79H286.2ZM288.36 848.9H290.34V848.8H288.36ZM290.53 848.9H292.51V848.82H290.53ZM292.69 848.9H294.67V848.83H292.69ZM294.85 848.9H296.83V848.85H294.85ZM297.01 848.9H298.99V848.86H297.01ZM299.17 848.9H301.15V848.87H299.17ZM301.34 848.9H303.32V848.88H301.34ZM303.5 848.9H305.48V848.89H303.5Z" fill="#D2352B"/>
<path d="M132.67 840.49H134.65V830.77H132.67ZM134.83 828.46H136.81V802.59H134.83ZM136.99 822.35H138.97V795.98H136.99ZM139.16 814.34H141.14V789.47H139.16ZM141.32 814.38H143.3V790.33H141.32ZM143.48 810.87H145.46V783.12H143.48ZM145.64 811.47H147.62V781.92H145.64ZM147.81 814.86H149.79V785.28H147.81ZM149.97 811.66H151.95V779.72H149.97ZM152.13 813.29H154.11V781.5H152.13ZM154.29 814.76H156.27V780.1H154.29ZM156.46 812.32H158.44V776.38H156.46ZM158.62 813.56H160.6V776.69H158.62ZM160.78 810.44H162.76V771.9H160.78ZM162.94 807.2H164.92V765.78H162.94ZM165.11 810.76H167.09V767.96H165.11ZM167.27 809.4H169.25V768.57H167.27ZM169.43 810.91H171.41V770.88H169.43ZM171.59 808.79H173.57V768.16H171.59ZM173.76 809.69H175.74V769.13H173.76ZM175.92 804.96H177.9V761.74H175.92ZM178.08 805.66H180.06V763.33H178.08ZM180.24 806.48H182.22V766.15H180.24ZM182.41 809.88H184.39V773.41H182.41ZM184.57 809.29H186.55V772.24H184.57ZM186.73 813.2H188.71V778.31H186.73ZM188.89 810.61H190.87V774.38H188.89ZM191.05 813.43H193.03V779.12H191.05ZM193.22 816.76H195.2V782.14H193.22ZM195.38 815.57H197.36V782.02H195.38ZM197.54 818.52H199.52V784.16H197.54ZM199.7 813.95H201.68V777.91H199.7ZM201.87 822.28H203.85V794.39H201.87ZM204.03 821.99H206.01V793.18H204.03ZM206.19 826.94H208.17V800.94H206.19ZM208.35 824.64H210.33V796.9H208.35ZM210.52 828.67H212.5V807.17H210.52ZM212.68 831.13H214.66V809.39H212.68ZM214.84 833.5H216.82V814.33H214.84ZM217 835.02H218.98V819.15H217ZM219.17 835.55H221.15V820H219.17ZM221.33 837.67H223.31V823.9H221.33ZM223.49 838.19H225.47V824.83H223.49ZM225.65 839.9H227.63V828.15H225.65ZM227.82 840.49H229.8V829.53H227.82ZM229.98 841.87H231.96V832.54H229.98ZM232.14 842.89H234.12V834.48H232.14ZM234.3 843.46H236.28V834.91H234.3ZM236.47 844.04H238.45V836.13H236.47ZM238.63 845.09H240.61V838.24H238.63ZM240.79 846.22H242.77V840.95H240.79ZM242.95 846.31H244.93V840.97H242.95ZM245.11 846.62H247.09V842.04H245.11ZM247.28 846.91H249.26V843.06H247.28ZM249.44 847.28H251.42V844.05H249.44ZM251.6 847.45H253.58V844.75H251.6ZM253.76 847.63H255.74V845.03H253.76ZM255.93 847.82H257.91V845.74H255.93ZM258.09 847.93H260.07V846.19H258.09ZM260.25 848.01H262.23V846.6H260.25ZM262.41 848.17H264.39V847.2H262.41ZM264.58 848.27H266.56V847.36H264.58ZM266.74 848.4H268.72V847.63H266.74ZM268.9 848.46H270.88V847.83H268.9ZM271.06 848.52H273.04V847.98H271.06ZM273.23 848.6H275.21V848.13H273.23ZM275.39 848.64H277.37V848.24H275.39ZM277.55 848.67H279.53V848.34H277.55ZM279.71 848.7H281.69V848.41H279.71ZM281.88 848.74H283.86V848.49H281.88ZM284.04 848.77H286.02V848.58H284.04ZM286.2 848.79H288.18V848.62H286.2ZM288.36 848.8H290.34V848.67H288.36ZM290.53 848.82H292.51V848.69H290.53ZM292.69 848.83H294.67V848.73H292.69ZM294.85 848.85H296.83V848.77H294.85ZM297.01 848.86H298.99V848.8H297.01ZM299.17 848.87H301.15V848.83H299.17ZM301.34 848.88H303.32V848.85H301.34ZM303.5 848.89H305.48V848.88H303.5Z" fill="#477DB4"/>
<path d="M132.67 830.77H134.65V809.63H132.67ZM134.83 802.59H136.81V762.03H134.83ZM136.99 795.98H138.97V750.57H136.99ZM139.16 789.47H141.14V742.86H139.16ZM141.32 790.33H143.3V747.89H141.32ZM143.48 783.12H145.46V735.22H143.48ZM145.64 781.92H147.62V738.05H145.64ZM147.81 785.28H149.79V742.75H147.81ZM149.97 779.72H151.95V735.8H149.97ZM152.13 781.5H154.11V741.11H152.13ZM154.29 780.1H156.27V740.01H154.29ZM156.46 776.38H158.44V736.18H156.46ZM158.62 776.69H160.6V737.39H158.62ZM160.78 771.9H162.76V731.13H160.78ZM162.94 765.78H164.92V722.46H162.94ZM165.11 767.96H167.09V723.48H165.11ZM167.27 768.57H169.25V727.15H167.27ZM169.43 770.88H171.41V730.09H169.43ZM171.59 768.16H173.57V727.59H171.59ZM173.76 769.13H175.74V728.54H173.76ZM175.92 761.74H177.9V721.03H175.92ZM178.08 763.33H180.06V719.67H178.08ZM180.24 766.15H182.22V727.11H180.24ZM182.41 773.41H184.39V738H182.41ZM184.57 772.24H186.55V739.46H184.57ZM186.73 778.31H188.71V745.45H186.73ZM188.89 774.38H190.87V739.81H188.89ZM191.05 779.12H193.03V748.31H191.05ZM193.22 782.14H195.2V752.01H193.22ZM195.38 782.02H197.36V753.64H195.38ZM197.54 784.16H199.52V753.87H197.54ZM199.7 777.91H201.68V747.11H199.7ZM201.87 794.39H203.85V770.61H201.87ZM204.03 793.18H206.01V766.52H204.03ZM206.19 800.94H208.17V778.53H206.19ZM208.35 796.9H210.33V773.81H208.35ZM210.52 807.17H212.5V787.44H210.52ZM212.68 809.39H214.66V790.91H212.68ZM214.84 814.33H216.82V798.43H214.84ZM217 819.15H218.98V805.98H217ZM219.17 820H221.15V806.93H219.17ZM221.33 823.9H223.31V812.61H221.33ZM223.49 824.83H225.47V813.77H223.49ZM225.65 828.15H227.63V818.4H225.65ZM227.82 829.53H229.8V821.33H227.82ZM229.98 832.54H231.96V825.47H229.98ZM232.14 834.48H234.12V828.09H232.14ZM234.3 834.91H236.28V828.8H234.3ZM236.47 836.13H238.45V830.83H236.47ZM238.63 838.24H240.61V833.2H238.63ZM240.79 840.95H242.77V836.91H240.79ZM242.95 840.97H244.93V837.33H242.95ZM245.11 842.04H247.09V839.07H245.11ZM247.28 843.06H249.26V840.64H247.28ZM249.44 844.05H251.42V842.06H249.44ZM251.6 844.75H253.58V843.35H251.6ZM253.76 845.03H255.74V843.62H253.76ZM255.93 845.74H257.91V844.62H255.93ZM258.09 846.19H260.07V845.05H258.09ZM260.25 846.6H262.23V845.65H260.25ZM262.41 847.2H264.39V846.38H262.41ZM264.58 847.36H266.56V846.64H264.58ZM266.74 847.63H268.72V847.03H266.74ZM268.9 847.83H270.88V847.34H268.9ZM271.06 847.98H273.04V847.6H271.06ZM273.23 848.13H275.21V847.83H273.23ZM275.39 848.24H277.37V847.99H275.39ZM277.55 848.34H279.53V848.14H277.55ZM279.71 848.41H281.69V848.23H279.71ZM281.88 848.49H283.86V848.34H281.88ZM284.04 848.58H286.02V848.46H284.04ZM286.2 848.62H288.18V848.51H286.2ZM288.36 848.67H290.34V848.58H288.36ZM290.53 848.69H292.51V848.62H290.53ZM292.69 848.73H294.67V848.67H292.69ZM294.85 848.77H296.83V848.73H294.85ZM297.01 848.8H298.99V848.76H297.01ZM299.17 848.83H301.15V848.8H299.17ZM301.34 848.85H303.32V848.83H301.34ZM303.5 848.88H305.48V848.87H303.5Z" fill="#62A956"/>
<path d="M132.67 809.63H134.65V797.45H132.67ZM134.83 762.03H136.81V723.89H134.83ZM136.99 750.57H138.97V715.02H136.99ZM139.16 742.86H141.14V705H139.16ZM141.32 747.89H143.3V713.99H141.32ZM143.48 735.22H145.46V698.43H143.48ZM145.64 738.05H147.62V699.3H145.64ZM147.81 742.75H149.79V705.78H147.81ZM149.97 735.8H151.95V695.69H149.97ZM152.13 741.11H154.11V701.59H152.13ZM154.29 740.01H156.27V702.44H154.29ZM156.46 736.18H158.44V696.15H156.46ZM158.62 737.39H160.6V698.61H158.62ZM160.78 731.13H162.76V687.9H160.78ZM162.94 722.46H164.92V677.92H162.94ZM165.11 723.48H167.09V675.63H165.11ZM167.27 727.15H169.25V685.35H167.27ZM169.43 730.09H171.41V688.71H169.43ZM171.59 727.59H173.57V688.51H171.59ZM173.76 728.54H175.74V688.5H173.76ZM175.92 721.03H177.9V681.99H175.92ZM178.08 719.67H180.06V677.83H178.08ZM180.24 727.11H182.22V686.03H180.24ZM182.41 738H184.39V701.37H182.41ZM184.57 739.46H186.55V703.42H184.57ZM186.73 745.45H188.71V711.81H186.73ZM188.89 739.81H190.87V703.48H188.89ZM191.05 748.31H193.03V716.67H191.05ZM193.22 752.01H195.2V722.48H193.22ZM195.38 753.64H197.36V725.19H195.38ZM197.54 753.87H199.52V724.71H197.54ZM199.7 747.11H201.68V717.67H199.7ZM201.87 770.61H203.85V748.61H201.87ZM204.03 766.52H206.01V742.62H204.03ZM206.19 778.53H208.17V760.3H206.19ZM208.35 773.81H210.33V754.32H208.35ZM210.52 787.44H212.5V772.7H210.52ZM212.68 790.91H214.66V775.9H212.68ZM214.84 798.43H216.82V785.45H214.84ZM217 805.98H218.98V795.61H217ZM219.17 806.93H221.15V796.59H219.17ZM221.33 812.61H223.31V803.24H221.33ZM223.49 813.77H225.47V805.06H223.49ZM225.65 818.4H227.63V811.35H225.65ZM227.82 821.33H229.8V814.78H227.82ZM229.98 825.47H231.96V819.85H229.98ZM232.14 828.09H234.12V823.39H232.14ZM234.3 828.8H236.28V824.22H234.3ZM236.47 830.83H238.45V826.88H236.47ZM238.63 833.2H240.61V829.78H238.63ZM240.79 836.91H242.77V834.02H240.79ZM242.95 837.33H244.93V834.82H242.95ZM245.11 839.07H247.09V836.9H245.11ZM247.28 840.64H249.26V838.72H247.28ZM249.44 842.06H251.42V840.4H249.44ZM251.6 843.35H253.58V841.91H251.6ZM253.76 843.62H255.74V842.3H253.76ZM255.93 844.62H257.91V843.56H255.93ZM258.09 845.05H260.07V844.09H258.09ZM260.25 845.65H262.23V844.91H260.25ZM262.41 846.38H264.39V845.78H262.41ZM264.58 846.64H266.56V846.14H264.58ZM266.74 847.03H268.72V846.6H266.74ZM268.9 847.34H270.88V846.95H268.9ZM271.06 847.6H273.04V847.28H271.06ZM273.23 847.83H275.21V847.57H273.23ZM275.39 847.99H277.37V847.74H275.39ZM277.55 848.14H279.53V847.94H277.55ZM279.71 848.23H281.69V848.06H279.71ZM281.88 848.34H283.86V848.19H281.88ZM284.04 848.46H286.02V848.34H284.04ZM286.2 848.51H288.18V848.41H286.2ZM288.36 848.58H290.34V848.5H288.36ZM290.53 848.62H292.51V848.55H290.53ZM292.69 848.67H294.67V848.61H292.69ZM294.85 848.73H296.83V848.68H294.85ZM297.01 848.76H298.99V848.72H297.01ZM299.17 848.8H301.15V848.77H299.17ZM301.34 848.83H303.32V848.81H301.34ZM303.5 848.87H305.48V848.86H303.5Z" fill="#8C529F"/>
<path d="M132.67 797.45H134.65V788.02H132.67ZM134.83 723.89H136.81V697.11H134.83ZM136.99 715.02H138.97V682.84H136.99ZM139.16 705H141.14V670.6H139.16ZM141.32 713.99H143.3V681.26H141.32ZM143.48 698.43H145.46V664.09H143.48ZM145.64 699.3H147.62V661.94H145.64ZM147.81 705.78H149.79V670.9H147.81ZM149.97 695.69H151.95V655.42H149.97ZM152.13 701.59H154.11V662.71H152.13ZM154.29 702.44H156.27V663.28H154.29ZM156.46 696.15H158.44V657.7H156.46ZM158.62 698.61H160.6V661.48H158.62ZM160.78 687.9H162.76V649.2H160.78ZM162.94 677.92H164.92V635.42H162.94ZM165.11 675.63H167.09V633.02H165.11ZM167.27 685.35H169.25V644.46H167.27ZM169.43 688.71H171.41V651.53H169.43ZM171.59 688.51H173.57V652.7H171.59ZM173.76 688.5H175.74V652.6H173.76ZM175.92 681.99H177.9V647.14H175.92ZM178.08 677.83H180.06V640.99H178.08ZM180.24 686.03H182.22V649.21H180.24ZM182.41 701.37H184.39V668H182.41ZM184.57 703.42H186.55V668.58H184.57ZM186.73 711.81H188.71V677.63H186.73ZM188.89 703.48H190.87V669.29H188.89ZM191.05 716.67H193.03V684.86H191.05ZM193.22 722.48H195.2V691.84H193.22ZM195.38 725.19H197.36V697.71H195.38ZM197.54 724.71H199.52V696.71H197.54ZM199.7 717.67H201.68V687.04H199.7ZM201.87 748.61H203.85V723.12H201.87ZM204.03 742.62H206.01V717.3H204.03ZM206.19 760.3H208.17V738.07H206.19ZM208.35 754.32H210.33V728.83H208.35ZM210.52 772.7H212.5V752.96H210.52ZM212.68 775.9H214.66V756.99H212.68ZM214.84 785.45H216.82V768.54H214.84ZM217 795.61H218.98V781.01H217ZM219.17 796.59H221.15V783.82H219.17ZM221.33 803.24H223.31V791.62H221.33ZM223.49 805.06H225.47V794.83H223.49ZM225.65 811.35H227.63V802.22H225.65ZM227.82 814.78H229.8V806.1H227.82ZM229.98 819.85H231.96V813.24H229.98ZM232.14 823.39H234.12V817.4H232.14ZM234.3 824.22H236.28V818.35H234.3ZM236.47 826.88H238.45V821.29H236.47ZM238.63 829.78H240.61V824.79H238.63ZM240.79 834.02H242.77V829.92H240.79ZM242.95 834.82H244.93V831.05H242.95ZM245.11 836.9H247.09V833.59H245.11ZM247.28 838.72H249.26V835.89H247.28ZM249.44 840.4H251.42V837.8H249.44ZM251.6 841.91H253.58V839.9H251.6ZM253.76 842.3H255.74V840.35H253.76ZM255.93 843.56H257.91V841.97H255.93ZM258.09 844.09H260.07V842.46H258.09ZM260.25 844.91H262.23V843.6H260.25ZM262.41 845.78H264.39V844.61H262.41ZM264.58 846.14H266.56V845.18H264.58ZM266.74 846.6H268.72V845.83H266.74ZM268.9 846.95H270.88V846.29H268.9ZM271.06 847.28H273.04V846.76H271.06ZM273.23 847.57H275.21V847.19H273.23ZM275.39 847.74H277.37V847.4H275.39ZM277.55 847.94H279.53V847.65H277.55ZM279.71 848.06H281.69V847.82H279.71ZM281.88 848.19H283.86V847.99H281.88ZM284.04 848.34H286.02V848.18H284.04ZM286.2 848.41H288.18V848.27H286.2ZM288.36 848.5H290.34V848.38H288.36ZM290.53 848.55H292.51V848.45H290.53ZM292.69 848.61H294.67V848.53H292.69ZM294.85 848.68H296.83V848.62H294.85ZM297.01 848.72H298.99V848.67H297.01ZM299.17 848.77H301.15V848.74H299.17ZM301.34 848.81H303.32V848.79H301.34ZM303.5 848.86H305.48V848.84H303.5Z" fill="#EF8432"/>
<path d="M132.2 630V848.9H344.2" fill="none" stroke="#444" stroke-width="0.9"/>
<text x="120.7" y="854.7" font-size="16.4" text-anchor="end" textLength="9.71" lengthAdjust="spacingAndGlyphs"  >0</text>
<text x="120.7" y="798.7" font-size="16.4" text-anchor="end" textLength="9.71" lengthAdjust="spacingAndGlyphs"  >4</text>
<text x="120.7" y="742.7" font-size="16.4" text-anchor="end" textLength="9.71" lengthAdjust="spacingAndGlyphs"  >8</text>
<text x="120.7" y="686.7" font-size="16.4" text-anchor="end" textLength="19.43" lengthAdjust="spacingAndGlyphs"  >12</text>
<text x="132.2" y="871.7" font-size="16.4" text-anchor="middle" textLength="9.71" lengthAdjust="spacingAndGlyphs"  >0</text>
<text x="185.2" y="871.7" font-size="16.4" text-anchor="middle" textLength="33.99" lengthAdjust="spacingAndGlyphs"  >0.25</text>
<text x="238.2" y="871.7" font-size="16.4" text-anchor="middle" textLength="33.99" lengthAdjust="spacingAndGlyphs"  >0.50</text>
<text x="291.2" y="871.7" font-size="16.4" text-anchor="middle" textLength="33.99" lengthAdjust="spacingAndGlyphs"  >0.75</text>
<text x="344.2" y="871.7" font-size="16.4" text-anchor="middle" textLength="33.99" lengthAdjust="spacingAndGlyphs"  >1.00</text>
<path d="M129.4 848.9H132.2M129.4 792.9H132.2M129.4 736.9H132.2M129.4 680.9H132.2M132.2 848.9V851.7M185.2 848.9V851.7M238.2 848.9V851.7M291.2 848.9V851.7M344.2 848.9V851.7" stroke="#444" stroke-width="0.9" fill="none"/>
<text x="190" y="651.8" font-size="16.6" text-anchor="start" textLength="114.02" lengthAdjust="spacingAndGlyphs" font-style="italic" >L. leishanense</text>
<path d="M418.47 848.9H420.45V844.55H418.47ZM420.63 848.9H422.61V840.93H420.63ZM422.79 848.9H424.77V837.1H422.79ZM424.96 848.9H426.94V834.64H424.96ZM427.12 848.9H429.1V829.7H427.12ZM429.28 848.9H431.26V829.92H429.28ZM431.44 848.9H433.42V825.58H431.44ZM433.61 848.9H435.59V824.34H433.61ZM435.77 848.9H437.75V823.3H435.77ZM437.93 848.9H439.91V820.74H437.93ZM440.09 848.9H442.07V819H440.09ZM442.26 848.9H444.24V817.56H442.26ZM444.42 848.9H446.4V814H444.42ZM446.58 848.9H448.56V813.23H446.58ZM448.74 848.9H450.72V812.98H448.74ZM450.91 848.9H452.89V807.32H450.91ZM453.07 848.9H455.05V810.6H453.07ZM455.23 848.9H457.21V810.97H455.23ZM457.39 848.9H459.37V812.54H457.39ZM459.56 848.9H461.54V811.61H459.56ZM461.72 848.9H463.7V805.38H461.72ZM463.88 848.9H465.86V804.61H463.88ZM466.04 848.9H468.02V806.07H466.04ZM468.21 848.9H470.19V809.07H468.21ZM470.37 848.9H472.35V808.23H470.37ZM472.53 848.9H474.51V811.89H472.53ZM474.69 848.9H476.67V808.03H474.69ZM476.85 848.9H478.83V811.53H476.85ZM479.02 848.9H481V812.24H479.02ZM481.18 848.9H483.16V813.37H481.18ZM483.34 848.9H485.32V814.27H483.34ZM485.5 848.9H487.48V810.44H485.5ZM487.67 848.9H489.65V818.1H487.67ZM489.83 848.9H491.81V814.9H489.83ZM491.99 848.9H493.97V822.38H491.99ZM494.15 848.9H496.13V824.78H494.15ZM496.32 848.9H498.3V824.6H496.32ZM498.48 848.9H500.46V827.74H498.48ZM500.64 848.9H502.62V830.55H500.64ZM502.8 848.9H504.78V831.58H502.8ZM504.97 848.9H506.95V833.17H504.97ZM507.13 848.9H509.11V833.45H507.13ZM509.29 848.9H511.27V836.41H509.29ZM511.45 848.9H513.43V837.84H511.45ZM513.62 848.9H515.6V840.05H513.62ZM515.78 848.9H517.76V841.25H515.78ZM517.94 848.9H519.92V841.92H517.94ZM520.1 848.9H522.08V842.53H520.1ZM522.27 848.9H524.25V842.88H522.27ZM524.43 848.9H526.41V843.87H524.43ZM526.59 848.9H528.57V844.64H526.59ZM528.75 848.9H530.73V845.24H528.75ZM530.91 848.9H532.89V845.83H530.91ZM533.08 848.9H535.06V846.19H533.08ZM535.24 848.9H537.22V846.75H535.24ZM537.4 848.9H539.38V847.31H537.4ZM539.56 848.9H541.54V847.52H539.56ZM541.73 848.9H543.71V847.65H541.73ZM543.89 848.9H545.87V847.82H543.89ZM546.05 848.9H548.03V848.09H546.05ZM548.21 848.9H550.19V848.22H548.21ZM550.38 848.9H552.36V848.32H550.38ZM552.54 848.9H554.52V848.34H552.54ZM554.7 848.9H556.68V848.42H554.7ZM556.86 848.9H558.84V848.47H556.86ZM559.03 848.9H561.01V848.54H559.03ZM561.19 848.9H563.17V848.57H561.19ZM563.35 848.9H565.33V848.62H563.35ZM565.51 848.9H567.49V848.68H565.51ZM567.68 848.9H569.66V848.7H567.68ZM569.84 848.9H571.82V848.76H569.84ZM572 848.9H573.98V848.78H572ZM574.16 848.9H576.14V848.79H574.16ZM576.33 848.9H578.31V848.81H576.33ZM578.49 848.9H580.47V848.83H578.49ZM580.65 848.9H582.63V848.85H580.65ZM582.81 848.9H584.79V848.86H582.81ZM584.97 848.9H586.95V848.87H584.97ZM587.14 848.9H589.12V848.88H587.14ZM589.3 848.9H591.28V848.89H589.3Z" fill="#D2352B"/>
<path d="M418.47 844.55H420.45V841.89H418.47ZM420.63 840.93H422.61V829.98H420.63ZM422.79 837.1H424.77V819.48H422.79ZM424.96 834.64H426.94V810.59H424.96ZM427.12 829.7H429.1V792.66H427.12ZM429.28 829.92H431.26V797.06H429.28ZM431.44 825.58H433.42V789.67H431.44ZM433.61 824.34H435.59V788.81H433.61ZM435.77 823.3H437.75V788.5H435.77ZM437.93 820.74H439.91V784.33H437.93ZM440.09 819H442.07V783.28H440.09ZM442.26 817.56H444.24V778.68H442.26ZM444.42 814H446.4V774.86H444.42ZM446.58 813.23H448.56V776.73H446.58ZM448.74 812.98H450.72V774.73H448.74ZM450.91 807.32H452.89V770.2H450.91ZM453.07 810.6H455.05V774.5H453.07ZM455.23 810.97H457.21V774.99H455.23ZM457.39 812.54H459.37V773.04H457.39ZM459.56 811.61H461.54V768.67H459.56ZM461.72 805.38H463.7V761.81H461.72ZM463.88 804.61H465.86V758.13H463.88ZM466.04 806.07H468.02V761.33H466.04ZM468.21 809.07H470.19V768.74H468.21ZM470.37 808.23H472.35V768.92H470.37ZM472.53 811.89H474.51V778.66H472.53ZM474.69 808.03H476.67V771.82H474.69ZM476.85 811.53H478.83V778.52H476.85ZM479.02 812.24H481V782.02H479.02ZM481.18 813.37H483.16V783.33H481.18ZM483.34 814.27H485.32V785.43H483.34ZM485.5 810.44H487.48V778.25H485.5ZM487.67 818.1H489.65V791.95H487.67ZM489.83 814.9H491.81V785.24H489.83ZM491.99 822.38H493.97V799.35H491.99ZM494.15 824.78H496.13V802.02H494.15ZM496.32 824.6H498.3V800.92H496.32ZM498.48 827.74H500.46V807.21H498.48ZM500.64 830.55H502.62V812.03H500.64ZM502.8 831.58H504.78V812.28H502.8ZM504.97 833.17H506.95V815.53H504.97ZM507.13 833.45H509.11V816.35H507.13ZM509.29 836.41H511.27V822.39H509.29ZM511.45 837.84H513.43V825.13H511.45ZM513.62 840.05H515.6V829.12H513.62ZM515.78 841.25H517.76V831.93H515.78ZM517.94 841.92H519.92V833.31H517.94ZM520.1 842.53H522.08V834.33H520.1ZM522.27 842.88H524.25V835.58H522.27ZM524.43 843.87H526.41V837.88H524.43ZM526.59 844.64H528.57V839.1H526.59ZM528.75 845.24H530.73V840.26H528.75ZM530.91 845.83H532.89V841.51H530.91ZM533.08 846.19H535.06V842.49H533.08ZM535.24 846.75H537.22V843.58H535.24ZM537.4 847.31H539.38V844.79H537.4ZM539.56 847.52H541.54V845.49H539.56ZM541.73 847.65H543.71V845.96H541.73ZM543.89 847.82H545.87V846.28H543.89ZM546.05 848.09H548.03V846.91H546.05ZM548.21 848.22H550.19V847.25H548.21ZM550.38 848.32H552.36V847.49H550.38ZM552.54 848.34H554.52V847.53H552.54ZM554.7 848.42H556.68V847.73H554.7ZM556.86 848.47H558.84V847.83H556.86ZM559.03 848.54H561.01V847.98H559.03ZM561.19 848.57H563.17V848.09H561.19ZM563.35 848.62H565.33V848.23H563.35ZM565.51 848.68H567.49V848.34H565.51ZM567.68 848.7H569.66V848.41H567.68ZM569.84 848.76H571.82V848.56H569.84ZM572 848.78H573.98V848.58H572ZM574.16 848.79H576.14V848.63H574.16ZM576.33 848.81H578.31V848.67H576.33ZM578.49 848.83H580.47V848.73H578.49ZM580.65 848.85H582.63V848.78H580.65ZM582.81 848.86H584.79V848.81H582.81ZM584.97 848.87H586.95V848.83H584.97ZM587.14 848.88H589.12V848.85H587.14ZM589.3 848.89H591.28V848.88H589.3Z" fill="#477DB4"/>
<path d="M418.47 841.89H420.45V837.9H418.47ZM420.63 829.98H422.61V810.82H420.63ZM422.79 819.48H424.77V791.65H422.79ZM424.96 810.59H426.94V772.65H424.96ZM427.12 792.66H429.1V747.52H427.12ZM429.28 797.06H431.26V750.19H429.28ZM431.44 789.67H433.42V740.22H431.44ZM433.61 788.81H435.59V744.55H433.61ZM435.77 788.5H437.75V739.72H435.77ZM437.93 784.33H439.91V737.64H437.93ZM440.09 783.28H442.07V735.15H440.09ZM442.26 778.68H444.24V731.2H442.26ZM444.42 774.86H446.4V725.88H444.42ZM446.58 776.73H448.56V734.53H446.58ZM448.74 774.73H450.72V732.43H448.74ZM450.91 770.2H452.89V725.73H450.91ZM453.07 774.5H455.05V734.15H453.07ZM455.23 774.99H457.21V734.66H455.23ZM457.39 773.04H459.37V737.05H457.39ZM459.56 768.67H461.54V732.23H459.56ZM461.72 761.81H463.7V722.8H461.72ZM463.88 758.13H465.86V717.62H463.88ZM466.04 761.33H468.02V722.71H466.04ZM468.21 768.74H470.19V733H468.21ZM470.37 768.92H472.35V733.64H470.37ZM472.53 778.66H474.51V747.49H472.53ZM474.69 771.82H476.67V737.63H474.69ZM476.85 778.52H478.83V746.55H476.85ZM479.02 782.02H481V752.71H479.02ZM481.18 783.33H483.16V753.55H481.18ZM483.34 785.43H485.32V755.61H483.34ZM485.5 778.25H487.48V746.72H485.5ZM487.67 791.95H489.65V767.56H487.67ZM489.83 785.24H491.81V759.16H489.83ZM491.99 799.35H493.97V778.82H491.99ZM494.15 802.02H496.13V782.91H494.15ZM496.32 800.92H498.3V780.3H496.32ZM498.48 807.21H500.46V790.41H498.48ZM500.64 812.03H502.62V796.03H500.64ZM502.8 812.28H504.78V796.93H502.8ZM504.97 815.53H506.95V802.67H504.97ZM507.13 816.35H509.11V803.15H507.13ZM509.29 822.39H511.27V811H509.29ZM511.45 825.13H513.43V814.18H511.45ZM513.62 829.12H515.6V819.98H513.62ZM515.78 831.93H517.76V823.93H515.78ZM517.94 833.31H519.92V826.18H517.94ZM520.1 834.33H522.08V827.83H520.1ZM522.27 835.58H524.25V829.94H522.27ZM524.43 837.88H526.41V833.03H524.43ZM526.59 839.1H528.57V835.03H526.59ZM528.75 840.26H530.73V836.45H528.75ZM530.91 841.51H532.89V838.3H530.91ZM533.08 842.49H535.06V839.55H533.08ZM535.24 843.58H537.22V841.03H535.24ZM537.4 844.79H539.38V842.72H537.4ZM539.56 845.49H541.54V843.78H539.56ZM541.73 845.96H543.71V844.45H541.73ZM543.89 846.28H545.87V844.79H543.89ZM546.05 846.91H548.03V845.62H546.05ZM548.21 847.25H550.19V846.12H548.21ZM550.38 847.49H552.36V846.62H550.38ZM552.54 847.53H554.52V846.73H552.54ZM554.7 847.73H556.68V847.11H554.7ZM556.86 847.83H558.84V847.31H556.86ZM559.03 847.98H561.01V847.63H559.03ZM561.19 848.09H563.17V847.79H561.19ZM563.35 848.23H565.33V847.97H563.35ZM565.51 848.34H567.49V848.14H565.51ZM567.68 848.41H569.66V848.22H567.68ZM569.84 848.56H571.82V848.43H569.84ZM572 848.58H573.98V848.45H572ZM574.16 848.63H576.14V848.53H574.16ZM576.33 848.67H578.31V848.59H576.33ZM578.49 848.73H580.47V848.67H578.49ZM580.65 848.78H582.63V848.73H580.65ZM582.81 848.81H584.79V848.78H582.81ZM584.97 848.83H586.95V848.8H584.97ZM587.14 848.85H589.12V848.84H587.14ZM589.3 848.88H591.28V848.87H589.3Z" fill="#62A956"/>
<path d="M418.47 837.9H420.45V835.03H418.47ZM420.63 810.82H422.61V799.89H420.63ZM422.79 791.65H424.77V777.8H422.79ZM424.96 772.65H426.94V754.13H424.96ZM427.12 747.52H429.1V716.69H427.12ZM429.28 750.19H431.26V715.46H429.28ZM431.44 740.22H433.42V702.23H431.44ZM433.61 744.55H435.59V707.29H433.61ZM435.77 739.72H437.75V701.97H435.77ZM437.93 737.64H439.91V698.94H437.93ZM440.09 735.15H442.07V693.51H440.09ZM442.26 731.2H444.24V688.97H442.26ZM444.42 725.88H446.4V686.09H444.42ZM446.58 734.53H448.56V696.49H446.58ZM448.74 732.43H450.72V694.8H448.74ZM450.91 725.73H452.89V687.2H450.91ZM453.07 734.15H455.05V700.96H453.07ZM455.23 734.66H457.21V700.63H455.23ZM457.39 737.05H459.37V701.94H457.39ZM459.56 732.23H461.54V695.46H459.56ZM461.72 722.8H463.7V682.31H461.72ZM463.88 717.62H465.86V674H463.88ZM466.04 722.71H468.02V682.68H466.04ZM468.21 733H470.19V694.88H468.21ZM470.37 733.64H472.35V698.2H470.37ZM472.53 747.49H474.51V715.28H472.53ZM474.69 737.63H476.67V705.41H474.69ZM476.85 746.55H478.83V715.13H476.85ZM479.02 752.71H481V723.31H479.02ZM481.18 753.55H483.16V725.47H481.18ZM483.34 755.61H485.32V729.65H483.34ZM485.5 746.72H487.48V718.06H485.5ZM487.67 767.56H489.65V744.09H487.67ZM489.83 759.16H491.81V734.37H489.83ZM491.99 778.82H493.97V759.82H491.99ZM494.15 782.91H496.13V766.8H494.15ZM496.32 780.3H498.3V763.81H496.32ZM498.48 790.41H500.46V775.25H498.48ZM500.64 796.03H502.62V782.18H500.64ZM502.8 796.93H504.78V783.34H502.8ZM504.97 802.67H506.95V790.79H504.97ZM507.13 803.15H509.11V792.27H507.13ZM509.29 811H511.27V801.28H509.29ZM511.45 814.18H513.43V806.24H511.45ZM513.62 819.98H515.6V813.48H513.62ZM515.78 823.93H517.76V818.72H515.78ZM517.94 826.18H519.92V821.73H517.94ZM520.1 827.83H522.08V823.39H520.1ZM522.27 829.94H524.25V826.06H522.27ZM524.43 833.03H526.41V829.81H524.43ZM526.59 835.03H528.57V832.18H526.59ZM528.75 836.45H530.73V834.06H528.75ZM530.91 838.3H532.89V836.28H530.91ZM533.08 839.55H535.06V837.74H533.08ZM535.24 841.03H537.22V839.47H535.24ZM537.4 842.72H539.38V841.4H537.4ZM539.56 843.78H541.54V842.61H539.56ZM541.73 844.45H543.71V843.42H541.73ZM543.89 844.79H545.87V843.86H543.89ZM546.05 845.62H548.03V844.85H546.05ZM548.21 846.12H550.19V845.41H548.21ZM550.38 846.62H552.36V846.07H550.38ZM552.54 846.73H554.52V846.18H552.54ZM554.7 847.11H556.68V846.64H554.7ZM556.86 847.31H558.84V846.91H556.86ZM559.03 847.63H561.01V847.3H559.03ZM561.19 847.79H563.17V847.5H561.19ZM563.35 847.97H565.33V847.74H563.35ZM565.51 848.14H567.49V847.94H565.51ZM567.68 848.22H569.66V848.04H567.68ZM569.84 848.43H571.82V848.31H569.84ZM572 848.45H573.98V848.34H572ZM574.16 848.53H576.14V848.44H574.16ZM576.33 848.59H578.31V848.5H576.33ZM578.49 848.67H580.47V848.61H578.49ZM580.65 848.73H582.63V848.68H580.65ZM582.81 848.78H584.79V848.74H582.81ZM584.97 848.8H586.95V848.77H584.97ZM587.14 848.84H589.12V848.82H587.14ZM589.3 848.87H591.28V848.86H589.3Z" fill="#8C529F"/>
<path d="M418.47 835.03H420.45V832.19H418.47ZM420.63 799.89H422.61V793.35H420.63ZM422.79 777.8H424.77V768.48H422.79ZM424.96 754.13H426.94V739.79H424.96ZM427.12 716.69H429.1V696.58H427.12ZM429.28 715.46H431.26V692.58H429.28ZM431.44 702.23H433.42V673.81H431.44ZM433.61 707.29H435.59V677.71H433.61ZM435.77 701.97H437.75V669H435.77ZM437.93 698.94H439.91V663.27H437.93ZM440.09 693.51H442.07V656.68H440.09ZM442.26 688.97H444.24V648.6H442.26ZM444.42 686.09H446.4V645.62H444.42ZM446.58 696.49H448.56V655.8H446.58ZM448.74 694.8H450.72V653.71H448.74ZM450.91 687.2H452.89V643.96H450.91ZM453.07 700.96H455.05V662H453.07ZM455.23 700.63H457.21V661.16H455.23ZM457.39 701.94H459.37V663.95H457.39ZM459.56 695.46H461.54V658.29H459.56ZM461.72 682.31H463.7V642.85H461.72ZM463.88 674H465.86V633.1H463.88ZM466.04 682.68H468.02V642.38H466.04ZM468.21 694.88H470.19V658.44H468.21ZM470.37 698.2H472.35V660.2H470.37ZM472.53 715.28H474.51V679.96H472.53ZM474.69 705.41H476.67V670.1H474.69ZM476.85 715.13H478.83V681.79H476.85ZM479.02 723.31H481V690.46H479.02ZM481.18 725.47H483.16V691.89H481.18ZM483.34 729.65H485.32V694.88H483.34ZM485.5 718.06H487.48V684.48H485.5ZM487.67 744.09H489.65V716.66H487.67ZM489.83 734.37H491.81V706.29H489.83ZM491.99 759.82H493.97V737.75H491.99ZM494.15 766.8H496.13V747.5H494.15ZM496.32 763.81H498.3V743.84H496.32ZM498.48 775.25H500.46V759.08H498.48ZM500.64 782.18H502.62V766.81H500.64ZM502.8 783.34H504.78V769.5H502.8ZM504.97 790.79H506.95V778.96H504.97ZM507.13 792.27H509.11V781.19H507.13ZM509.29 801.28H511.27V791.33H509.29ZM511.45 806.24H513.43V797.26H511.45ZM513.62 813.48H515.6V806.32H513.62ZM515.78 818.72H517.76V812.16H515.78ZM517.94 821.73H519.92V815.8H517.94ZM520.1 823.39H522.08V817.73H520.1ZM522.27 826.06H524.25V821.01H522.27ZM524.43 829.81H526.41V825.28H524.43ZM526.59 832.18H528.57V828.18H526.59ZM528.75 834.06H530.73V830.34H528.75ZM530.91 836.28H532.89V833.12H530.91ZM533.08 837.74H535.06V834.75H533.08ZM535.24 839.47H537.22V836.94H535.24ZM537.4 841.4H539.38V839.29H537.4ZM539.56 842.61H541.54V840.89H539.56ZM541.73 843.42H543.71V841.83H541.73ZM543.89 843.86H545.87V842.51H543.89ZM546.05 844.85H548.03V843.67H546.05ZM548.21 845.41H550.19V844.49H548.21ZM550.38 846.07H552.36V845.25H550.38ZM552.54 846.18H554.52V845.39H552.54ZM554.7 846.64H556.68V846.04H554.7ZM556.86 846.91H558.84V846.36H556.86ZM559.03 847.3H561.01V846.83H559.03ZM561.19 847.5H563.17V847.12H561.19ZM563.35 847.74H565.33V847.41H563.35ZM565.51 847.94H567.49V847.67H565.51ZM567.68 848.04H569.66V847.81H567.68ZM569.84 848.31H571.82V848.14H569.84ZM572 848.34H573.98V848.18H572ZM574.16 848.44H576.14V848.3H574.16ZM576.33 848.5H578.31V848.39H576.33ZM578.49 848.61H580.47V848.54H578.49ZM580.65 848.68H582.63V848.62H580.65ZM582.81 848.74H584.79V848.69H582.81ZM584.97 848.77H586.95V848.74H584.97ZM587.14 848.82H589.12V848.8H587.14ZM589.3 848.86H591.28V848.85H589.3Z" fill="#EF8432"/>
<path d="M418 633V848.9H630" fill="none" stroke="#444" stroke-width="0.9"/>
<text x="406.5" y="854.7" font-size="16.4" text-anchor="end" textLength="9.71" lengthAdjust="spacingAndGlyphs"  >0</text>
<text x="406.5" y="801.34" font-size="16.4" text-anchor="end" textLength="9.71" lengthAdjust="spacingAndGlyphs"  >4</text>
<text x="406.5" y="747.98" font-size="16.4" text-anchor="end" textLength="9.71" lengthAdjust="spacingAndGlyphs"  >8</text>
<text x="406.5" y="694.62" font-size="16.4" text-anchor="end" textLength="19.43" lengthAdjust="spacingAndGlyphs"  >12</text>
<text x="406.5" y="641.26" font-size="16.4" text-anchor="end" textLength="19.43" lengthAdjust="spacingAndGlyphs"  >16</text>
<text x="418" y="871.7" font-size="16.4" text-anchor="middle" textLength="9.71" lengthAdjust="spacingAndGlyphs"  >0</text>
<text x="471" y="871.7" font-size="16.4" text-anchor="middle" textLength="33.99" lengthAdjust="spacingAndGlyphs"  >0.25</text>
<text x="524" y="871.7" font-size="16.4" text-anchor="middle" textLength="33.99" lengthAdjust="spacingAndGlyphs"  >0.50</text>
<text x="577" y="871.7" font-size="16.4" text-anchor="middle" textLength="33.99" lengthAdjust="spacingAndGlyphs"  >0.75</text>
<text x="630" y="871.7" font-size="16.4" text-anchor="middle" textLength="33.99" lengthAdjust="spacingAndGlyphs"  >1.00</text>
<path d="M415.2 848.9H418M415.2 795.54H418M415.2 742.18H418M415.2 688.82H418M415.2 635.46H418M418 848.9V851.7M471 848.9V851.7M524 848.9V851.7M577 848.9V851.7M630 848.9V851.7" stroke="#444" stroke-width="0.9" fill="none"/>
<text x="481" y="651.8" font-size="16.6" text-anchor="start" textLength="117.94" lengthAdjust="spacingAndGlyphs" font-style="italic" >R. catesbeiana</text>
<path d="M708.27 848.9H710.25V822.52H708.27ZM710.43 848.9H712.41V812.01H710.43ZM712.59 848.9H714.57V809.74H712.59ZM714.76 848.9H716.74V810.6H714.76ZM716.92 848.9H718.9V811.96H716.92ZM719.08 848.9H721.06V810.91H719.08ZM721.24 848.9H723.22V814.02H721.24ZM723.41 848.9H725.39V814.68H723.41ZM725.57 848.9H727.55V813.36H725.57ZM727.73 848.9H729.71V816.25H727.73ZM729.89 848.9H731.87V816.58H729.89ZM732.06 848.9H734.04V813.72H732.06ZM734.22 848.9H736.2V816.3H734.22ZM736.38 848.9H738.36V816.63H736.38ZM738.54 848.9H740.52V818.75H738.54ZM740.71 848.9H742.69V815.33H740.71ZM742.87 848.9H744.85V815.65H742.87ZM745.03 848.9H747.01V815.2H745.03ZM747.19 848.9H749.17V816.61H747.19ZM749.36 848.9H751.34V814.52H749.36ZM751.52 848.9H753.5V811.51H751.52ZM753.68 848.9H755.66V816.89H753.68ZM755.84 848.9H757.82V811.41H755.84ZM758.01 848.9H759.99V814.96H758.01ZM760.17 848.9H762.15V815.46H760.17ZM762.33 848.9H764.31V814.71H762.33ZM764.49 848.9H766.47V814.76H764.49ZM766.65 848.9H768.63V817.53H766.65ZM768.82 848.9H770.8V817.88H768.82ZM770.98 848.9H772.96V818.73H770.98ZM773.14 848.9H775.12V818.3H773.14ZM775.3 848.9H777.28V814.29H775.3ZM777.47 848.9H779.45V819.33H777.47ZM779.63 848.9H781.61V821.76H779.63ZM781.79 848.9H783.77V822.62H781.79ZM783.95 848.9H785.93V826.05H783.95ZM786.12 848.9H788.1V824.1H786.12ZM788.28 848.9H790.26V828.16H788.28ZM790.44 848.9H792.42V830.26H790.44ZM792.6 848.9H794.58V830.97H792.6ZM794.77 848.9H796.75V833.5H794.77ZM796.93 848.9H798.91V833.88H796.93ZM799.09 848.9H801.07V835.39H799.09ZM801.25 848.9H803.23V836.27H801.25ZM803.42 848.9H805.4V836.16H803.42ZM805.58 848.9H807.56V836.77H805.58ZM807.74 848.9H809.72V836.61H807.74ZM809.9 848.9H811.88V838.96H809.9ZM812.07 848.9H814.05V838.46H812.07ZM814.23 848.9H816.21V839.23H814.23ZM816.39 848.9H818.37V840.58H816.39ZM818.55 848.9H820.53V841.71H818.55ZM820.71 848.9H822.69V841.91H820.71ZM822.88 848.9H824.86V842.81H822.88ZM825.04 848.9H827.02V843.09H825.04ZM827.2 848.9H829.18V844.49H827.2ZM829.36 848.9H831.34V844.79H829.36ZM831.53 848.9H833.51V845.04H831.53ZM833.69 848.9H835.67V845.58H833.69ZM835.85 848.9H837.83V846.14H835.85ZM838.01 848.9H839.99V846.69H838.01ZM840.18 848.9H842.16V846.59H840.18ZM842.34 848.9H844.32V846.91H842.34ZM844.5 848.9H846.48V847.11H844.5ZM846.66 848.9H848.64V847.18H846.66ZM848.83 848.9H850.81V847.31H848.83ZM850.99 848.9H852.97V847.54H850.99ZM853.15 848.9H855.13V847.65H853.15ZM855.31 848.9H857.29V847.73H855.31ZM857.48 848.9H859.46V847.99H857.48ZM859.64 848.9H861.62V848.1H859.64ZM861.8 848.9H863.78V848.21H861.8ZM863.96 848.9H865.94V848.27H863.96ZM866.13 848.9H868.11V848.32H866.13ZM868.29 848.9H870.27V848.39H868.29ZM870.45 848.9H872.43V848.5H870.45ZM872.61 848.9H874.59V848.53H872.61ZM874.77 848.9H876.75V848.58H874.77ZM876.94 848.9H878.92V848.61H876.94ZM879.1 848.9H881.08V848.66H879.1ZM881.26 848.9H883.24V848.71H881.26ZM883.42 848.9H885.4V848.72H883.42ZM885.59 848.9H887.57V848.75H885.59ZM887.75 848.9H889.73V848.77H887.75ZM889.91 848.9H891.89V848.79H889.91ZM892.07 848.9H894.05V848.82H892.07ZM894.24 848.9H896.22V848.82H894.24ZM896.4 848.9H898.38V848.83H896.4ZM898.56 848.9H900.54V848.85H898.56ZM900.72 848.9H902.7V848.86H900.72ZM902.89 848.9H904.87V848.87H902.89ZM905.05 848.9H907.03V848.87H905.05ZM907.21 848.9H909.19V848.88H907.21ZM909.37 848.9H911.35V848.88H909.37ZM911.54 848.9H913.52V848.88H911.54ZM913.7 848.9H915.68V848.89H913.7ZM915.86 848.9H917.84V848.89H915.86ZM918.02 848.9H919.73V848.89H918.02Z" fill="#D2352B"/>
<path d="M708.27 822.52H710.25V806.48H708.27ZM710.43 812.01H712.41V788.79H710.43ZM712.59 809.74H714.57V786.19H712.59ZM714.76 810.6H716.74V786.3H714.76ZM716.92 811.96H718.9V784.32H716.92ZM719.08 810.91H721.06V784.25H719.08ZM721.24 814.02H723.22V786.44H721.24ZM723.41 814.68H725.39V785.41H723.41ZM725.57 813.36H727.55V782.41H725.57ZM727.73 816.25H729.71V783.2H727.73ZM729.89 816.58H731.87V782.19H729.89ZM732.06 813.72H734.04V780.18H732.06ZM734.22 816.3H736.2V780.53H734.22ZM736.38 816.63H738.36V778.12H736.38ZM738.54 818.75H740.52V781.39H738.54ZM740.71 815.33H742.69V774.86H740.71ZM742.87 815.65H744.85V774.91H742.87ZM745.03 815.2H747.01V773.09H745.03ZM747.19 816.61H749.17V774.93H747.19ZM749.36 814.52H751.34V775.45H749.36ZM751.52 811.51H753.5V765.69H751.52ZM753.68 816.89H755.66V776.46H753.68ZM755.84 811.41H757.82V767.23H755.84ZM758.01 814.96H759.99V774.02H758.01ZM760.17 815.46H762.15V774.83H760.17ZM762.33 814.71H764.31V775.07H762.33ZM764.49 814.76H766.47V775.3H764.49ZM766.65 817.53H768.63V780.27H766.65ZM768.82 817.88H770.8V780.51H768.82ZM770.98 818.73H772.96V782.36H770.98ZM773.14 818.3H775.12V781.3H773.14ZM775.3 814.29H777.28V775.64H775.3ZM777.47 819.33H779.45V784.12H777.47ZM779.63 821.76H781.61V786.07H779.63ZM781.79 822.62H783.77V788.01H781.79ZM783.95 826.05H785.93V797.29H783.95ZM786.12 824.1H788.1V791.66H786.12ZM788.28 828.16H790.26V800.94H788.28ZM790.44 830.26H792.42V804H790.44ZM792.6 830.97H794.58V807.54H792.6ZM794.77 833.5H796.75V810.49H794.77ZM796.93 833.88H798.91V810.16H796.93ZM799.09 835.39H801.07V815.96H799.09ZM801.25 836.27H803.23V818.67H801.25ZM803.42 836.16H805.4V817.79H803.42ZM805.58 836.77H807.56V820.12H805.58ZM807.74 836.61H809.72V819.96H807.74ZM809.9 838.96H811.88V825.34H809.9ZM812.07 838.46H814.05V825.06H812.07ZM814.23 839.23H816.21V826.47H814.23ZM816.39 840.58H818.37V830.32H816.39ZM818.55 841.71H820.53V831.36H818.55ZM820.71 841.91H822.69V832.56H820.71ZM822.88 842.81H824.86V833.66H822.88ZM825.04 843.09H827.02V835.43H825.04ZM827.2 844.49H829.18V837.82H827.2ZM829.36 844.79H831.34V838.59H829.36ZM831.53 845.04H833.51V838.9H831.53ZM833.69 845.58H835.67V840.37H833.69ZM835.85 846.14H837.83V841.61H835.85ZM838.01 846.69H839.99V843.02H838.01ZM840.18 846.59H842.16V843.02H840.18ZM842.34 846.91H844.32V843.71H842.34ZM844.5 847.11H846.48V844.3H844.5ZM846.66 847.18H848.64V844.55H846.66ZM848.83 847.31H850.81V844.9H848.83ZM850.99 847.54H852.97V845.58H850.99ZM853.15 847.65H855.13V845.94H853.15ZM855.31 847.73H857.29V846.32H855.31ZM857.48 847.99H859.46V846.92H857.48ZM859.64 848.1H861.62V847.36H859.64ZM861.8 848.21H863.78V847.44H861.8ZM863.96 848.27H865.94V847.59H863.96ZM866.13 848.32H868.11V847.59H866.13ZM868.29 848.39H870.27V847.73H868.29ZM870.45 848.5H872.43V847.86H870.45ZM872.61 848.53H874.59V847.96H872.61ZM874.77 848.58H876.75V848.05H874.77ZM876.94 848.61H878.92V848.17H876.94ZM879.1 848.66H881.08V848.31H879.1ZM881.26 848.71H883.24V848.41H881.26ZM883.42 848.72H885.4V848.46H883.42ZM885.59 848.75H887.57V848.53H885.59ZM887.75 848.77H889.73V848.57H887.75ZM889.91 848.79H891.89V848.62H889.91ZM892.07 848.82H894.05V848.69H892.07ZM894.24 848.82H896.22V848.71H894.24ZM896.4 848.83H898.38V848.74H896.4ZM898.56 848.85H900.54V848.78H898.56ZM900.72 848.86H902.7V848.8H900.72ZM902.89 848.87H904.87V848.83H902.89ZM905.05 848.87H907.03V848.84H905.05ZM907.21 848.88H909.19V848.84H907.21ZM909.37 848.88H911.35V848.85H909.37ZM911.54 848.88H913.52V848.86H911.54ZM913.7 848.89H915.68V848.87H913.7ZM915.86 848.89H917.84V848.87H915.86ZM918.02 848.89H919.73V848.88H918.02Z" fill="#477DB4"/>
<path d="M708.27 806.48H710.25V800.35H708.27ZM710.43 788.79H712.41V772.87H710.43ZM712.59 786.19H714.57V766.09H712.59ZM714.76 786.3H716.74V765.43H714.76ZM716.92 784.32H718.9V759.65H716.92ZM719.08 784.25H721.06V758.13H719.08ZM721.24 786.44H723.22V761.13H721.24ZM723.41 785.41H725.39V759.91H723.41ZM725.57 782.41H727.55V755.29H725.57ZM727.73 783.2H729.71V755.44H727.73ZM729.89 782.19H731.87V755.05H729.89ZM732.06 780.18H734.04V750.27H732.06ZM734.22 780.53H736.2V752.56H734.22ZM736.38 778.12H738.36V744.38H736.38ZM738.54 781.39H740.52V750.22H738.54ZM740.71 774.86H742.69V735.3H740.71ZM742.87 774.91H744.85V738.27H742.87ZM745.03 773.09H747.01V737.27H745.03ZM747.19 774.93H749.17V739.78H747.19ZM749.36 775.45H751.34V739.08H749.36ZM751.52 765.69H753.5V727.09H751.52ZM753.68 776.46H755.66V739.09H753.68ZM755.84 767.23H757.82V726.44H755.84ZM758.01 774.02H759.99V737.65H758.01ZM760.17 774.83H762.15V736.88H760.17ZM762.33 775.07H764.31V734.6H762.33ZM764.49 775.3H766.47V733.27H764.49ZM766.65 780.27H768.63V742.64H766.65ZM768.82 780.51H770.8V741.59H768.82ZM770.98 782.36H772.96V745.35H770.98ZM773.14 781.3H775.12V744.04H773.14ZM775.3 775.64H777.28V732.08H775.3ZM777.47 784.12H779.45V747.49H777.47ZM779.63 786.07H781.61V750.15H779.63ZM781.79 788.01H783.77V752.83H781.79ZM783.95 797.29H785.93V768.15H783.95ZM786.12 791.66H788.1V760.59H786.12ZM788.28 800.94H790.26V775.06H788.28ZM790.44 804H792.42V779.43H790.44ZM792.6 807.54H794.58V785.4H792.6ZM794.77 810.49H796.75V791.41H794.77ZM796.93 810.16H798.91V789.28H796.93ZM799.09 815.96H801.07V798.27H799.09ZM801.25 818.67H803.23V802.55H801.25ZM803.42 817.79H805.4V801.5H803.42ZM805.58 820.12H807.56V805.93H805.58ZM807.74 819.96H809.72V805.47H807.74ZM809.9 825.34H811.88V812.11H809.9ZM812.07 825.06H814.05V811.77H812.07ZM814.23 826.47H816.21V813.57H814.23ZM816.39 830.32H818.37V819.04H816.39ZM818.55 831.36H820.53V821H818.55ZM820.71 832.56H822.69V822.5H820.71ZM822.88 833.66H824.86V824.36H822.88ZM825.04 835.43H827.02V827.37H825.04ZM827.2 837.82H829.18V830.91H827.2ZM829.36 838.59H831.34V832.34H829.36ZM831.53 838.9H833.51V833.1H831.53ZM833.69 840.37H835.67V835.09H833.69ZM835.85 841.61H837.83V837.26H835.85ZM838.01 843.02H839.99V839.21H838.01ZM840.18 843.02H842.16V839.31H840.18ZM842.34 843.71H844.32V840.58H842.34ZM844.5 844.3H846.48V841.35H844.5ZM846.66 844.55H848.64V841.82H846.66ZM848.83 844.9H850.81V842.6H848.83ZM850.99 845.58H852.97V843.52H850.99ZM853.15 845.94H855.13V844.22H853.15ZM855.31 846.32H857.29V844.82H855.31ZM857.48 846.92H859.46V845.77H857.48ZM859.64 847.36H861.62V846.59H859.64ZM861.8 847.44H863.78V846.77H861.8ZM863.96 847.59H865.94V846.96H863.96ZM866.13 847.59H868.11V847H866.13ZM868.29 847.73H870.27V847.24H868.29ZM870.45 847.86H872.43V847.47H870.45ZM872.61 847.96H874.59V847.6H872.61ZM874.77 848.05H876.75V847.75H874.77ZM876.94 848.17H878.92V847.9H876.94ZM879.1 848.31H881.08V848.09H879.1ZM881.26 848.41H883.24V848.24H881.26ZM883.42 848.46H885.4V848.3H883.42ZM885.59 848.53H887.57V848.39H885.59ZM887.75 848.57H889.73V848.45H887.75ZM889.91 848.62H891.89V848.52H889.91ZM892.07 848.69H894.05V848.62H892.07ZM894.24 848.71H896.22V848.64H894.24ZM896.4 848.74H898.38V848.68H896.4ZM898.56 848.78H900.54V848.73H898.56ZM900.72 848.8H902.7V848.77H900.72ZM902.89 848.83H904.87V848.8H902.89ZM905.05 848.84H907.03V848.81H905.05ZM907.21 848.84H909.19V848.82H907.21ZM909.37 848.85H911.35V848.83H909.37ZM911.54 848.86H913.52V848.84H911.54ZM913.7 848.87H915.68V848.86H913.7ZM915.86 848.87H917.84V848.86H915.86ZM918.02 848.88H919.73V848.87H918.02Z" fill="#62A956"/>
<path d="M708.27 800.35H710.25V788.05H708.27ZM710.43 772.87H712.41V757.27H710.43ZM712.59 766.09H714.57V731.99H712.59ZM714.76 765.43H716.74V731.86H714.76ZM716.92 759.65H718.9V724.25H716.92ZM719.08 758.13H721.06V725.03H719.08ZM721.24 761.13H723.22V725.45H721.24ZM723.41 759.91H725.39V726.75H723.41ZM725.57 755.29H727.55V720.24H725.57ZM727.73 755.44H729.71V719.63H727.73ZM729.89 755.05H731.87V720.93H729.89ZM732.06 750.27H734.04V715.6H732.06ZM734.22 752.56H736.2V719.22H734.22ZM736.38 744.38H738.36V710.43H736.38ZM738.54 750.22H740.52V718.8H738.54ZM740.71 735.3H742.69V700.34H740.71ZM742.87 738.27H744.85V702.66H742.87ZM745.03 737.27H747.01V702.18H745.03ZM747.19 739.78H749.17V704.08H747.19ZM749.36 739.08H751.34V701.24H749.36ZM751.52 727.09H753.5V684.55H751.52ZM753.68 739.09H755.66V702.81H753.68ZM755.84 726.44H757.82V684.58H755.84ZM758.01 737.65H759.99V699.21H758.01ZM760.17 736.88H762.15V699.86H760.17ZM762.33 734.6H764.31V693.71H762.33ZM764.49 733.27H766.47V692.61H764.49ZM766.65 742.64H768.63V705.44H766.65ZM768.82 741.59H770.8V705.47H768.82ZM770.98 745.35H772.96V711.9H770.98ZM773.14 744.04H775.12V711.76H773.14ZM775.3 732.08H777.28V695.14H775.3ZM777.47 747.49H779.45V718.24H777.47ZM779.63 750.15H781.61V720.56H779.63ZM781.79 752.83H783.77V726.69H781.79ZM783.95 768.15H785.93V746.99H783.95ZM786.12 760.59H788.1V738.08H786.12ZM788.28 775.06H790.26V754.51H788.28ZM790.44 779.43H792.42V759.49H790.44ZM792.6 785.4H794.58V766.35H792.6ZM794.77 791.41H796.75V773.71H794.77ZM796.93 789.28H798.91V771.54H796.93ZM799.09 798.27H801.07V782.23H799.09ZM801.25 802.55H803.23V787.73H801.25ZM803.42 801.5H805.4V786.6H803.42ZM805.58 805.93H807.56V793.16H805.58ZM807.74 805.47H809.72V792.68H807.74ZM809.9 812.11H811.88V801.19H809.9ZM812.07 811.77H814.05V801.7H812.07ZM814.23 813.57H816.21V803.88H814.23ZM816.39 819.04H818.37V810.57H816.39ZM818.55 821H820.53V813.73H818.55ZM820.71 822.5H822.69V815.12H820.71ZM822.88 824.36H824.86V817.34H822.88ZM825.04 827.37H827.02V821.13H825.04ZM827.2 830.91H829.18V825.46H827.2ZM829.36 832.34H831.34V827.63H829.36ZM831.53 833.1H833.51V828.31H831.53ZM833.69 835.09H835.67V830.82H833.69ZM835.85 837.26H837.83V833.83H835.85ZM838.01 839.21H839.99V836.25H838.01ZM840.18 839.31H842.16V836.49H840.18ZM842.34 840.58H844.32V838.08H842.34ZM844.5 841.35H846.48V839.31H844.5ZM846.66 841.82H848.64V839.9H846.66ZM848.83 842.6H850.81V841.01H848.83ZM850.99 843.52H852.97V842.1H850.99ZM853.15 844.22H855.13V842.97H853.15ZM855.31 844.82H857.29V843.72H855.31ZM857.48 845.77H859.46V844.84H857.48ZM859.64 846.59H861.62V845.81H859.64ZM861.8 846.77H863.78V846.09H861.8ZM863.96 846.96H865.94V846.33H863.96ZM866.13 847H868.11V846.46H866.13ZM868.29 847.24H870.27V846.76H868.29ZM870.45 847.47H872.43V847.09H870.45ZM872.61 847.6H874.59V847.27H872.61ZM874.77 847.75H876.75V847.46H874.77ZM876.94 847.9H878.92V847.65H876.94ZM879.1 848.09H881.08V847.88H879.1ZM881.26 848.24H883.24V848.07H881.26ZM883.42 848.3H885.4V848.14H883.42ZM885.59 848.39H887.57V848.27H885.59ZM887.75 848.45H889.73V848.34H887.75ZM889.91 848.52H891.89V848.43H889.91ZM892.07 848.62H894.05V848.54H892.07ZM894.24 848.64H896.22V848.57H894.24ZM896.4 848.68H898.38V848.62H896.4ZM898.56 848.73H900.54V848.68H898.56ZM900.72 848.77H902.7V848.73H900.72ZM902.89 848.8H904.87V848.77H902.89ZM905.05 848.81H907.03V848.79H905.05ZM907.21 848.82H909.19V848.8H907.21ZM909.37 848.83H911.35V848.81H909.37ZM911.54 848.84H913.52V848.82H911.54ZM913.7 848.86H915.68V848.84H913.7ZM915.86 848.86H917.84V848.85H915.86ZM918.02 848.87H919.73V848.86H918.02Z" fill="#8C529F"/>
<path d="M708.27 788.05H710.25V783.69H708.27ZM710.43 757.27H712.41V746.89H710.43ZM712.59 731.99H714.57V713.72H712.59ZM714.76 731.86H716.74V708.28H714.76ZM716.92 724.25H718.9V691.73H716.92ZM719.08 725.03H721.06V686.98H719.08ZM721.24 725.45H723.22V689.02H721.24ZM723.41 726.75H725.39V690.91H723.41ZM725.57 720.24H727.55V683.42H725.57ZM727.73 719.63H729.71V684.33H727.73ZM729.89 720.93H731.87V687.58H729.89ZM732.06 715.6H734.04V681.23H732.06ZM734.22 719.22H736.2V686.59H734.22ZM736.38 710.43H738.36V672.81H736.38ZM738.54 718.8H740.52V684.27H738.54ZM740.71 700.34H742.69V659.54H740.71ZM742.87 702.66H744.85V664.94H742.87ZM745.03 702.18H747.01V664.79H745.03ZM747.19 704.08H749.17V670H747.19ZM749.36 701.24H751.34V666.13H749.36ZM751.52 684.55H753.5V643.58H751.52ZM753.68 702.81H755.66V666.95H753.68ZM755.84 684.58H757.82V642.78H755.84ZM758.01 699.21H759.99V660.76H758.01ZM760.17 699.86H762.15V662.2H760.17ZM762.33 693.71H764.31V654.39H762.33ZM764.49 692.61H766.47V652.69H764.49ZM766.65 705.44H768.63V666.25H766.65ZM768.82 705.47H770.8V668.28H768.82ZM770.98 711.9H772.96V674.63H770.98ZM773.14 711.76H775.12V671.45H773.14ZM775.3 695.14H777.28V655.12H775.3ZM777.47 718.24H779.45V683.21H777.47ZM779.63 720.56H781.61V686.95H779.63ZM781.79 726.69H783.77V694.53H781.79ZM783.95 746.99H785.93V719.42H783.95ZM786.12 738.08H788.1V706.6H786.12ZM788.28 754.51H790.26V726.81H788.28ZM790.44 759.49H792.42V735.53H790.44ZM792.6 766.35H794.58V740.95H792.6ZM794.77 773.71H796.75V750.67H794.77ZM796.93 771.54H798.91V747.07H796.93ZM799.09 782.23H801.07V760.96H799.09ZM801.25 787.73H803.23V767.71H801.25ZM803.42 786.6H805.4V765.95H803.42ZM805.58 793.16H807.56V773.6H805.58ZM807.74 792.68H809.72V772.6H807.74ZM809.9 801.19H811.88V784.66H809.9ZM812.07 801.7H814.05V783.76H812.07ZM814.23 803.88H816.21V787.37H814.23ZM816.39 810.57H818.37V796.26H816.39ZM818.55 813.73H820.53V799.32H818.55ZM820.71 815.12H822.69V802.1H820.71ZM822.88 817.34H824.86V805.22H822.88ZM825.04 821.13H827.02V809.31H825.04ZM827.2 825.46H829.18V815.69H827.2ZM829.36 827.63H831.34V818.56H829.36ZM831.53 828.31H833.51V819.5H831.53ZM833.69 830.82H835.67V823.66H833.69ZM835.85 833.83H837.83V827.55H835.85ZM838.01 836.25H839.99V831.1H838.01ZM840.18 836.49H842.16V830.92H840.18ZM842.34 838.08H844.32V832.97H842.34ZM844.5 839.31H846.48V834.25H844.5ZM846.66 839.9H848.64V835.06H846.66ZM848.83 841.01H850.81V836.14H848.83ZM850.99 842.1H852.97V837.72H850.99ZM853.15 842.97H855.13V839.04H853.15ZM855.31 843.72H857.29V840.38H855.31ZM857.48 844.84H859.46V842.03H857.48ZM859.64 845.81H861.62V843.46H859.64ZM861.8 846.09H863.78V844.24H861.8ZM863.96 846.33H865.94V844.82H863.96ZM866.13 846.46H868.11V845.14H866.13ZM868.29 846.76H870.27V845.86H868.29ZM870.45 847.09H872.43V846.57H870.45ZM872.61 847.27H874.59V846.8H872.61ZM874.77 847.46H876.75V847.04H874.77ZM876.94 847.65H878.92V847.31H876.94ZM879.1 847.88H881.08V847.6H879.1ZM881.26 848.07H883.24V847.84H881.26ZM883.42 848.14H885.4V847.91H883.42ZM885.59 848.27H887.57V848.09H885.59ZM887.75 848.34H889.73V848.17H887.75ZM889.91 848.43H891.89V848.3H889.91ZM892.07 848.54H894.05V848.44H892.07ZM894.24 848.57H896.22V848.48H894.24ZM896.4 848.62H898.38V848.55H896.4ZM898.56 848.68H900.54V848.62H898.56ZM900.72 848.73H902.7V848.69H900.72ZM902.89 848.77H904.87V848.74H902.89ZM905.05 848.79H907.03V848.76H905.05ZM907.21 848.8H909.19V848.77H907.21ZM909.37 848.81H911.35V848.79H909.37ZM911.54 848.82H913.52V848.8H911.54ZM913.7 848.84H915.68V848.83H913.7ZM915.86 848.85H917.84V848.84H915.86ZM918.02 848.86H919.73V848.85H918.02Z" fill="#EF8432"/>
<path d="M707.8 634.3V848.9H919.8" fill="none" stroke="#444" stroke-width="0.9"/>
<text x="696.3" y="854.7" font-size="16.4" text-anchor="end" textLength="9.71" lengthAdjust="spacingAndGlyphs"  >0</text>
<text x="696.3" y="776.95" font-size="16.4" text-anchor="end" textLength="9.71" lengthAdjust="spacingAndGlyphs"  >5</text>
<text x="696.3" y="699.2" font-size="16.4" text-anchor="end" textLength="19.43" lengthAdjust="spacingAndGlyphs"  >10</text>
<text x="707.8" y="871.7" font-size="16.4" text-anchor="middle" textLength="9.71" lengthAdjust="spacingAndGlyphs"  >0</text>
<text x="760.8" y="871.7" font-size="16.4" text-anchor="middle" textLength="33.99" lengthAdjust="spacingAndGlyphs"  >0.25</text>
<text x="813.8" y="871.7" font-size="16.4" text-anchor="middle" textLength="33.99" lengthAdjust="spacingAndGlyphs"  >0.50</text>
<text x="866.8" y="871.7" font-size="16.4" text-anchor="middle" textLength="33.99" lengthAdjust="spacingAndGlyphs"  >0.75</text>
<text x="919.8" y="871.7" font-size="16.4" text-anchor="middle" textLength="33.99" lengthAdjust="spacingAndGlyphs"  >1.00</text>
<path d="M705 848.9H707.8M705 771.15H707.8M705 693.4H707.8M707.8 848.9V851.7M760.8 848.9V851.7M813.8 848.9V851.7M866.8 848.9V851.7M919.8 848.9V851.7" stroke="#444" stroke-width="0.9" fill="none"/>
<text x="783" y="651.8" font-size="16.6" text-anchor="start" textLength="86.46" lengthAdjust="spacingAndGlyphs" font-style="italic" >Rh. marina</text>
<path d="M1005.27 848.9H1007.25V797.4H1005.27ZM1007.43 848.9H1009.41V792.63H1007.43ZM1009.59 848.9H1011.57V776.34H1009.59ZM1011.76 848.9H1013.74V776.52H1011.76ZM1013.92 848.9H1015.9V790.65H1013.92ZM1016.08 848.9H1018.06V816.05H1016.08ZM1018.24 848.9H1020.22V821.01H1018.24ZM1020.41 848.9H1022.39V827.11H1020.41ZM1022.57 848.9H1024.55V832.6H1022.57ZM1024.73 848.9H1026.71V833.64H1024.73ZM1026.89 848.9H1028.87V835.4H1026.89ZM1029.06 848.9H1031.04V835.67H1029.06ZM1031.22 848.9H1033.2V835.99H1031.22ZM1033.38 848.9H1035.36V835.59H1033.38ZM1035.54 848.9H1037.52V836.19H1035.54ZM1037.71 848.9H1039.69V838.66H1037.71ZM1039.87 848.9H1041.85V839.14H1039.87ZM1042.03 848.9H1044.01V838.16H1042.03ZM1044.19 848.9H1046.17V838.88H1044.19ZM1046.36 848.9H1048.34V839.14H1046.36ZM1048.52 848.9H1050.5V838.72H1048.52ZM1050.68 848.9H1052.66V838.53H1050.68ZM1052.84 848.9H1054.82V837.83H1052.84ZM1055.01 848.9H1056.99V837.31H1055.01ZM1057.17 848.9H1059.15V838.8H1057.17ZM1059.33 848.9H1061.31V838.21H1059.33ZM1061.49 848.9H1063.47V838.03H1061.49ZM1063.65 848.9H1065.63V837.58H1063.65ZM1065.82 848.9H1067.8V838.07H1065.82ZM1067.98 848.9H1069.96V837.63H1067.98ZM1070.14 848.9H1072.12V839.04H1070.14ZM1072.3 848.9H1074.28V839.46H1072.3ZM1074.47 848.9H1076.45V839.37H1074.47ZM1076.63 848.9H1078.61V840.14H1076.63ZM1078.79 848.9H1080.77V841.17H1078.79ZM1080.95 848.9H1082.93V841.6H1080.95ZM1083.12 848.9H1085.1V841.6H1083.12ZM1085.28 848.9H1087.26V842.69H1085.28ZM1087.44 848.9H1089.42V842.89H1087.44ZM1089.6 848.9H1091.58V843.57H1089.6ZM1091.77 848.9H1093.75V844H1091.77ZM1093.93 848.9H1095.91V844.27H1093.93ZM1096.09 848.9H1098.07V844.59H1096.09ZM1098.25 848.9H1100.23V845.01H1098.25ZM1100.42 848.9H1102.4V845.82H1100.42ZM1102.58 848.9H1104.56V846.62H1102.58ZM1104.74 848.9H1106.72V847.24H1104.74ZM1106.9 848.9H1108.88V847.8H1106.9ZM1109.07 848.9H1111.05V847.96H1109.07ZM1111.23 848.9H1113.21V848.23H1111.23ZM1113.39 848.9H1115.37V848.5H1113.39ZM1115.55 848.9H1117.53V848.67H1115.55ZM1117.71 848.9H1119.69V848.83H1117.71ZM1119.88 848.9H1121.86V848.85H1119.88ZM1122.04 848.9H1124.02V848.88H1122.04Z" fill="#D2352B"/>
<path d="M1005.27 797.4H1007.25V777.49H1005.27ZM1007.43 792.63H1009.41V764.19H1007.43ZM1009.59 776.34H1011.57V755.48H1009.59ZM1011.76 776.52H1013.74V757.45H1011.76ZM1013.92 790.65H1015.9V770.71H1013.92ZM1016.08 816.05H1018.06V790.64H1016.08ZM1018.24 821.01H1020.22V797.19H1018.24ZM1020.41 827.11H1022.39V807.78H1020.41ZM1022.57 832.6H1024.55V816.13H1022.57ZM1024.73 833.64H1026.71V817.63H1024.73ZM1026.89 835.4H1028.87V822.45H1026.89ZM1029.06 835.67H1031.04V820.52H1029.06ZM1031.22 835.99H1033.2V821.49H1031.22ZM1033.38 835.59H1035.36V820.26H1033.38ZM1035.54 836.19H1037.52V819.28H1035.54ZM1037.71 838.66H1039.69V822.9H1037.71ZM1039.87 839.14H1041.85V822.73H1039.87ZM1042.03 838.16H1044.01V820.69H1042.03ZM1044.19 838.88H1046.17V821.57H1044.19ZM1046.36 839.14H1048.34V820.82H1046.36ZM1048.52 838.72H1050.5V819.89H1048.52ZM1050.68 838.53H1052.66V819.66H1050.68ZM1052.84 837.83H1054.82V818.32H1052.84ZM1055.01 837.31H1056.99V814.4H1055.01ZM1057.17 838.8H1059.15V819.7H1057.17ZM1059.33 838.21H1061.31V818.08H1059.33ZM1061.49 838.03H1063.47V818.53H1061.49ZM1063.65 837.58H1065.63V816.88H1063.65ZM1065.82 838.07H1067.8V818.76H1065.82ZM1067.98 837.63H1069.96V817.57H1067.98ZM1070.14 839.04H1072.12V818.71H1070.14ZM1072.3 839.46H1074.28V819.66H1072.3ZM1074.47 839.37H1076.45V820.5H1074.47ZM1076.63 840.14H1078.61V821.91H1076.63ZM1078.79 841.17H1080.77V824.79H1078.79ZM1080.95 841.6H1082.93V826.75H1080.95ZM1083.12 841.6H1085.1V826.37H1083.12ZM1085.28 842.69H1087.26V829.13H1085.28ZM1087.44 842.89H1089.42V831.68H1087.44ZM1089.6 843.57H1091.58V832.93H1089.6ZM1091.77 844H1093.75V834.64H1091.77ZM1093.93 844.27H1095.91V836.19H1093.93ZM1096.09 844.59H1098.07V837.36H1096.09ZM1098.25 845.01H1100.23V838.84H1098.25ZM1100.42 845.82H1102.4V840.65H1100.42ZM1102.58 846.62H1104.56V842.54H1102.58ZM1104.74 847.24H1106.72V844.37H1104.74ZM1106.9 847.8H1108.88V846.01H1106.9ZM1109.07 847.96H1111.05V846.46H1109.07ZM1111.23 848.23H1113.21V847.31H1111.23ZM1113.39 848.5H1115.37V848.11H1113.39ZM1115.55 848.67H1117.53V848.42H1115.55ZM1117.71 848.83H1119.69V848.73H1117.71ZM1119.88 848.85H1121.86V848.78H1119.88ZM1122.04 848.88H1124.02V848.84H1122.04Z" fill="#477DB4"/>
<path d="M1005.27 777.49H1007.25V742.97H1005.27ZM1007.43 764.19H1009.41V736.48H1007.43ZM1009.59 755.48H1011.57V706.06H1009.59ZM1011.76 757.45H1013.74V711.76H1011.76ZM1013.92 770.71H1015.9V727.37H1013.92ZM1016.08 790.64H1018.06V755.92H1016.08ZM1018.24 797.19H1020.22V761.17H1018.24ZM1020.41 807.78H1022.39V779.09H1020.41ZM1022.57 816.13H1024.55V792.63H1022.57ZM1024.73 817.63H1026.71V796.75H1024.73ZM1026.89 822.45H1028.87V805.79H1026.89ZM1029.06 820.52H1031.04V802.84H1029.06ZM1031.22 821.49H1033.2V804.12H1031.22ZM1033.38 820.26H1035.36V803.74H1033.38ZM1035.54 819.28H1037.52V802.45H1035.54ZM1037.71 822.9H1039.69V807.81H1037.71ZM1039.87 822.73H1041.85V808.44H1039.87ZM1042.03 820.69H1044.01V805.01H1042.03ZM1044.19 821.57H1046.17V805H1044.19ZM1046.36 820.82H1048.34V804.6H1046.36ZM1048.52 819.89H1050.5V801.86H1048.52ZM1050.68 819.66H1052.66V801.72H1050.68ZM1052.84 818.32H1054.82V800.21H1052.84ZM1055.01 814.4H1056.99V793.26H1055.01ZM1057.17 819.7H1059.15V800.24H1057.17ZM1059.33 818.08H1061.31V799.02H1059.33ZM1061.49 818.53H1063.47V798.53H1061.49ZM1063.65 816.88H1065.63V798.21H1063.65ZM1065.82 818.76H1067.8V800H1065.82ZM1067.98 817.57H1069.96V798.74H1067.98ZM1070.14 818.71H1072.12V799.24H1070.14ZM1072.3 819.66H1074.28V803.12H1072.3ZM1074.47 820.5H1076.45V806.01H1074.47ZM1076.63 821.91H1078.61V809.47H1076.63ZM1078.79 824.79H1080.77V813.6H1078.79ZM1080.95 826.75H1082.93V814.24H1080.95ZM1083.12 826.37H1085.1V814.37H1083.12ZM1085.28 829.13H1087.26V818.82H1085.28ZM1087.44 831.68H1089.42V821.94H1087.44ZM1089.6 832.93H1091.58V824.04H1089.6ZM1091.77 834.64H1093.75V826.98H1091.77ZM1093.93 836.19H1095.91V829.55H1093.93ZM1096.09 837.36H1098.07V831.44H1096.09ZM1098.25 838.84H1100.23V834.3H1098.25ZM1100.42 840.65H1102.4V837.27H1100.42ZM1102.58 842.54H1104.56V840.22H1102.58ZM1104.74 844.37H1106.72V842.56H1104.74ZM1106.9 846.01H1108.88V844.94H1106.9ZM1109.07 846.46H1111.05V845.57H1109.07ZM1111.23 847.31H1113.21V846.64H1111.23ZM1113.39 848.11H1115.37V847.71H1113.39ZM1115.55 848.42H1117.53V848.2H1115.55ZM1117.71 848.73H1119.69V848.66H1117.71ZM1119.88 848.78H1121.86V848.74H1119.88ZM1122.04 848.84H1124.02V848.82H1122.04Z" fill="#62A956"/>
<path d="M1005.27 742.97H1007.25V717.32H1005.27ZM1007.43 736.48H1009.41V711.05H1007.43ZM1009.59 706.06H1011.57V676.99H1009.59ZM1011.76 711.76H1013.74V679.13H1011.76ZM1013.92 727.37H1015.9V702.11H1013.92ZM1016.08 755.92H1018.06V736.04H1016.08ZM1018.24 761.17H1020.22V745.34H1018.24ZM1020.41 779.09H1022.39V763.61H1020.41ZM1022.57 792.63H1024.55V778.77H1022.57ZM1024.73 796.75H1026.71V781H1024.73ZM1026.89 805.79H1028.87V790.12H1026.89ZM1029.06 802.84H1031.04V786.95H1029.06ZM1031.22 804.12H1033.2V787.17H1031.22ZM1033.38 803.74H1035.36V785.53H1033.38ZM1035.54 802.45H1037.52V784.64H1035.54ZM1037.71 807.81H1039.69V790.65H1037.71ZM1039.87 808.44H1041.85V791.68H1039.87ZM1042.03 805.01H1044.01V786.91H1042.03ZM1044.19 805H1046.17V786.71H1044.19ZM1046.36 804.6H1048.34V785.59H1046.36ZM1048.52 801.86H1050.5V782.61H1048.52ZM1050.68 801.72H1052.66V782.89H1050.68ZM1052.84 800.21H1054.82V780.1H1052.84ZM1055.01 793.26H1056.99V772.19H1055.01ZM1057.17 800.24H1059.15V781.68H1057.17ZM1059.33 799.02H1061.31V781.18H1059.33ZM1061.49 798.53H1063.47V780.25H1061.49ZM1063.65 798.21H1065.63V779.84H1063.65ZM1065.82 800H1067.8V782.43H1065.82ZM1067.98 798.74H1069.96V780.47H1067.98ZM1070.14 799.24H1072.12V782.05H1070.14ZM1072.3 803.12H1074.28V786.44H1072.3ZM1074.47 806.01H1076.45V789.84H1074.47ZM1076.63 809.47H1078.61V794.1H1076.63ZM1078.79 813.6H1080.77V802.25H1078.79ZM1080.95 814.24H1082.93V804.41H1080.95ZM1083.12 814.37H1085.1V805.19H1083.12ZM1085.28 818.82H1087.26V810.54H1085.28ZM1087.44 821.94H1089.42V814.46H1087.44ZM1089.6 824.04H1091.58V816.57H1089.6ZM1091.77 826.98H1093.75V820.24H1091.77ZM1093.93 829.55H1095.91V823.82H1093.93ZM1096.09 831.44H1098.07V827.07H1096.09ZM1098.25 834.3H1100.23V831.31H1098.25ZM1100.42 837.27H1102.4V834.64H1100.42ZM1102.58 840.22H1104.56V837.85H1102.58ZM1104.74 842.56H1106.72V840.88H1104.74ZM1106.9 844.94H1108.88V843.76H1106.9ZM1109.07 845.57H1111.05V844.65H1109.07ZM1111.23 846.64H1113.21V846.03H1111.23ZM1113.39 847.71H1115.37V847.33H1113.39ZM1115.55 848.2H1117.53V847.98H1115.55ZM1117.71 848.66H1119.69V848.6H1117.71ZM1119.88 848.74H1121.86V848.7H1119.88ZM1122.04 848.82H1124.02V848.8H1122.04Z" fill="#8C529F"/>
<path d="M1005.27 717.32H1007.25V701.1H1005.27ZM1007.43 711.05H1009.41V693.25H1007.43ZM1009.59 676.99H1011.57V642.65H1009.59ZM1011.76 679.13H1013.74V642.89H1011.76ZM1013.92 702.11H1015.9V665.45H1013.92ZM1016.08 736.04H1018.06V705.45H1016.08ZM1018.24 745.34H1020.22V723.38H1018.24ZM1020.41 763.61H1022.39V741.57H1020.41ZM1022.57 778.77H1024.55V755.72H1022.57ZM1024.73 781H1026.71V757.23H1024.73ZM1026.89 790.12H1028.87V769.15H1026.89ZM1029.06 786.95H1031.04V765.57H1029.06ZM1031.22 787.17H1033.2V766.26H1031.22ZM1033.38 785.53H1035.36V764.44H1033.38ZM1035.54 784.64H1037.52V764.68H1035.54ZM1037.71 790.65H1039.69V772.6H1037.71ZM1039.87 791.68H1041.85V773.42H1039.87ZM1042.03 786.91H1044.01V766.13H1042.03ZM1044.19 786.71H1046.17V763.93H1044.19ZM1046.36 785.59H1048.34V764.26H1046.36ZM1048.52 782.61H1050.5V757.98H1048.52ZM1050.68 782.89H1052.66V760.92H1050.68ZM1052.84 780.1H1054.82V757.97H1052.84ZM1055.01 772.19H1056.99V748.91H1055.01ZM1057.17 781.68H1059.15V761.64H1057.17ZM1059.33 781.18H1061.31V763.09H1059.33ZM1061.49 780.25H1063.47V762.77H1061.49ZM1063.65 779.84H1065.63V762.08H1063.65ZM1065.82 782.43H1067.8V764.18H1065.82ZM1067.98 780.47H1069.96V763.02H1067.98ZM1070.14 782.05H1072.12V764.6H1070.14ZM1072.3 786.44H1074.28V769.42H1072.3ZM1074.47 789.84H1076.45V773.57H1074.47ZM1076.63 794.1H1078.61V779.09H1076.63ZM1078.79 802.25H1080.77V791.8H1078.79ZM1080.95 804.41H1082.93V796.9H1080.95ZM1083.12 805.19H1085.1V797.98H1083.12ZM1085.28 810.54H1087.26V804.72H1085.28ZM1087.44 814.46H1089.42V810.22H1087.44ZM1089.6 816.57H1091.58V813.38H1089.6ZM1091.77 820.24H1093.75V818.08H1091.77ZM1093.93 823.82H1095.91V821.81H1093.93ZM1096.09 827.07H1098.07V825.18H1096.09ZM1098.25 831.31H1100.23V829.87H1098.25ZM1100.42 834.64H1102.4V833.14H1100.42ZM1102.58 837.85H1104.56V836.31H1102.58ZM1104.74 840.88H1106.72V839.71H1104.74ZM1106.9 843.76H1108.88V842.98H1106.9ZM1109.07 844.65H1111.05V844H1109.07ZM1111.23 846.03H1113.21V845.51H1111.23ZM1113.39 847.33H1115.37V846.93H1113.39ZM1115.55 847.98H1117.53V847.76H1115.55ZM1117.71 848.6H1119.69V848.52H1117.71ZM1119.88 848.7H1121.86V848.64H1119.88ZM1122.04 848.8H1124.02V848.77H1122.04Z" fill="#EF8432"/>
<path d="M1004.8 636.6V848.9H1216.8" fill="none" stroke="#444" stroke-width="0.9"/>
<text x="993.3" y="854.7" font-size="16.4" text-anchor="end" textLength="9.71" lengthAdjust="spacingAndGlyphs"  >0</text>
<text x="993.3" y="778.4" font-size="16.4" text-anchor="end" textLength="19.43" lengthAdjust="spacingAndGlyphs"  >10</text>
<text x="993.3" y="702.1" font-size="16.4" text-anchor="end" textLength="19.43" lengthAdjust="spacingAndGlyphs"  >20</text>
<text x="1004.8" y="871.7" font-size="16.4" text-anchor="middle" textLength="9.71" lengthAdjust="spacingAndGlyphs"  >0</text>
<text x="1057.8" y="871.7" font-size="16.4" text-anchor="middle" textLength="33.99" lengthAdjust="spacingAndGlyphs"  >0.25</text>
<text x="1110.8" y="871.7" font-size="16.4" text-anchor="middle" textLength="33.99" lengthAdjust="spacingAndGlyphs"  >0.50</text>
<text x="1163.8" y="871.7" font-size="16.4" text-anchor="middle" textLength="33.99" lengthAdjust="spacingAndGlyphs"  >0.75</text>
<text x="1216.8" y="871.7" font-size="16.4" text-anchor="middle" textLength="33.99" lengthAdjust="spacingAndGlyphs"  >1.00</text>
<path d="M1002 848.9H1004.8M1002 772.6H1004.8M1002 696.3H1004.8M1004.8 848.9V851.7M1057.8 848.9V851.7M1110.8 848.9V851.7M1163.8 848.9V851.7M1216.8 848.9V851.7" stroke="#444" stroke-width="0.9" fill="none"/>
<text x="1043" y="651.8" font-size="16.6" text-anchor="start" textLength="79.58" lengthAdjust="spacingAndGlyphs" font-style="italic" >O. pumilio</text>
<path d="M132.07 1112.6H134.05V1109.28H132.07ZM134.23 1112.6H136.21V1106.48H134.23ZM136.39 1112.6H138.37V1104.49H136.39ZM138.56 1112.6H140.54V1102.34H138.56ZM140.72 1112.6H142.7V1101.16H140.72ZM142.88 1112.6H144.86V1098.02H142.88ZM145.04 1112.6H147.02V1096.82H145.04ZM147.21 1112.6H149.19V1095.82H147.21ZM149.37 1112.6H151.35V1093.51H149.37ZM151.53 1112.6H153.51V1091.32H151.53ZM153.69 1112.6H155.67V1085.74H153.69ZM155.86 1112.6H157.84V1089.3H155.86ZM158.02 1112.6H160V1080.59H158.02ZM160.18 1112.6H162.16V1083.81H160.18ZM162.34 1112.6H164.32V1083.29H162.34ZM164.51 1112.6H166.49V1076.5H164.51ZM166.67 1112.6H168.65V1076.17H166.67ZM168.83 1112.6H170.81V1075.54H168.83ZM170.99 1112.6H172.97V1075.65H170.99ZM173.16 1112.6H175.14V1071.68H173.16ZM175.32 1112.6H177.3V1068.77H175.32ZM177.48 1112.6H179.46V1071.05H177.48ZM179.64 1112.6H181.62V1069.14H179.64ZM181.81 1112.6H183.79V1072.71H181.81ZM183.97 1112.6H185.95V1071.16H183.97ZM186.13 1112.6H188.11V1071.22H186.13ZM188.29 1112.6H190.27V1071.56H188.29ZM190.45 1112.6H192.43V1073.82H190.45ZM192.62 1112.6H194.6V1074.6H192.62ZM194.78 1112.6H196.76V1073.7H194.78ZM196.94 1112.6H198.92V1076.58H196.94ZM199.1 1112.6H201.08V1076.08H199.1ZM201.27 1112.6H203.25V1078.74H201.27ZM203.43 1112.6H205.41V1078.26H203.43ZM205.59 1112.6H207.57V1084.22H205.59ZM207.75 1112.6H209.73V1087.02H207.75ZM209.92 1112.6H211.9V1083.55H209.92ZM212.08 1112.6H214.06V1089.18H212.08ZM214.24 1112.6H216.22V1091.43H214.24ZM216.4 1112.6H218.38V1092.4H216.4ZM218.57 1112.6H220.55V1093.72H218.57ZM220.73 1112.6H222.71V1095.88H220.73ZM222.89 1112.6H224.87V1098.87H222.89ZM225.05 1112.6H227.03V1099.24H225.05ZM227.22 1112.6H229.2V1102.22H227.22ZM229.38 1112.6H231.36V1103.82H229.38ZM231.54 1112.6H233.52V1104.97H231.54ZM233.7 1112.6H235.68V1106.05H233.7ZM235.87 1112.6H237.85V1106.56H235.87ZM238.03 1112.6H240.01V1107.79H238.03ZM240.19 1112.6H242.17V1108.63H240.19ZM242.35 1112.6H244.33V1109.08H242.35ZM244.51 1112.6H246.49V1109.58H244.51ZM246.68 1112.6H248.66V1110.14H246.68ZM248.84 1112.6H250.82V1110.58H248.84ZM251 1112.6H252.98V1111.06H251ZM253.16 1112.6H255.14V1111.26H253.16ZM255.33 1112.6H257.31V1111.44H255.33ZM257.49 1112.6H259.47V1111.6H257.49ZM259.65 1112.6H261.63V1111.76H259.65ZM261.81 1112.6H263.79V1111.98H261.81ZM263.98 1112.6H265.96V1112H263.98ZM266.14 1112.6H268.12V1112.07H266.14ZM268.3 1112.6H270.28V1112.14H268.3ZM270.46 1112.6H272.44V1112.2H270.46ZM272.63 1112.6H274.61V1112.27H272.63ZM274.79 1112.6H276.77V1112.3H274.79ZM276.95 1112.6H278.93V1112.33H276.95ZM279.11 1112.6H281.09V1112.39H279.11ZM281.28 1112.6H283.26V1112.41H281.28ZM283.44 1112.6H285.42V1112.47H283.44ZM285.6 1112.6H287.58V1112.47H285.6ZM287.76 1112.6H289.74V1112.5H287.76ZM289.93 1112.6H291.91V1112.52H289.93ZM292.09 1112.6H294.07V1112.53H292.09ZM294.25 1112.6H296.23V1112.56H294.25ZM296.41 1112.6H298.39V1112.56H296.41ZM298.57 1112.6H300.55V1112.55H298.57ZM300.74 1112.6H302.72V1112.55H300.74ZM302.9 1112.6H304.88V1112.55H302.9ZM305.06 1112.6H307.04V1112.55H305.06ZM307.22 1112.6H309.2V1112.55H307.22ZM309.39 1112.6H311.37V1112.55H309.39ZM311.55 1112.6H313.53V1112.56H311.55ZM313.71 1112.6H315.69V1112.56H313.71ZM315.87 1112.6H317.85V1112.56H315.87ZM318.04 1112.6H320.02V1112.56H318.04ZM320.2 1112.6H322.18V1112.55H320.2ZM322.36 1112.6H324.34V1112.55H322.36ZM324.52 1112.6H326.5V1112.55H324.52ZM326.69 1112.6H328.67V1112.55H326.69ZM328.85 1112.6H330.83V1112.55H328.85ZM331.01 1112.6H332.99V1112.56H331.01ZM333.17 1112.6H335.15V1112.56H333.17ZM335.34 1112.6H337.32V1112.55H335.34ZM337.5 1112.6H339.48V1112.55H337.5ZM339.66 1112.6H341.64V1112.55H339.66ZM341.82 1112.6H343.53V1112.56H341.82Z" fill="#D2352B"/>
<path d="M132.07 1109.28H134.05V1103.27H132.07ZM134.23 1106.48H136.21V1095.57H134.23ZM136.39 1104.49H138.37V1089.07H136.39ZM138.56 1102.34H140.54V1085.77H138.56ZM140.72 1101.16H142.7V1084.32H140.72ZM142.88 1098.02H144.86V1079.02H142.88ZM145.04 1096.82H147.02V1076.84H145.04ZM147.21 1095.82H149.19V1075.17H147.21ZM149.37 1093.51H151.35V1071.69H149.37ZM151.53 1091.32H153.51V1066.47H151.53ZM153.69 1085.74H155.67V1058.35H153.69ZM155.86 1089.3H157.84V1063.18H155.86ZM158.02 1080.59H160V1047.29H158.02ZM160.18 1083.81H162.16V1051.94H160.18ZM162.34 1083.29H164.32V1050.18H162.34ZM164.51 1076.5H166.49V1036.84H164.51ZM166.67 1076.17H168.65V1039.86H166.67ZM168.83 1075.54H170.81V1034.49H168.83ZM170.99 1075.65H172.97V1039.96H170.99ZM173.16 1071.68H175.14V1030.28H173.16ZM175.32 1068.77H177.3V1025.93H175.32ZM177.48 1071.05H179.46V1028.82H177.48ZM179.64 1069.14H181.62V1024.93H179.64ZM181.81 1072.71H183.79V1034.82H181.81ZM183.97 1071.16H185.95V1031.58H183.97ZM186.13 1071.22H188.11V1034.04H186.13ZM188.29 1071.56H190.27V1033.48H188.29ZM190.45 1073.82H192.43V1036.83H190.45ZM192.62 1074.6H194.6V1036.51H192.62ZM194.78 1073.7H196.76V1033.15H194.78ZM196.94 1076.58H198.92V1038.91H196.94ZM199.1 1076.08H201.08V1035.8H199.1ZM201.27 1078.74H203.25V1044.03H201.27ZM203.43 1078.26H205.41V1044.01H203.43ZM205.59 1084.22H207.57V1055.12H205.59ZM207.75 1087.02H209.73V1059.05H207.75ZM209.92 1083.55H211.9V1055.29H209.92ZM212.08 1089.18H214.06V1064.85H212.08ZM214.24 1091.43H216.22V1067.28H214.24ZM216.4 1092.4H218.38V1069.87H216.4ZM218.57 1093.72H220.55V1072.12H218.57ZM220.73 1095.88H222.71V1075.5H220.73ZM222.89 1098.87H224.87V1082.08H222.89ZM225.05 1099.24H227.03V1082.51H225.05ZM227.22 1102.22H229.2V1087.27H227.22ZM229.38 1103.82H231.36V1091.5H229.38ZM231.54 1104.97H233.52V1094.18H231.54ZM233.7 1106.05H235.68V1095.51H233.7ZM235.87 1106.56H237.85V1097.24H235.87ZM238.03 1107.79H240.01V1100.23H238.03ZM240.19 1108.63H242.17V1102.38H240.19ZM242.35 1109.08H244.33V1103.44H242.35ZM244.51 1109.58H246.49V1104.47H244.51ZM246.68 1110.14H248.66V1105.75H246.68ZM248.84 1110.58H250.82V1106.95H248.84ZM251 1111.06H252.98V1108.11H251ZM253.16 1111.26H255.14V1108.64H253.16ZM255.33 1111.44H257.31V1109.15H255.33ZM257.49 1111.6H259.47V1109.56H257.49ZM259.65 1111.76H261.63V1110.23H259.65ZM261.81 1111.98H263.79V1110.73H261.81ZM263.98 1112H265.96V1110.82H263.98ZM266.14 1112.07H268.12V1111.04H266.14ZM268.3 1112.14H270.28V1111.34H268.3ZM270.46 1112.2H272.44V1111.56H270.46ZM272.63 1112.27H274.61V1111.75H272.63ZM274.79 1112.3H276.77V1111.88H274.79ZM276.95 1112.33H278.93V1111.93H276.95ZM279.11 1112.39H281.09V1112.06H279.11ZM281.28 1112.41H283.26V1112.12H281.28ZM283.44 1112.47H285.42V1112.26H283.44ZM285.6 1112.47H287.58V1112.28H285.6ZM287.76 1112.5H289.74V1112.34H287.76ZM289.93 1112.52H291.91V1112.4H289.93ZM292.09 1112.53H294.07V1112.44H292.09ZM294.25 1112.56H296.23V1112.49H294.25ZM296.41 1112.56H298.39V1112.49H296.41ZM298.57 1112.55H300.55V1112.49H298.57ZM300.74 1112.55H302.72V1112.49H300.74ZM302.9 1112.55H304.88V1112.49H302.9ZM305.06 1112.55H307.04V1112.48H305.06ZM307.22 1112.55H309.2V1112.48H307.22ZM309.39 1112.55H311.37V1112.48H309.39ZM311.55 1112.56H313.53V1112.49H311.55ZM313.71 1112.56H315.69V1112.49H313.71ZM315.87 1112.56H317.85V1112.49H315.87ZM318.04 1112.56H320.02V1112.49H318.04ZM320.2 1112.55H322.18V1112.49H320.2ZM322.36 1112.55H324.34V1112.48H322.36ZM324.52 1112.55H326.5V1112.49H324.52ZM326.69 1112.55H328.67V1112.48H326.69ZM328.85 1112.55H330.83V1112.49H328.85ZM331.01 1112.56H332.99V1112.49H331.01ZM333.17 1112.56H335.15V1112.49H333.17ZM335.34 1112.55H337.32V1112.48H335.34ZM337.5 1112.55H339.48V1112.48H337.5ZM339.66 1112.55H341.64V1112.48H339.66ZM341.82 1112.56H343.53V1112.49H341.82Z" fill="#477DB4"/>
<path d="M132.07 1103.27H134.05V1096.5H132.07ZM134.23 1095.57H136.21V1071.26H134.23ZM136.39 1089.07H138.37V1064.59H136.39ZM138.56 1085.77H140.54V1061.48H138.56ZM140.72 1084.32H142.7V1056.08H140.72ZM142.88 1079.02H144.86V1048.21H142.88ZM145.04 1076.84H147.02V1046.77H145.04ZM147.21 1075.17H149.19V1046.08H147.21ZM149.37 1071.69H151.35V1041.63H149.37ZM151.53 1066.47H153.51V1035.12H151.53ZM153.69 1058.35H155.67V1019.36H153.69ZM155.86 1063.18H157.84V1028.18H155.86ZM158.02 1047.29H160V1008.15H158.02ZM160.18 1051.94H162.16V1016.17H160.18ZM162.34 1050.18H164.32V1013.87H162.34ZM164.51 1036.84H166.49V997.05H164.51ZM166.67 1039.86H168.65V1004.23H166.67ZM168.83 1034.49H170.81V993.78H168.83ZM170.99 1039.96H172.97V1004.51H170.99ZM173.16 1030.28H175.14V991.34H173.16ZM175.32 1025.93H177.3V986.48H175.32ZM177.48 1028.82H179.46V989.4H177.48ZM179.64 1024.93H181.62V981.9H179.64ZM181.81 1034.82H183.79V999.22H181.81ZM183.97 1031.58H185.95V995.16H183.97ZM186.13 1034.04H188.11V998.6H186.13ZM188.29 1033.48H190.27V998.7H188.29ZM190.45 1036.83H192.43V1002.15H190.45ZM192.62 1036.51H194.6V1002.27H192.62ZM194.78 1033.15H196.76V997.66H194.78ZM196.94 1038.91H198.92V1007.87H196.94ZM199.1 1035.8H201.08V1001.01H199.1ZM201.27 1044.03H203.25V1012.47H201.27ZM203.43 1044.01H205.41V1010.84H203.43ZM205.59 1055.12H207.57V1027.26H205.59ZM207.75 1059.05H209.73V1031.93H207.75ZM209.92 1055.29H211.9V1026.8H209.92ZM212.08 1064.85H214.06V1042.41H212.08ZM214.24 1067.28H216.22V1043.7H214.24ZM216.4 1069.87H218.38V1049.52H216.4ZM218.57 1072.12H220.55V1053.04H218.57ZM220.73 1075.5H222.71V1058.17H220.73ZM222.89 1082.08H224.87V1067.3H222.89ZM225.05 1082.51H227.03V1068.69H225.05ZM227.22 1087.27H229.2V1075.44H227.22ZM229.38 1091.5H231.36V1081.79H229.38ZM231.54 1094.18H233.52V1084.96H231.54ZM233.7 1095.51H235.68V1087.64H233.7ZM235.87 1097.24H237.85V1090.24H235.87ZM238.03 1100.23H240.01V1094.03H238.03ZM240.19 1102.38H242.17V1097.26H240.19ZM242.35 1103.44H244.33V1098.53H242.35ZM244.51 1104.47H246.49V1100.11H244.51ZM246.68 1105.75H248.66V1101.92H246.68ZM248.84 1106.95H250.82V1103.73H248.84ZM251 1108.11H252.98V1105.59H251ZM253.16 1108.64H255.14V1106.28H253.16ZM255.33 1109.15H257.31V1107.25H255.33ZM257.49 1109.56H259.47V1107.87H257.49ZM259.65 1110.23H261.63V1109.01H259.65ZM261.81 1110.73H263.79V1109.84H261.81ZM263.98 1110.82H265.96V1110.06H263.98ZM266.14 1111.04H268.12V1110.38H266.14ZM268.3 1111.34H270.28V1110.78H268.3ZM270.46 1111.56H272.44V1111.12H270.46ZM272.63 1111.75H274.61V1111.44H272.63ZM274.79 1111.88H276.77V1111.61H274.79ZM276.95 1111.93H278.93V1111.66H276.95ZM279.11 1112.06H281.09V1111.86H279.11ZM281.28 1112.12H283.26V1111.95H281.28ZM283.44 1112.26H285.42V1112.14H283.44ZM285.6 1112.28H287.58V1112.17H285.6ZM287.76 1112.34H289.74V1112.24H287.76ZM289.93 1112.4H291.91V1112.32H289.93ZM292.09 1112.44H294.07V1112.37H292.09ZM294.25 1112.49H296.23V1112.45H294.25ZM296.41 1112.49H298.39V1112.45H296.41ZM298.57 1112.49H300.55V1112.44H298.57ZM300.74 1112.49H302.72V1112.44H300.74ZM302.9 1112.49H304.88V1112.44H302.9ZM305.06 1112.48H307.04V1112.44H305.06ZM307.22 1112.48H309.2V1112.44H307.22ZM309.39 1112.48H311.37V1112.44H309.39ZM311.55 1112.49H313.53V1112.44H311.55ZM313.71 1112.49H315.69V1112.45H313.71ZM315.87 1112.49H317.85V1112.45H315.87ZM318.04 1112.49H320.02V1112.45H318.04ZM320.2 1112.49H322.18V1112.45H320.2ZM322.36 1112.48H324.34V1112.43H322.36ZM324.52 1112.49H326.5V1112.44H324.52ZM326.69 1112.48H328.67V1112.44H326.69ZM328.85 1112.49H330.83V1112.44H328.85ZM331.01 1112.49H332.99V1112.45H331.01ZM333.17 1112.49H335.15V1112.44H333.17ZM335.34 1112.48H337.32V1112.44H335.34ZM337.5 1112.48H339.48V1112.44H337.5ZM339.66 1112.48H341.64V1112.44H339.66ZM341.82 1112.49H343.53V1112.45H341.82Z" fill="#62A956"/>
<path d="M132.07 1096.5H134.05V1089.85H132.07ZM134.23 1071.26H136.21V1063.59H134.23ZM136.39 1064.59H138.37V1056.67H136.39ZM138.56 1061.48H140.54V1050.25H138.56ZM140.72 1056.08H142.7V1042.44H140.72ZM142.88 1048.21H144.86V1030.74H142.88ZM145.04 1046.77H147.02V1027.3H145.04ZM147.21 1046.08H149.19V1024.97H147.21ZM149.37 1041.63H151.35V1017.6H149.37ZM151.53 1035.12H153.51V1007.36H151.53ZM153.69 1019.36H155.67V987.51H153.69ZM155.86 1028.18H157.84V1000.6H155.86ZM158.02 1008.15H160V974.39H158.02ZM160.18 1016.17H162.16V988.31H160.18ZM162.34 1013.87H164.32V984.93H162.34ZM164.51 997.05H166.49V963.88H164.51ZM166.67 1004.23H168.65V971.11H166.67ZM168.83 993.78H170.81V960.4H168.83ZM170.99 1004.51H172.97V973.18H170.99ZM173.16 991.34H175.14V960.13H173.16ZM175.32 986.48H177.3V950.61H175.32ZM177.48 989.4H179.46V954.42H177.48ZM179.64 981.9H181.62V940.78H179.64ZM181.81 999.22H183.79V961.49H181.81ZM183.97 995.16H185.95V956.78H183.97ZM186.13 998.6H188.11V958.26H186.13ZM188.29 998.7H190.27V963.24H188.29ZM190.45 1002.15H192.43V966.26H190.45ZM192.62 1002.27H194.6V968.87H192.62ZM194.78 997.66H196.76V963.92H194.78ZM196.94 1007.87H198.92V977.44H196.94ZM199.1 1001.01H201.08V969.67H199.1ZM201.27 1012.47H203.25V988.24H201.27ZM203.43 1010.84H205.41V986.09H203.43ZM205.59 1027.26H207.57V1008.16H205.59ZM207.75 1031.93H209.73V1015.53H207.75ZM209.92 1026.8H211.9V1010.34H209.92ZM212.08 1042.41H214.06V1028.63H212.08ZM214.24 1043.7H216.22V1030.41H214.24ZM216.4 1049.52H218.38V1037.54H216.4ZM218.57 1053.04H220.55V1041.93H218.57ZM220.73 1058.17H222.71V1048.1H220.73ZM222.89 1067.3H224.87V1058.53H222.89ZM225.05 1068.69H227.03V1060.43H225.05ZM227.22 1075.44H229.2V1068.96H227.22ZM229.38 1081.79H231.36V1076.05H229.38ZM231.54 1084.96H233.52V1079.66H231.54ZM233.7 1087.64H235.68V1082.68H233.7ZM235.87 1090.24H237.85V1085.44H235.87ZM238.03 1094.03H240.01V1089.8H238.03ZM240.19 1097.26H242.17V1093.35H240.19ZM242.35 1098.53H244.33V1094.97H242.35ZM244.51 1100.11H246.49V1097.01H244.51ZM246.68 1101.92H248.66V1099.27H246.68ZM248.84 1103.73H250.82V1101.28H248.84ZM251 1105.59H252.98V1103.74H251ZM253.16 1106.28H255.14V1104.43H253.16ZM255.33 1107.25H257.31V1105.72H255.33ZM257.49 1107.87H259.47V1106.41H257.49ZM259.65 1109.01H261.63V1107.83H259.65ZM261.81 1109.84H263.79V1108.84H261.81ZM263.98 1110.06H265.96V1109.18H263.98ZM266.14 1110.38H268.12V1109.66H266.14ZM268.3 1110.78H270.28V1110.2H268.3ZM270.46 1111.12H272.44V1110.67H270.46ZM272.63 1111.44H274.61V1111.13H272.63ZM274.79 1111.61H276.77V1111.35H274.79ZM276.95 1111.66H278.93V1111.43H276.95ZM279.11 1111.86H281.09V1111.67H279.11ZM281.28 1111.95H283.26V1111.78H281.28ZM283.44 1112.14H285.42V1112.02H283.44ZM285.6 1112.17H287.58V1112.05H285.6ZM287.76 1112.24H289.74V1112.16H287.76ZM289.93 1112.32H291.91V1112.25H289.93ZM292.09 1112.37H294.07V1112.32H292.09ZM294.25 1112.45H296.23V1112.41H294.25ZM296.41 1112.45H298.39V1112.41H296.41ZM298.57 1112.44H300.55V1112.4H298.57ZM300.74 1112.44H302.72V1112.4H300.74ZM302.9 1112.44H304.88V1112.4H302.9ZM305.06 1112.44H307.04V1112.4H305.06ZM307.22 1112.44H309.2V1112.4H307.22ZM309.39 1112.44H311.37V1112.4H309.39ZM311.55 1112.44H313.53V1112.4H311.55ZM313.71 1112.45H315.69V1112.4H313.71ZM315.87 1112.45H317.85V1112.41H315.87ZM318.04 1112.45H320.02V1112.41H318.04ZM320.2 1112.45H322.18V1112.41H320.2ZM322.36 1112.43H324.34V1112.39H322.36ZM324.52 1112.44H326.5V1112.4H324.52ZM326.69 1112.44H328.67V1112.4H326.69ZM328.85 1112.44H330.83V1112.41H328.85ZM331.01 1112.45H332.99V1112.41H331.01ZM333.17 1112.44H335.15V1112.4H333.17ZM335.34 1112.44H337.32V1112.4H335.34ZM337.5 1112.44H339.48V1112.39H337.5ZM339.66 1112.44H341.64V1112.4H339.66ZM341.82 1112.45H343.53V1112.41H341.82Z" fill="#8C529F"/>
<path d="M132.07 1089.85H134.05V1087.15H132.07ZM134.23 1063.59H136.21V1062.41H134.23ZM136.39 1056.67H138.37V1047.97H136.39ZM138.56 1050.25H140.54V1039.35H138.56ZM140.72 1042.44H142.7V1028.59H140.72ZM142.88 1030.74H144.86V1013.02H142.88ZM145.04 1027.3H147.02V1010.66H145.04ZM147.21 1024.97H149.19V1006.8H147.21ZM149.37 1017.6H151.35V999.5H149.37ZM151.53 1007.36H153.51V988.86H151.53ZM153.69 987.51H155.67V964.87H153.69ZM155.86 1000.6H157.84V978.71H155.86ZM158.02 974.39H160V946.58H158.02ZM160.18 988.31H162.16V962.19H160.18ZM162.34 984.93H164.32V957.11H162.34ZM164.51 963.88H166.49V931.86H164.51ZM166.67 971.11H168.65V939.43H166.67ZM168.83 960.4H170.81V925.78H168.83ZM170.99 973.18H172.97V941.63H170.99ZM173.16 960.13H175.14V923.96H173.16ZM175.32 950.61H177.3V909.58H175.32ZM177.48 954.42H179.46V916.17H177.48ZM179.64 940.78H181.62V898.07H179.64ZM181.81 961.49H183.79V922.12H181.81ZM183.97 956.78H185.95V918.05H183.97ZM186.13 958.26H188.11V919.52H186.13ZM188.29 963.24H190.27V925.54H188.29ZM190.45 966.26H192.43V928.03H190.45ZM192.62 968.87H194.6V930.39H192.62ZM194.78 963.92H196.76V925.1H194.78ZM196.94 977.44H198.92V940.55H196.94ZM199.1 969.67H201.08V931.22H199.1ZM201.27 988.24H203.25V955.91H201.27ZM203.43 986.09H205.41V953.68H203.43ZM205.59 1008.16H207.57V980.16H205.59ZM207.75 1015.53H209.73V989.09H207.75ZM209.92 1010.34H211.9V983.37H209.92ZM212.08 1028.63H214.06V1007.47H212.08ZM214.24 1030.41H216.22V1009.71H214.24ZM216.4 1037.54H218.38V1018.15H216.4ZM218.57 1041.93H220.55V1025.43H218.57ZM220.73 1048.1H222.71V1031.13H220.73ZM222.89 1058.53H224.87V1044.75H222.89ZM225.05 1060.43H227.03V1047.07H225.05ZM227.22 1068.96H229.2V1057.53H227.22ZM229.38 1076.05H231.36V1065.81H229.38ZM231.54 1079.66H233.52V1070.82H231.54ZM233.7 1082.68H235.68V1074.16H233.7ZM235.87 1085.44H237.85V1077.54H235.87ZM238.03 1089.8H240.01V1082.69H238.03ZM240.19 1093.35H242.17V1086.52H240.19ZM242.35 1094.97H244.33V1088.95H242.35ZM244.51 1097.01H246.49V1091.84H244.51ZM246.68 1099.27H248.66V1094.48H246.68ZM248.84 1101.28H250.82V1097.5H248.84ZM251 1103.74H252.98V1100.51H251ZM253.16 1104.43H255.14V1101.48H253.16ZM255.33 1105.72H257.31V1103.49H255.33ZM257.49 1106.41H259.47V1104.37H257.49ZM259.65 1107.83H261.63V1106.25H259.65ZM261.81 1108.84H263.79V1107.6H261.81ZM263.98 1109.18H265.96V1108.08H263.98ZM266.14 1109.66H268.12V1108.7H266.14ZM268.3 1110.2H270.28V1109.45H268.3ZM270.46 1110.67H272.44V1110.11H270.46ZM272.63 1111.13H274.61V1110.71H272.63ZM274.79 1111.35H276.77V1111H274.79ZM276.95 1111.43H278.93V1111.09H276.95ZM279.11 1111.67H281.09V1111.42H279.11ZM281.28 1111.78H283.26V1111.55H281.28ZM283.44 1112.02H285.42V1111.86H283.44ZM285.6 1112.05H287.58V1111.9H285.6ZM287.76 1112.16H289.74V1112.04H287.76ZM289.93 1112.25H291.91V1112.15H289.93ZM292.09 1112.32H294.07V1112.24H292.09ZM294.25 1112.41H296.23V1112.35H294.25ZM296.41 1112.41H298.39V1112.35H296.41ZM298.57 1112.4H300.55V1112.35H298.57ZM300.74 1112.4H302.72V1112.34H300.74ZM302.9 1112.4H304.88V1112.35H302.9ZM305.06 1112.4H307.04V1112.35H305.06ZM307.22 1112.4H309.2V1112.34H307.22ZM309.39 1112.4H311.37V1112.34H309.39ZM311.55 1112.4H313.53V1112.35H311.55ZM313.71 1112.4H315.69V1112.35H313.71ZM315.87 1112.41H317.85V1112.36H315.87ZM318.04 1112.41H320.02V1112.35H318.04ZM320.2 1112.41H322.18V1112.35H320.2ZM322.36 1112.39H324.34V1112.33H322.36ZM324.52 1112.4H326.5V1112.34H324.52ZM326.69 1112.4H328.67V1112.35H326.69ZM328.85 1112.41H330.83V1112.35H328.85ZM331.01 1112.41H332.99V1112.35H331.01ZM333.17 1112.4H335.15V1112.35H333.17ZM335.34 1112.4H337.32V1112.34H335.34ZM337.5 1112.39H339.48V1112.33H337.5ZM339.66 1112.4H341.64V1112.34H339.66ZM341.82 1112.41H343.53V1112.36H341.82Z" fill="#EF8432"/>
<path d="M131.6 893.9V1112.6H343.6" fill="none" stroke="#444" stroke-width="0.9"/>
<text x="120.1" y="1118.4" font-size="16.4" text-anchor="end" textLength="9.71" lengthAdjust="spacingAndGlyphs"  >0</text>
<text x="120.1" y="1067.08" font-size="16.4" text-anchor="end" textLength="9.71" lengthAdjust="spacingAndGlyphs"  >4</text>
<text x="120.1" y="1015.76" font-size="16.4" text-anchor="end" textLength="9.71" lengthAdjust="spacingAndGlyphs"  >8</text>
<text x="120.1" y="964.44" font-size="16.4" text-anchor="end" textLength="19.43" lengthAdjust="spacingAndGlyphs"  >12</text>
<text x="120.1" y="913.12" font-size="16.4" text-anchor="end" textLength="19.43" lengthAdjust="spacingAndGlyphs"  >16</text>
<text x="131.6" y="1135.4" font-size="16.4" text-anchor="middle" textLength="9.71" lengthAdjust="spacingAndGlyphs"  >0</text>
<text x="184.6" y="1135.4" font-size="16.4" text-anchor="middle" textLength="33.99" lengthAdjust="spacingAndGlyphs"  >0.25</text>
<text x="237.6" y="1135.4" font-size="16.4" text-anchor="middle" textLength="33.99" lengthAdjust="spacingAndGlyphs"  >0.50</text>
<text x="290.6" y="1135.4" font-size="16.4" text-anchor="middle" textLength="33.99" lengthAdjust="spacingAndGlyphs"  >0.75</text>
<text x="343.6" y="1135.4" font-size="16.4" text-anchor="middle" textLength="33.99" lengthAdjust="spacingAndGlyphs"  >1.00</text>
<path d="M128.8 1112.6H131.6M128.8 1061.28H131.6M128.8 1009.96H131.6M128.8 958.64H131.6M128.8 907.32H131.6M131.6 1112.6V1115.4M184.6 1112.6V1115.4M237.6 1112.6V1115.4M290.6 1112.6V1115.4M343.6 1112.6V1115.4" stroke="#444" stroke-width="0.9" fill="none"/>
<text x="198" y="915.3" font-size="16.6" text-anchor="start" textLength="76.63" lengthAdjust="spacingAndGlyphs" font-style="italic" >N. parkeri</text>
<text x="236.6" y="1162" font-size="16.5" text-anchor="middle" textLength="174.84" lengthAdjust="spacingAndGlyphs"  >Jukes-Cantor distance</text>
<path d="M419.07 1112.6H421.05V1105.91H419.07ZM421.23 1112.6H423.21V1099.68H421.23ZM423.39 1112.6H425.37V1096.98H423.39ZM425.56 1112.6H427.54V1095.71H425.56ZM427.72 1112.6H429.7V1092.69H427.72ZM429.88 1112.6H431.86V1093.13H429.88ZM432.04 1112.6H434.02V1091.35H432.04ZM434.21 1112.6H436.19V1089.34H434.21ZM436.37 1112.6H438.35V1090.76H436.37ZM438.53 1112.6H440.51V1090.13H438.53ZM440.69 1112.6H442.67V1088.83H440.69ZM442.86 1112.6H444.84V1086.46H442.86ZM445.02 1112.6H447V1083.59H445.02ZM447.18 1112.6H449.16V1080.05H447.18ZM449.34 1112.6H451.32V1079.85H449.34ZM451.51 1112.6H453.49V1075.63H451.51ZM453.67 1112.6H455.65V1078.55H453.67ZM455.83 1112.6H457.81V1075.41H455.83ZM457.99 1112.6H459.97V1076.55H457.99ZM460.16 1112.6H462.14V1071.47H460.16ZM462.32 1112.6H464.3V1069.07H462.32ZM464.48 1112.6H466.46V1074.16H464.48ZM466.64 1112.6H468.62V1065.5H466.64ZM468.81 1112.6H470.79V1071.26H468.81ZM470.97 1112.6H472.95V1072.98H470.97ZM473.13 1112.6H475.11V1071.74H473.13ZM475.29 1112.6H477.27V1069.74H475.29ZM477.45 1112.6H479.43V1068.38H477.45ZM479.62 1112.6H481.6V1071.78H479.62ZM481.78 1112.6H483.76V1072.73H481.78ZM483.94 1112.6H485.92V1073.46H483.94ZM486.1 1112.6H488.08V1072.72H486.1ZM488.27 1112.6H490.25V1079.84H488.27ZM490.43 1112.6H492.41V1073.62H490.43ZM492.59 1112.6H494.57V1081.15H492.59ZM494.75 1112.6H496.73V1084.31H494.75ZM496.92 1112.6H498.9V1083.48H496.92ZM499.08 1112.6H501.06V1088.29H499.08ZM501.24 1112.6H503.22V1090.09H501.24ZM503.4 1112.6H505.38V1090.54H503.4ZM505.57 1112.6H507.55V1091.72H505.57ZM507.73 1112.6H509.71V1093.17H507.73ZM509.89 1112.6H511.87V1096.94H509.89ZM512.05 1112.6H514.03V1098.32H512.05ZM514.22 1112.6H516.2V1100.62H514.22ZM516.38 1112.6H518.36V1100.94H516.38ZM518.54 1112.6H520.52V1101.73H518.54ZM520.7 1112.6H522.68V1102.87H520.7ZM522.87 1112.6H524.85V1104.55H522.87ZM525.03 1112.6H527.01V1105.32H525.03ZM527.19 1112.6H529.17V1106.79H527.19ZM529.35 1112.6H531.33V1107.07H529.35ZM531.51 1112.6H533.49V1107.7H531.51ZM533.68 1112.6H535.66V1108.37H533.68ZM535.84 1112.6H537.82V1108.84H535.84ZM538 1112.6H539.98V1109.69H538ZM540.16 1112.6H542.14V1110.07H540.16ZM542.33 1112.6H544.31V1110.49H542.33ZM544.49 1112.6H546.47V1110.75H544.49ZM546.65 1112.6H548.63V1111H546.65ZM548.81 1112.6H550.79V1111.16H548.81ZM550.98 1112.6H552.96V1111.29H550.98ZM553.14 1112.6H555.12V1111.53H553.14ZM555.3 1112.6H557.28V1111.62H555.3ZM557.46 1112.6H559.44V1111.85H557.46ZM559.63 1112.6H561.61V1111.94H559.63ZM561.79 1112.6H563.77V1112.03H561.79ZM563.95 1112.6H565.93V1112.11H563.95ZM566.11 1112.6H568.09V1112.22H566.11ZM568.28 1112.6H570.26V1112.27H568.28ZM570.44 1112.6H572.42V1112.35H570.44ZM572.6 1112.6H574.58V1112.39H572.6ZM574.76 1112.6H576.74V1112.42H574.76ZM576.93 1112.6H578.91V1112.44H576.93ZM579.09 1112.6H581.07V1112.46H579.09ZM581.25 1112.6H583.23V1112.5H581.25ZM583.41 1112.6H585.39V1112.52H583.41ZM585.57 1112.6H587.55V1112.52H585.57ZM587.74 1112.6H589.72V1112.53H587.74ZM589.9 1112.6H591.88V1112.54H589.9ZM592.06 1112.6H594.04V1112.55H592.06ZM594.22 1112.6H596.2V1112.55H594.22ZM596.39 1112.6H598.37V1112.55H596.39ZM598.55 1112.6H600.53V1112.55H598.55ZM600.71 1112.6H602.69V1112.55H600.71ZM602.87 1112.6H604.85V1112.55H602.87ZM605.04 1112.6H607.02V1112.55H605.04ZM607.2 1112.6H609.18V1112.55H607.2ZM609.36 1112.6H611.34V1112.55H609.36ZM611.52 1112.6H613.5V1112.55H611.52ZM613.69 1112.6H615.67V1112.55H613.69ZM615.85 1112.6H617.83V1112.55H615.85ZM618.01 1112.6H619.99V1112.55H618.01ZM620.17 1112.6H622.15V1112.55H620.17ZM622.34 1112.6H624.32V1112.55H622.34ZM624.5 1112.6H626.48V1112.55H624.5ZM626.66 1112.6H628.64V1112.55H626.66ZM628.82 1112.6H630.53V1112.55H628.82Z" fill="#D2352B"/>
<path d="M419.07 1105.91H421.05V1096.56H419.07ZM421.23 1099.68H423.21V1081.72H421.23ZM423.39 1096.98H425.37V1073.98H423.39ZM425.56 1095.71H427.54V1070.46H425.56ZM427.72 1092.69H429.7V1065.11H427.72ZM429.88 1093.13H431.86V1064.94H429.88ZM432.04 1091.35H434.02V1063.23H432.04ZM434.21 1089.34H436.19V1061.87H434.21ZM436.37 1090.76H438.35V1060.67H436.37ZM438.53 1090.13H440.51V1061.21H438.53ZM440.69 1088.83H442.67V1057.27H440.69ZM442.86 1086.46H444.84V1055.36H442.86ZM445.02 1083.59H447V1049.47H445.02ZM447.18 1080.05H449.16V1044.93H447.18ZM449.34 1079.85H451.32V1044.95H449.34ZM451.51 1075.63H453.49V1036.24H451.51ZM453.67 1078.55H455.65V1044.46H453.67ZM455.83 1075.41H457.81V1036.17H455.83ZM457.99 1076.55H459.97V1039.9H457.99ZM460.16 1071.47H462.14V1031.42H460.16ZM462.32 1069.07H464.3V1025.78H462.32ZM464.48 1074.16H466.46V1037.69H464.48ZM466.64 1065.5H468.62V1021.67H466.64ZM468.81 1071.26H470.79V1031.62H468.81ZM470.97 1072.98H472.95V1037.63H470.97ZM473.13 1071.74H475.11V1034.93H473.13ZM475.29 1069.74H477.27V1033.4H475.29ZM477.45 1068.38H479.43V1028.76H477.45ZM479.62 1071.78H481.6V1035.33H479.62ZM481.78 1072.73H483.76V1039.33H481.78ZM483.94 1073.46H485.92V1035.69H483.94ZM486.1 1072.72H488.08V1036.84H486.1ZM488.27 1079.84H490.25V1049.86H488.27ZM490.43 1073.62H492.41V1039.79H490.43ZM492.59 1081.15H494.57V1052.71H492.59ZM494.75 1084.31H496.73V1059.67H494.75ZM496.92 1083.48H498.9V1057.05H496.92ZM499.08 1088.29H501.06V1066.3H499.08ZM501.24 1090.09H503.22V1069.34H501.24ZM503.4 1090.54H505.38V1070.1H503.4ZM505.57 1091.72H507.55V1073.83H505.57ZM507.73 1093.17H509.71V1075.82H507.73ZM509.89 1096.94H511.87V1081.18H509.89ZM512.05 1098.32H514.03V1083.4H512.05ZM514.22 1100.62H516.2V1086.7H514.22ZM516.38 1100.94H518.36V1087.92H516.38ZM518.54 1101.73H520.52V1089.51H518.54ZM520.7 1102.87H522.68V1091.68H520.7ZM522.87 1104.55H524.85V1096.04H522.87ZM525.03 1105.32H527.01V1097.18H525.03ZM527.19 1106.79H529.17V1100.3H527.19ZM529.35 1107.07H531.33V1100.8H529.35ZM531.51 1107.7H533.49V1101.83H531.51ZM533.68 1108.37H535.66V1103.37H533.68ZM535.84 1108.84H537.82V1103.87H535.84ZM538 1109.69H539.98V1105.26H538ZM540.16 1110.07H542.14V1106.08H540.16ZM542.33 1110.49H544.31V1107.4H542.33ZM544.49 1110.75H546.47V1108.07H544.49ZM546.65 1111H548.63V1108.74H546.65ZM548.81 1111.16H550.79V1109.47H548.81ZM550.98 1111.29H552.96V1109.72H550.98ZM553.14 1111.53H555.12V1110.16H553.14ZM555.3 1111.62H557.28V1110.41H555.3ZM557.46 1111.85H559.44V1110.75H557.46ZM559.63 1111.94H561.61V1110.96H559.63ZM561.79 1112.03H563.77V1111.19H561.79ZM563.95 1112.11H565.93V1111.4H563.95ZM566.11 1112.22H568.09V1111.63H566.11ZM568.28 1112.27H570.26V1111.8H568.28ZM570.44 1112.35H572.42V1111.99H570.44ZM572.6 1112.39H574.58V1112.04H572.6ZM574.76 1112.42H576.74V1112.14H574.76ZM576.93 1112.44H578.91V1112.2H576.93ZM579.09 1112.46H581.07V1112.26H579.09ZM581.25 1112.5H583.23V1112.34H581.25ZM583.41 1112.52H585.39V1112.39H583.41ZM585.57 1112.52H587.55V1112.39H585.57ZM587.74 1112.53H589.72V1112.43H587.74ZM589.9 1112.54H591.88V1112.45H589.9ZM592.06 1112.55H594.04V1112.47H592.06ZM594.22 1112.55H596.2V1112.47H594.22ZM596.39 1112.55H598.37V1112.47H596.39ZM598.55 1112.55H600.53V1112.47H598.55ZM600.71 1112.55H602.69V1112.48H600.71ZM602.87 1112.55H604.85V1112.48H602.87ZM605.04 1112.55H607.02V1112.47H605.04ZM607.2 1112.55H609.18V1112.47H607.2ZM609.36 1112.55H611.34V1112.48H609.36ZM611.52 1112.55H613.5V1112.48H611.52ZM613.69 1112.55H615.67V1112.48H613.69ZM615.85 1112.55H617.83V1112.47H615.85ZM618.01 1112.55H619.99V1112.48H618.01ZM620.17 1112.55H622.15V1112.48H620.17ZM622.34 1112.55H624.32V1112.47H622.34ZM624.5 1112.55H626.48V1112.47H624.5ZM626.66 1112.55H628.64V1112.47H626.66ZM628.82 1112.55H630.53V1112.48H628.82Z" fill="#477DB4"/>
<path d="M419.07 1096.56H421.05V1078.29H419.07ZM421.23 1081.72H423.21V1045.08H421.23ZM423.39 1073.98H425.37V1036.07H423.39ZM425.56 1070.46H427.54V1032.77H425.56ZM427.72 1065.11H429.7V1027.65H427.72ZM429.88 1064.94H431.86V1029.12H429.88ZM432.04 1063.23H434.02V1028.69H432.04ZM434.21 1061.87H436.19V1026.61H434.21ZM436.37 1060.67H438.35V1025.65H436.37ZM438.53 1061.21H440.51V1028.51H438.53ZM440.69 1057.27H442.67V1023.97H440.69ZM442.86 1055.36H444.84V1021.42H442.86ZM445.02 1049.47H447V1015.06H445.02ZM447.18 1044.93H449.16V1009.04H447.18ZM449.34 1044.95H451.32V1010.7H449.34ZM451.51 1036.24H453.49V998.92H451.51ZM453.67 1044.46H455.65V1013.78H453.67ZM455.83 1036.17H457.81V1001.75H455.83ZM457.99 1039.9H459.97V1007.49H457.99ZM460.16 1031.42H462.14V997.97H460.16ZM462.32 1025.78H464.3V987.48H462.32ZM464.48 1037.69H466.46V1002.97H464.48ZM466.64 1021.67H468.62V985.5H466.64ZM468.81 1031.62H470.79V995.66H468.81ZM470.97 1037.63H472.95V1003.67H470.97ZM473.13 1034.93H475.11V998.94H473.13ZM475.29 1033.4H477.27V997.61H475.29ZM477.45 1028.76H479.43V994.3H477.45ZM479.62 1035.33H481.6V1004.03H479.62ZM481.78 1039.33H483.76V1007.33H481.78ZM483.94 1035.69H485.92V1004.31H483.94ZM486.1 1036.84H488.08V1002.44H486.1ZM488.27 1049.86H490.25V1023.67H488.27ZM490.43 1039.79H492.41V1009.65H490.43ZM492.59 1052.71H494.57V1027.34H492.59ZM494.75 1059.67H496.73V1036.01H494.75ZM496.92 1057.05H498.9V1031.22H496.92ZM499.08 1066.3H501.06V1044.92H499.08ZM501.24 1069.34H503.22V1049.82H501.24ZM503.4 1070.1H505.38V1051.22H503.4ZM505.57 1073.83H507.55V1056.53H505.57ZM507.73 1075.82H509.71V1059.2H507.73ZM509.89 1081.18H511.87V1068.11H509.89ZM512.05 1083.4H514.03V1070.56H512.05ZM514.22 1086.7H516.2V1076.34H514.22ZM516.38 1087.92H518.36V1078.15H516.38ZM518.54 1089.51H520.52V1080.37H518.54ZM520.7 1091.68H522.68V1082.87H520.7ZM522.87 1096.04H524.85V1088.71H522.87ZM525.03 1097.18H527.01V1090.51H525.03ZM527.19 1100.3H529.17V1094.49H527.19ZM529.35 1100.8H531.33V1095.19H529.35ZM531.51 1101.83H533.49V1096.91H531.51ZM533.68 1103.37H535.66V1099.32H533.68ZM535.84 1103.87H537.82V1100.36H535.84ZM538 1105.26H539.98V1102.28H538ZM540.16 1106.08H542.14V1103.33H540.16ZM542.33 1107.4H544.31V1105.07H542.33ZM544.49 1108.07H546.47V1106.01H544.49ZM546.65 1108.74H548.63V1106.91H546.65ZM548.81 1109.47H550.79V1107.95H548.81ZM550.98 1109.72H552.96V1108.32H550.98ZM553.14 1110.16H555.12V1109.08H553.14ZM555.3 1110.41H557.28V1109.37H555.3ZM557.46 1110.75H559.44V1109.94H557.46ZM559.63 1110.96H561.61V1110.36H559.63ZM561.79 1111.19H563.77V1110.66H561.79ZM563.95 1111.4H565.93V1110.92H563.95ZM566.11 1111.63H568.09V1111.24H566.11ZM568.28 1111.8H570.26V1111.5H568.28ZM570.44 1111.99H572.42V1111.75H570.44ZM572.6 1112.04H574.58V1111.82H572.6ZM574.76 1112.14H576.74V1111.96H574.76ZM576.93 1112.2H578.91V1112.05H576.93ZM579.09 1112.26H581.07V1112.14H579.09ZM581.25 1112.34H583.23V1112.25H581.25ZM583.41 1112.39H585.39V1112.31H583.41ZM585.57 1112.39H587.55V1112.31H585.57ZM587.74 1112.43H589.72V1112.37H587.74ZM589.9 1112.45H591.88V1112.4H589.9ZM592.06 1112.47H594.04V1112.43H592.06ZM594.22 1112.47H596.2V1112.42H594.22ZM596.39 1112.47H598.37V1112.42H596.39ZM598.55 1112.47H600.53V1112.42H598.55ZM600.71 1112.48H602.69V1112.43H600.71ZM602.87 1112.48H604.85V1112.43H602.87ZM605.04 1112.47H607.02V1112.42H605.04ZM607.2 1112.47H609.18V1112.43H607.2ZM609.36 1112.48H611.34V1112.43H609.36ZM611.52 1112.48H613.5V1112.43H611.52ZM613.69 1112.48H615.67V1112.44H613.69ZM615.85 1112.47H617.83V1112.43H615.85ZM618.01 1112.48H619.99V1112.43H618.01ZM620.17 1112.48H622.15V1112.43H620.17ZM622.34 1112.47H624.32V1112.43H622.34ZM624.5 1112.47H626.48V1112.43H624.5ZM626.66 1112.47H628.64V1112.42H626.66ZM628.82 1112.48H630.53V1112.43H628.82Z" fill="#62A956"/>
<path d="M419.07 1078.29H421.05V1065.98H419.07ZM421.23 1045.08H423.21V1023.2H421.23ZM423.39 1036.07H425.37V1013.86H423.39ZM425.56 1032.77H427.54V1008.42H425.56ZM427.72 1027.65H429.7V1003.88H427.72ZM429.88 1029.12H431.86V1005.7H429.88ZM432.04 1028.69H434.02V1004.23H432.04ZM434.21 1026.61H436.19V1000.69H434.21ZM436.37 1025.65H438.35V1000.9H436.37ZM438.53 1028.51H440.51V1003.6H438.53ZM440.69 1023.97H442.67V997.3H440.69ZM442.86 1021.42H444.84V993.02H442.86ZM445.02 1015.06H447V980.61H445.02ZM447.18 1009.04H449.16V973.52H447.18ZM449.34 1010.7H451.32V973.3H449.34ZM451.51 998.92H453.49V956.2H451.51ZM453.67 1013.78H455.65V976.28H453.67ZM455.83 1001.75H457.81V962.54H455.83ZM457.99 1007.49H459.97V967.96H457.99ZM460.16 997.97H462.14V958.87H460.16ZM462.32 987.48H464.3V947.06H462.32ZM464.48 1002.97H466.46V966.45H464.48ZM466.64 985.5H468.62V944.32H466.64ZM468.81 995.66H470.79V956.57H468.81ZM470.97 1003.67H472.95V965.67H470.97ZM473.13 998.94H475.11V959.35H473.13ZM475.29 997.61H477.27V960.34H475.29ZM477.45 994.3H479.43V954.55H477.45ZM479.62 1004.03H481.6V967.49H479.62ZM481.78 1007.33H483.76V970.45H481.78ZM483.94 1004.31H485.92V966.15H483.94ZM486.1 1002.44H488.08V965.13H486.1ZM488.27 1023.67H490.25V992.92H488.27ZM490.43 1009.65H492.41V976.46H490.43ZM492.59 1027.34H494.57V1002.25H492.59ZM494.75 1036.01H496.73V1013.97H494.75ZM496.92 1031.22H498.9V1006.4H496.92ZM499.08 1044.92H501.06V1025.05H499.08ZM501.24 1049.82H503.22V1032.55H501.24ZM503.4 1051.22H505.38V1034.66H503.4ZM505.57 1056.53H507.55V1042.45H505.57ZM507.73 1059.2H509.71V1046.14H507.73ZM509.89 1068.11H511.87V1056.75H509.89ZM512.05 1070.56H514.03V1060.44H512.05ZM514.22 1076.34H516.2V1066.74H514.22ZM516.38 1078.15H518.36V1069.65H516.38ZM518.54 1080.37H520.52V1072.18H518.54ZM520.7 1082.87H522.68V1075.24H520.7ZM522.87 1088.71H524.85V1082.47H522.87ZM525.03 1090.51H527.01V1084.4H525.03ZM527.19 1094.49H529.17V1088.88H527.19ZM529.35 1095.19H531.33V1090.26H529.35ZM531.51 1096.91H533.49V1092.47H531.51ZM533.68 1099.32H535.66V1095.4H533.68ZM535.84 1100.36H537.82V1096.82H535.84ZM538 1102.28H539.98V1099.39H538ZM540.16 1103.33H542.14V1100.65H540.16ZM542.33 1105.07H544.31V1102.96H542.33ZM544.49 1106.01H546.47V1104.08H544.49ZM546.65 1106.91H548.63V1105.35H546.65ZM548.81 1107.95H550.79V1106.62H548.81ZM550.98 1108.32H552.96V1107.23H550.98ZM553.14 1109.08H555.12V1108.13H553.14ZM555.3 1109.37H557.28V1108.5H555.3ZM557.46 1109.94H559.44V1109.27H557.46ZM559.63 1110.36H561.61V1109.81H559.63ZM561.79 1110.66H563.77V1110.14H561.79ZM563.95 1110.92H565.93V1110.49H563.95ZM566.11 1111.24H568.09V1110.88H566.11ZM568.28 1111.5H570.26V1111.22H568.28ZM570.44 1111.75H572.42V1111.52H570.44ZM572.6 1111.82H574.58V1111.62H572.6ZM574.76 1111.96H576.74V1111.79H574.76ZM576.93 1112.05H578.91V1111.91H576.93ZM579.09 1112.14H581.07V1112.03H579.09ZM581.25 1112.25H583.23V1112.16H581.25ZM583.41 1112.31H585.39V1112.23H583.41ZM585.57 1112.31H587.55V1112.24H585.57ZM587.74 1112.37H589.72V1112.31H587.74ZM589.9 1112.4H591.88V1112.34H589.9ZM592.06 1112.43H594.04V1112.38H592.06ZM594.22 1112.42H596.2V1112.37H594.22ZM596.39 1112.42H598.37V1112.37H596.39ZM598.55 1112.42H600.53V1112.38H598.55ZM600.71 1112.43H602.69V1112.39H600.71ZM602.87 1112.43H604.85V1112.39H602.87ZM605.04 1112.42H607.02V1112.37H605.04ZM607.2 1112.43H609.18V1112.38H607.2ZM609.36 1112.43H611.34V1112.38H609.36ZM611.52 1112.43H613.5V1112.38H611.52ZM613.69 1112.44H615.67V1112.39H613.69ZM615.85 1112.43H617.83V1112.38H615.85ZM618.01 1112.43H619.99V1112.38H618.01ZM620.17 1112.43H622.15V1112.39H620.17ZM622.34 1112.43H624.32V1112.38H622.34ZM624.5 1112.43H626.48V1112.39H624.5ZM626.66 1112.42H628.64V1112.37H626.66ZM628.82 1112.43H630.53V1112.38H628.82Z" fill="#8C529F"/>
<path d="M419.07 1065.98H421.05V1056.47H419.07ZM421.23 1023.2H423.21V1005.18H421.23ZM423.39 1013.86H425.37V983.63H423.39ZM425.56 1008.42H427.54V981H425.56ZM427.72 1003.88H429.7V978.41H427.72ZM429.88 1005.7H431.86V982.63H429.88ZM432.04 1004.23H434.02V980.36H432.04ZM434.21 1000.69H436.19V975.54H434.21ZM436.37 1000.9H438.35V974.02H436.37ZM438.53 1003.6H440.51V975.58H438.53ZM440.69 997.3H442.67V966.84H440.69ZM442.86 993.02H444.84V961.75H442.86ZM445.02 980.61H447V950.14H445.02ZM447.18 973.52H449.16V940.26H447.18ZM449.34 973.3H451.32V942.24H449.34ZM451.51 956.2H453.49V921.65H451.51ZM453.67 976.28H455.65V942.64H453.67ZM455.83 962.54H457.81V926.86H455.83ZM457.99 967.96H459.97V933.02H457.99ZM460.16 958.87H462.14V922.25H460.16ZM462.32 947.06H464.3V907.81H462.32ZM464.48 966.45H466.46V927.35H464.48ZM466.64 944.32H468.62V899.29H466.64ZM468.81 956.57H470.79V916.73H468.81ZM470.97 965.67H472.95V928.36H470.97ZM473.13 959.35H475.11V916.55H473.13ZM475.29 960.34H477.27V919.56H475.29ZM477.45 954.55H479.43V912.93H477.45ZM479.62 967.49H481.6V930.77H479.62ZM481.78 970.45H483.76V934.67H481.78ZM483.94 966.15H485.92V928.49H483.94ZM486.1 965.13H488.08V925.35H486.1ZM488.27 992.92H490.25V959.26H488.27ZM490.43 976.46H492.41V940.02H490.43ZM492.59 1002.25H494.57V970.07H492.59ZM494.75 1013.97H496.73V984.2H494.75ZM496.92 1006.4H498.9V975.79H496.92ZM499.08 1025.05H501.06V999.84H499.08ZM501.24 1032.55H503.22V1008.78H501.24ZM503.4 1034.66H505.38V1014.07H503.4ZM505.57 1042.45H507.55V1024.75H505.57ZM507.73 1046.14H509.71V1028.33H507.73ZM509.89 1056.75H511.87V1040.78H509.89ZM512.05 1060.44H514.03V1045.61H512.05ZM514.22 1066.74H516.2V1053.13H514.22ZM516.38 1069.65H518.36V1057.2H516.38ZM518.54 1072.18H520.52V1060.32H518.54ZM520.7 1075.24H522.68V1063.7H520.7ZM522.87 1082.47H524.85V1072.3H522.87ZM525.03 1084.4H527.01V1075.93H525.03ZM527.19 1088.88H529.17V1081.07H527.19ZM529.35 1090.26H531.33V1082.11H529.35ZM531.51 1092.47H533.49V1085.69H531.51ZM533.68 1095.4H535.66V1089.25H533.68ZM535.84 1096.82H537.82V1091H535.84ZM538 1099.39H539.98V1094.14H538ZM540.16 1100.65H542.14V1096.14H540.16ZM542.33 1102.96H544.31V1099.28H542.33ZM544.49 1104.08H546.47V1100.8H544.49ZM546.65 1105.35H548.63V1102.24H546.65ZM548.81 1106.62H550.79V1104H548.81ZM550.98 1107.23H552.96V1105.12H550.98ZM553.14 1108.13H555.12V1106.44H553.14ZM555.3 1108.5H557.28V1107.06H555.3ZM557.46 1109.27H559.44V1108.2H557.46ZM559.63 1109.81H561.61V1109.02H559.63ZM561.79 1110.14H563.77V1109.46H561.79ZM563.95 1110.49H565.93V1109.86H563.95ZM566.11 1110.88H568.09V1110.39H566.11ZM568.28 1111.22H570.26V1110.83H568.28ZM570.44 1111.52H572.42V1111.23H570.44ZM572.6 1111.62H574.58V1111.35H572.6ZM574.76 1111.79H576.74V1111.55H574.76ZM576.93 1111.91H578.91V1111.7H576.93ZM579.09 1112.03H581.07V1111.86H579.09ZM581.25 1112.16H583.23V1112.04H581.25ZM583.41 1112.23H585.39V1112.13H583.41ZM585.57 1112.24H587.55V1112.14H585.57ZM587.74 1112.31H589.72V1112.22H587.74ZM589.9 1112.34H591.88V1112.27H589.9ZM592.06 1112.38H594.04V1112.32H592.06ZM594.22 1112.37H596.2V1112.31H594.22ZM596.39 1112.37H598.37V1112.31H596.39ZM598.55 1112.38H600.53V1112.31H598.55ZM600.71 1112.39H602.69V1112.33H600.71ZM602.87 1112.39H604.85V1112.33H602.87ZM605.04 1112.37H607.02V1112.31H605.04ZM607.2 1112.38H609.18V1112.31H607.2ZM609.36 1112.38H611.34V1112.32H609.36ZM611.52 1112.38H613.5V1112.32H611.52ZM613.69 1112.39H615.67V1112.34H613.69ZM615.85 1112.38H617.83V1112.32H615.85ZM618.01 1112.38H619.99V1112.32H618.01ZM620.17 1112.39H622.15V1112.32H620.17ZM622.34 1112.38H624.32V1112.32H622.34ZM624.5 1112.39H626.48V1112.33H624.5ZM626.66 1112.37H628.64V1112.31H626.66ZM628.82 1112.38H630.53V1112.32H628.82Z" fill="#EF8432"/>
<path d="M418.6 895.4V1112.6H630.6" fill="none" stroke="#444" stroke-width="0.9"/>
<text x="407.1" y="1118.4" font-size="16.4" text-anchor="end" textLength="9.71" lengthAdjust="spacingAndGlyphs"  >0</text>
<text x="407.1" y="1048.25" font-size="16.4" text-anchor="end" textLength="9.71" lengthAdjust="spacingAndGlyphs"  >5</text>
<text x="407.1" y="978.1" font-size="16.4" text-anchor="end" textLength="19.43" lengthAdjust="spacingAndGlyphs"  >10</text>
<text x="407.1" y="907.95" font-size="16.4" text-anchor="end" textLength="19.43" lengthAdjust="spacingAndGlyphs"  >15</text>
<text x="418.6" y="1135.4" font-size="16.4" text-anchor="middle" textLength="9.71" lengthAdjust="spacingAndGlyphs"  >0</text>
<text x="471.6" y="1135.4" font-size="16.4" text-anchor="middle" textLength="33.99" lengthAdjust="spacingAndGlyphs"  >0.25</text>
<text x="524.6" y="1135.4" font-size="16.4" text-anchor="middle" textLength="33.99" lengthAdjust="spacingAndGlyphs"  >0.50</text>
<text x="577.6" y="1135.4" font-size="16.4" text-anchor="middle" textLength="33.99" lengthAdjust="spacingAndGlyphs"  >0.75</text>
<text x="630.6" y="1135.4" font-size="16.4" text-anchor="middle" textLength="33.99" lengthAdjust="spacingAndGlyphs"  >1.00</text>
<path d="M415.8 1112.6H418.6M415.8 1042.45H418.6M415.8 972.3H418.6M415.8 902.15H418.6M418.6 1112.6V1115.4M471.6 1112.6V1115.4M524.6 1112.6V1115.4M577.6 1112.6V1115.4M630.6 1112.6V1115.4" stroke="#444" stroke-width="0.9" fill="none"/>
<text x="512" y="915.3" font-size="16.6" text-anchor="start" textLength="91.38" lengthAdjust="spacingAndGlyphs" font-style="italic" >X. tropicalis</text>
<text x="523.6" y="1162" font-size="16.5" text-anchor="middle" textLength="174.84" lengthAdjust="spacingAndGlyphs"  >Jukes-Cantor distance</text>
<path d="M717.52 1112.6H719.5V1112.04H717.52ZM719.68 1112.6H721.66V1111.39H719.68ZM721.84 1112.6H723.82V1110.77H721.84ZM724.01 1112.6H725.99V1108.48H724.01ZM726.17 1112.6H728.15V1106.55H726.17ZM728.33 1112.6H730.31V1100.29H728.33ZM730.49 1112.6H732.47V1092.93H730.49ZM732.66 1112.6H734.64V1082.92H732.66ZM734.82 1112.6H736.8V1074.59H734.82ZM736.98 1112.6H738.96V1073.89H736.98ZM739.14 1112.6H741.12V1069.78H739.14ZM741.31 1112.6H743.29V1055.94H741.31ZM743.47 1112.6H745.45V1061.28H743.47ZM745.63 1112.6H747.61V1064.06H745.63ZM747.79 1112.6H749.77V1063.29H747.79ZM749.96 1112.6H751.94V1062.7H749.96ZM752.12 1112.6H754.1V1061.53H752.12ZM754.28 1112.6H756.26V1067.21H754.28ZM756.44 1112.6H758.42V1063.93H756.44ZM758.61 1112.6H760.59V1067.79H758.61ZM760.77 1112.6H762.75V1067.12H760.77ZM762.93 1112.6H764.91V1067.99H762.93ZM765.09 1112.6H767.07V1071.45H765.09ZM767.25 1112.6H769.23V1072.82H767.25ZM769.42 1112.6H771.4V1074.89H769.42ZM771.58 1112.6H773.56V1073.02H771.58ZM773.74 1112.6H775.72V1079.12H773.74ZM775.9 1112.6H777.88V1073.73H775.9ZM778.07 1112.6H780.05V1083.43H778.07ZM780.23 1112.6H782.21V1082.86H780.23ZM782.39 1112.6H784.37V1083.36H782.39ZM784.55 1112.6H786.53V1088.22H784.55ZM786.72 1112.6H788.7V1090.47H786.72ZM788.88 1112.6H790.86V1091.92H788.88ZM791.04 1112.6H793.02V1094.14H791.04ZM793.2 1112.6H795.18V1097.21H793.2ZM795.37 1112.6H797.35V1099.66H795.37ZM797.53 1112.6H799.51V1098.9H797.53ZM799.69 1112.6H801.67V1102.66H799.69ZM801.85 1112.6H803.83V1103.92H801.85ZM804.02 1112.6H806V1104.06H804.02ZM806.18 1112.6H808.16V1106.39H806.18ZM808.34 1112.6H810.32V1106.75H808.34ZM810.5 1112.6H812.48V1107.95H810.5ZM812.67 1112.6H814.65V1108.76H812.67ZM814.83 1112.6H816.81V1109.92H814.83ZM816.99 1112.6H818.97V1110.56H816.99ZM819.15 1112.6H821.13V1110.72H819.15ZM821.31 1112.6H823.29V1111.04H821.31ZM823.48 1112.6H825.46V1111.23H823.48ZM825.64 1112.6H827.62V1111.4H825.64ZM827.8 1112.6H829.78V1111.69H827.8ZM829.96 1112.6H831.94V1111.72H829.96ZM832.13 1112.6H834.11V1111.85H832.13ZM834.29 1112.6H836.27V1111.99H834.29ZM836.45 1112.6H838.43V1112.12H836.45ZM838.61 1112.6H840.59V1112.26H838.61ZM840.78 1112.6H842.76V1112.23H840.78ZM842.94 1112.6H844.92V1112.18H842.94ZM845.1 1112.6H847.08V1112.11H845.1ZM847.26 1112.6H849.24V1112.08H847.26ZM849.43 1112.6H851.41V1112.02H849.43ZM851.59 1112.6H853.57V1112.12H851.59ZM853.75 1112.6H855.73V1112.19H853.75ZM855.91 1112.6H857.89V1112.24H855.91ZM858.08 1112.6H860.06V1112.27H858.08ZM860.24 1112.6H862.22V1112.35H860.24ZM862.4 1112.6H864.38V1112.37H862.4ZM864.56 1112.6H866.54V1112.42H864.56ZM866.73 1112.6H868.71V1112.42H866.73ZM868.89 1112.6H870.87V1112.46H868.89ZM871.05 1112.6H873.03V1112.49H871.05ZM873.21 1112.6H875.19V1112.5H873.21ZM875.37 1112.6H877.35V1112.51H875.37ZM877.54 1112.6H879.52V1112.53H877.54ZM879.7 1112.6H881.68V1112.55H879.7ZM881.86 1112.6H883.84V1112.56H881.86ZM884.02 1112.6H886V1112.56H884.02ZM886.19 1112.6H888.17V1112.56H886.19ZM888.35 1112.6H890.33V1112.56H888.35ZM890.51 1112.6H892.49V1112.56H890.51ZM892.67 1112.6H894.65V1112.56H892.67ZM894.84 1112.6H896.82V1112.55H894.84ZM897 1112.6H898.98V1112.56H897ZM899.16 1112.6H901.14V1112.56H899.16ZM901.32 1112.6H903.3V1112.55H901.32ZM903.49 1112.6H905.47V1112.56H903.49ZM905.65 1112.6H907.63V1112.56H905.65ZM907.81 1112.6H909.79V1112.55H907.81ZM909.97 1112.6H911.95V1112.55H909.97ZM912.14 1112.6H914.12V1112.56H912.14ZM914.3 1112.6H916.28V1112.56H914.3ZM916.46 1112.6H918.44V1112.55H916.46ZM918.62 1112.6H920.33V1112.56H918.62Z" fill="#D2352B"/>
<path d="M708.87 1112.6H710.85V1112.24H708.87ZM711.03 1112.6H713.01V1108.16H711.03ZM713.19 1112.6H715.17V1102.17H713.19ZM715.36 1112.6H717.34V1095.98H715.36ZM717.52 1112.04H719.5V1095.35H717.52ZM719.68 1111.39H721.66V1091.35H719.68ZM721.84 1110.77H723.82V1089.01H721.84ZM724.01 1108.48H725.99V1082.72H724.01ZM726.17 1106.55H728.15V1074.78H726.17ZM728.33 1100.29H730.31V1071.45H728.33ZM730.49 1092.93H732.47V1058.44H730.49ZM732.66 1082.92H734.64V1048.04H732.66ZM734.82 1074.59H736.8V1037.83H734.82ZM736.98 1073.89H738.96V1038.94H736.98ZM739.14 1069.78H741.12V1031.15H739.14ZM741.31 1055.94H743.29V1007.78H741.31ZM743.47 1061.28H745.45V1017.48H743.47ZM745.63 1064.06H747.61V1022.88H745.63ZM747.79 1063.29H749.77V1020.72H747.79ZM749.96 1062.7H751.94V1017.99H749.96ZM752.12 1061.53H754.1V1021.15H752.12ZM754.28 1067.21H756.26V1029.59H754.28ZM756.44 1063.93H758.42V1025.7H756.44ZM758.61 1067.79H760.59V1031.32H758.61ZM760.77 1067.12H762.75V1031.68H760.77ZM762.93 1067.99H764.91V1032.34H762.93ZM765.09 1071.45H767.07V1035.94H765.09ZM767.25 1072.82H769.23V1040.49H767.25ZM769.42 1074.89H771.4V1041.29H769.42ZM771.58 1073.02H773.56V1041.01H771.58ZM773.74 1079.12H775.72V1050.24H773.74ZM775.9 1073.73H777.88V1039.2H775.9ZM778.07 1083.43H780.05V1055.38H778.07ZM780.23 1082.86H782.21V1056.36H780.23ZM782.39 1083.36H784.37V1054.99H782.39ZM784.55 1088.22H786.53V1062.57H784.55ZM786.72 1090.47H788.7V1064.46H786.72ZM788.88 1091.92H790.86V1069.13H788.88ZM791.04 1094.14H793.02V1072.35H791.04ZM793.2 1097.21H795.18V1077.63H793.2ZM795.37 1099.66H797.35V1082.53H795.37ZM797.53 1098.9H799.51V1079.98H797.53ZM799.69 1102.66H801.67V1086.48H799.69ZM801.85 1103.92H803.83V1088.76H801.85ZM804.02 1104.06H806V1088.87H804.02ZM806.18 1106.39H808.16V1092.64H806.18ZM808.34 1106.75H810.32V1093.32H808.34ZM810.5 1107.95H812.48V1096.95H810.5ZM812.67 1108.76H814.65V1098.83H812.67ZM814.83 1109.92H816.81V1102.29H814.83ZM816.99 1110.56H818.97V1103.64H816.99ZM819.15 1110.72H821.13V1104.55H819.15ZM821.31 1111.04H823.29V1105.43H821.31ZM823.48 1111.23H825.46V1105.96H823.48ZM825.64 1111.4H827.62V1107.04H825.64ZM827.8 1111.69H829.78V1108.12H827.8ZM829.96 1111.72H831.94V1108.12H829.96ZM832.13 1111.85H834.11V1108.81H832.13ZM834.29 1111.99H836.27V1109.28H834.29ZM836.45 1112.12H838.43V1109.8H836.45ZM838.61 1112.26H840.59V1110.23H838.61ZM840.78 1112.23H842.76V1110.52H840.78ZM842.94 1112.18H844.92V1110.64H842.94ZM845.1 1112.11H847.08V1110.81H845.1ZM847.26 1112.08H849.24V1110.98H847.26ZM849.43 1112.02H851.41V1111.2H849.43ZM851.59 1112.12H853.57V1111.43H851.59ZM853.75 1112.19H855.73V1111.58H853.75ZM855.91 1112.24H857.89V1111.7H855.91ZM858.08 1112.27H860.06V1111.78H858.08ZM860.24 1112.35H862.22V1111.98H860.24ZM862.4 1112.37H864.38V1112.05H862.4ZM864.56 1112.42H866.54V1112.13H864.56ZM866.73 1112.42H868.71V1112.16H866.73ZM868.89 1112.46H870.87V1112.24H868.89ZM871.05 1112.49H873.03V1112.31H871.05ZM873.21 1112.5H875.19V1112.35H873.21ZM875.37 1112.51H877.35V1112.39H875.37ZM877.54 1112.53H879.52V1112.43H877.54ZM879.7 1112.55H881.68V1112.46H879.7ZM881.86 1112.56H883.84V1112.49H881.86ZM884.02 1112.56H886V1112.49H884.02ZM886.19 1112.56H888.17V1112.49H886.19ZM888.35 1112.56H890.33V1112.49H888.35ZM890.51 1112.56H892.49V1112.5H890.51ZM892.67 1112.56H894.65V1112.49H892.67ZM894.84 1112.55H896.82V1112.49H894.84ZM897 1112.56H898.98V1112.49H897ZM899.16 1112.56H901.14V1112.49H899.16ZM901.32 1112.55H903.3V1112.49H901.32ZM903.49 1112.56H905.47V1112.5H903.49ZM905.65 1112.56H907.63V1112.49H905.65ZM907.81 1112.55H909.79V1112.48H907.81ZM909.97 1112.55H911.95V1112.49H909.97ZM912.14 1112.56H914.12V1112.49H912.14ZM914.3 1112.56H916.28V1112.49H914.3ZM916.46 1112.55H918.44V1112.48H916.46ZM918.62 1112.56H920.33V1112.49H918.62Z" fill="#477DB4"/>
<path d="M708.87 1112.24H710.85V1111.89H708.87ZM711.03 1108.16H713.01V1104.69H711.03ZM713.19 1102.17H715.17V1095.74H713.19ZM715.36 1095.98H717.34V1076.76H715.36ZM717.52 1095.35H719.5V1069.93H717.52ZM719.68 1091.35H721.66V1066.12H719.68ZM721.84 1089.01H723.82V1061.68H721.84ZM724.01 1082.72H725.99V1055.14H724.01ZM726.17 1074.78H728.15V1048.61H726.17ZM728.33 1071.45H730.31V1043.1H728.33ZM730.49 1058.44H732.47V1026.18H730.49ZM732.66 1048.04H734.64V1016.93H732.66ZM734.82 1037.83H736.8V1009.59H734.82ZM736.98 1038.94H738.96V1011.42H736.98ZM739.14 1031.15H741.12V999.76H739.14ZM741.31 1007.78H743.29V970.99H741.31ZM743.47 1017.48H745.45V985.96H743.47ZM745.63 1022.88H747.61V991.01H745.63ZM747.79 1020.72H749.77V986.67H747.79ZM749.96 1017.99H751.94V980.78H749.96ZM752.12 1021.15H754.1V984.35H752.12ZM754.28 1029.59H756.26V997.12H754.28ZM756.44 1025.7H758.42V987.6H756.44ZM758.61 1031.32H760.59V997.8H758.61ZM760.77 1031.68H762.75V997.22H760.77ZM762.93 1032.34H764.91V993.22H762.93ZM765.09 1035.94H767.07V998.46H765.09ZM767.25 1040.49H769.23V1005.4H767.25ZM769.42 1041.29H771.4V1006.01H769.42ZM771.58 1041.01H773.56V1006.54H771.58ZM773.74 1050.24H775.72V1018.3H773.74ZM775.9 1039.2H777.88V1005.16H775.9ZM778.07 1055.38H780.05V1025.71H778.07ZM780.23 1056.36H782.21V1027.9H780.23ZM782.39 1054.99H784.37V1024.97H782.39ZM784.55 1062.57H786.53V1036.18H784.55ZM786.72 1064.46H788.7V1039.49H786.72ZM788.88 1069.13H790.86V1046.77H788.88ZM791.04 1072.35H793.02V1050.73H791.04ZM793.2 1077.63H795.18V1059.06H793.2ZM795.37 1082.53H797.35V1065.25H795.37ZM797.53 1079.98H799.51V1061.93H797.53ZM799.69 1086.48H801.67V1072.6H799.69ZM801.85 1088.76H803.83V1076.11H801.85ZM804.02 1088.87H806V1075.93H804.02ZM806.18 1092.64H808.16V1081.81H806.18ZM808.34 1093.32H810.32V1082.75H808.34ZM810.5 1096.95H812.48V1088.29H810.5ZM812.67 1098.83H814.65V1091.67H812.67ZM814.83 1102.29H816.81V1096.01H814.83ZM816.99 1103.64H818.97V1098.54H816.99ZM819.15 1104.55H821.13V1099.71H819.15ZM821.31 1105.43H823.29V1101.16H821.31ZM823.48 1105.96H825.46V1101.91H823.48ZM825.64 1107.04H827.62V1103.31H825.64ZM827.8 1108.12H829.78V1105.11H827.8ZM829.96 1108.12H831.94V1105.54H829.96ZM832.13 1108.81H834.11V1106.6H832.13ZM834.29 1109.28H836.27V1107.35H834.29ZM836.45 1109.8H838.43V1108.31H836.45ZM838.61 1110.23H840.59V1109.08H838.61ZM840.78 1110.52H842.76V1109.51H840.78ZM842.94 1110.64H844.92V1109.75H842.94ZM845.1 1110.81H847.08V1110.01H845.1ZM847.26 1110.98H849.24V1110.29H847.26ZM849.43 1111.2H851.41V1110.66H849.43ZM851.59 1111.43H853.57V1110.99H851.59ZM853.75 1111.58H855.73V1111.17H853.75ZM855.91 1111.7H857.89V1111.36H855.91ZM858.08 1111.78H860.06V1111.49H858.08ZM860.24 1111.98H862.22V1111.74H860.24ZM862.4 1112.05H864.38V1111.85H862.4ZM864.56 1112.13H866.54V1111.96H864.56ZM866.73 1112.16H868.71V1111.99H866.73ZM868.89 1112.24H870.87V1112.1H868.89ZM871.05 1112.31H873.03V1112.2H871.05ZM873.21 1112.35H875.19V1112.26H873.21ZM875.37 1112.39H877.35V1112.32H875.37ZM877.54 1112.43H879.52V1112.36H877.54ZM879.7 1112.46H881.68V1112.4H879.7ZM881.86 1112.49H883.84V1112.45H881.86ZM884.02 1112.49H886V1112.44H884.02ZM886.19 1112.49H888.17V1112.45H886.19ZM888.35 1112.49H890.33V1112.45H888.35ZM890.51 1112.5H892.49V1112.45H890.51ZM892.67 1112.49H894.65V1112.45H892.67ZM894.84 1112.49H896.82V1112.44H894.84ZM897 1112.49H898.98V1112.45H897ZM899.16 1112.49H901.14V1112.45H899.16ZM901.32 1112.49H903.3V1112.44H901.32ZM903.49 1112.5H905.47V1112.46H903.49ZM905.65 1112.49H907.63V1112.45H905.65ZM907.81 1112.48H909.79V1112.44H907.81ZM909.97 1112.49H911.95V1112.44H909.97ZM912.14 1112.49H914.12V1112.45H912.14ZM914.3 1112.49H916.28V1112.45H914.3ZM916.46 1112.48H918.44V1112.44H916.46ZM918.62 1112.49H920.33V1112.44H918.62Z" fill="#62A956"/>
<path d="M708.87 1111.89H710.85V1111.65H708.87ZM711.03 1104.69H713.01V1103.02H711.03ZM713.19 1095.74H715.17V1089.64H713.19ZM715.36 1076.76H717.34V1066.01H715.36ZM717.52 1069.93H719.5V1054.03H717.52ZM719.68 1066.12H721.66V1051.16H719.68ZM721.84 1061.68H723.82V1047.58H721.84ZM724.01 1055.14H725.99V1040.49H724.01ZM726.17 1048.61H728.15V1033.89H726.17ZM728.33 1043.1H730.31V1025.62H728.33ZM730.49 1026.18H732.47V1004.71H730.49ZM732.66 1016.93H734.64V993.64H732.66ZM734.82 1009.59H736.8V982.88H734.82ZM736.98 1011.42H738.96V984.44H736.98ZM739.14 999.76H741.12V969.83H739.14ZM741.31 970.99H743.29V933.7H741.31ZM743.47 985.96H745.45V952.38H743.47ZM745.63 991.01H747.61V958.4H745.63ZM747.79 986.67H749.77V951.88H747.79ZM749.96 980.78H751.94V942.17H749.96ZM752.12 984.35H754.1V949.03H752.12ZM754.28 997.12H756.26V964.15H754.28ZM756.44 987.6H758.42V949.56H756.44ZM758.61 997.8H760.59V960.76H758.61ZM760.77 997.22H762.75V960.83H760.77ZM762.93 993.22H764.91V954.42H762.93ZM765.09 998.46H767.07V959.5H765.09ZM767.25 1005.4H769.23V968.76H767.25ZM769.42 1006.01H771.4V968.08H769.42ZM771.58 1006.54H773.56V968.94H771.58ZM773.74 1018.3H775.72V981.29H773.74ZM775.9 1005.16H777.88V968.74H775.9ZM778.07 1025.71H780.05V995.11H778.07ZM780.23 1027.9H782.21V999.25H780.23ZM782.39 1024.97H784.37V998.57H782.39ZM784.55 1036.18H786.53V1014.21H784.55ZM786.72 1039.49H788.7V1019.73H786.72ZM788.88 1046.77H790.86V1028.75H788.88ZM791.04 1050.73H793.02V1033.54H791.04ZM793.2 1059.06H795.18V1043.74H793.2ZM795.37 1065.25H797.35V1051.81H795.37ZM797.53 1061.93H799.51V1047.83H797.53ZM799.69 1072.6H801.67V1061.64H799.69ZM801.85 1076.11H803.83V1066.28H801.85ZM804.02 1075.93H806V1066.13H804.02ZM806.18 1081.81H808.16V1073.41H806.18ZM808.34 1082.75H810.32V1074.71H808.34ZM810.5 1088.29H812.48V1081.34H810.5ZM812.67 1091.67H814.65V1085.8H812.67ZM814.83 1096.01H816.81V1090.62H814.83ZM816.99 1098.54H818.97V1093.67H816.99ZM819.15 1099.71H821.13V1095.25H819.15ZM821.31 1101.16H823.29V1097.51H821.31ZM823.48 1101.91H825.46V1098.62H823.48ZM825.64 1103.31H827.62V1100.28H825.64ZM827.8 1105.11H829.78V1102.83H827.8ZM829.96 1105.54H831.94V1103.45H829.96ZM832.13 1106.6H834.11V1104.61H832.13ZM834.29 1107.35H836.27V1105.79H834.29ZM836.45 1108.31H838.43V1106.9H836.45ZM838.61 1109.08H840.59V1107.94H838.61ZM840.78 1109.51H842.76V1108.46H840.78ZM842.94 1109.75H844.92V1108.85H842.94ZM845.1 1110.01H847.08V1109.18H845.1ZM847.26 1110.29H849.24V1109.65H847.26ZM849.43 1110.66H851.41V1110.16H849.43ZM851.59 1110.99H853.57V1110.58H851.59ZM853.75 1111.17H855.73V1110.78H853.75ZM855.91 1111.36H857.89V1111.04H855.91ZM858.08 1111.49H860.06V1111.22H858.08ZM860.24 1111.74H862.22V1111.51H860.24ZM862.4 1111.85H864.38V1111.65H862.4ZM864.56 1111.96H866.54V1111.78H864.56ZM866.73 1111.99H868.71V1111.83H866.73ZM868.89 1112.1H870.87V1111.97H868.89ZM871.05 1112.2H873.03V1112.11H871.05ZM873.21 1112.26H875.19V1112.17H873.21ZM875.37 1112.32H877.35V1112.24H875.37ZM877.54 1112.36H879.52V1112.3H877.54ZM879.7 1112.4H881.68V1112.35H879.7ZM881.86 1112.45H883.84V1112.41H881.86ZM884.02 1112.44H886V1112.4H884.02ZM886.19 1112.45H888.17V1112.41H886.19ZM888.35 1112.45H890.33V1112.42H888.35ZM890.51 1112.45H892.49V1112.42H890.51ZM892.67 1112.45H894.65V1112.41H892.67ZM894.84 1112.44H896.82V1112.4H894.84ZM897 1112.45H898.98V1112.41H897ZM899.16 1112.45H901.14V1112.41H899.16ZM901.32 1112.44H903.3V1112.4H901.32ZM903.49 1112.46H905.47V1112.42H903.49ZM905.65 1112.45H907.63V1112.41H905.65ZM907.81 1112.44H909.79V1112.4H907.81ZM909.97 1112.44H911.95V1112.4H909.97ZM912.14 1112.45H914.12V1112.42H912.14ZM914.3 1112.45H916.28V1112.41H914.3ZM916.46 1112.44H918.44V1112.4H916.46ZM918.62 1112.44H920.33V1112.41H918.62Z" fill="#8C529F"/>
<path d="M708.87 1111.65H710.85V1111.42H708.87ZM711.03 1103.02H713.01V1101.35H711.03ZM713.19 1089.64H715.17V1082.72H713.19ZM715.36 1066.01H717.34V1060.04H715.36ZM717.52 1054.03H719.5V1033.93H717.52ZM719.68 1051.16H721.66V1030.92H719.68ZM721.84 1047.58H723.82V1027.06H721.84ZM724.01 1040.49H725.99V1017.57H724.01ZM726.17 1033.89H728.15V1010.41H726.17ZM728.33 1025.62H730.31V999.6H728.33ZM730.49 1004.71H732.47V972.9H730.49ZM732.66 993.64H734.64V957.01H732.66ZM734.82 982.88H736.8V942.92H734.82ZM736.98 984.44H738.96V949.11H736.98ZM739.14 969.83H741.12V937.97H739.14ZM741.31 933.7H743.29V901.11H741.31ZM743.47 952.38H745.45V921.4H743.47ZM745.63 958.4H747.61V925.32H745.63ZM747.79 951.88H749.77V915.77H747.79ZM749.96 942.17H751.94V900.67H749.96ZM752.12 949.03H754.1V908.8H752.12ZM754.28 964.15H756.26V927.24H754.28ZM756.44 949.56H758.42V910.84H756.44ZM758.61 960.76H760.59V921.97H758.61ZM760.77 960.83H762.75V924.72H760.77ZM762.93 954.42H764.91V918.31H762.93ZM765.09 959.5H767.07V922.9H765.09ZM767.25 968.76H769.23V933.4H767.25ZM769.42 968.08H771.4V933.02H769.42ZM771.58 968.94H773.56V935.68H771.58ZM773.74 981.29H775.72V949.55H773.74ZM775.9 968.74H777.88V936.36H775.9ZM778.07 995.11H780.05V969.34H778.07ZM780.23 999.25H782.21V975.12H780.23ZM782.39 998.57H784.37V975.68H782.39ZM784.55 1014.21H786.53V997.72H784.55ZM786.72 1019.73H788.7V1002.17H786.72ZM788.88 1028.75H790.86V1013.23H788.88ZM791.04 1033.54H793.02V1017.03H791.04ZM793.2 1043.74H795.18V1028.27H793.2ZM795.37 1051.81H797.35V1037.64H795.37ZM797.53 1047.83H799.51V1033.81H797.53ZM799.69 1061.64H801.67V1050.63H799.69ZM801.85 1066.28H803.83V1057.8H801.85ZM804.02 1066.13H806V1058.8H804.02ZM806.18 1073.41H808.16V1068.47H806.18ZM808.34 1074.71H810.32V1069.04H808.34ZM810.5 1081.34H812.48V1076.15H810.5ZM812.67 1085.8H814.65V1080.23H812.67ZM814.83 1090.62H816.81V1084.8H814.83ZM816.99 1093.67H818.97V1087.52H816.99ZM819.15 1095.25H821.13V1089.76H819.15ZM821.31 1097.51H823.29V1092.9H821.31ZM823.48 1098.62H825.46V1094.36H823.48ZM825.64 1100.28H827.62V1096.43H825.64ZM827.8 1102.83H829.78V1100.02H827.8ZM829.96 1103.45H831.94V1100.56H829.96ZM832.13 1104.61H834.11V1102.07H832.13ZM834.29 1105.79H836.27V1103.5H834.29ZM836.45 1106.9H838.43V1104.84H836.45ZM838.61 1107.94H840.59V1106.22H838.61ZM840.78 1108.46H842.76V1106.97H840.78ZM842.94 1108.85H844.92V1107.56H842.94ZM845.1 1109.18H847.08V1108.07H845.1ZM847.26 1109.65H849.24V1108.72H847.26ZM849.43 1110.16H851.41V1109.47H849.43ZM851.59 1110.58H853.57V1109.97H851.59ZM853.75 1110.78H855.73V1110.26H853.75ZM855.91 1111.04H857.89V1110.59H855.91ZM858.08 1111.22H860.06V1110.82H858.08ZM860.24 1111.51H862.22V1111.2H860.24ZM862.4 1111.65H864.38V1111.38H862.4ZM864.56 1111.78H866.54V1111.55H864.56ZM866.73 1111.83H868.71V1111.62H866.73ZM868.89 1111.97H870.87V1111.79H868.89ZM871.05 1112.11H873.03V1111.97H871.05ZM873.21 1112.17H875.19V1112.05H873.21ZM875.37 1112.24H877.35V1112.14H875.37ZM877.54 1112.3H879.52V1112.22H877.54ZM879.7 1112.35H881.68V1112.28H879.7ZM881.86 1112.41H883.84V1112.36H881.86ZM884.02 1112.4H886V1112.35H884.02ZM886.19 1112.41H888.17V1112.36H886.19ZM888.35 1112.42H890.33V1112.37H888.35ZM890.51 1112.42H892.49V1112.37H890.51ZM892.67 1112.41H894.65V1112.36H892.67ZM894.84 1112.4H896.82V1112.34H894.84ZM897 1112.41H898.98V1112.36H897ZM899.16 1112.41H901.14V1112.36H899.16ZM901.32 1112.4H903.3V1112.35H901.32ZM903.49 1112.42H905.47V1112.37H903.49ZM905.65 1112.41H907.63V1112.36H905.65ZM907.81 1112.4H909.79V1112.35H907.81ZM909.97 1112.4H911.95V1112.35H909.97ZM912.14 1112.42H914.12V1112.37H912.14ZM914.3 1112.41H916.28V1112.35H914.3ZM916.46 1112.4H918.44V1112.35H916.46ZM918.62 1112.41H920.33V1112.35H918.62Z" fill="#EF8432"/>
<path d="M708.4 897.4V1112.6H920.4" fill="none" stroke="#444" stroke-width="0.9"/>
<text x="696.9" y="1118.4" font-size="16.4" text-anchor="end" textLength="9.71" lengthAdjust="spacingAndGlyphs"  >0</text>
<text x="696.9" y="1057.8" font-size="16.4" text-anchor="end" textLength="9.71" lengthAdjust="spacingAndGlyphs"  >5</text>
<text x="696.9" y="997.2" font-size="16.4" text-anchor="end" textLength="19.43" lengthAdjust="spacingAndGlyphs"  >10</text>
<text x="696.9" y="936.6" font-size="16.4" text-anchor="end" textLength="19.43" lengthAdjust="spacingAndGlyphs"  >15</text>
<text x="708.4" y="1135.4" font-size="16.4" text-anchor="middle" textLength="9.71" lengthAdjust="spacingAndGlyphs"  >0</text>
<text x="761.4" y="1135.4" font-size="16.4" text-anchor="middle" textLength="33.99" lengthAdjust="spacingAndGlyphs"  >0.25</text>
<text x="814.4" y="1135.4" font-size="16.4" text-anchor="middle" textLength="33.99" lengthAdjust="spacingAndGlyphs"  >0.50</text>
<text x="867.4" y="1135.4" font-size="16.4" text-anchor="middle" textLength="33.99" lengthAdjust="spacingAndGlyphs"  >0.75</text>
<text x="920.4" y="1135.4" font-size="16.4" text-anchor="middle" textLength="33.99" lengthAdjust="spacingAndGlyphs"  >1.00</text>
<path d="M705.6 1112.6H708.4M705.6 1052H708.4M705.6 991.4H708.4M705.6 930.8H708.4M708.4 1112.6V1115.4M761.4 1112.6V1115.4M814.4 1112.6V1115.4M867.4 1112.6V1115.4M920.4 1112.6V1115.4" stroke="#444" stroke-width="0.9" fill="none"/>
<text x="772" y="915.3" font-size="16.6" text-anchor="start" textLength="88.44" lengthAdjust="spacingAndGlyphs" font-style="italic" >X. laevis_S</text>
<text x="813.4" y="1162" font-size="16.5" text-anchor="middle" textLength="174.84" lengthAdjust="spacingAndGlyphs"  >Jukes-Cantor distance</text>
<path d="M1014.12 1112.6H1016.1V1112.03H1014.12ZM1016.28 1112.6H1018.26V1111.28H1016.28ZM1018.44 1112.6H1020.42V1110.51H1018.44ZM1020.61 1112.6H1022.59V1107.99H1020.61ZM1022.77 1112.6H1024.75V1105.63H1022.77ZM1024.93 1112.6H1026.91V1098.18H1024.93ZM1027.09 1112.6H1029.07V1088.47H1027.09ZM1029.26 1112.6H1031.24V1083.6H1029.26ZM1031.42 1112.6H1033.4V1078.08H1031.42ZM1033.58 1112.6H1035.56V1074.14H1033.58ZM1035.74 1112.6H1037.72V1067.83H1035.74ZM1037.91 1112.6H1039.89V1062.26H1037.91ZM1040.07 1112.6H1042.05V1059.97H1040.07ZM1042.23 1112.6H1044.21V1058.52H1042.23ZM1044.39 1112.6H1046.37V1060.81H1044.39ZM1046.56 1112.6H1048.54V1057.03H1046.56ZM1048.72 1112.6H1050.7V1057.89H1048.72ZM1050.88 1112.6H1052.86V1064.67H1050.88ZM1053.04 1112.6H1055.02V1061.98H1053.04ZM1055.21 1112.6H1057.19V1064.71H1055.21ZM1057.37 1112.6H1059.35V1068.26H1057.37ZM1059.53 1112.6H1061.51V1071.56H1059.53ZM1061.69 1112.6H1063.67V1070.17H1061.69ZM1063.85 1112.6H1065.83V1072.68H1063.85ZM1066.02 1112.6H1068V1074.6H1066.02ZM1068.18 1112.6H1070.16V1077.54H1068.18ZM1070.34 1112.6H1072.32V1079.1H1070.34ZM1072.5 1112.6H1074.48V1080.48H1072.5ZM1074.67 1112.6H1076.65V1085.4H1074.67ZM1076.83 1112.6H1078.81V1088.11H1076.83ZM1078.99 1112.6H1080.97V1087.41H1078.99ZM1081.15 1112.6H1083.13V1090.51H1081.15ZM1083.32 1112.6H1085.3V1090.64H1083.32ZM1085.48 1112.6H1087.46V1095.26H1085.48ZM1087.64 1112.6H1089.62V1095.36H1087.64ZM1089.8 1112.6H1091.78V1099.29H1089.8ZM1091.97 1112.6H1093.95V1099.42H1091.97ZM1094.13 1112.6H1096.11V1100.74H1094.13ZM1096.29 1112.6H1098.27V1103.32H1096.29ZM1098.45 1112.6H1100.43V1104.47H1098.45ZM1100.62 1112.6H1102.6V1104.44H1100.62ZM1102.78 1112.6H1104.76V1106.58H1102.78ZM1104.94 1112.6H1106.92V1107.24H1104.94ZM1107.1 1112.6H1109.08V1108.06H1107.1ZM1109.27 1112.6H1111.25V1108.75H1109.27ZM1111.43 1112.6H1113.41V1109.72H1111.43ZM1113.59 1112.6H1115.57V1110.53H1113.59ZM1115.75 1112.6H1117.73V1110.84H1115.75ZM1117.91 1112.6H1119.89V1111.1H1117.91ZM1120.08 1112.6H1122.06V1111.26H1120.08ZM1122.24 1112.6H1124.22V1111.43H1122.24ZM1124.4 1112.6H1126.38V1111.66H1124.4ZM1126.56 1112.6H1128.54V1111.73H1126.56ZM1128.73 1112.6H1130.71V1111.91H1128.73ZM1130.89 1112.6H1132.87V1112.02H1130.89ZM1133.05 1112.6H1135.03V1112.14H1133.05ZM1135.21 1112.6H1137.19V1112.23H1135.21ZM1137.38 1112.6H1139.36V1112.2H1137.38ZM1139.54 1112.6H1141.52V1112.16H1139.54ZM1141.7 1112.6H1143.68V1112.14H1141.7ZM1143.86 1112.6H1145.84V1112.11H1143.86ZM1146.03 1112.6H1148.01V1112.07H1146.03ZM1148.19 1112.6H1150.17V1112.11H1148.19ZM1150.35 1112.6H1152.33V1112.18H1150.35ZM1152.51 1112.6H1154.49V1112.23H1152.51ZM1154.68 1112.6H1156.66V1112.27H1154.68ZM1156.84 1112.6H1158.82V1112.33H1156.84ZM1159 1112.6H1160.98V1112.38H1159ZM1161.16 1112.6H1163.14V1112.41H1161.16ZM1163.33 1112.6H1165.31V1112.43H1163.33ZM1165.49 1112.6H1167.47V1112.46H1165.49ZM1167.65 1112.6H1169.63V1112.49H1167.65ZM1169.81 1112.6H1171.79V1112.5H1169.81ZM1171.97 1112.6H1173.95V1112.52H1171.97ZM1174.14 1112.6H1176.12V1112.53H1174.14ZM1176.3 1112.6H1178.28V1112.55H1176.3ZM1178.46 1112.6H1180.44V1112.55H1178.46ZM1180.62 1112.6H1182.6V1112.56H1180.62ZM1182.79 1112.6H1184.77V1112.55H1182.79ZM1184.95 1112.6H1186.93V1112.56H1184.95ZM1187.11 1112.6H1189.09V1112.56H1187.11ZM1189.27 1112.6H1191.25V1112.56H1189.27ZM1191.44 1112.6H1193.42V1112.56H1191.44ZM1193.6 1112.6H1195.58V1112.55H1193.6ZM1195.76 1112.6H1197.74V1112.56H1195.76ZM1197.92 1112.6H1199.9V1112.56H1197.92ZM1200.09 1112.6H1202.07V1112.56H1200.09ZM1202.25 1112.6H1204.23V1112.55H1202.25ZM1204.41 1112.6H1206.39V1112.56H1204.41ZM1206.57 1112.6H1208.55V1112.56H1206.57ZM1208.74 1112.6H1210.72V1112.56H1208.74ZM1210.9 1112.6H1212.88V1112.56H1210.9ZM1213.06 1112.6H1215.04V1112.56H1213.06ZM1215.22 1112.6H1216.93V1112.56H1215.22Z" fill="#D2352B"/>
<path d="M1005.47 1112.6H1007.45V1112.27H1005.47ZM1007.63 1112.6H1009.61V1108.22H1007.63ZM1009.79 1112.6H1011.77V1103.78H1009.79ZM1011.96 1112.6H1013.94V1099.86H1011.96ZM1014.12 1112.03H1016.1V1095.76H1014.12ZM1016.28 1111.28H1018.26V1091.12H1016.28ZM1018.44 1110.51H1020.42V1088.7H1018.44ZM1020.61 1107.99H1022.59V1083.41H1020.61ZM1022.77 1105.63H1024.75V1079.48H1022.77ZM1024.93 1098.18H1026.91V1073.38H1024.93ZM1027.09 1088.47H1029.07V1064.9H1027.09ZM1029.26 1083.6H1031.24V1060.17H1029.26ZM1031.42 1078.08H1033.4V1053.68H1031.42ZM1033.58 1074.14H1035.56V1045.15H1033.58ZM1035.74 1067.83H1037.72V1035.52H1035.74ZM1037.91 1062.26H1039.89V1025.15H1037.91ZM1040.07 1059.97H1042.05V1019.57H1040.07ZM1042.23 1058.52H1044.21V1016.75H1042.23ZM1044.39 1060.81H1046.37V1018.11H1044.39ZM1046.56 1057.03H1048.54V1015.23H1046.56ZM1048.72 1057.89H1050.7V1014.47H1048.72ZM1050.88 1064.67H1052.86V1025.02H1050.88ZM1053.04 1061.98H1055.02V1021.65H1053.04ZM1055.21 1064.71H1057.19V1026.06H1055.21ZM1057.37 1068.26H1059.35V1032.52H1057.37ZM1059.53 1071.56H1061.51V1036.71H1059.53ZM1061.69 1070.17H1063.67V1033.37H1061.69ZM1063.85 1072.68H1065.83V1039.76H1063.85ZM1066.02 1074.6H1068V1040.92H1066.02ZM1068.18 1077.54H1070.16V1045.26H1068.18ZM1070.34 1079.1H1072.32V1046.03H1070.34ZM1072.5 1080.48H1074.48V1048.92H1072.5ZM1074.67 1085.4H1076.65V1059.64H1074.67ZM1076.83 1088.11H1078.81V1062.1H1076.83ZM1078.99 1087.41H1080.97V1059.88H1078.99ZM1081.15 1090.51H1083.13V1066.66H1081.15ZM1083.32 1090.64H1085.3V1066.26H1083.32ZM1085.48 1095.26H1087.46V1075.23H1085.48ZM1087.64 1095.36H1089.62V1076.2H1087.64ZM1089.8 1099.29H1091.78V1080.63H1089.8ZM1091.97 1099.42H1093.95V1081.38H1091.97ZM1094.13 1100.74H1096.11V1083.38H1094.13ZM1096.29 1103.32H1098.27V1089.16H1096.29ZM1098.45 1104.47H1100.43V1091.65H1098.45ZM1100.62 1104.44H1102.6V1090.27H1100.62ZM1102.78 1106.58H1104.76V1095.04H1102.78ZM1104.94 1107.24H1106.92V1096.45H1104.94ZM1107.1 1108.06H1109.08V1098.39H1107.1ZM1109.27 1108.75H1111.25V1100.04H1109.27ZM1111.43 1109.72H1113.41V1102.38H1111.43ZM1113.59 1110.53H1115.57V1103.77H1113.59ZM1115.75 1110.84H1117.73V1105.07H1115.75ZM1117.91 1111.1H1119.89V1105.95H1117.91ZM1120.08 1111.26H1122.06V1106.34H1120.08ZM1122.24 1111.43H1124.22V1107.32H1122.24ZM1124.4 1111.66H1126.38V1107.67H1124.4ZM1126.56 1111.73H1128.54V1108.17H1126.56ZM1128.73 1111.91H1130.71V1108.79H1128.73ZM1130.89 1112.02H1132.87V1109.28H1130.89ZM1133.05 1112.14H1135.03V1109.79H1133.05ZM1135.21 1112.23H1137.19V1110.15H1135.21ZM1137.38 1112.2H1139.36V1110.35H1137.38ZM1139.54 1112.16H1141.52V1110.65H1139.54ZM1141.7 1112.14H1143.68V1110.85H1141.7ZM1143.86 1112.11H1145.84V1111.08H1143.86ZM1146.03 1112.07H1148.01V1111.27H1146.03ZM1148.19 1112.11H1150.17V1111.39H1148.19ZM1150.35 1112.18H1152.33V1111.59H1150.35ZM1152.51 1112.23H1154.49V1111.73H1152.51ZM1154.68 1112.27H1156.66V1111.77H1154.68ZM1156.84 1112.33H1158.82V1111.93H1156.84ZM1159 1112.38H1160.98V1112.05H1159ZM1161.16 1112.41H1163.14V1112.11H1161.16ZM1163.33 1112.43H1165.31V1112.19H1163.33ZM1165.49 1112.46H1167.47V1112.24H1165.49ZM1167.65 1112.49H1169.63V1112.34H1167.65ZM1169.81 1112.5H1171.79V1112.35H1169.81ZM1171.97 1112.52H1173.95V1112.4H1171.97ZM1174.14 1112.53H1176.12V1112.43H1174.14ZM1176.3 1112.55H1178.28V1112.46H1176.3ZM1178.46 1112.55H1180.44V1112.49H1178.46ZM1180.62 1112.56H1182.6V1112.49H1180.62ZM1182.79 1112.55H1184.77V1112.49H1182.79ZM1184.95 1112.56H1186.93V1112.49H1184.95ZM1187.11 1112.56H1189.09V1112.49H1187.11ZM1189.27 1112.56H1191.25V1112.5H1189.27ZM1191.44 1112.56H1193.42V1112.49H1191.44ZM1193.6 1112.55H1195.58V1112.49H1193.6ZM1195.76 1112.56H1197.74V1112.49H1195.76ZM1197.92 1112.56H1199.9V1112.5H1197.92ZM1200.09 1112.56H1202.07V1112.49H1200.09ZM1202.25 1112.55H1204.23V1112.49H1202.25ZM1204.41 1112.56H1206.39V1112.49H1204.41ZM1206.57 1112.56H1208.55V1112.49H1206.57ZM1208.74 1112.56H1210.72V1112.5H1208.74ZM1210.9 1112.56H1212.88V1112.49H1210.9ZM1213.06 1112.56H1215.04V1112.49H1213.06ZM1215.22 1112.56H1216.93V1112.5H1215.22Z" fill="#477DB4"/>
<path d="M1005.47 1112.27H1007.45V1111.91H1005.47ZM1007.63 1108.22H1009.61V1105.14H1007.63ZM1009.79 1103.78H1011.77V1094.27H1009.79ZM1011.96 1099.86H1013.94V1073.94H1011.96ZM1014.12 1095.76H1016.1V1070.38H1014.12ZM1016.28 1091.12H1018.26V1064.61H1016.28ZM1018.44 1088.7H1020.42V1059.81H1018.44ZM1020.61 1083.41H1022.59V1052.64H1020.61ZM1022.77 1079.48H1024.75V1048.53H1022.77ZM1024.93 1073.38H1026.91V1042.31H1024.93ZM1027.09 1064.9H1029.07V1032.63H1027.09ZM1029.26 1060.17H1031.24V1025.79H1029.26ZM1031.42 1053.68H1033.4V1017.5H1031.42ZM1033.58 1045.15H1035.56V1016.21H1033.58ZM1035.74 1035.52H1037.72V1011.3H1035.74ZM1037.91 1025.15H1039.89V1004.58H1037.91ZM1040.07 1019.57H1042.05V997.18H1040.07ZM1042.23 1016.75H1044.21V989.4H1042.23ZM1044.39 1018.11H1046.37V988.62H1044.39ZM1046.56 1015.23H1048.54V978.16H1046.56ZM1048.72 1014.47H1050.7V977.24H1048.72ZM1050.88 1025.02H1052.86V988.55H1050.88ZM1053.04 1021.65H1055.02V985.36H1053.04ZM1055.21 1026.06H1057.19V992.87H1055.21ZM1057.37 1032.52H1059.35V1000.4H1057.37ZM1059.53 1036.71H1061.51V1004.53H1059.53ZM1061.69 1033.37H1063.67V998.43H1061.69ZM1063.85 1039.76H1065.83V1006.42H1063.85ZM1066.02 1040.92H1068V1009.78H1066.02ZM1068.18 1045.26H1070.16V1015.12H1068.18ZM1070.34 1046.03H1072.32V1013.63H1070.34ZM1072.5 1048.92H1074.48V1016.72H1072.5ZM1074.67 1059.64H1076.65V1032.59H1074.67ZM1076.83 1062.1H1078.81V1035.45H1076.83ZM1078.99 1059.88H1080.97V1030.68H1078.99ZM1081.15 1066.66H1083.13V1041.48H1081.15ZM1083.32 1066.26H1085.3V1039.86H1083.32ZM1085.48 1075.23H1087.46V1056.16H1085.48ZM1087.64 1076.2H1089.62V1056.88H1087.64ZM1089.8 1080.63H1091.78V1064.01H1089.8ZM1091.97 1081.38H1093.95V1066.63H1091.97ZM1094.13 1083.38H1096.11V1069.31H1094.13ZM1096.29 1089.16H1098.27V1076.87H1096.29ZM1098.45 1091.65H1100.43V1079.6H1098.45ZM1100.62 1090.27H1102.6V1077.65H1100.62ZM1102.78 1095.04H1104.76V1083.7H1102.78ZM1104.94 1096.45H1106.92V1086.73H1104.94ZM1107.1 1098.39H1109.08V1089.9H1107.1ZM1109.27 1100.04H1111.25V1092.34H1109.27ZM1111.43 1102.38H1113.41V1096.17H1111.43ZM1113.59 1103.77H1115.57V1098.88H1113.59ZM1115.75 1105.07H1117.73V1100.67H1115.75ZM1117.91 1105.95H1119.89V1101.79H1117.91ZM1120.08 1106.34H1122.06V1102.8H1120.08ZM1122.24 1107.32H1124.22V1104.08H1122.24ZM1124.4 1107.67H1126.38V1104.53H1124.4ZM1126.56 1108.17H1128.54V1105.55H1126.56ZM1128.73 1108.79H1130.71V1106.6H1128.73ZM1130.89 1109.28H1132.87V1107.49H1130.89ZM1133.05 1109.79H1135.03V1108.3H1133.05ZM1135.21 1110.15H1137.19V1108.97H1135.21ZM1137.38 1110.35H1139.36V1109.27H1137.38ZM1139.54 1110.65H1141.52V1109.72H1139.54ZM1141.7 1110.85H1143.68V1110.11H1141.7ZM1143.86 1111.08H1145.84V1110.48H1143.86ZM1146.03 1111.27H1148.01V1110.78H1146.03ZM1148.19 1111.39H1150.17V1110.94H1148.19ZM1150.35 1111.59H1152.33V1111.2H1150.35ZM1152.51 1111.73H1154.49V1111.4H1152.51ZM1154.68 1111.77H1156.66V1111.48H1154.68ZM1156.84 1111.93H1158.82V1111.69H1156.84ZM1159 1112.05H1160.98V1111.86H1159ZM1161.16 1112.11H1163.14V1111.92H1161.16ZM1163.33 1112.19H1165.31V1112.03H1163.33ZM1165.49 1112.24H1167.47V1112.1H1165.49ZM1167.65 1112.34H1169.63V1112.25H1167.65ZM1169.81 1112.35H1171.79V1112.26H1169.81ZM1171.97 1112.4H1173.95V1112.32H1171.97ZM1174.14 1112.43H1176.12V1112.37H1174.14ZM1176.3 1112.46H1178.28V1112.41H1176.3ZM1178.46 1112.49H1180.44V1112.45H1178.46ZM1180.62 1112.49H1182.6V1112.45H1180.62ZM1182.79 1112.49H1184.77V1112.45H1182.79ZM1184.95 1112.49H1186.93V1112.45H1184.95ZM1187.11 1112.49H1189.09V1112.45H1187.11ZM1189.27 1112.5H1191.25V1112.46H1189.27ZM1191.44 1112.49H1193.42V1112.44H1191.44ZM1193.6 1112.49H1195.58V1112.45H1193.6ZM1195.76 1112.49H1197.74V1112.45H1195.76ZM1197.92 1112.5H1199.9V1112.46H1197.92ZM1200.09 1112.49H1202.07V1112.45H1200.09ZM1202.25 1112.49H1204.23V1112.45H1202.25ZM1204.41 1112.49H1206.39V1112.45H1204.41ZM1206.57 1112.49H1208.55V1112.45H1206.57ZM1208.74 1112.5H1210.72V1112.46H1208.74ZM1210.9 1112.49H1212.88V1112.45H1210.9ZM1213.06 1112.49H1215.04V1112.45H1213.06ZM1215.22 1112.5H1216.93V1112.46H1215.22Z" fill="#62A956"/>
<path d="M1005.47 1111.91H1007.45V1111.69H1005.47ZM1007.63 1105.14H1009.61V1102.68H1007.63ZM1009.79 1094.27H1011.77V1088.8H1009.79ZM1011.96 1073.94H1013.94V1066.51H1011.96ZM1014.12 1070.38H1016.1V1056.41H1014.12ZM1016.28 1064.61H1018.26V1051.51H1016.28ZM1018.44 1059.81H1020.42V1046.79H1018.44ZM1020.61 1052.64H1022.59V1040.28H1020.61ZM1022.77 1048.53H1024.75V1036.16H1022.77ZM1024.93 1042.31H1026.91V1028.82H1024.93ZM1027.09 1032.63H1029.07V1016.88H1027.09ZM1029.26 1025.79H1031.24V1003.85H1029.26ZM1031.42 1017.5H1033.4V991.94H1031.42ZM1033.58 1016.21H1035.56V989.45H1033.58ZM1035.74 1011.3H1037.72V982.01H1035.74ZM1037.91 1004.58H1039.89V973.04H1037.91ZM1040.07 997.18H1042.05V966.68H1040.07ZM1042.23 989.4H1044.21V953.79H1042.23ZM1044.39 988.62H1046.37V952.56H1044.39ZM1046.56 978.16H1048.54V942.08H1046.56ZM1048.72 977.24H1050.7V941.93H1048.72ZM1050.88 988.55H1052.86V951.76H1050.88ZM1053.04 985.36H1055.02V945.49H1053.04ZM1055.21 992.87H1057.19V953.85H1055.21ZM1057.37 1000.4H1059.35V961.01H1057.37ZM1059.53 1004.53H1061.51V966.15H1059.53ZM1061.69 998.43H1063.67V957.67H1061.69ZM1063.85 1006.42H1065.83V965.38H1063.85ZM1066.02 1009.78H1068V969.46H1066.02ZM1068.18 1015.12H1070.16V978.75H1068.18ZM1070.34 1013.63H1072.32V974.65H1070.34ZM1072.5 1016.72H1074.48V979.16H1072.5ZM1074.67 1032.59H1076.65V1004.62H1074.67ZM1076.83 1035.45H1078.81V1009.53H1076.83ZM1078.99 1030.68H1080.97V1003.98H1078.99ZM1081.15 1041.48H1083.13V1019.61H1081.15ZM1083.32 1039.86H1085.3V1017.32H1083.32ZM1085.48 1056.16H1087.46V1038.5H1085.48ZM1087.64 1056.88H1089.62V1038.47H1087.64ZM1089.8 1064.01H1091.78V1048.07H1089.8ZM1091.97 1066.63H1093.95V1051.69H1091.97ZM1094.13 1069.31H1096.11V1054.36H1094.13ZM1096.29 1076.87H1098.27V1064.73H1096.29ZM1098.45 1079.6H1100.43V1069.41H1098.45ZM1100.62 1077.65H1102.6V1067.25H1100.62ZM1102.78 1083.7H1104.76V1074.83H1102.78ZM1104.94 1086.73H1106.92V1078.34H1104.94ZM1107.1 1089.9H1109.08V1082.24H1107.1ZM1109.27 1092.34H1111.25V1085.61H1109.27ZM1111.43 1096.17H1113.41V1090.1H1111.43ZM1113.59 1098.88H1115.57V1093.16H1113.59ZM1115.75 1100.67H1117.73V1096H1115.75ZM1117.91 1101.79H1119.89V1097.76H1117.91ZM1120.08 1102.8H1122.06V1099.32H1120.08ZM1122.24 1104.08H1124.22V1101.09H1122.24ZM1124.4 1104.53H1126.38V1101.94H1124.4ZM1126.56 1105.55H1128.54V1103.4H1126.56ZM1128.73 1106.6H1130.71V1104.71H1128.73ZM1130.89 1107.49H1132.87V1105.96H1130.89ZM1133.05 1108.3H1135.03V1106.88H1133.05ZM1135.21 1108.97H1137.19V1107.71H1135.21ZM1137.38 1109.27H1139.36V1108.18H1137.38ZM1139.54 1109.72H1141.52V1108.82H1139.54ZM1141.7 1110.11H1143.68V1109.38H1141.7ZM1143.86 1110.48H1145.84V1109.88H1143.86ZM1146.03 1110.78H1148.01V1110.28H1146.03ZM1148.19 1110.94H1150.17V1110.52H1148.19ZM1150.35 1111.2H1152.33V1110.84H1150.35ZM1152.51 1111.4H1154.49V1111.09H1152.51ZM1154.68 1111.48H1156.66V1111.21H1154.68ZM1156.84 1111.69H1158.82V1111.46H1156.84ZM1159 1111.86H1160.98V1111.67H1159ZM1161.16 1111.92H1163.14V1111.75H1161.16ZM1163.33 1112.03H1165.31V1111.88H1163.33ZM1165.49 1112.1H1167.47V1111.98H1165.49ZM1167.65 1112.25H1169.63V1112.15H1167.65ZM1169.81 1112.26H1171.79V1112.17H1169.81ZM1171.97 1112.32H1173.95V1112.25H1171.97ZM1174.14 1112.37H1176.12V1112.31H1174.14ZM1176.3 1112.41H1178.28V1112.36H1176.3ZM1178.46 1112.45H1180.44V1112.41H1178.46ZM1180.62 1112.45H1182.6V1112.41H1180.62ZM1182.79 1112.45H1184.77V1112.41H1182.79ZM1184.95 1112.45H1186.93V1112.42H1184.95ZM1187.11 1112.45H1189.09V1112.41H1187.11ZM1189.27 1112.46H1191.25V1112.42H1189.27ZM1191.44 1112.44H1193.42V1112.41H1191.44ZM1193.6 1112.45H1195.58V1112.41H1193.6ZM1195.76 1112.45H1197.74V1112.42H1195.76ZM1197.92 1112.46H1199.9V1112.42H1197.92ZM1200.09 1112.45H1202.07V1112.41H1200.09ZM1202.25 1112.45H1204.23V1112.41H1202.25ZM1204.41 1112.45H1206.39V1112.42H1204.41ZM1206.57 1112.45H1208.55V1112.41H1206.57ZM1208.74 1112.46H1210.72V1112.43H1208.74ZM1210.9 1112.45H1212.88V1112.41H1210.9ZM1213.06 1112.45H1215.04V1112.42H1213.06ZM1215.22 1112.46H1216.93V1112.42H1215.22Z" fill="#8C529F"/>
<path d="M1005.47 1111.69H1007.45V1111.47H1005.47ZM1007.63 1102.68H1009.61V1099.6H1007.63ZM1009.79 1088.8H1011.77V1086.56H1009.79ZM1011.96 1066.51H1013.94V1064.05H1011.96ZM1014.12 1056.41H1016.1V1039.63H1014.12ZM1016.28 1051.51H1018.26V1035.4H1016.28ZM1018.44 1046.79H1020.42V1029.19H1018.44ZM1020.61 1040.28H1022.59V1024.91H1020.61ZM1022.77 1036.16H1024.75V1024.19H1022.77ZM1024.93 1028.82H1026.91V1016.56H1024.93ZM1027.09 1016.88H1029.07V1005.24H1027.09ZM1029.26 1003.85H1031.24V981.73H1029.26ZM1031.42 991.94H1033.4V956.47H1031.42ZM1033.58 989.45H1035.56V950.24H1033.58ZM1035.74 982.01H1037.72V938.54H1035.74ZM1037.91 973.04H1039.89V919.53H1037.91ZM1040.07 966.68H1042.05V920.51H1040.07ZM1042.23 953.79H1044.21V909.43H1042.23ZM1044.39 952.56H1046.37V908.21H1044.39ZM1046.56 942.08H1048.54V902.37H1046.56ZM1048.72 941.93H1050.7V903.69H1048.72ZM1050.88 951.76H1052.86V916.2H1050.88ZM1053.04 945.49H1055.02V908.93H1053.04ZM1055.21 953.85H1057.19V918.04H1055.21ZM1057.37 961.01H1059.35V928.2H1057.37ZM1059.53 966.15H1061.51V931.75H1059.53ZM1061.69 957.67H1063.67V925.14H1061.69ZM1063.85 965.38H1065.83V936.01H1063.85ZM1066.02 969.46H1068V943.62H1066.02ZM1068.18 978.75H1070.16V955.24H1068.18ZM1070.34 974.65H1072.32V953.1H1070.34ZM1072.5 979.16H1074.48V956.83H1072.5ZM1074.67 1004.62H1076.65V983.38H1074.67ZM1076.83 1009.53H1078.81V987.39H1076.83ZM1078.99 1003.98H1080.97V980.46H1078.99ZM1081.15 1019.61H1083.13V995.84H1081.15ZM1083.32 1017.32H1085.3V993.6H1083.32ZM1085.48 1038.5H1087.46V1019.3H1085.48ZM1087.64 1038.47H1089.62V1020.06H1087.64ZM1089.8 1048.07H1091.78V1032.69H1089.8ZM1091.97 1051.69H1093.95V1037.39H1091.97ZM1094.13 1054.36H1096.11V1040.96H1094.13ZM1096.29 1064.73H1098.27V1054.62H1096.29ZM1098.45 1069.41H1100.43V1060.83H1098.45ZM1100.62 1067.25H1102.6V1058.57H1100.62ZM1102.78 1074.83H1104.76V1068.53H1102.78ZM1104.94 1078.34H1106.92V1072.45H1104.94ZM1107.1 1082.24H1109.08V1076.32H1107.1ZM1109.27 1085.61H1111.25V1079.93H1109.27ZM1111.43 1090.1H1113.41V1084.7H1111.43ZM1113.59 1093.16H1115.57V1087.8H1113.59ZM1115.75 1096H1117.73V1091.34H1115.75ZM1117.91 1097.76H1119.89V1093.1H1117.91ZM1120.08 1099.32H1122.06V1094.99H1120.08ZM1122.24 1101.09H1124.22V1097.47H1122.24ZM1124.4 1101.94H1126.38V1098.29H1124.4ZM1126.56 1103.4H1128.54V1100.12H1126.56ZM1128.73 1104.71H1130.71V1102.04H1128.73ZM1130.89 1105.96H1132.87V1103.62H1130.89ZM1133.05 1106.88H1135.03V1104.72H1133.05ZM1135.21 1107.71H1137.19V1105.93H1135.21ZM1137.38 1108.18H1139.36V1106.61H1137.38ZM1139.54 1108.82H1141.52V1107.49H1139.54ZM1141.7 1109.38H1143.68V1108.26H1141.7ZM1143.86 1109.88H1145.84V1109.06H1143.86ZM1146.03 1110.28H1148.01V1109.62H1146.03ZM1148.19 1110.52H1150.17V1109.94H1148.19ZM1150.35 1110.84H1152.33V1110.33H1150.35ZM1152.51 1111.09H1154.49V1110.64H1152.51ZM1154.68 1111.21H1156.66V1110.83H1154.68ZM1156.84 1111.46H1158.82V1111.13H1156.84ZM1159 1111.67H1160.98V1111.4H1159ZM1161.16 1111.75H1163.14V1111.5H1161.16ZM1163.33 1111.88H1165.31V1111.68H1163.33ZM1165.49 1111.98H1167.47V1111.81H1165.49ZM1167.65 1112.15H1169.63V1112.02H1167.65ZM1169.81 1112.17H1171.79V1112.06H1169.81ZM1171.97 1112.25H1173.95V1112.15H1171.97ZM1174.14 1112.31H1176.12V1112.23H1174.14ZM1176.3 1112.36H1178.28V1112.3H1176.3ZM1178.46 1112.41H1180.44V1112.36H1178.46ZM1180.62 1112.41H1182.6V1112.36H1180.62ZM1182.79 1112.41H1184.77V1112.35H1182.79ZM1184.95 1112.42H1186.93V1112.37H1184.95ZM1187.11 1112.41H1189.09V1112.36H1187.11ZM1189.27 1112.42H1191.25V1112.37H1189.27ZM1191.44 1112.41H1193.42V1112.35H1191.44ZM1193.6 1112.41H1195.58V1112.35H1193.6ZM1195.76 1112.42H1197.74V1112.36H1195.76ZM1197.92 1112.42H1199.9V1112.37H1197.92ZM1200.09 1112.41H1202.07V1112.36H1200.09ZM1202.25 1112.41H1204.23V1112.36H1202.25ZM1204.41 1112.42H1206.39V1112.37H1204.41ZM1206.57 1112.41H1208.55V1112.36H1206.57ZM1208.74 1112.43H1210.72V1112.38H1208.74ZM1210.9 1112.41H1212.88V1112.36H1210.9ZM1213.06 1112.42H1215.04V1112.36H1213.06ZM1215.22 1112.42H1216.93V1112.37H1215.22Z" fill="#EF8432"/>
<path d="M1005 894.8V1112.6H1217" fill="none" stroke="#444" stroke-width="0.9"/>
<text x="993.5" y="1118.4" font-size="16.4" text-anchor="end" textLength="9.71" lengthAdjust="spacingAndGlyphs"  >0</text>
<text x="993.5" y="1059.3" font-size="16.4" text-anchor="end" textLength="9.71" lengthAdjust="spacingAndGlyphs"  >5</text>
<text x="993.5" y="1000.2" font-size="16.4" text-anchor="end" textLength="19.43" lengthAdjust="spacingAndGlyphs"  >10</text>
<text x="993.5" y="941.1" font-size="16.4" text-anchor="end" textLength="19.43" lengthAdjust="spacingAndGlyphs"  >15</text>
<text x="1005" y="1135.4" font-size="16.4" text-anchor="middle" textLength="9.71" lengthAdjust="spacingAndGlyphs"  >0</text>
<text x="1058" y="1135.4" font-size="16.4" text-anchor="middle" textLength="33.99" lengthAdjust="spacingAndGlyphs"  >0.25</text>
<text x="1111" y="1135.4" font-size="16.4" text-anchor="middle" textLength="33.99" lengthAdjust="spacingAndGlyphs"  >0.50</text>
<text x="1164" y="1135.4" font-size="16.4" text-anchor="middle" textLength="33.99" lengthAdjust="spacingAndGlyphs"  >0.75</text>
<text x="1217" y="1135.4" font-size="16.4" text-anchor="middle" textLength="33.99" lengthAdjust="spacingAndGlyphs"  >1.00</text>
<path d="M1002.2 1112.6H1005M1002.2 1053.5H1005M1002.2 994.4H1005M1002.2 935.3H1005M1005 1112.6V1115.4M1058 1112.6V1115.4M1111 1112.6V1115.4M1164 1112.6V1115.4M1217 1112.6V1115.4" stroke="#444" stroke-width="0.9" fill="none"/>
<text x="1073" y="915.3" font-size="16.6" text-anchor="start" textLength="86.48" lengthAdjust="spacingAndGlyphs" font-style="italic" >X. laevis_L</text>
<text x="1110" y="1162" font-size="16.5" text-anchor="middle" textLength="174.84" lengthAdjust="spacingAndGlyphs"  >Jukes-Cantor distance</text>
<text transform="translate(87.5 740) rotate(-90)" font-size="16.5" text-anchor="middle" textLength="89.88" lengthAdjust="spacingAndGlyphs">Percentage</text>
<text transform="translate(87.5 1001) rotate(-90)" font-size="16.5" text-anchor="middle" textLength="89.88" lengthAdjust="spacingAndGlyphs">Percentage</text>
<text x="1184.5" y="674.5" font-size="17" text-anchor="middle" textLength="48.3" lengthAdjust="spacingAndGlyphs"  >Types</text>
<path d="M1147.5 681.5H1222" stroke="#333" stroke-width="1"/>
<rect x="1147.8" y="685.6" width="18.3" height="16.1" fill="#D2352B"/>
<text x="1173.3" y="698.9" font-size="14.5" text-anchor="start" textLength="41.19" lengthAdjust="spacingAndGlyphs"  >LARD</text>
<rect x="1147.8" y="705.65" width="18.3" height="16.1" fill="#477DB4"/>
<text x="1173.3" y="718.95" font-size="14.5" text-anchor="start" textLength="34.33" lengthAdjust="spacingAndGlyphs"  >LINE</text>
<rect x="1147.8" y="725.7" width="18.3" height="16.1" fill="#62A956"/>
<text x="1173.3" y="739" font-size="14.5" text-anchor="start" textLength="28.03" lengthAdjust="spacingAndGlyphs"  >LTR</text>
<rect x="1147.8" y="745.75" width="18.3" height="16.1" fill="#8C529F"/>
<text x="1173.3" y="759.05" font-size="14.5" text-anchor="start" textLength="29.19" lengthAdjust="spacingAndGlyphs"  >PLE</text>
<rect x="1147.8" y="765.8" width="18.3" height="16.1" fill="#EF8432"/>
<text x="1173.3" y="779.1" font-size="14.5" text-anchor="start" textLength="24.88" lengthAdjust="spacingAndGlyphs"  >TIR</text>
</g>
<g font-family="Liberation Sans, sans-serif" font-weight="bold" font-size="26.5" fill="#000">
<text x="36.7" y="26.9">a</text><text x="631" y="28">b</text><text x="36.7" y="636.4">c</text></g>
<rect x="0" y="1138" width="1269" height="33" fill="url(#botg)"/>
</svg>
</body></html>
